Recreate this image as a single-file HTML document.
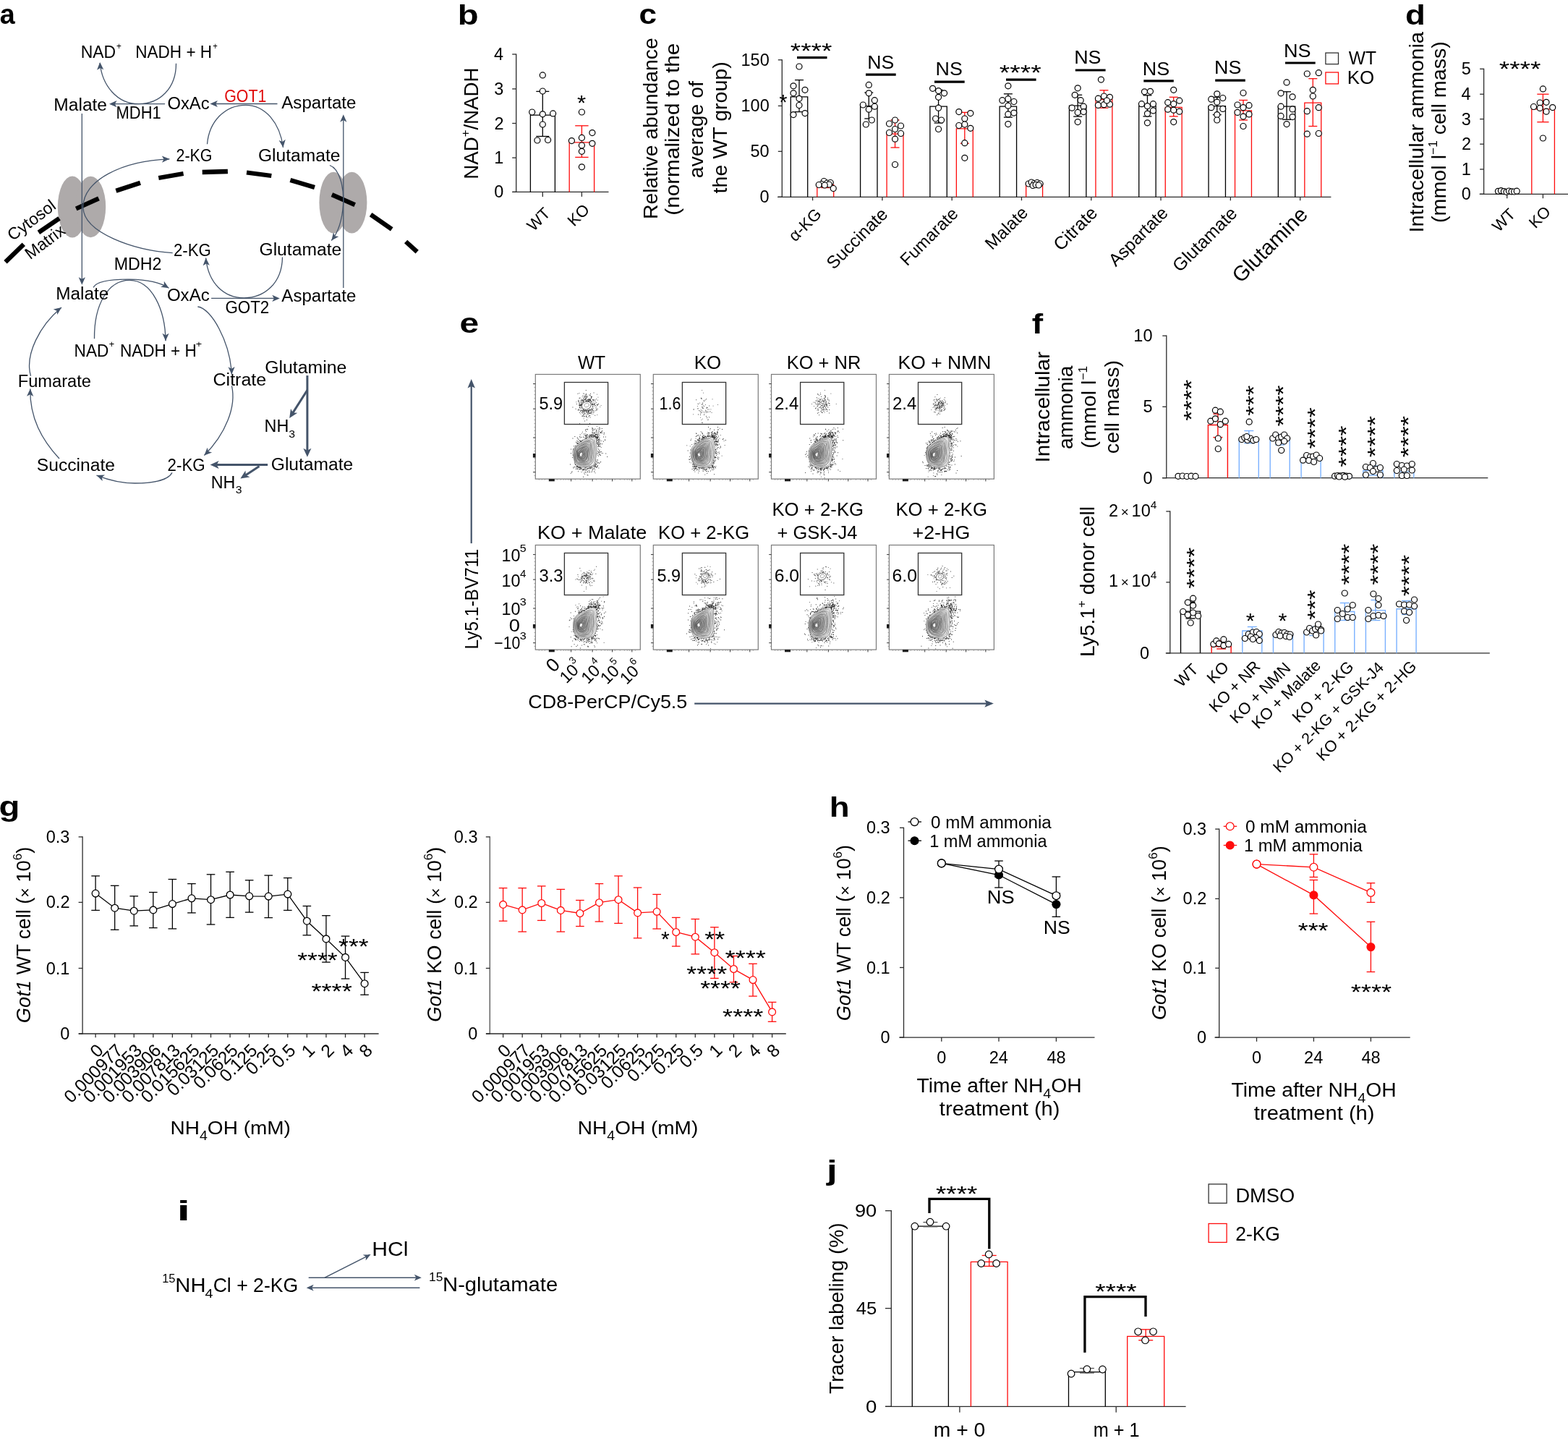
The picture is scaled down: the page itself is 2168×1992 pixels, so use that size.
<!DOCTYPE html>
<html><head><meta charset="utf-8"><title>Figure</title><style>html,body{margin:0;padding:0;background:#fff;}svg{display:block;}</style></head><body>
<svg width="2168" height="1992" viewBox="0 0 2168 1992" font-family='"Liberation Sans", Arial, Helvetica, sans-serif'>
<rect width="2168" height="1992" fill="#fff"/>
<ellipse cx="100.0" cy="286" rx="20.2" ry="42.6" fill="#AEAAAA"/>
<ellipse cx="125.3" cy="286" rx="20.9" ry="42.3" fill="#AEAAAA"/>
<ellipse cx="461.1" cy="280.1" rx="19.7" ry="42.4" fill="#AEAAAA"/>
<ellipse cx="486.5" cy="280.1" rx="20.9" ry="42.4" fill="#AEAAAA"/>
<line x1="7.5" y1="362.3" x2="32.8" y2="337.7" stroke="#000" stroke-width="6.3" stroke-linecap="butt"/>
<line x1="53.4" y1="321.3" x2="82" y2="301.9" stroke="#000" stroke-width="6.3" stroke-linecap="butt"/>
<line x1="105.2" y1="288.5" x2="136.5" y2="274.3" stroke="#000" stroke-width="6.3" stroke-linecap="butt"/>
<line x1="160.4" y1="263.8" x2="194" y2="252.7" stroke="#000" stroke-width="6.3" stroke-linecap="butt"/>
<line x1="219.3" y1="246" x2="253.6" y2="240" stroke="#000" stroke-width="6.3" stroke-linecap="butt"/>
<line x1="279.7" y1="238" x2="314.9" y2="237" stroke="#000" stroke-width="6.3" stroke-linecap="butt"/>
<line x1="341" y1="238.5" x2="375.3" y2="243" stroke="#000" stroke-width="6.3" stroke-linecap="butt"/>
<line x1="401.4" y1="248.9" x2="435" y2="258.9" stroke="#000" stroke-width="6.3" stroke-linecap="butt"/>
<line x1="458.9" y1="269.1" x2="490.7" y2="283.2" stroke="#000" stroke-width="6.3" stroke-linecap="butt"/>
<line x1="512.6" y1="296.7" x2="541.7" y2="316.8" stroke="#000" stroke-width="6.3" stroke-linecap="butt"/>
<line x1="561.1" y1="334" x2="576.7" y2="348.1" stroke="#000" stroke-width="6.3" stroke-linecap="butt"/>
<path d="M243.5,87.7 C243.5,122 221,143.7 191.6,143.7 C162,143.7 141,118 138.2,87" fill="none" stroke="#44546A" stroke-width="1.3"/><polygon points="138.2,86 143.25,96.29 138.54,93.89 134.05,96.69" fill="#44546A"/>
<line x1="228.1" y1="143.7" x2="158.4" y2="143.7" stroke="#44546A" stroke-width="1.3" stroke-linecap="butt"/><polygon points="151,143.7 161.5,139.1 158.9,143.7 161.5,148.3" fill="#44546A"/>
<line x1="383.5" y1="143.5" x2="297.8" y2="143.5" stroke="#44546A" stroke-width="1.3" stroke-linecap="butt"/><polygon points="290.4,143.5 300.9,138.9 298.3,143.5 300.9,148.1" fill="#44546A"/>
<path d="M286.5,199.3 C289,168 311,145.3 339.6,145.3 C367,145.3 387,170 391.5,203.8" fill="none" stroke="#44546A" stroke-width="1.3"/><polygon points="391.5,203.8 385.62,193.96 390.51,195.96 394.74,192.81" fill="#44546A"/>
<line x1="113.3" y1="157.1" x2="113.3" y2="386.3" stroke="#44546A" stroke-width="1.3" stroke-linecap="butt"/><polygon points="113.3,393.7 108.7,383.2 113.3,385.8 117.9,383.2" fill="#44546A"/>
<line x1="474.8" y1="397.9" x2="474.8" y2="165.6" stroke="#44546A" stroke-width="1.3" stroke-linecap="butt"/><polygon points="474.8,158.2 479.4,168.7 474.8,166.1 470.2,168.7" fill="#44546A"/>
<path d="M238.7,349.6 C185,346 116,322 114.9,287 C114,250 168,222 234.4,219.8" fill="none" stroke="#44546A" stroke-width="1.3"/><polygon points="234.4,219.8 224.01,224.65 226.5,219.99 223.79,215.45" fill="#44546A"/>
<path d="M455.9,228.5 C469,233 476,258 474.5,283 C473,305 467,322 458.3,332.5" fill="none" stroke="#44546A" stroke-width="1.3"/><polygon points="458.3,332.5 460.99,321.36 463.08,326.21 468.32,326.92" fill="#44546A"/>
<path d="M129,397.4 C134,388 158,386 179,386.2 C201,386.5 221,390 233.5,398.2" fill="none" stroke="#44546A" stroke-width="1.3"/><polygon points="233.5,398.2 222.13,396.74 226.73,394.14 226.86,388.85" fill="#44546A"/>
<path d="M130.5,468.3 C130,420 150,387.4 179,387.4 C210,387.4 228.5,428 229,471.3" fill="none" stroke="#44546A" stroke-width="1.3"/><polygon points="229,471.3 224.4,460.8 229,463.4 233.6,460.8" fill="#44546A"/>
<path d="M390.5,355.4 C390,392 365,411.8 337.6,411.8 C310,411.8 288,392 284.6,356.5" fill="none" stroke="#44546A" stroke-width="1.3"/><polygon points="284.6,356.5 289.8,366.72 285.06,364.39 280.62,367.25" fill="#44546A"/>
<line x1="292.1" y1="412.4" x2="379.4" y2="412.4" stroke="#44546A" stroke-width="1.3" stroke-linecap="butt"/><polygon points="386.8,412.4 376.3,417 378.9,412.4 376.3,407.8" fill="#44546A"/>
<path d="M273.4,424 C292,426 318,472 320.4,517.6" fill="none" stroke="#44546A" stroke-width="1.3"/><polygon points="320.4,517.6 315.47,507.25 320.15,509.7 324.66,506.96" fill="#44546A"/>
<path d="M320.4,533.3 C327,562 312,600 282.4,629.5" fill="none" stroke="#44546A" stroke-width="1.3"/><polygon points="282.4,629.5 286.62,618.84 288.01,623.94 293.1,625.38" fill="#44546A"/>
<path d="M238,653.4 C232,665 207,668 186.5,668 C166,668 146,662 133.5,657.1" fill="none" stroke="#44546A" stroke-width="1.3"/><polygon points="133.5,657.1 144.94,656.44 140.91,659.85 141.74,665.07" fill="#44546A"/>
<path d="M82,634 C58,608 41,578 41.8,537.4" fill="none" stroke="#44546A" stroke-width="1.3"/><polygon points="41.8,537.4 46.26,547.96 41.69,545.3 37.06,547.84" fill="#44546A"/>
<path d="M42.5,519.8 C34,490 55,450 85,425" fill="none" stroke="#44546A" stroke-width="1.3"/><polygon points="85,425 79.21,434.9 78.61,429.65 73.8,427.46" fill="#44546A"/>
<line x1="424.9" y1="519.1" x2="424.9" y2="623.2" stroke="#44546A" stroke-width="3" stroke-linecap="butt"/><polygon points="424.9,631.7 419.4,619.7 424.9,622.7 430.4,619.7" fill="#44546A"/>
<line x1="424.9" y1="539.2" x2="404.76" y2="570.83" stroke="#44546A" stroke-width="3" stroke-linecap="butt"/><polygon points="400.2,578 402,564.92 405.03,570.41 411.28,570.83" fill="#44546A"/>
<line x1="370.1" y1="642.5" x2="299.1" y2="642.5" stroke="#44546A" stroke-width="3" stroke-linecap="butt"/><polygon points="290.6,642.5 302.6,637 299.6,642.5 302.6,648" fill="#44546A"/>
<line x1="358.5" y1="644.4" x2="339.5" y2="656.92" stroke="#44546A" stroke-width="3" stroke-linecap="butt"/><polygon points="332.4,661.6 339.39,650.4 339.91,656.65 345.45,659.59" fill="#44546A"/>
<text x="111.77" y="80.4" font-size="23" fill="#000" textLength="48.4" lengthAdjust="spacingAndGlyphs">NAD</text>
<text x="160.91" y="67.8" font-size="13.5" fill="#000" textLength="6.86" lengthAdjust="spacingAndGlyphs">+</text>
<text x="187.3" y="80.3" font-size="23" fill="#000" textLength="105.81" lengthAdjust="spacingAndGlyphs">NADH + H</text>
<text x="294.34" y="67.6" font-size="13.5" fill="#000" textLength="6.5" lengthAdjust="spacingAndGlyphs">+</text>
<text x="74.34" y="152.6" font-size="23" fill="#000" textLength="73.71" lengthAdjust="spacingAndGlyphs">Malate</text>
<text x="160.55" y="164" font-size="23" fill="#000" textLength="62.12" lengthAdjust="spacingAndGlyphs">MDH1</text>
<text x="231.43" y="150.6" font-size="23" fill="#000" textLength="58.16" lengthAdjust="spacingAndGlyphs">OxAc</text>
<text x="310.23" y="141.1" font-size="23" fill="#E00A0A" textLength="58.19" lengthAdjust="spacingAndGlyphs">GOT1</text>
<text x="389.28" y="150.3" font-size="23" fill="#000" textLength="103.21" lengthAdjust="spacingAndGlyphs">Aspartate</text>
<text x="243.53" y="223.3" font-size="23" fill="#000" textLength="49.95" lengthAdjust="spacingAndGlyphs">2-KG</text>
<text x="356.97" y="222.8" font-size="23" fill="#000" textLength="113.52" lengthAdjust="spacingAndGlyphs">Glutamate</text>
<text x="239.89" y="354.1" font-size="23" fill="#000" textLength="51.96" lengthAdjust="spacingAndGlyphs">2-KG</text>
<text x="358.47" y="353" font-size="23" fill="#000" textLength="113.72" lengthAdjust="spacingAndGlyphs">Glutamate</text>
<text x="157.74" y="372.8" font-size="23" fill="#000" textLength="65.8" lengthAdjust="spacingAndGlyphs">MDH2</text>
<text x="77.15" y="413.8" font-size="23" fill="#000" textLength="73.18" lengthAdjust="spacingAndGlyphs">Malate</text>
<text x="230.92" y="416" font-size="23" fill="#000" textLength="58.78" lengthAdjust="spacingAndGlyphs">OxAc</text>
<text x="389.38" y="416.5" font-size="23" fill="#000" textLength="102.91" lengthAdjust="spacingAndGlyphs">Aspartate</text>
<text x="311.38" y="433" font-size="23" fill="#000" textLength="60.9" lengthAdjust="spacingAndGlyphs">GOT2</text>
<text x="102.59" y="492.9" font-size="23" fill="#000" textLength="47.65" lengthAdjust="spacingAndGlyphs">NAD</text>
<text x="150.76" y="480" font-size="13.5" fill="#000" textLength="7.47" lengthAdjust="spacingAndGlyphs">+</text>
<text x="166" y="492.9" font-size="23" fill="#000" textLength="105.81" lengthAdjust="spacingAndGlyphs">NADH + H</text>
<text x="270.78" y="480" font-size="13.5" fill="#000" textLength="8.43" lengthAdjust="spacingAndGlyphs">+</text>
<text x="366.16" y="515.7" font-size="23" fill="#000" textLength="113.12" lengthAdjust="spacingAndGlyphs">Glutamine</text>
<text x="24.71" y="534.8" font-size="23" fill="#000" textLength="101.34" lengthAdjust="spacingAndGlyphs">Fumarate</text>
<text x="294.55" y="533.3" font-size="23" fill="#000" textLength="73.68" lengthAdjust="spacingAndGlyphs">Citrate</text>
<text x="365.53" y="596.7" font-size="23" fill="#000" textLength="33.74" lengthAdjust="spacingAndGlyphs">NH</text>
<text x="399.37" y="604.9" font-size="15" fill="#000" textLength="8.76" lengthAdjust="spacingAndGlyphs">3</text>
<text x="50.79" y="650.8" font-size="23" fill="#000" textLength="108.16" lengthAdjust="spacingAndGlyphs">Succinate</text>
<text x="231.58" y="650.8" font-size="23" fill="#000" textLength="52.07" lengthAdjust="spacingAndGlyphs">2-KG</text>
<text x="374.77" y="650.4" font-size="23" fill="#000" textLength="113.42" lengthAdjust="spacingAndGlyphs">Glutamate</text>
<text x="291.74" y="675" font-size="23" fill="#000" textLength="33.63" lengthAdjust="spacingAndGlyphs">NH</text>
<text x="325.77" y="682.4" font-size="15" fill="#000" textLength="8.76" lengthAdjust="spacingAndGlyphs">3</text>
<text transform="translate(17.62 333.67) rotate(-37)" x="0" y="0" font-size="23" fill="#000" textLength="76.69" lengthAdjust="spacingAndGlyphs">Cytosol</text>
<text transform="translate(41.82 359.38) rotate(-37)" x="0" y="0" font-size="23" fill="#000" textLength="62.61" lengthAdjust="spacingAndGlyphs">Matrix</text>
<line x1="713.7" y1="74.4" x2="713.7" y2="266" stroke="#2b2b2b" stroke-width="1.3" stroke-linecap="butt"/>
<line x1="708.2" y1="75" x2="713.7" y2="75" stroke="#2b2b2b" stroke-width="1.3" stroke-linecap="butt"/>
<text x="682.96" y="83.08" font-size="23.5" fill="#000" textLength="13.07" lengthAdjust="spacingAndGlyphs">4</text>
<line x1="708.2" y1="122.9" x2="713.7" y2="122.9" stroke="#2b2b2b" stroke-width="1.3" stroke-linecap="butt"/>
<text x="683.31" y="130.98" font-size="23.5" fill="#000" textLength="13.07" lengthAdjust="spacingAndGlyphs">3</text>
<line x1="708.2" y1="170.5" x2="713.7" y2="170.5" stroke="#2b2b2b" stroke-width="1.3" stroke-linecap="butt"/>
<text x="683.43" y="178.58" font-size="23.5" fill="#000" textLength="13.07" lengthAdjust="spacingAndGlyphs">2</text>
<line x1="708.2" y1="218.1" x2="713.7" y2="218.1" stroke="#2b2b2b" stroke-width="1.3" stroke-linecap="butt"/>
<text x="683.31" y="226.18" font-size="23.5" fill="#000" textLength="13.07" lengthAdjust="spacingAndGlyphs">1</text>
<line x1="708.2" y1="265.4" x2="713.7" y2="265.4" stroke="#2b2b2b" stroke-width="1.3" stroke-linecap="butt"/>
<text x="683.2" y="273.48" font-size="23.5" fill="#000" textLength="13.07" lengthAdjust="spacingAndGlyphs">0</text>
<line x1="708.5" y1="265.4" x2="841.5" y2="265.4" stroke="#2b2b2b" stroke-width="1.3" stroke-linecap="butt"/>
<line x1="750.3" y1="265.4" x2="750.3" y2="271.9" stroke="#2b2b2b" stroke-width="1.3" stroke-linecap="butt"/>
<line x1="804.4" y1="265.4" x2="804.4" y2="271.9" stroke="#2b2b2b" stroke-width="1.3" stroke-linecap="butt"/>
<path d="M733.4 265.4V159.1H767.4V265.4" fill="none" stroke="#000" stroke-width="1.3"/>
<path d="M787.2 265.4V196.8H821.6V265.4" fill="none" stroke="#FF0C0C" stroke-width="1.3"/>
<line x1="750.3" y1="126.4" x2="750.3" y2="188.5" stroke="#000" stroke-width="1.3" stroke-linecap="butt"/><line x1="741.3" y1="126.4" x2="759.3" y2="126.4" stroke="#000" stroke-width="1.3" stroke-linecap="butt"/><line x1="741.3" y1="188.5" x2="759.3" y2="188.5" stroke="#000" stroke-width="1.3" stroke-linecap="butt"/>
<line x1="804.4" y1="173.8" x2="804.4" y2="217.4" stroke="#FF0C0C" stroke-width="1.3" stroke-linecap="butt"/><line x1="795.2" y1="173.8" x2="813.6" y2="173.8" stroke="#FF0C0C" stroke-width="1.3" stroke-linecap="butt"/><line x1="795.2" y1="217.4" x2="813.6" y2="217.4" stroke="#FF0C0C" stroke-width="1.3" stroke-linecap="butt"/>
<circle cx="750.3" cy="103.9" r="4" fill="#fff" stroke="#000" stroke-width="1.2"/>
<circle cx="750.3" cy="126" r="4" fill="#fff" stroke="#000" stroke-width="1.2"/>
<circle cx="735.7" cy="155" r="4" fill="#fff" stroke="#000" stroke-width="1.2"/>
<circle cx="750.3" cy="157.8" r="4" fill="#fff" stroke="#000" stroke-width="1.2"/>
<circle cx="764.6" cy="156.9" r="4" fill="#fff" stroke="#000" stroke-width="1.2"/>
<circle cx="750.3" cy="172" r="4" fill="#fff" stroke="#000" stroke-width="1.2"/>
<circle cx="742.9" cy="194" r="4" fill="#fff" stroke="#000" stroke-width="1.2"/>
<circle cx="757.6" cy="193.5" r="4" fill="#fff" stroke="#000" stroke-width="1.2"/>
<circle cx="804.4" cy="155" r="4" fill="#fff" stroke="#000" stroke-width="1.2"/>
<circle cx="818.9" cy="183.6" r="4" fill="#fff" stroke="#000" stroke-width="1.2"/>
<circle cx="804.4" cy="190.4" r="4" fill="#fff" stroke="#000" stroke-width="1.2"/>
<circle cx="790.4" cy="194.6" r="4" fill="#fff" stroke="#000" stroke-width="1.2"/>
<circle cx="818.9" cy="198.3" r="4" fill="#fff" stroke="#000" stroke-width="1.2"/>
<circle cx="804.4" cy="201" r="4" fill="#fff" stroke="#000" stroke-width="1.2"/>
<circle cx="804.4" cy="209.3" r="4" fill="#fff" stroke="#000" stroke-width="1.2"/>
<circle cx="804.4" cy="230.8" r="4" fill="#fff" stroke="#000" stroke-width="1.2"/>
<text x="798.13" y="152.2" font-size="30" fill="#000" textLength="12.17" lengthAdjust="spacingAndGlyphs">*</text>
<text transform="translate(660.7 247.82) rotate(-90)" x="0" y="0" font-size="27" fill="#000" textLength="58.52" lengthAdjust="spacingAndGlyphs">NAD</text>
<text transform="translate(660.7 247.82) rotate(-90)" x="58.52" y="-11.34" font-size="16.2" fill="#000" textLength="9.71" lengthAdjust="spacingAndGlyphs">+</text>
<text transform="translate(660.7 247.82) rotate(-90)" x="68.23" y="0" font-size="27" fill="#000" textLength="86.24" lengthAdjust="spacingAndGlyphs">/NADH</text>
<text transform="translate(737.67 320.7) rotate(-45)" x="0" y="0" font-size="22.25" fill="#000" textLength="34.59" lengthAdjust="spacingAndGlyphs">WT</text>
<text transform="translate(793.83 314.07) rotate(-45)" x="0" y="0" font-size="22.25" fill="#000" textLength="32.15" lengthAdjust="spacingAndGlyphs">KO</text>
<line x1="1081.3" y1="82.2" x2="1081.3" y2="272.9" stroke="#2b2b2b" stroke-width="1.3" stroke-linecap="butt"/>
<line x1="1075.8" y1="82.8" x2="1081.3" y2="82.8" stroke="#2b2b2b" stroke-width="1.3" stroke-linecap="butt"/>
<text x="1024.51" y="90.88" font-size="23.5" fill="#000" textLength="39.21" lengthAdjust="spacingAndGlyphs">150</text>
<line x1="1075.8" y1="146.4" x2="1081.3" y2="146.4" stroke="#2b2b2b" stroke-width="1.3" stroke-linecap="butt"/>
<text x="1024.51" y="154.48" font-size="23.5" fill="#000" textLength="39.21" lengthAdjust="spacingAndGlyphs">100</text>
<line x1="1075.8" y1="209.3" x2="1081.3" y2="209.3" stroke="#2b2b2b" stroke-width="1.3" stroke-linecap="butt"/>
<text x="1037.56" y="217.38" font-size="23.5" fill="#000" textLength="26.14" lengthAdjust="spacingAndGlyphs">50</text>
<line x1="1075.8" y1="272.3" x2="1081.3" y2="272.3" stroke="#2b2b2b" stroke-width="1.3" stroke-linecap="butt"/>
<text x="1050.6" y="280.38" font-size="23.5" fill="#000" textLength="13.07" lengthAdjust="spacingAndGlyphs">0</text>
<line x1="1075.1" y1="272.3" x2="1840.4" y2="272.3" stroke="#2b2b2b" stroke-width="1.3" stroke-linecap="butt"/>
<line x1="1123.6" y1="272.3" x2="1123.6" y2="277.2" stroke="#2b2b2b" stroke-width="1.3" stroke-linecap="butt"/>
<path d="M1093.3 272.3V133.8H1116.7V272.3" fill="none" stroke="#000" stroke-width="1.3"/>
<path d="M1129.8 272.3V255.3H1152.7V272.3" fill="none" stroke="#FF0C0C" stroke-width="1.3"/>
<line x1="1105" y1="110.6" x2="1105" y2="154.6" stroke="#000" stroke-width="1.3" stroke-linecap="butt"/><line x1="1099" y1="110.6" x2="1111" y2="110.6" stroke="#000" stroke-width="1.3" stroke-linecap="butt"/><line x1="1099" y1="154.6" x2="1111" y2="154.6" stroke="#000" stroke-width="1.3" stroke-linecap="butt"/>
<line x1="1141.25" y1="251" x2="1141.25" y2="259.5" stroke="#FF0C0C" stroke-width="1.3" stroke-linecap="butt"/><line x1="1135.25" y1="251" x2="1147.25" y2="251" stroke="#FF0C0C" stroke-width="1.3" stroke-linecap="butt"/><line x1="1135.25" y1="259.5" x2="1147.25" y2="259.5" stroke="#FF0C0C" stroke-width="1.3" stroke-linecap="butt"/>
<circle cx="1105" cy="92" r="4" fill="#fff" stroke="#000" stroke-width="1.2"/>
<circle cx="1097" cy="118.8" r="4" fill="#fff" stroke="#000" stroke-width="1.2"/>
<circle cx="1113" cy="124.3" r="4" fill="#fff" stroke="#000" stroke-width="1.2"/>
<circle cx="1097" cy="128.8" r="4" fill="#fff" stroke="#000" stroke-width="1.2"/>
<circle cx="1105" cy="136.3" r="4" fill="#fff" stroke="#000" stroke-width="1.2"/>
<circle cx="1105" cy="145.5" r="4" fill="#fff" stroke="#000" stroke-width="1.2"/>
<circle cx="1097" cy="158.6" r="4" fill="#fff" stroke="#000" stroke-width="1.2"/>
<circle cx="1113" cy="156.6" r="4" fill="#fff" stroke="#000" stroke-width="1.2"/>
<circle cx="1139.25" cy="250.5" r="4" fill="#fff" stroke="#000" stroke-width="1.2"/>
<circle cx="1136.25" cy="254.5" r="4" fill="#fff" stroke="#000" stroke-width="1.2"/>
<circle cx="1143.75" cy="253" r="4" fill="#fff" stroke="#000" stroke-width="1.2"/>
<circle cx="1148.25" cy="252.5" r="4" fill="#fff" stroke="#000" stroke-width="1.2"/>
<circle cx="1132.25" cy="255.5" r="4" fill="#fff" stroke="#000" stroke-width="1.2"/>
<circle cx="1152.25" cy="260.5" r="4" fill="#fff" stroke="#000" stroke-width="1.2"/>
<circle cx="1146.25" cy="255" r="4" fill="#fff" stroke="#000" stroke-width="1.2"/>
<circle cx="1140.25" cy="256" r="4" fill="#fff" stroke="#000" stroke-width="1.2"/>
<line x1="1219.89" y1="272.3" x2="1219.89" y2="277.2" stroke="#2b2b2b" stroke-width="1.3" stroke-linecap="butt"/>
<path d="M1189.59 272.3V146.7H1212.99V272.3" fill="none" stroke="#000" stroke-width="1.3"/>
<path d="M1226.09 272.3V185.2H1248.99V272.3" fill="none" stroke="#FF0C0C" stroke-width="1.3"/>
<line x1="1201.29" y1="128" x2="1201.29" y2="164" stroke="#000" stroke-width="1.3" stroke-linecap="butt"/><line x1="1195.29" y1="128" x2="1207.29" y2="128" stroke="#000" stroke-width="1.3" stroke-linecap="butt"/><line x1="1195.29" y1="164" x2="1207.29" y2="164" stroke="#000" stroke-width="1.3" stroke-linecap="butt"/>
<line x1="1237.54" y1="166" x2="1237.54" y2="204" stroke="#FF0C0C" stroke-width="1.3" stroke-linecap="butt"/><line x1="1231.54" y1="166" x2="1243.54" y2="166" stroke="#FF0C0C" stroke-width="1.3" stroke-linecap="butt"/><line x1="1231.54" y1="204" x2="1243.54" y2="204" stroke="#FF0C0C" stroke-width="1.3" stroke-linecap="butt"/>
<circle cx="1201.29" cy="117.4" r="4" fill="#fff" stroke="#000" stroke-width="1.2"/>
<circle cx="1201.29" cy="128.8" r="4" fill="#fff" stroke="#000" stroke-width="1.2"/>
<circle cx="1209.29" cy="138.7" r="4" fill="#fff" stroke="#000" stroke-width="1.2"/>
<circle cx="1193.29" cy="145" r="4" fill="#fff" stroke="#000" stroke-width="1.2"/>
<circle cx="1209.29" cy="147.2" r="4" fill="#fff" stroke="#000" stroke-width="1.2"/>
<circle cx="1201.29" cy="151.2" r="4" fill="#fff" stroke="#000" stroke-width="1.2"/>
<circle cx="1205.29" cy="166" r="4" fill="#fff" stroke="#000" stroke-width="1.2"/>
<circle cx="1197.29" cy="172" r="4" fill="#fff" stroke="#000" stroke-width="1.2"/>
<circle cx="1237.54" cy="166" r="4" fill="#fff" stroke="#000" stroke-width="1.2"/>
<circle cx="1229.54" cy="171" r="4" fill="#fff" stroke="#000" stroke-width="1.2"/>
<circle cx="1245.54" cy="174" r="4" fill="#fff" stroke="#000" stroke-width="1.2"/>
<circle cx="1237.54" cy="178.5" r="4" fill="#fff" stroke="#000" stroke-width="1.2"/>
<circle cx="1229.54" cy="183.5" r="4" fill="#fff" stroke="#000" stroke-width="1.2"/>
<circle cx="1245.54" cy="184.5" r="4" fill="#fff" stroke="#000" stroke-width="1.2"/>
<circle cx="1237.54" cy="192.2" r="4" fill="#fff" stroke="#000" stroke-width="1.2"/>
<circle cx="1237.54" cy="227.5" r="4" fill="#fff" stroke="#000" stroke-width="1.2"/>
<line x1="1316.18" y1="272.3" x2="1316.18" y2="277.2" stroke="#2b2b2b" stroke-width="1.3" stroke-linecap="butt"/>
<path d="M1285.88 272.3V147.2H1309.28V272.3" fill="none" stroke="#000" stroke-width="1.3"/>
<path d="M1322.38 272.3V177.8H1345.28V272.3" fill="none" stroke="#FF0C0C" stroke-width="1.3"/>
<line x1="1297.58" y1="124.3" x2="1297.58" y2="170" stroke="#000" stroke-width="1.3" stroke-linecap="butt"/><line x1="1291.58" y1="124.3" x2="1303.58" y2="124.3" stroke="#000" stroke-width="1.3" stroke-linecap="butt"/><line x1="1291.58" y1="170" x2="1303.58" y2="170" stroke="#000" stroke-width="1.3" stroke-linecap="butt"/>
<line x1="1333.83" y1="155.4" x2="1333.83" y2="198.2" stroke="#FF0C0C" stroke-width="1.3" stroke-linecap="butt"/><line x1="1327.83" y1="155.4" x2="1339.83" y2="155.4" stroke="#FF0C0C" stroke-width="1.3" stroke-linecap="butt"/><line x1="1327.83" y1="198.2" x2="1339.83" y2="198.2" stroke="#FF0C0C" stroke-width="1.3" stroke-linecap="butt"/>
<circle cx="1289.58" cy="122.3" r="4" fill="#fff" stroke="#000" stroke-width="1.2"/>
<circle cx="1297.58" cy="125.6" r="4" fill="#fff" stroke="#000" stroke-width="1.2"/>
<circle cx="1305.58" cy="128.8" r="4" fill="#fff" stroke="#000" stroke-width="1.2"/>
<circle cx="1297.58" cy="134.3" r="4" fill="#fff" stroke="#000" stroke-width="1.2"/>
<circle cx="1297.58" cy="149.2" r="4" fill="#fff" stroke="#000" stroke-width="1.2"/>
<circle cx="1293.58" cy="164" r="4" fill="#fff" stroke="#000" stroke-width="1.2"/>
<circle cx="1301.58" cy="166" r="4" fill="#fff" stroke="#000" stroke-width="1.2"/>
<circle cx="1297.58" cy="178.5" r="4" fill="#fff" stroke="#000" stroke-width="1.2"/>
<circle cx="1325.83" cy="154.6" r="4" fill="#fff" stroke="#000" stroke-width="1.2"/>
<circle cx="1341.83" cy="156.6" r="4" fill="#fff" stroke="#000" stroke-width="1.2"/>
<circle cx="1333.83" cy="164" r="4" fill="#fff" stroke="#000" stroke-width="1.2"/>
<circle cx="1325.83" cy="173.5" r="4" fill="#fff" stroke="#000" stroke-width="1.2"/>
<circle cx="1333.83" cy="172" r="4" fill="#fff" stroke="#000" stroke-width="1.2"/>
<circle cx="1341.83" cy="177.3" r="4" fill="#fff" stroke="#000" stroke-width="1.2"/>
<circle cx="1333.83" cy="197.7" r="4" fill="#fff" stroke="#000" stroke-width="1.2"/>
<circle cx="1333.83" cy="218.3" r="4" fill="#fff" stroke="#000" stroke-width="1.2"/>
<line x1="1412.47" y1="272.3" x2="1412.47" y2="277.2" stroke="#2b2b2b" stroke-width="1.3" stroke-linecap="butt"/>
<path d="M1382.17 272.3V147.2H1405.57V272.3" fill="none" stroke="#000" stroke-width="1.3"/>
<path d="M1418.67 272.3V254.1H1441.57V272.3" fill="none" stroke="#FF0C0C" stroke-width="1.3"/>
<line x1="1393.87" y1="129.8" x2="1393.87" y2="162.1" stroke="#000" stroke-width="1.3" stroke-linecap="butt"/><line x1="1387.87" y1="129.8" x2="1399.87" y2="129.8" stroke="#000" stroke-width="1.3" stroke-linecap="butt"/><line x1="1387.87" y1="162.1" x2="1399.87" y2="162.1" stroke="#000" stroke-width="1.3" stroke-linecap="butt"/>
<line x1="1430.12" y1="251.5" x2="1430.12" y2="256.5" stroke="#FF0C0C" stroke-width="1.3" stroke-linecap="butt"/><line x1="1424.12" y1="251.5" x2="1436.12" y2="251.5" stroke="#FF0C0C" stroke-width="1.3" stroke-linecap="butt"/><line x1="1424.12" y1="256.5" x2="1436.12" y2="256.5" stroke="#FF0C0C" stroke-width="1.3" stroke-linecap="butt"/>
<circle cx="1393.87" cy="118.8" r="4" fill="#fff" stroke="#000" stroke-width="1.2"/>
<circle cx="1385.87" cy="138.7" r="4" fill="#fff" stroke="#000" stroke-width="1.2"/>
<circle cx="1393.87" cy="136.7" r="4" fill="#fff" stroke="#000" stroke-width="1.2"/>
<circle cx="1401.87" cy="140.5" r="4" fill="#fff" stroke="#000" stroke-width="1.2"/>
<circle cx="1393.87" cy="146.2" r="4" fill="#fff" stroke="#000" stroke-width="1.2"/>
<circle cx="1393.87" cy="157.9" r="4" fill="#fff" stroke="#000" stroke-width="1.2"/>
<circle cx="1401.87" cy="156.1" r="4" fill="#fff" stroke="#000" stroke-width="1.2"/>
<circle cx="1393.87" cy="171.6" r="4" fill="#fff" stroke="#000" stroke-width="1.2"/>
<circle cx="1422.12" cy="254" r="4" fill="#fff" stroke="#000" stroke-width="1.2"/>
<circle cx="1426.12" cy="252" r="4" fill="#fff" stroke="#000" stroke-width="1.2"/>
<circle cx="1430.12" cy="253.5" r="4" fill="#fff" stroke="#000" stroke-width="1.2"/>
<circle cx="1434.12" cy="252.5" r="4" fill="#fff" stroke="#000" stroke-width="1.2"/>
<circle cx="1438.12" cy="254" r="4" fill="#fff" stroke="#000" stroke-width="1.2"/>
<circle cx="1428.12" cy="256.5" r="4" fill="#fff" stroke="#000" stroke-width="1.2"/>
<circle cx="1432.12" cy="255.5" r="4" fill="#fff" stroke="#000" stroke-width="1.2"/>
<circle cx="1436.12" cy="256" r="4" fill="#fff" stroke="#000" stroke-width="1.2"/>
<line x1="1508.76" y1="272.3" x2="1508.76" y2="277.2" stroke="#2b2b2b" stroke-width="1.3" stroke-linecap="butt"/>
<path d="M1478.46 272.3V146.2H1501.86V272.3" fill="none" stroke="#000" stroke-width="1.3"/>
<path d="M1514.96 272.3V137.5H1537.86V272.3" fill="none" stroke="#FF0C0C" stroke-width="1.3"/>
<line x1="1490.16" y1="131.3" x2="1490.16" y2="161.1" stroke="#000" stroke-width="1.3" stroke-linecap="butt"/><line x1="1484.16" y1="131.3" x2="1496.16" y2="131.3" stroke="#000" stroke-width="1.3" stroke-linecap="butt"/><line x1="1484.16" y1="161.1" x2="1496.16" y2="161.1" stroke="#000" stroke-width="1.3" stroke-linecap="butt"/>
<line x1="1526.41" y1="124.8" x2="1526.41" y2="149.2" stroke="#FF0C0C" stroke-width="1.3" stroke-linecap="butt"/><line x1="1520.41" y1="124.8" x2="1532.41" y2="124.8" stroke="#FF0C0C" stroke-width="1.3" stroke-linecap="butt"/><line x1="1520.41" y1="149.2" x2="1532.41" y2="149.2" stroke="#FF0C0C" stroke-width="1.3" stroke-linecap="butt"/>
<circle cx="1490.16" cy="121.8" r="4" fill="#fff" stroke="#000" stroke-width="1.2"/>
<circle cx="1486.16" cy="131.3" r="4" fill="#fff" stroke="#000" stroke-width="1.2"/>
<circle cx="1494.16" cy="138.7" r="4" fill="#fff" stroke="#000" stroke-width="1.2"/>
<circle cx="1482.16" cy="149.2" r="4" fill="#fff" stroke="#000" stroke-width="1.2"/>
<circle cx="1498.16" cy="147.2" r="4" fill="#fff" stroke="#000" stroke-width="1.2"/>
<circle cx="1490.16" cy="155.4" r="4" fill="#fff" stroke="#000" stroke-width="1.2"/>
<circle cx="1498.16" cy="154.6" r="4" fill="#fff" stroke="#000" stroke-width="1.2"/>
<circle cx="1490.16" cy="168.6" r="4" fill="#fff" stroke="#000" stroke-width="1.2"/>
<circle cx="1522.41" cy="110.1" r="4" fill="#fff" stroke="#000" stroke-width="1.2"/>
<circle cx="1518.41" cy="136.2" r="4" fill="#fff" stroke="#000" stroke-width="1.2"/>
<circle cx="1526.41" cy="133" r="4" fill="#fff" stroke="#000" stroke-width="1.2"/>
<circle cx="1534.41" cy="134.3" r="4" fill="#fff" stroke="#000" stroke-width="1.2"/>
<circle cx="1518.41" cy="145.4" r="4" fill="#fff" stroke="#000" stroke-width="1.2"/>
<circle cx="1526.41" cy="144.7" r="4" fill="#fff" stroke="#000" stroke-width="1.2"/>
<circle cx="1534.41" cy="144.2" r="4" fill="#fff" stroke="#000" stroke-width="1.2"/>
<circle cx="1530.41" cy="139" r="4" fill="#fff" stroke="#000" stroke-width="1.2"/>
<line x1="1605.05" y1="272.3" x2="1605.05" y2="277.2" stroke="#2b2b2b" stroke-width="1.3" stroke-linecap="butt"/>
<path d="M1574.75 272.3V146.7H1598.15V272.3" fill="none" stroke="#000" stroke-width="1.3"/>
<path d="M1611.25 272.3V148.4H1634.15V272.3" fill="none" stroke="#FF0C0C" stroke-width="1.3"/>
<line x1="1586.45" y1="131.8" x2="1586.45" y2="160.9" stroke="#000" stroke-width="1.3" stroke-linecap="butt"/><line x1="1580.45" y1="131.8" x2="1592.45" y2="131.8" stroke="#000" stroke-width="1.3" stroke-linecap="butt"/><line x1="1580.45" y1="160.9" x2="1592.45" y2="160.9" stroke="#000" stroke-width="1.3" stroke-linecap="butt"/>
<line x1="1622.7" y1="134.3" x2="1622.7" y2="160.9" stroke="#FF0C0C" stroke-width="1.3" stroke-linecap="butt"/><line x1="1616.7" y1="134.3" x2="1628.7" y2="134.3" stroke="#FF0C0C" stroke-width="1.3" stroke-linecap="butt"/><line x1="1616.7" y1="160.9" x2="1628.7" y2="160.9" stroke="#FF0C0C" stroke-width="1.3" stroke-linecap="butt"/>
<circle cx="1582.45" cy="126.8" r="4" fill="#fff" stroke="#000" stroke-width="1.2"/>
<circle cx="1590.45" cy="126.3" r="4" fill="#fff" stroke="#000" stroke-width="1.2"/>
<circle cx="1578.45" cy="143.7" r="4" fill="#fff" stroke="#000" stroke-width="1.2"/>
<circle cx="1594.45" cy="143.7" r="4" fill="#fff" stroke="#000" stroke-width="1.2"/>
<circle cx="1586.45" cy="146.7" r="4" fill="#fff" stroke="#000" stroke-width="1.2"/>
<circle cx="1594.45" cy="152.9" r="4" fill="#fff" stroke="#000" stroke-width="1.2"/>
<circle cx="1586.45" cy="157.1" r="4" fill="#fff" stroke="#000" stroke-width="1.2"/>
<circle cx="1586.45" cy="169.8" r="4" fill="#fff" stroke="#000" stroke-width="1.2"/>
<circle cx="1622.7" cy="124.3" r="4" fill="#fff" stroke="#000" stroke-width="1.2"/>
<circle cx="1614.7" cy="141.7" r="4" fill="#fff" stroke="#000" stroke-width="1.2"/>
<circle cx="1630.7" cy="139.2" r="4" fill="#fff" stroke="#000" stroke-width="1.2"/>
<circle cx="1622.7" cy="143.7" r="4" fill="#fff" stroke="#000" stroke-width="1.2"/>
<circle cx="1614.7" cy="151.2" r="4" fill="#fff" stroke="#000" stroke-width="1.2"/>
<circle cx="1622.7" cy="152.2" r="4" fill="#fff" stroke="#000" stroke-width="1.2"/>
<circle cx="1630.7" cy="154.2" r="4" fill="#fff" stroke="#000" stroke-width="1.2"/>
<circle cx="1622.7" cy="168.6" r="4" fill="#fff" stroke="#000" stroke-width="1.2"/>
<line x1="1701.34" y1="272.3" x2="1701.34" y2="277.2" stroke="#2b2b2b" stroke-width="1.3" stroke-linecap="butt"/>
<path d="M1671.04 272.3V146.7H1694.44V272.3" fill="none" stroke="#000" stroke-width="1.3"/>
<path d="M1707.54 272.3V152.9H1730.44V272.3" fill="none" stroke="#FF0C0C" stroke-width="1.3"/>
<line x1="1682.74" y1="134.3" x2="1682.74" y2="158.6" stroke="#000" stroke-width="1.3" stroke-linecap="butt"/><line x1="1676.74" y1="134.3" x2="1688.74" y2="134.3" stroke="#000" stroke-width="1.3" stroke-linecap="butt"/><line x1="1676.74" y1="158.6" x2="1688.74" y2="158.6" stroke="#000" stroke-width="1.3" stroke-linecap="butt"/>
<line x1="1718.99" y1="138.5" x2="1718.99" y2="166" stroke="#FF0C0C" stroke-width="1.3" stroke-linecap="butt"/><line x1="1712.99" y1="138.5" x2="1724.99" y2="138.5" stroke="#FF0C0C" stroke-width="1.3" stroke-linecap="butt"/><line x1="1712.99" y1="166" x2="1724.99" y2="166" stroke="#FF0C0C" stroke-width="1.3" stroke-linecap="butt"/>
<circle cx="1682.74" cy="129.8" r="4" fill="#fff" stroke="#000" stroke-width="1.2"/>
<circle cx="1674.74" cy="137.2" r="4" fill="#fff" stroke="#000" stroke-width="1.2"/>
<circle cx="1690.74" cy="135.5" r="4" fill="#fff" stroke="#000" stroke-width="1.2"/>
<circle cx="1682.74" cy="141.2" r="4" fill="#fff" stroke="#000" stroke-width="1.2"/>
<circle cx="1674.74" cy="148.7" r="4" fill="#fff" stroke="#000" stroke-width="1.2"/>
<circle cx="1690.74" cy="150.4" r="4" fill="#fff" stroke="#000" stroke-width="1.2"/>
<circle cx="1682.74" cy="158.6" r="4" fill="#fff" stroke="#000" stroke-width="1.2"/>
<circle cx="1682.74" cy="166" r="4" fill="#fff" stroke="#000" stroke-width="1.2"/>
<circle cx="1718.99" cy="128.5" r="4" fill="#fff" stroke="#000" stroke-width="1.2"/>
<circle cx="1710.99" cy="145" r="4" fill="#fff" stroke="#000" stroke-width="1.2"/>
<circle cx="1726.99" cy="145.7" r="4" fill="#fff" stroke="#000" stroke-width="1.2"/>
<circle cx="1718.99" cy="148.7" r="4" fill="#fff" stroke="#000" stroke-width="1.2"/>
<circle cx="1710.99" cy="155.4" r="4" fill="#fff" stroke="#000" stroke-width="1.2"/>
<circle cx="1726.99" cy="157.9" r="4" fill="#fff" stroke="#000" stroke-width="1.2"/>
<circle cx="1718.99" cy="161.1" r="4" fill="#fff" stroke="#000" stroke-width="1.2"/>
<circle cx="1718.99" cy="174.5" r="4" fill="#fff" stroke="#000" stroke-width="1.2"/>
<line x1="1797.63" y1="272.3" x2="1797.63" y2="277.2" stroke="#2b2b2b" stroke-width="1.3" stroke-linecap="butt"/>
<path d="M1767.33 272.3V147.2H1790.73V272.3" fill="none" stroke="#000" stroke-width="1.3"/>
<path d="M1803.83 272.3V142.2H1826.73V272.3" fill="none" stroke="#FF0C0C" stroke-width="1.3"/>
<line x1="1779.03" y1="126.8" x2="1779.03" y2="165.3" stroke="#000" stroke-width="1.3" stroke-linecap="butt"/><line x1="1773.03" y1="126.8" x2="1785.03" y2="126.8" stroke="#000" stroke-width="1.3" stroke-linecap="butt"/><line x1="1773.03" y1="165.3" x2="1785.03" y2="165.3" stroke="#000" stroke-width="1.3" stroke-linecap="butt"/>
<line x1="1815.28" y1="108.7" x2="1815.28" y2="174.5" stroke="#FF0C0C" stroke-width="1.3" stroke-linecap="butt"/><line x1="1809.28" y1="108.7" x2="1821.28" y2="108.7" stroke="#FF0C0C" stroke-width="1.3" stroke-linecap="butt"/><line x1="1809.28" y1="174.5" x2="1821.28" y2="174.5" stroke="#FF0C0C" stroke-width="1.3" stroke-linecap="butt"/>
<circle cx="1779.03" cy="113.9" r="4" fill="#fff" stroke="#000" stroke-width="1.2"/>
<circle cx="1771.03" cy="128.8" r="4" fill="#fff" stroke="#000" stroke-width="1.2"/>
<circle cx="1787.03" cy="133.8" r="4" fill="#fff" stroke="#000" stroke-width="1.2"/>
<circle cx="1771.03" cy="147.2" r="4" fill="#fff" stroke="#000" stroke-width="1.2"/>
<circle cx="1787.03" cy="150.9" r="4" fill="#fff" stroke="#000" stroke-width="1.2"/>
<circle cx="1771.03" cy="160.4" r="4" fill="#fff" stroke="#000" stroke-width="1.2"/>
<circle cx="1787.03" cy="161.6" r="4" fill="#fff" stroke="#000" stroke-width="1.2"/>
<circle cx="1779.03" cy="171.6" r="4" fill="#fff" stroke="#000" stroke-width="1.2"/>
<circle cx="1807.28" cy="102" r="4" fill="#fff" stroke="#000" stroke-width="1.2"/>
<circle cx="1823.28" cy="100.7" r="4" fill="#fff" stroke="#000" stroke-width="1.2"/>
<circle cx="1815.28" cy="124.3" r="4" fill="#fff" stroke="#000" stroke-width="1.2"/>
<circle cx="1815.28" cy="133" r="4" fill="#fff" stroke="#000" stroke-width="1.2"/>
<circle cx="1823.28" cy="148.7" r="4" fill="#fff" stroke="#000" stroke-width="1.2"/>
<circle cx="1807.28" cy="153.7" r="4" fill="#fff" stroke="#000" stroke-width="1.2"/>
<circle cx="1807.28" cy="185.2" r="4" fill="#fff" stroke="#000" stroke-width="1.2"/>
<circle cx="1823.28" cy="184.5" r="4" fill="#fff" stroke="#000" stroke-width="1.2"/>
<text x="1092.74" y="80.4" font-size="30" fill="#000" textLength="57.76" lengthAdjust="spacingAndGlyphs">****</text>
<line x1="1102" y1="79.6" x2="1143.5" y2="79.6" stroke="#000" stroke-width="3.2" stroke-linecap="butt"/>
<text x="1199.27" y="94.5" font-size="26.5" fill="#000" textLength="37.04" lengthAdjust="spacingAndGlyphs">NS</text>
<line x1="1197" y1="103.2" x2="1238.7" y2="103.2" stroke="#000" stroke-width="3.2" stroke-linecap="butt"/>
<text x="1293.55" y="104" font-size="26.5" fill="#000" textLength="37.27" lengthAdjust="spacingAndGlyphs">NS</text>
<line x1="1292" y1="113.1" x2="1333.7" y2="113.1" stroke="#000" stroke-width="3.2" stroke-linecap="butt"/>
<text x="1381.84" y="110.2" font-size="30" fill="#000" textLength="57.96" lengthAdjust="spacingAndGlyphs">****</text>
<line x1="1391" y1="110.1" x2="1432.6" y2="110.1" stroke="#000" stroke-width="3.2" stroke-linecap="butt"/>
<text x="1485.15" y="88.3" font-size="26.5" fill="#000" textLength="37.27" lengthAdjust="spacingAndGlyphs">NS</text>
<line x1="1486.8" y1="97" x2="1528.6" y2="97" stroke="#000" stroke-width="3.2" stroke-linecap="butt"/>
<text x="1579.84" y="104.4" font-size="26.5" fill="#000" textLength="37.49" lengthAdjust="spacingAndGlyphs">NS</text>
<line x1="1581.3" y1="111.9" x2="1622.8" y2="111.9" stroke="#000" stroke-width="3.2" stroke-linecap="butt"/>
<text x="1679.05" y="102.4" font-size="26.5" fill="#000" textLength="37.27" lengthAdjust="spacingAndGlyphs">NS</text>
<line x1="1680.2" y1="111.1" x2="1721.8" y2="111.1" stroke="#000" stroke-width="3.2" stroke-linecap="butt"/>
<text x="1775.03" y="79" font-size="26.5" fill="#000" textLength="37.6" lengthAdjust="spacingAndGlyphs">NS</text>
<line x1="1777" y1="87" x2="1818.7" y2="87" stroke="#000" stroke-width="3.2" stroke-linecap="butt"/>
<text x="1077.58" y="151.2" font-size="30" fill="#000" textLength="10.96" lengthAdjust="spacingAndGlyphs">*</text>
<rect x="1832.9" y="73.1" width="17.6" height="15.5" fill="none" stroke="#333" stroke-width="1.3"/>
<rect x="1832.9" y="100" width="17.6" height="15.9" fill="none" stroke="#FF0C0C" stroke-width="1.3"/>
<text x="1864.68" y="88.7" font-size="25.5" fill="#000" textLength="38.31" lengthAdjust="spacingAndGlyphs">WT</text>
<text x="1862.73" y="116" font-size="25.5" fill="#000" textLength="37.47" lengthAdjust="spacingAndGlyphs">KO</text>
<text transform="translate(908.5 303.07) rotate(-90)" x="0" y="0" font-size="27" fill="#000" textLength="250.84" lengthAdjust="spacingAndGlyphs">Relative abundance</text>
<text transform="translate(939 297.78) rotate(-90)" x="0" y="0" font-size="27" fill="#000" textLength="238.09" lengthAdjust="spacingAndGlyphs">(normalized to the</text>
<text transform="translate(972 246.13) rotate(-90)" x="0" y="0" font-size="27" fill="#000" textLength="134.01" lengthAdjust="spacingAndGlyphs">average of</text>
<text transform="translate(1004.5 267.43) rotate(-90)" x="0" y="0" font-size="27" fill="#000" textLength="182.23" lengthAdjust="spacingAndGlyphs">the WT group)</text>
<text transform="translate(1099.6 334.9) rotate(-45)" x="0" y="0" font-size="22.5" fill="#000" textLength="53.01" lengthAdjust="spacingAndGlyphs">α-KG</text>
<text transform="translate(1152.7 373.6) rotate(-45)" x="0" y="0" font-size="24.5" fill="#000" textLength="107.59" lengthAdjust="spacingAndGlyphs">Succinate</text>
<text transform="translate(1254.13 368.73) rotate(-45)" x="0" y="0" font-size="23.75" fill="#000" textLength="101.63" lengthAdjust="spacingAndGlyphs">Fumarate</text>
<text transform="translate(1371.87 346.57) rotate(-45)" x="0" y="0" font-size="24" fill="#000" textLength="72.04" lengthAdjust="spacingAndGlyphs">Malate</text>
<text transform="translate(1466.77 347.9) rotate(-45)" x="0" y="0" font-size="25" fill="#000" textLength="73.63" lengthAdjust="spacingAndGlyphs">Citrate</text>
<text transform="translate(1542.83 369.4) rotate(-45)" x="0" y="0" font-size="24.25" fill="#000" textLength="103.8" lengthAdjust="spacingAndGlyphs">Aspartate</text>
<text transform="translate(1631.37 377.23) rotate(-45)" x="0" y="0" font-size="24.75" fill="#000" textLength="114.18" lengthAdjust="spacingAndGlyphs">Glutamate</text>
<text transform="translate(1715.4 392.57) rotate(-45)" x="0" y="0" font-size="29.25" fill="#000" textLength="133.31" lengthAdjust="spacingAndGlyphs">Glutamine</text>
<line x1="2051.6" y1="94.7" x2="2051.6" y2="268.9" stroke="#2b2b2b" stroke-width="1.3" stroke-linecap="butt"/>
<line x1="2046.1" y1="95.3" x2="2051.6" y2="95.3" stroke="#2b2b2b" stroke-width="1.3" stroke-linecap="butt"/>
<text x="2020.7" y="103.38" font-size="23.5" fill="#000" textLength="13.07" lengthAdjust="spacingAndGlyphs">5</text>
<line x1="2046.1" y1="130.2" x2="2051.6" y2="130.2" stroke="#2b2b2b" stroke-width="1.3" stroke-linecap="butt"/>
<text x="2020.46" y="138.28" font-size="23.5" fill="#000" textLength="13.07" lengthAdjust="spacingAndGlyphs">4</text>
<line x1="2046.1" y1="164.6" x2="2051.6" y2="164.6" stroke="#2b2b2b" stroke-width="1.3" stroke-linecap="butt"/>
<text x="2020.82" y="172.68" font-size="23.5" fill="#000" textLength="13.07" lengthAdjust="spacingAndGlyphs">3</text>
<line x1="2046.1" y1="199.2" x2="2051.6" y2="199.2" stroke="#2b2b2b" stroke-width="1.3" stroke-linecap="butt"/>
<text x="2020.93" y="207.28" font-size="23.5" fill="#000" textLength="13.07" lengthAdjust="spacingAndGlyphs">2</text>
<line x1="2046.1" y1="234" x2="2051.6" y2="234" stroke="#2b2b2b" stroke-width="1.3" stroke-linecap="butt"/>
<text x="2020.82" y="242.08" font-size="23.5" fill="#000" textLength="13.07" lengthAdjust="spacingAndGlyphs">1</text>
<line x1="2046.1" y1="268.3" x2="2051.6" y2="268.3" stroke="#2b2b2b" stroke-width="1.3" stroke-linecap="butt"/>
<text x="2020.7" y="276.38" font-size="23.5" fill="#000" textLength="13.07" lengthAdjust="spacingAndGlyphs">0</text>
<line x1="2045.7" y1="268.3" x2="2168" y2="268.3" stroke="#2b2b2b" stroke-width="1.3" stroke-linecap="butt"/>
<line x1="2083.7" y1="268.3" x2="2083.7" y2="274.2" stroke="#2b2b2b" stroke-width="1.3" stroke-linecap="butt"/>
<line x1="2133.4" y1="268.3" x2="2133.4" y2="274.2" stroke="#2b2b2b" stroke-width="1.3" stroke-linecap="butt"/>
<path d="M2068.5 268.3V265.8H2099V268.3" fill="none" stroke="#000" stroke-width="1.3"/>
<path d="M2117.8 268.3V150.8H2149.4V268.3" fill="none" stroke="#FF0C0C" stroke-width="1.3"/>
<line x1="2133.4" y1="130.2" x2="2133.4" y2="168.7" stroke="#FF0C0C" stroke-width="1.3" stroke-linecap="butt"/><line x1="2125.3" y1="130.2" x2="2141.5" y2="130.2" stroke="#FF0C0C" stroke-width="1.3" stroke-linecap="butt"/><line x1="2125.3" y1="168.7" x2="2141.5" y2="168.7" stroke="#FF0C0C" stroke-width="1.3" stroke-linecap="butt"/>
<circle cx="2071.4" cy="264.3" r="4" fill="#fff" stroke="#000" stroke-width="1.2"/>
<circle cx="2075.4" cy="263.6" r="4" fill="#fff" stroke="#000" stroke-width="1.2"/>
<circle cx="2079.4" cy="264.6" r="4" fill="#fff" stroke="#000" stroke-width="1.2"/>
<circle cx="2083" cy="265.3" r="4" fill="#fff" stroke="#000" stroke-width="1.2"/>
<circle cx="2086.4" cy="264" r="4" fill="#fff" stroke="#000" stroke-width="1.2"/>
<circle cx="2090" cy="264.8" r="4" fill="#fff" stroke="#000" stroke-width="1.2"/>
<circle cx="2093.6" cy="265" r="4" fill="#fff" stroke="#000" stroke-width="1.2"/>
<circle cx="2097.2" cy="264.2" r="4" fill="#fff" stroke="#000" stroke-width="1.2"/>
<circle cx="2133.4" cy="122.9" r="4" fill="#fff" stroke="#000" stroke-width="1.2"/>
<circle cx="2129.2" cy="142" r="4" fill="#fff" stroke="#000" stroke-width="1.2"/>
<circle cx="2138" cy="141.3" r="4" fill="#fff" stroke="#000" stroke-width="1.2"/>
<circle cx="2120.5" cy="147.5" r="4" fill="#fff" stroke="#000" stroke-width="1.2"/>
<circle cx="2129.2" cy="149.4" r="4" fill="#fff" stroke="#000" stroke-width="1.2"/>
<circle cx="2146.7" cy="148.6" r="4" fill="#fff" stroke="#000" stroke-width="1.2"/>
<circle cx="2138" cy="154.2" r="4" fill="#fff" stroke="#000" stroke-width="1.2"/>
<circle cx="2133.4" cy="191" r="4" fill="#fff" stroke="#000" stroke-width="1.2"/>
<text x="2072.74" y="105.3" font-size="30" fill="#000" textLength="57.76" lengthAdjust="spacingAndGlyphs">****</text>
<text transform="translate(1967.9 321.61) rotate(-90)" x="0" y="0" font-size="27" fill="#000" textLength="277.6" lengthAdjust="spacingAndGlyphs">Intracellular ammonia</text>
<text transform="translate(1998.5 308.02) rotate(-90)" x="0" y="0" font-size="27" fill="#000" textLength="94.1" lengthAdjust="spacingAndGlyphs">(mmol l</text>
<text transform="translate(1998.5 308.02) rotate(-90)" x="94.1" y="-11.34" font-size="16.2" fill="#000" textLength="19.64" lengthAdjust="spacingAndGlyphs">−1</text>
<text transform="translate(1998.5 308.02) rotate(-90)" x="121.72" y="0" font-size="27" fill="#000" textLength="129.22" lengthAdjust="spacingAndGlyphs">cell mass)</text>
<text transform="translate(2072.27 321.8) rotate(-45)" x="0" y="0" font-size="22.25" fill="#000" textLength="34.59" lengthAdjust="spacingAndGlyphs">WT</text>
<text transform="translate(2122.9 316.67) rotate(-45)" x="0" y="0" font-size="22" fill="#000" textLength="31.79" lengthAdjust="spacingAndGlyphs">KO</text>
<path d="M821.73,604.85C822.81,605.32 823.65,605.02 824.16,606.76C824.67,608.49 824.7,612.33 824.8,615.25C824.89,618.17 824.9,621.48 824.75,624.29C824.6,627.1 824.43,629.09 823.89,632.13C823.36,635.17 823.24,640.27 821.54,642.53C819.83,644.8 816.46,645.12 813.66,645.7C810.86,646.28 807.57,646.4 804.75,646.02C801.92,645.65 798.6,645.39 796.73,643.45C794.85,641.5 794.25,637.56 793.5,634.33C792.75,631.1 791.85,626.95 792.23,624.04C792.6,621.13 794.06,619.07 795.74,616.88C797.42,614.69 799.8,612.82 802.32,610.92C804.83,609.03 808.26,606.69 810.83,605.52C813.4,604.35 815.92,604.01 817.74,603.9C819.56,603.78 820.66,604.37 821.73,604.85Z" fill="none" stroke="#7a7a7a" stroke-width="0.8"/>
<path d="M820.65,605.54C821.51,606.04 821.9,606.47 822.33,608.14C822.76,609.8 823.03,612.85 823.25,615.54C823.46,618.24 823.63,621.55 823.61,624.3C823.59,627.06 823.64,629.08 823.13,632.06C822.62,635.04 822.36,640.02 820.57,642.19C818.78,644.36 814.99,644.59 812.38,645.06C809.77,645.54 807.33,645.55 804.91,645.06C802.48,644.58 799.61,643.87 797.8,642.13C795.99,640.39 794.81,637.59 794.03,634.63C793.25,631.66 792.78,627.11 793.13,624.33C793.48,621.56 794.57,620.02 796.15,617.98C797.73,615.93 800.26,613.91 802.62,612.05C804.99,610.18 807.89,607.93 810.32,606.78C812.75,605.64 815.46,605.37 817.18,605.16C818.91,604.95 819.8,605.05 820.65,605.54Z" fill="none" stroke="#7a7a7a" stroke-width="0.55"/>
<path d="M819.43,607.17C820.39,607.66 821.11,607.94 821.54,609.53C821.97,611.11 821.93,614.14 822,616.68C822.07,619.22 822.01,622.21 821.96,624.77C821.91,627.33 822.21,629.41 821.71,632.04C821.21,634.68 820.63,638.52 818.96,640.59C817.28,642.66 813.98,643.9 811.66,644.47C809.34,645.04 807.39,644.56 805.05,644C802.71,643.44 799.4,642.65 797.61,641.08C795.82,639.52 794.86,637.35 794.3,634.59C793.73,631.83 793.83,627.3 794.21,624.53C794.6,621.76 795.18,619.85 796.59,617.99C797.99,616.13 800.35,614.99 802.65,613.37C804.94,611.74 808.17,609.36 810.35,608.24C812.54,607.12 814.24,606.82 815.75,606.64C817.26,606.46 818.46,606.69 819.43,607.17Z" fill="#000" fill-opacity="0.032" stroke="#5a5a5a" stroke-width="0.55"/>
<path d="M819.06,607.94C819.89,608.38 820,609.22 820.36,610.85C820.72,612.48 821.1,615.39 821.2,617.71C821.3,620.02 821.08,622.4 820.96,624.76C820.84,627.11 821.05,629.2 820.47,631.85C819.88,634.5 818.91,638.8 817.42,640.66C815.94,642.51 813.72,642.61 811.56,642.99C809.39,643.38 806.73,643.37 804.45,642.95C802.18,642.52 799.51,641.98 797.92,640.47C796.33,638.96 795.46,636.52 794.92,633.89C794.37,631.26 794.45,627.24 794.66,624.7C794.88,622.15 794.93,620.41 796.2,618.62C797.48,616.83 800.01,615.42 802.33,613.96C804.65,612.49 807.95,610.77 810.13,609.82C812.3,608.87 813.89,608.57 815.38,608.25C816.87,607.94 818.23,607.51 819.06,607.94Z" fill="#000" fill-opacity="0.032" stroke="#5a5a5a" stroke-width="0.55"/>
<path d="M817.22,610.09C818,610.37 818.7,610.02 819,611.29C819.31,612.56 818.93,615.46 819.03,617.7C819.13,619.94 819.67,622.38 819.62,624.73C819.57,627.09 819.24,629.44 818.74,631.83C818.25,634.22 818,637.33 816.63,639.08C815.26,640.84 812.62,641.9 810.52,642.35C808.42,642.8 805.98,642.22 804,641.79C802.02,641.36 800.08,641.18 798.62,639.78C797.17,638.38 795.93,635.88 795.27,633.4C794.61,630.91 794.38,627.24 794.67,624.87C794.97,622.51 795.77,620.81 797.04,619.2C798.31,617.6 800.23,616.68 802.27,615.23C804.31,613.77 807.27,611.41 809.28,610.48C811.28,609.54 812.98,609.66 814.31,609.6C815.63,609.54 816.44,609.81 817.22,610.09Z" fill="#000" fill-opacity="0.032" stroke="#5a5a5a" stroke-width="0.55"/>
<path d="M815.86,610.58C816.55,611.08 816.91,611.68 817.25,613.1C817.59,614.52 817.72,617.09 817.89,619.12C818.06,621.14 818.32,623.14 818.27,625.28C818.22,627.42 817.98,629.71 817.6,631.95C817.22,634.2 817.28,637.17 816.01,638.76C814.73,640.35 811.95,641.11 809.96,641.51C807.98,641.9 806.01,641.53 804.11,641.14C802.21,640.75 799.99,640.54 798.57,639.16C797.15,637.79 795.97,635.14 795.57,632.88C795.18,630.62 795.9,627.67 796.2,625.61C796.5,623.54 796.32,622.07 797.36,620.5C798.41,618.94 800.54,617.66 802.48,616.23C804.42,614.8 807.25,612.94 809.01,611.93C810.78,610.91 811.94,610.36 813.08,610.14C814.22,609.91 815.16,610.09 815.86,610.58Z" fill="#000" fill-opacity="0.032" stroke="#5a5a5a" stroke-width="0.55"/>
<path d="M815.6,611.92C816.34,612.39 816.46,613.29 816.7,614.52C816.94,615.75 816.95,617.4 817.03,619.3C817.12,621.21 817.23,623.96 817.2,625.95C817.17,627.94 817.29,629.29 816.84,631.26C816.4,633.24 815.78,636.27 814.52,637.82C813.27,639.37 811.08,640.23 809.33,640.56C807.59,640.9 805.8,640.18 804.03,639.82C802.25,639.46 799.96,639.59 798.68,638.41C797.41,637.23 796.79,634.82 796.37,632.73C795.94,630.64 795.8,627.92 796.14,625.85C796.47,623.78 797.34,621.84 798.38,620.29C799.42,618.75 800.65,617.7 802.38,616.57C804.11,615.45 807.11,614.35 808.76,613.53C810.42,612.72 811.16,611.96 812.3,611.69C813.44,611.42 814.87,611.44 815.6,611.92Z" fill="#000" fill-opacity="0.032" stroke="#5a5a5a" stroke-width="0.55"/>
<path d="M814.3,614.03C815.04,614.26 815.31,613.99 815.61,615.08C815.91,616.16 816.1,618.69 816.09,620.54C816.08,622.4 815.73,624.42 815.58,626.21C815.42,627.99 815.55,629.48 815.15,631.26C814.75,633.03 814.13,635.56 813.18,636.87C812.23,638.18 810.92,638.73 809.43,639.13C807.94,639.54 805.85,639.58 804.24,639.28C802.62,638.97 800.96,638.5 799.74,637.32C798.53,636.13 797.37,634.09 796.95,632.18C796.54,630.26 796.93,627.56 797.25,625.83C797.56,624.1 798.01,623.14 798.86,621.79C799.71,620.45 800.9,619.05 802.32,617.75C803.74,616.46 805.92,614.71 807.39,614.03C808.87,613.35 810.03,613.69 811.18,613.69C812.33,613.69 813.56,613.8 814.3,614.03Z" fill="#000" fill-opacity="0.032" stroke="#5a5a5a" stroke-width="0.55"/>
<path d="M813.33,615.33C813.88,615.6 813.6,615.59 813.83,616.52C814.07,617.46 814.65,619.43 814.75,620.95C814.85,622.48 814.6,624.09 814.43,625.69C814.27,627.3 814.03,628.77 813.79,630.57C813.54,632.37 813.77,635.19 812.95,636.49C812.13,637.8 810.4,638.07 808.85,638.41C807.29,638.75 805.1,638.89 803.64,638.52C802.17,638.14 801.02,637.31 800.05,636.17C799.08,635.02 798.32,633.27 797.82,631.63C797.32,630 796.96,628 797.05,626.35C797.14,624.71 797.34,623.07 798.36,621.77C799.38,620.48 801.75,619.64 803.18,618.58C804.61,617.52 805.7,616.01 806.92,615.4C808.14,614.79 809.43,614.92 810.5,614.91C811.56,614.9 812.77,615.06 813.33,615.33Z" fill="#000" fill-opacity="0.032" stroke="#5a5a5a" stroke-width="0.55"/>
<path d="M811.57,616.73C812.07,617.06 812.35,617.24 812.7,618.06C813.05,618.87 813.62,620.24 813.66,621.59C813.69,622.95 813.08,624.67 812.91,626.19C812.73,627.72 812.91,629.24 812.61,630.73C812.3,632.23 811.79,634.08 811.07,635.17C810.36,636.26 809.52,636.94 808.31,637.28C807.1,637.62 805.25,637.54 803.84,637.23C802.42,636.92 800.72,636.27 799.84,635.42C798.97,634.58 798.82,633.77 798.59,632.17C798.36,630.57 798.4,627.39 798.46,625.83C798.51,624.26 798.15,623.81 798.94,622.78C799.72,621.75 801.83,620.6 803.17,619.66C804.52,618.72 805.93,617.74 807.02,617.14C808.1,616.54 808.92,616.12 809.68,616.05C810.44,615.98 811.06,616.39 811.57,616.73Z" fill="#000" fill-opacity="0.032" stroke="#444" stroke-width="0.55"/>
<path d="M810.71,617.38C811.1,617.52 810.94,617.69 811.24,618.54C811.54,619.39 812.38,621.13 812.52,622.47C812.67,623.81 812.15,625.31 812.11,626.61C812.06,627.9 812.56,628.9 812.27,630.25C811.97,631.6 811.2,633.61 810.33,634.71C809.46,635.82 808.11,636.63 807.06,636.86C806,637.1 805.16,636.43 804.01,636.14C802.86,635.85 801.04,635.89 800.17,635.11C799.3,634.33 799.09,632.97 798.77,631.45C798.46,629.93 798.17,627.41 798.27,625.98C798.37,624.55 798.62,623.84 799.36,622.86C800.11,621.89 801.65,620.9 802.74,620.14C803.84,619.39 804.91,618.77 805.93,618.35C806.95,617.94 808.09,617.81 808.88,617.65C809.68,617.49 810.32,617.23 810.71,617.38Z" fill="#000" fill-opacity="0.032" stroke="#444" stroke-width="0.55"/>
<path d="M809.85,619.31C810.17,619.57 809.95,619.35 810.17,619.94C810.38,620.53 810.96,621.75 811.14,622.82C811.32,623.89 811.25,625.08 811.22,626.38C811.19,627.68 811.17,629.36 810.94,630.62C810.71,631.88 810.62,633.11 809.84,633.93C809.07,634.76 807.25,635.36 806.26,635.56C805.28,635.77 804.79,635.46 803.92,635.18C803.05,634.91 801.75,634.69 801.03,633.92C800.31,633.14 799.97,631.67 799.61,630.54C799.25,629.41 798.75,628.15 798.87,627.11C798.99,626.08 799.62,625.22 800.31,624.33C801.01,623.44 802.07,622.64 803.03,621.78C803.99,620.91 805.21,619.71 806.08,619.14C806.94,618.57 807.58,618.33 808.21,618.36C808.83,618.39 809.52,619.04 809.85,619.31Z" fill="#000" fill-opacity="0.032" stroke="#444" stroke-width="0.55"/>
<path d="M809.03,620.42C809.31,620.53 808.95,620.04 809.14,620.68C809.32,621.32 810.04,623.22 810.13,624.27C810.22,625.33 809.7,626.06 809.65,627C809.61,627.93 810.06,628.83 809.86,629.86C809.66,630.89 809.1,632.48 808.43,633.18C807.76,633.89 806.66,633.91 805.84,634.1C805.02,634.3 804.33,634.54 803.52,634.36C802.72,634.18 801.66,633.72 801,633.04C800.33,632.37 799.85,631.36 799.55,630.3C799.25,629.25 799,627.69 799.2,626.71C799.39,625.74 800.16,625.13 800.72,624.45C801.28,623.76 801.85,623.31 802.59,622.6C803.33,621.89 804.34,620.63 805.16,620.21C805.97,619.78 806.85,620.01 807.49,620.05C808.14,620.09 808.76,620.32 809.03,620.42Z" fill="#000" fill-opacity="0.032" stroke="#444" stroke-width="0.55"/>
<path d="M807.94,621.51C808.18,621.63 808.4,621.99 808.45,622.52C808.5,623.05 808.25,623.95 808.24,624.68C808.24,625.42 808.42,626.08 808.43,626.93C808.44,627.77 808.36,628.73 808.28,629.74C808.21,630.76 808.47,632.32 807.97,632.99C807.47,633.66 806.15,633.75 805.29,633.76C804.43,633.77 803.48,633.18 802.81,633.07C802.13,632.95 801.72,633.48 801.22,633.07C800.73,632.65 799.97,631.59 799.85,630.59C799.72,629.58 800.28,627.86 800.47,627.01C800.65,626.17 800.61,626.09 800.96,625.53C801.31,624.97 801.84,624.23 802.55,623.65C803.26,623.07 804.45,622.35 805.2,622.04C805.94,621.73 806.57,621.88 807.02,621.79C807.48,621.7 807.71,621.38 807.94,621.51Z" fill="#000" fill-opacity="0.032" stroke="#444" stroke-width="0.55"/>
<path d="M807.25,622.95C807.33,623.05 806.87,622.8 806.84,623.22C806.81,623.64 806.95,624.85 807.07,625.48C807.19,626.11 807.51,626.3 807.57,627C807.63,627.7 807.62,628.87 807.43,629.68C807.24,630.48 806.91,631.28 806.44,631.82C805.97,632.35 805.24,632.67 804.61,632.87C803.99,633.08 803.15,633.17 802.68,633.03C802.21,632.89 802.17,632.46 801.8,632.02C801.42,631.58 800.56,631.21 800.43,630.39C800.31,629.56 800.88,627.79 801.04,627.09C801.2,626.38 801.11,626.56 801.41,626.15C801.71,625.74 802.32,625.03 802.83,624.6C803.34,624.18 803.87,623.94 804.45,623.61C805.04,623.28 805.88,622.73 806.35,622.62C806.82,622.51 807.16,622.85 807.25,622.95Z" fill="#000" fill-opacity="0.032" stroke="#444" stroke-width="0.55"/>
<path d="M806.09,624.13C806.15,624.14 805.78,624.07 805.74,624.47C805.7,624.87 805.7,626.07 805.85,626.54C806,627.01 806.58,626.88 806.65,627.31C806.72,627.75 806.47,628.56 806.24,629.14C806.01,629.73 805.61,630.36 805.26,630.83C804.91,631.29 804.6,631.85 804.14,631.93C803.68,632 802.92,631.51 802.52,631.29C802.11,631.08 801.91,630.88 801.7,630.62C801.49,630.36 801.31,630.27 801.26,629.74C801.22,629.2 801.41,627.94 801.41,627.4C801.41,626.86 801.1,626.8 801.27,626.48C801.45,626.15 802.01,625.76 802.43,625.45C802.86,625.13 803.31,624.79 803.81,624.61C804.3,624.44 805.01,624.48 805.39,624.4C805.77,624.31 806.03,624.11 806.09,624.13Z" fill="#000" fill-opacity="0.032" stroke="#444" stroke-width="0.55"/>
<path d="M805.28,625.55C805.34,625.65 804.98,625.95 805,626.17C805.01,626.4 805.38,626.67 805.37,626.92C805.37,627.18 805.08,627.32 804.97,627.72C804.85,628.12 804.76,628.86 804.66,629.32C804.55,629.78 804.45,630.2 804.32,630.51C804.2,630.81 804.08,631.07 803.89,631.17C803.69,631.28 803.52,631.27 803.15,631.13C802.78,630.99 801.91,630.65 801.67,630.31C801.42,629.97 801.69,629.52 801.67,629.1C801.65,628.68 801.52,628.22 801.56,627.8C801.59,627.37 801.7,626.82 801.87,626.57C802.04,626.31 802.33,626.43 802.59,626.27C802.85,626.1 803.08,625.68 803.42,625.57C803.75,625.46 804.3,625.62 804.61,625.62C804.92,625.61 805.22,625.46 805.28,625.55Z" fill="#fff" stroke="#444" stroke-width="0.55"/>
<path fill="#222" d="M812.6 647.3h.9v.9h-.9zM822.8 600.2h.9v.9h-.9zM827.9 627.0h.9v.9h-.9zM797.8 604.6h.9v.9h-.9zM828.3 590.6h.9v.9h-.9zM806.0 648.8h.9v.9h-.9zM789.7 652.5h.9v.9h-.9zM826.6 620.2h.9v.9h-.9zM829.3 625.4h.9v.9h-.9zM792.5 646.5h.9v.9h-.9zM815.9 646.5h.9v.9h-.9zM817.4 602.7h.9v.9h-.9zM828.0 614.3h.9v.9h-.9zM831.8 598.0h.9v.9h-.9zM822.9 600.1h.9v.9h-.9zM824.0 595.1h.9v.9h-.9zM809.9 595.8h.9v.9h-.9zM834.6 600.3h.9v.9h-.9zM827.2 607.3h.9v.9h-.9zM822.2 649.2h.9v.9h-.9zM820.8 601.5h.9v.9h-.9zM824.4 606.5h.9v.9h-.9zM819.7 593.7h.9v.9h-.9zM803.6 652.2h.9v.9h-.9zM822.9 641.4h.9v.9h-.9zM828.6 628.3h.9v.9h-.9zM827.0 620.7h.9v.9h-.9zM794.4 603.0h.9v.9h-.9zM811.7 651.1h.9v.9h-.9zM819.6 644.4h.9v.9h-.9zM814.5 647.5h.9v.9h-.9zM822.1 601.5h.9v.9h-.9zM818.0 603.7h.9v.9h-.9zM829.3 613.2h.9v.9h-.9zM803.4 609.1h.9v.9h-.9zM826.0 612.6h.9v.9h-.9zM823.1 602.8h.9v.9h-.9zM822.5 592.6h.9v.9h-.9zM799.3 607.3h.9v.9h-.9zM827.8 640.3h.9v.9h-.9zM832.2 613.3h.9v.9h-.9zM809.7 601.9h.9v.9h-.9zM800.8 608.3h.9v.9h-.9zM836.2 608.0h.9v.9h-.9zM794.8 641.9h.9v.9h-.9zM807.4 653.5h.9v.9h-.9zM797.9 643.8h.9v.9h-.9zM793.9 645.1h.9v.9h-.9zM821.1 593.6h.9v.9h-.9zM824.8 612.3h.9v.9h-.9zM825.5 607.5h.9v.9h-.9zM815.4 601.7h.9v.9h-.9zM825.7 606.1h.9v.9h-.9zM824.1 603.6h.9v.9h-.9zM818.7 647.6h.9v.9h-.9zM829.6 613.6h.9v.9h-.9zM818.7 649.1h.9v.9h-.9zM819.3 597.9h.9v.9h-.9zM826.4 603.7h.9v.9h-.9zM825.6 599.3h.9v.9h-.9zM824.6 609.1h.9v.9h-.9zM814.3 646.4h.9v.9h-.9zM827.8 607.1h.9v.9h-.9zM813.7 646.9h.9v.9h-.9zM830.2 598.0h.9v.9h-.9zM825.4 638.6h.9v.9h-.9zM817.4 601.6h.9v.9h-.9zM826.1 614.0h.9v.9h-.9zM827.2 615.1h.9v.9h-.9zM826.3 604.5h.9v.9h-.9zM811.9 648.4h.9v.9h-.9zM801.6 604.6h.9v.9h-.9zM823.1 604.1h.9v.9h-.9zM834.0 603.5h.9v.9h-.9zM819.4 602.1h.9v.9h-.9zM790.6 651.6h.9v.9h-.9zM809.3 601.4h.9v.9h-.9zM828.5 604.5h.9v.9h-.9zM800.3 648.7h.9v.9h-.9zM824.3 604.2h.9v.9h-.9zM822.9 643.5h.9v.9h-.9zM799.7 612.3h.9v.9h-.9zM806.3 648.3h.9v.9h-.9zM826.5 617.4h.9v.9h-.9zM788.7 654.2h.9v.9h-.9zM803.2 646.5h.9v.9h-.9zM818.4 650.6h.9v.9h-.9zM804.2 598.7h.9v.9h-.9zM826.1 635.6h.9v.9h-.9zM828.5 623.0h.9v.9h-.9zM807.0 648.3h.9v.9h-.9zM829.5 597.7h.9v.9h-.9zM812.1 646.9h.9v.9h-.9zM829.4 616.2h.9v.9h-.9zM802.2 647.9h.9v.9h-.9zM828.6 592.8h.9v.9h-.9zM817.9 603.8h.9v.9h-.9zM795.3 615.8h.9v.9h-.9zM809.4 603.8h.9v.9h-.9zM824.6 603.6h.9v.9h-.9zM818.3 592.6h.9v.9h-.9zM821.8 602.7h.9v.9h-.9zM807.2 599.3h.9v.9h-.9zM818.9 594.2h.9v.9h-.9zM816.7 600.5h.9v.9h-.9zM827.2 597.6h.9v.9h-.9zM831.4 608.9h.9v.9h-.9zM825.7 608.4h.9v.9h-.9zM824.7 645.6h.9v.9h-.9zM789.1 626.3h.9v.9h-.9zM814.8 652.0h.9v.9h-.9zM811.2 603.1h.9v.9h-.9zM815.7 646.4h.9v.9h-.9zM795.8 645.2h.9v.9h-.9zM828.5 608.7h.9v.9h-.9zM817.6 652.0h.9v.9h-.9zM803.8 647.2h.9v.9h-.9zM828.4 601.6h.9v.9h-.9zM821.6 642.6h.9v.9h-.9zM819.9 599.6h.9v.9h-.9zM814.5 652.4h.9v.9h-.9zM798.1 648.1h.9v.9h-.9zM815.5 601.4h.9v.9h-.9zM796.1 647.7h.9v.9h-.9zM806.1 658.8h.9v.9h-.9zM826.2 601.8h.9v.9h-.9zM839.3 631.1h.9v.9h-.9zM809.8 653.2h.9v.9h-.9zM811.6 655.9h.9v.9h-.9zM825.9 626.6h.9v.9h-.9zM831.8 595.6h.9v.9h-.9zM807.4 600.9h.9v.9h-.9zM803.5 604.0h.9v.9h-.9zM815.4 645.4h.9v.9h-.9zM834.9 598.1h.9v.9h-.9zM795.6 641.8h.9v.9h-.9zM831.2 624.2h.9v.9h-.9zM825.6 604.1h.9v.9h-.9zM827.9 594.2h.9v.9h-.9zM824.4 646.2h.9v.9h-.9zM809.7 606.2h.9v.9h-.9zM821.3 647.0h.9v.9h-.9zM819.2 595.5h.9v.9h-.9zM820.3 601.1h.9v.9h-.9zM800.2 644.8h.9v.9h-.9zM788.1 641.6h.9v.9h-.9zM832.9 626.2h.9v.9h-.9zM802.7 610.4h.9v.9h-.9zM809.4 602.9h.9v.9h-.9zM824.7 635.5h.9v.9h-.9zM827.0 613.7h.9v.9h-.9zM821.5 603.0h.9v.9h-.9zM837.3 626.6h.9v.9h-.9zM821.0 644.9h.9v.9h-.9zM801.5 608.8h.9v.9h-.9zM820.4 647.8h.9v.9h-.9zM811.2 604.3h.9v.9h-.9zM821.3 644.8h.9v.9h-.9zM830.7 618.2h.9v.9h-.9zM816.1 647.3h.9v.9h-.9zM824.6 609.7h.9v.9h-.9zM819.3 592.0h.9v.9h-.9zM802.0 645.6h.9v.9h-.9zM791.8 628.7h.9v.9h-.9zM825.7 644.0h.9v.9h-.9zM828.9 591.5h.9v.9h-.9zM821.0 602.3h.9v.9h-.9zM826.4 617.2h.9v.9h-.9zM809.5 648.4h.9v.9h-.9zM831.5 625.9h.9v.9h-.9zM797.4 644.6h.9v.9h-.9zM826.9 610.1h.9v.9h-.9zM820.4 601.3h.9v.9h-.9zM821.2 602.8h.9v.9h-.9zM812.4 656.6h.9v.9h-.9zM799.9 645.2h.9v.9h-.9zM812.1 593.3h.9v.9h-.9zM823.8 637.4h.9v.9h-.9zM805.0 596.7h.9v.9h-.9zM825.2 596.8h.9v.9h-.9zM827.2 616.0h.9v.9h-.9zM823.6 604.4h.9v.9h-.9zM818.9 600.4h.9v.9h-.9zM821.2 651.6h.9v.9h-.9zM814.4 602.3h.9v.9h-.9zM828.6 621.4h.9v.9h-.9zM827.2 624.8h.9v.9h-.9zM799.9 646.0h.9v.9h-.9zM836.1 607.5h.9v.9h-.9zM799.7 645.0h.9v.9h-.9zM804.9 648.5h.9v.9h-.9zM829.9 624.2h.9v.9h-.9zM823.5 645.2h.9v.9h-.9zM809.6 646.0h.9v.9h-.9zM828.3 625.0h.9v.9h-.9zM818.0 601.5h.9v.9h-.9zM799.6 610.3h.9v.9h-.9zM817.3 646.5h.9v.9h-.9zM805.4 650.4h.9v.9h-.9zM810.8 601.0h.9v.9h-.9zM808.7 652.1h.9v.9h-.9zM803.9 648.7h.9v.9h-.9zM827.4 609.7h.9v.9h-.9zM809.6 650.0h.9v.9h-.9zM812.4 600.4h.9v.9h-.9zM829.0 616.8h.9v.9h-.9zM789.2 620.5h.9v.9h-.9zM824.9 589.2h.9v.9h-.9zM799.2 651.3h.9v.9h-.9zM824.5 604.3h.9v.9h-.9zM827.3 610.6h.9v.9h-.9zM810.9 601.1h.9v.9h-.9zM823.0 639.7h.9v.9h-.9zM825.8 604.5h.9v.9h-.9zM809.5 605.3h.9v.9h-.9zM817.4 644.9h.9v.9h-.9zM802.2 648.0h.9v.9h-.9zM802.0 609.3h.9v.9h-.9zM803.5 609.7h.9v.9h-.9zM824.8 600.8h.9v.9h-.9zM830.0 628.9h.9v.9h-.9zM824.4 604.4h.9v.9h-.9zM824.8 637.9h.9v.9h-.9zM826.3 600.4h.9v.9h-.9zM802.1 609.9h.9v.9h-.9zM829.3 628.3h.9v.9h-.9zM825.3 640.3h.9v.9h-.9zM815.6 646.1h.9v.9h-.9zM808.9 601.0h.9v.9h-.9zM818.3 597.3h.9v.9h-.9zM824.3 599.4h.9v.9h-.9zM825.5 611.3h.9v.9h-.9zM828.2 611.3h.9v.9h-.9zM828.1 623.1h.9v.9h-.9zM821.9 603.2h.9v.9h-.9zM798.4 647.3h.9v.9h-.9zM829.9 597.0h.9v.9h-.9zM825.0 604.6h.9v.9h-.9zM823.2 645.1h.9v.9h-.9zM814.6 602.9h.9v.9h-.9zM814.9 604.2h.9v.9h-.9zM822.0 642.6h.9v.9h-.9zM831.0 596.6h.9v.9h-.9zM816.6 602.3h.9v.9h-.9zM822.7 642.8h.9v.9h-.9zM817.9 599.7h.9v.9h-.9zM823.6 596.5h.9v.9h-.9zM798.3 645.3h.9v.9h-.9zM808.5 646.5h.9v.9h-.9zM793.2 616.3h.9v.9h-.9zM827.0 603.3h.9v.9h-.9zM797.1 612.0h.9v.9h-.9zM797.4 645.4h.9v.9h-.9zM807.6 649.6h.9v.9h-.9zM798.3 613.1h.9v.9h-.9zM791.0 631.9h.9v.9h-.9zM814.1 650.4h.9v.9h-.9zM825.7 626.8h.9v.9h-.9zM792.0 620.6h.9v.9h-.9zM798.6 605.8h.9v.9h-.9zM811.6 600.8h.9v.9h-.9zM826.4 594.4h.9v.9h-.9zM801.7 600.6h.9v.9h-.9zM813.5 602.5h.9v.9h-.9zM816.0 601.9h.9v.9h-.9zM820.7 597.5h.9v.9h-.9zM808.8 648.4h.9v.9h-.9zM798.3 610.2h.9v.9h-.9zM796.6 647.4h.9v.9h-.9zM824.4 605.6h.9v.9h-.9zM823.7 603.5h.9v.9h-.9zM826.1 642.9h.9v.9h-.9zM822.0 597.8h.9v.9h-.9zM829.1 639.4h.9v.9h-.9zM823.7 600.1h.9v.9h-.9zM836.8 603.5h.9v.9h-.9zM826.7 616.8h.9v.9h-.9zM810.5 601.4h.9v.9h-.9zM813.3 589.2h.9v.9h-.9zM821.9 601.5h.9v.9h-.9zM823.7 641.4h.9v.9h-.9zM801.0 646.1h.9v.9h-.9zM824.3 641.9h.9v.9h-.9zM798.1 643.8h.9v.9h-.9zM810.4 648.5h.9v.9h-.9zM826.5 624.5h.9v.9h-.9zM809.1 594.3h.9v.9h-.9zM826.5 608.2h.9v.9h-.9zM826.0 605.3h.9v.9h-.9zM809.3 602.8h.9v.9h-.9zM822.9 641.2h.9v.9h-.9zM797.2 643.6h.9v.9h-.9zM805.8 649.4h.9v.9h-.9zM801.3 603.1h.9v.9h-.9zM821.9 644.8h.9v.9h-.9zM830.2 638.1h.9v.9h-.9zM826.0 622.9h.9v.9h-.9zM823.3 603.4h.9v.9h-.9zM791.5 605.6h.9v.9h-.9zM807.2 604.4h.9v.9h-.9zM799.4 645.8h.9v.9h-.9zM815.3 603.7h.9v.9h-.9zM831.8 592.0h.9v.9h-.9zM827.6 599.6h.9v.9h-.9zM796.2 610.8h.9v.9h-.9zM793.9 639.7h.9v.9h-.9zM810.5 600.7h.9v.9h-.9zM815.1 600.6h.9v.9h-.9zM826.9 639.0h.9v.9h-.9zM826.3 629.2h.9v.9h-.9zM818.5 590.8h.9v.9h-.9zM809.9 593.1h.9v.9h-.9zM827.4 646.6h.9v.9h-.9zM818.4 601.0h.9v.9h-.9zM818.8 645.9h.9v.9h-.9zM792.5 645.4h.9v.9h-.9zM819.2 598.0h.9v.9h-.9zM834.1 609.8h.9v.9h-.9zM826.6 611.9h.9v.9h-.9zM810.0 605.5h.9v.9h-.9zM800.6 647.7h.9v.9h-.9zM811.0 603.1h.9v.9h-.9zM827.2 630.2h.9v.9h-.9zM823.2 603.3h.9v.9h-.9zM795.7 645.3h.9v.9h-.9zM816.6 600.2h.9v.9h-.9zM832.6 595.4h.9v.9h-.9zM797.7 645.2h.9v.9h-.9zM829.5 608.2h.9v.9h-.9zM817.3 646.2h.9v.9h-.9zM827.7 596.0h.9v.9h-.9zM828.3 606.3h.9v.9h-.9zM823.9 600.6h.9v.9h-.9zM823.1 644.2h.9v.9h-.9zM827.6 608.2h.9v.9h-.9zM823.7 596.9h.9v.9h-.9zM809.4 598.7h.9v.9h-.9zM806.2 603.5h.9v.9h-.9zM808.2 654.9h.9v.9h-.9zM821.7 598.3h.9v.9h-.9zM821.1 643.5h.9v.9h-.9zM832.6 595.4h.9v.9h-.9zM807.5 648.1h.9v.9h-.9zM803.3 647.3h.9v.9h-.9zM824.4 606.3h.9v.9h-.9zM797.5 609.1h.9v.9h-.9zM826.5 592.2h.9v.9h-.9zM811.7 592.8h.9v.9h-.9zM818.5 600.6h.9v.9h-.9zM822.6 653.4h.9v.9h-.9zM802.1 646.6h.9v.9h-.9zM826.2 601.0h.9v.9h-.9zM821.1 602.5h.9v.9h-.9zM824.0 593.8h.9v.9h-.9zM817.3 645.4h.9v.9h-.9zM804.8 608.0h.9v.9h-.9zM829.4 610.4h.9v.9h-.9zM821.6 651.4h.9v.9h-.9zM811.3 647.4h.9v.9h-.9zM814.1 650.1h.9v.9h-.9zM819.8 602.9h.9v.9h-.9zM801.2 647.8h.9v.9h-.9zM817.8 603.1h.9v.9h-.9zM798.0 612.0h.9v.9h-.9zM834.7 598.3h.9v.9h-.9zM812.2 652.5h.9v.9h-.9zM829.3 613.3h.9v.9h-.9zM819.9 603.4h.9v.9h-.9zM827.8 613.1h.9v.9h-.9zM821.7 599.4h.9v.9h-.9zM831.7 598.1h.9v.9h-.9zM830.1 612.7h.9v.9h-.9zM823.1 601.6h.9v.9h-.9zM823.4 640.9h.9v.9h-.9zM825.2 644.6h.9v.9h-.9zM828.6 616.5h.9v.9h-.9zM795.9 647.9h.9v.9h-.9zM825.5 603.0h.9v.9h-.9zM815.6 601.2h.9v.9h-.9zM795.3 641.8h.9v.9h-.9z"/>
<path d="M985.56,604.95C986.54,605.47 986.03,604.82 986.46,606.58C986.89,608.35 987.92,612.67 988.14,615.54C988.35,618.41 987.89,620.95 987.77,623.81C987.65,626.67 987.99,629.63 987.41,632.71C986.82,635.78 986.13,640.03 984.28,642.26C982.44,644.49 979.04,645.42 976.33,646.09C973.62,646.77 970.67,646.8 968.02,646.29C965.38,645.79 962.45,645 960.45,643.04C958.45,641.09 956.91,637.82 956.04,634.57C955.18,631.32 954.87,626.49 955.24,623.53C955.61,620.57 956.56,618.84 958.26,616.82C959.97,614.8 962.8,613.22 965.48,611.39C968.16,609.57 971.82,607.19 974.33,605.86C976.84,604.53 978.66,603.58 980.54,603.42C982.41,603.27 984.57,604.42 985.56,604.95Z" fill="none" stroke="#7a7a7a" stroke-width="0.8"/>
<path d="M983.75,605.45C984.69,605.95 985.14,606.97 985.62,608.67C986.1,610.38 986.46,613.06 986.63,615.7C986.8,618.35 986.73,621.7 986.66,624.54C986.59,627.39 986.77,629.85 986.22,632.78C985.67,635.71 985.11,639.96 983.34,642.12C981.57,644.27 978.14,645.31 975.61,645.71C973.08,646.11 970.64,645.06 968.15,644.51C965.65,643.97 962.53,644.09 960.62,642.42C958.7,640.75 957.38,637.44 956.66,634.49C955.95,631.53 955.97,627.43 956.32,624.67C956.67,621.92 957.24,620.02 958.77,617.96C960.29,615.91 962.9,614.17 965.47,612.34C968.04,610.51 971.77,608.12 974.18,607C976.6,605.89 978.36,605.92 979.95,605.67C981.55,605.41 982.8,604.95 983.75,605.45Z" fill="none" stroke="#7a7a7a" stroke-width="0.55"/>
<path d="M982.98,607.11C983.8,607.58 983.67,607.63 984.06,609.18C984.45,610.73 985.11,613.9 985.33,616.41C985.54,618.92 985.4,621.67 985.36,624.26C985.32,626.85 985.59,629.13 985.1,631.96C984.61,634.79 984.09,639.21 982.42,641.26C980.76,643.32 977.57,643.83 975.12,644.28C972.67,644.74 970.15,644.52 967.72,644C965.29,643.47 962.27,642.7 960.53,641.12C958.79,639.55 957.88,637.39 957.31,634.54C956.73,631.7 956.69,626.74 957.07,624.07C957.44,621.39 958.05,620.39 959.55,618.48C961.04,616.57 963.71,614.38 966.04,612.61C968.37,610.83 971.34,608.88 973.52,607.84C975.7,606.8 977.56,606.49 979.13,606.36C980.71,606.24 982.16,606.64 982.98,607.11Z" fill="#000" fill-opacity="0.032" stroke="#5a5a5a" stroke-width="0.55"/>
<path d="M981.33,608.81C982.17,609.28 982.21,609.15 982.68,610.55C983.16,611.95 984.05,614.78 984.17,617.21C984.28,619.64 983.5,622.63 983.36,625.12C983.22,627.61 983.82,629.64 983.33,632.14C982.83,634.65 981.93,638.26 980.4,640.15C978.87,642.04 976.39,642.92 974.16,643.47C971.93,644.01 969.29,643.85 967.03,643.42C964.77,642.98 962.2,642.5 960.59,640.85C958.99,639.2 957.85,636.26 957.4,633.52C956.94,630.78 957.54,626.8 957.86,624.4C958.19,621.99 958.08,620.91 959.36,619.08C960.64,617.25 963.22,615.07 965.54,613.42C967.85,611.76 971.24,610.12 973.26,609.18C975.27,608.24 976.28,607.84 977.62,607.78C978.97,607.72 980.49,608.35 981.33,608.81Z" fill="#000" fill-opacity="0.032" stroke="#5a5a5a" stroke-width="0.55"/>
<path d="M980.58,609.99C981.37,610.36 981.2,610.18 981.44,611.54C981.69,612.9 981.85,615.86 982.05,618.14C982.24,620.42 982.55,622.92 982.63,625.22C982.71,627.53 982.95,629.54 982.54,631.96C982.12,634.37 981.59,638.04 980.14,639.72C978.69,641.4 975.94,641.7 973.83,642.05C971.72,642.4 969.63,642.21 967.49,641.83C965.36,641.45 962.46,641.24 961.01,639.77C959.57,638.31 959.29,635.53 958.83,633.05C958.36,630.57 958.01,627.19 958.23,624.88C958.45,622.56 958.82,620.88 960.14,619.16C961.45,617.45 964.08,616 966.12,614.59C968.16,613.18 970.61,611.56 972.37,610.69C974.14,609.81 975.35,609.46 976.72,609.34C978.09,609.23 979.79,609.63 980.58,609.99Z" fill="#000" fill-opacity="0.032" stroke="#5a5a5a" stroke-width="0.55"/>
<path d="M978.98,610.62C979.66,610.99 979.83,611.14 980.13,612.54C980.44,613.95 980.67,616.85 980.83,619.05C980.99,621.24 981.02,623.56 981.1,625.71C981.18,627.87 981.76,629.81 981.31,631.97C980.87,634.14 979.83,637.11 978.44,638.69C977.05,640.27 974.84,641 972.99,641.45C971.14,641.9 969.18,641.81 967.34,641.37C965.5,640.92 963.36,640.17 961.96,638.79C960.56,637.41 959.56,635.44 958.94,633.1C958.32,630.77 957.98,626.99 958.24,624.77C958.49,622.54 959.19,621.3 960.47,619.76C961.74,618.22 964.08,616.87 965.9,615.53C967.71,614.18 969.68,612.55 971.37,611.69C973.06,610.83 974.79,610.52 976.06,610.35C977.32,610.17 978.3,610.26 978.98,610.62Z" fill="#000" fill-opacity="0.032" stroke="#5a5a5a" stroke-width="0.55"/>
<path d="M978.25,612.34C978.81,612.68 978.95,612.92 979.19,614.2C979.43,615.48 979.49,618.12 979.67,620.04C979.86,621.96 980.31,623.83 980.3,625.71C980.28,627.58 980,629.3 979.57,631.27C979.15,633.24 978.9,636 977.73,637.52C976.56,639.05 974.37,640.05 972.55,640.42C970.72,640.78 968.47,640.1 966.78,639.72C965.08,639.33 963.58,639.2 962.38,638.11C961.18,637.01 960.08,635.29 959.59,633.15C959.1,631.01 959.11,627.35 959.42,625.27C959.74,623.18 960.51,622.04 961.47,620.65C962.43,619.26 963.63,618.19 965.2,616.93C966.77,615.66 969.11,613.85 970.88,613.06C972.65,612.26 974.57,612.27 975.8,612.15C977.03,612.03 977.68,612 978.25,612.34Z" fill="#000" fill-opacity="0.032" stroke="#5a5a5a" stroke-width="0.55"/>
<path d="M976.64,613.64C977.18,613.96 977.8,614.09 978.09,615.22C978.39,616.35 978.4,618.73 978.42,620.44C978.43,622.16 978.19,623.67 978.17,625.51C978.14,627.34 978.62,629.47 978.29,631.47C977.96,633.46 977.27,636.12 976.17,637.46C975.08,638.79 973.26,639.21 971.71,639.49C970.16,639.77 968.38,639.5 966.87,639.14C965.36,638.78 963.84,638.53 962.66,637.34C961.47,636.15 960.27,633.89 959.74,632.01C959.2,630.13 959.16,627.76 959.46,626.07C959.76,624.38 960.48,623.34 961.55,621.86C962.62,620.39 964.31,618.41 965.88,617.23C967.45,616.04 969.46,615.42 970.95,614.77C972.44,614.12 973.88,613.51 974.83,613.32C975.77,613.13 976.1,613.33 976.64,613.64Z" fill="#000" fill-opacity="0.032" stroke="#5a5a5a" stroke-width="0.55"/>
<path d="M975.9,614.96C976.46,615.27 977.02,615.16 977.29,616.18C977.56,617.19 977.41,619.37 977.5,621.05C977.58,622.74 977.8,624.59 977.82,626.27C977.84,627.95 978.05,629.49 977.64,631.14C977.23,632.79 976.39,634.98 975.36,636.16C974.32,637.34 972.84,637.84 971.41,638.21C969.98,638.59 968.16,638.65 966.79,638.41C965.41,638.16 964.11,637.87 963.14,636.74C962.17,635.61 961.44,633.35 960.97,631.64C960.49,629.93 960.21,628.08 960.29,626.47C960.38,624.85 960.64,623.32 961.46,621.95C962.29,620.58 963.72,619.2 965.26,618.24C966.8,617.29 969.26,616.88 970.7,616.22C972.14,615.56 973.04,614.51 973.9,614.29C974.77,614.08 975.33,614.65 975.9,614.96Z" fill="#000" fill-opacity="0.032" stroke="#5a5a5a" stroke-width="0.55"/>
<path d="M974.76,616.05C975.27,616.36 975.75,616.8 975.99,617.77C976.23,618.73 976.22,620.41 976.19,621.82C976.15,623.24 975.72,624.75 975.76,626.26C975.81,627.76 976.73,629.27 976.46,630.84C976.19,632.41 975.03,634.61 974.13,635.67C973.23,636.74 972.21,636.98 971.04,637.24C969.88,637.5 968.44,637.49 967.13,637.24C965.83,637 964.14,636.64 963.23,635.77C962.32,634.89 962.03,633.63 961.67,631.98C961.31,630.33 960.98,627.49 961.06,625.86C961.14,624.23 961.38,623.17 962.16,622.19C962.95,621.21 964.56,620.87 965.79,620C967.01,619.13 968.32,617.67 969.51,616.99C970.69,616.31 972.03,616.07 972.9,615.92C973.78,615.76 974.24,615.74 974.76,616.05Z" fill="#000" fill-opacity="0.032" stroke="#444" stroke-width="0.55"/>
<path d="M974.11,618.07C974.64,618.24 974.63,618.02 974.86,618.73C975.1,619.45 975.44,621.04 975.5,622.35C975.56,623.67 975.27,625.23 975.2,626.62C975.13,628.01 975.41,629.31 975.09,630.71C974.76,632.11 974.07,634.01 973.25,635.01C972.42,636 971.17,636.44 970.14,636.68C969.12,636.93 968.31,636.75 967.1,636.47C965.88,636.2 963.71,635.82 962.85,635.03C961.98,634.24 962.1,633.11 961.91,631.74C961.71,630.36 961.64,628.11 961.68,626.78C961.71,625.44 961.43,624.75 962.14,623.73C962.84,622.72 964.65,621.54 965.92,620.68C967.19,619.82 968.8,619.1 969.76,618.6C970.72,618.1 970.97,617.76 971.69,617.67C972.42,617.58 973.58,617.89 974.11,618.07Z" fill="#000" fill-opacity="0.032" stroke="#444" stroke-width="0.55"/>
<path d="M973.12,618.64C973.59,618.82 973.69,619.21 973.76,620.02C973.83,620.84 973.59,622.41 973.54,623.55C973.48,624.68 973.4,625.76 973.41,626.82C973.42,627.88 973.73,628.68 973.6,629.89C973.46,631.1 973.29,633.06 972.59,634.08C971.88,635.1 970.45,635.88 969.36,636.02C968.28,636.15 967.03,635.13 966.07,634.89C965.11,634.66 964.24,635.22 963.62,634.61C963,634.01 962.62,632.55 962.36,631.26C962.1,629.98 961.96,628.15 962.04,626.88C962.12,625.62 962.24,624.66 962.84,623.69C963.45,622.72 964.76,621.72 965.69,621.06C966.63,620.4 967.59,620.06 968.47,619.71C969.34,619.36 970.17,619.13 970.95,618.95C971.72,618.77 972.65,618.46 973.12,618.64Z" fill="#000" fill-opacity="0.032" stroke="#444" stroke-width="0.55"/>
<path d="M972.1,620.16C972.43,620.4 972.4,620.83 972.56,621.4C972.71,621.97 973.08,622.69 973.03,623.6C972.98,624.51 972.36,625.82 972.27,626.84C972.17,627.85 972.68,628.61 972.47,629.7C972.27,630.8 971.53,632.61 971.05,633.4C970.56,634.19 970.32,634.29 969.55,634.45C968.78,634.6 967.36,634.42 966.42,634.33C965.47,634.23 964.52,634.44 963.87,633.85C963.22,633.27 962.73,631.96 962.51,630.81C962.29,629.67 962.34,628.11 962.56,626.99C962.77,625.88 963.23,624.91 963.81,624.13C964.38,623.34 965.22,622.81 966.01,622.29C966.8,621.77 967.8,621.39 968.57,621C969.34,620.61 970.03,620.08 970.62,619.94C971.21,619.8 971.78,619.92 972.1,620.16Z" fill="#000" fill-opacity="0.032" stroke="#444" stroke-width="0.55"/>
<path d="M971.14,621.16C971.35,621.32 971.33,621.54 971.4,622.18C971.47,622.83 971.48,624.18 971.53,625.04C971.59,625.9 971.81,626.6 971.75,627.33C971.69,628.06 971.39,628.59 971.18,629.42C970.98,630.25 971,631.53 970.52,632.3C970.04,633.08 969.07,633.82 968.29,634.07C967.52,634.32 966.57,634.07 965.87,633.82C965.17,633.56 964.57,633.21 964.09,632.55C963.61,631.9 963.18,630.84 963.01,629.9C962.83,628.95 962.92,627.69 963.04,626.87C963.16,626.05 963.2,625.47 963.71,624.97C964.21,624.47 965.38,624.35 966.07,623.87C966.77,623.39 967.23,622.52 967.9,622.08C968.57,621.64 969.56,621.37 970.1,621.22C970.64,621.07 970.92,621 971.14,621.16Z" fill="#000" fill-opacity="0.032" stroke="#444" stroke-width="0.55"/>
<path d="M969.39,622.62C969.57,622.82 969.71,623.2 969.85,623.64C970,624.09 970.1,624.68 970.23,625.27C970.35,625.85 970.55,626.46 970.61,627.18C970.66,627.9 970.74,628.77 970.56,629.59C970.37,630.42 969.96,631.55 969.5,632.12C969.04,632.7 968.28,632.95 967.79,633.02C967.3,633.09 967.08,632.67 966.56,632.55C966.04,632.44 965.12,632.73 964.68,632.34C964.24,631.96 964.03,630.97 963.91,630.23C963.79,629.48 963.87,628.54 963.95,627.88C964.03,627.23 964.13,626.85 964.38,626.29C964.64,625.73 964.91,625.06 965.46,624.53C966.01,623.99 967.13,623.4 967.68,623.05C968.23,622.7 968.49,622.49 968.77,622.42C969.06,622.34 969.2,622.41 969.39,622.62Z" fill="#000" fill-opacity="0.032" stroke="#444" stroke-width="0.55"/>
<path d="M969.25,624.05C969.45,624.23 969.11,624.61 969.05,625.04C969,625.46 968.95,626.23 968.91,626.59C968.87,626.96 968.8,626.8 968.82,627.22C968.83,627.64 968.95,628.4 968.99,629.09C969.03,629.79 969.29,630.99 969.06,631.41C968.84,631.83 968.16,631.62 967.66,631.61C967.15,631.6 966.48,631.44 966.06,631.34C965.63,631.24 965.45,631.25 965.1,630.99C964.74,630.73 964.15,630.35 963.92,629.77C963.69,629.19 963.56,628.13 963.72,627.51C963.89,626.89 964.65,626.44 964.92,626.03C965.18,625.62 964.99,625.35 965.3,625.06C965.62,624.78 966.38,624.54 966.81,624.35C967.23,624.16 967.44,623.98 967.85,623.93C968.26,623.88 969.05,623.86 969.25,624.05Z" fill="#000" fill-opacity="0.032" stroke="#444" stroke-width="0.55"/>
<path d="M967.55,625.25C967.6,625.23 968.04,625.34 968.12,625.66C968.19,625.97 968.06,626.8 967.98,627.12C967.9,627.44 967.57,627.28 967.64,627.58C967.71,627.89 968.34,628.56 968.4,628.94C968.46,629.33 968.24,629.54 967.98,629.89C967.73,630.24 967.24,630.88 966.87,631.05C966.49,631.23 966.02,631.07 965.73,630.93C965.44,630.78 965.25,630.49 965.14,630.2C965.03,629.91 965.2,629.54 965.09,629.18C964.99,628.82 964.6,628.35 964.53,628.06C964.45,627.76 964.45,627.68 964.66,627.4C964.86,627.13 965.41,626.61 965.75,626.41C966.08,626.2 966.3,626.26 966.65,626.15C966.99,626.05 967.67,625.92 967.82,625.77C967.97,625.62 967.5,625.27 967.55,625.25Z" fill="#fff" stroke="#444" stroke-width="0.55"/>
<path fill="#222" d="M966.0 650.8h.9v.9h-.9zM992.1 590.0h.9v.9h-.9zM991.0 613.7h.9v.9h-.9zM990.5 609.2h.9v.9h-.9zM992.5 618.0h.9v.9h-.9zM969.3 646.9h.9v.9h-.9zM991.6 610.4h.9v.9h-.9zM989.5 610.1h.9v.9h-.9zM987.9 606.8h.9v.9h-.9zM962.5 609.8h.9v.9h-.9zM986.1 646.0h.9v.9h-.9zM987.2 644.8h.9v.9h-.9zM971.3 648.9h.9v.9h-.9zM989.0 600.9h.9v.9h-.9zM991.5 627.4h.9v.9h-.9zM962.7 649.3h.9v.9h-.9zM984.8 642.8h.9v.9h-.9zM990.7 598.5h.9v.9h-.9zM1001.7 614.9h.9v.9h-.9zM973.8 602.7h.9v.9h-.9zM977.3 653.8h.9v.9h-.9zM977.3 651.2h.9v.9h-.9zM953.0 638.4h.9v.9h-.9zM961.0 612.8h.9v.9h-.9zM958.9 649.8h.9v.9h-.9zM959.8 643.5h.9v.9h-.9zM958.8 644.0h.9v.9h-.9zM983.3 599.4h.9v.9h-.9zM992.7 593.2h.9v.9h-.9zM973.6 648.4h.9v.9h-.9zM978.7 645.4h.9v.9h-.9zM974.0 603.3h.9v.9h-.9zM988.7 605.0h.9v.9h-.9zM974.3 655.7h.9v.9h-.9zM991.8 618.4h.9v.9h-.9zM977.1 602.5h.9v.9h-.9zM965.2 653.4h.9v.9h-.9zM988.5 604.4h.9v.9h-.9zM959.7 643.8h.9v.9h-.9zM988.4 598.2h.9v.9h-.9zM988.9 614.9h.9v.9h-.9zM977.3 647.3h.9v.9h-.9zM965.3 608.6h.9v.9h-.9zM971.2 646.6h.9v.9h-.9zM978.7 645.7h.9v.9h-.9zM983.3 599.4h.9v.9h-.9zM987.6 596.9h.9v.9h-.9zM973.2 605.2h.9v.9h-.9zM978.2 601.8h.9v.9h-.9zM989.9 629.0h.9v.9h-.9zM961.1 647.1h.9v.9h-.9zM972.6 605.0h.9v.9h-.9zM991.5 597.2h.9v.9h-.9zM985.1 603.1h.9v.9h-.9zM984.7 596.0h.9v.9h-.9zM991.1 600.4h.9v.9h-.9zM992.7 610.6h.9v.9h-.9zM988.1 599.3h.9v.9h-.9zM966.0 608.6h.9v.9h-.9zM971.4 646.2h.9v.9h-.9zM976.0 604.6h.9v.9h-.9zM989.5 614.8h.9v.9h-.9zM983.6 599.4h.9v.9h-.9zM988.3 611.0h.9v.9h-.9zM954.9 639.4h.9v.9h-.9zM995.7 616.5h.9v.9h-.9zM988.2 636.7h.9v.9h-.9zM987.1 603.6h.9v.9h-.9zM977.6 599.3h.9v.9h-.9zM989.3 620.5h.9v.9h-.9zM985.3 601.2h.9v.9h-.9zM989.0 635.6h.9v.9h-.9zM983.6 599.7h.9v.9h-.9zM970.6 603.7h.9v.9h-.9zM986.1 601.7h.9v.9h-.9zM985.0 604.0h.9v.9h-.9zM984.0 603.8h.9v.9h-.9zM983.8 600.5h.9v.9h-.9zM973.0 604.1h.9v.9h-.9zM985.4 646.5h.9v.9h-.9zM961.2 609.3h.9v.9h-.9zM989.0 599.3h.9v.9h-.9zM985.3 602.4h.9v.9h-.9zM988.8 603.4h.9v.9h-.9zM974.6 603.7h.9v.9h-.9zM987.6 597.9h.9v.9h-.9zM975.2 649.8h.9v.9h-.9zM985.2 643.5h.9v.9h-.9zM967.1 647.6h.9v.9h-.9zM952.8 635.0h.9v.9h-.9zM995.8 601.2h.9v.9h-.9zM988.0 599.2h.9v.9h-.9zM988.1 601.9h.9v.9h-.9zM1002.8 608.1h.9v.9h-.9zM992.6 609.0h.9v.9h-.9zM991.1 599.8h.9v.9h-.9zM993.6 632.4h.9v.9h-.9zM990.3 622.9h.9v.9h-.9zM992.4 604.4h.9v.9h-.9zM963.7 608.1h.9v.9h-.9zM972.6 649.0h.9v.9h-.9zM974.6 649.1h.9v.9h-.9zM983.1 597.5h.9v.9h-.9zM989.2 621.1h.9v.9h-.9zM978.4 597.3h.9v.9h-.9zM967.7 601.0h.9v.9h-.9zM985.8 604.3h.9v.9h-.9zM989.5 609.6h.9v.9h-.9zM957.4 644.6h.9v.9h-.9zM990.1 610.5h.9v.9h-.9zM986.7 603.8h.9v.9h-.9zM959.4 649.3h.9v.9h-.9zM988.1 609.7h.9v.9h-.9zM991.6 596.7h.9v.9h-.9zM994.7 591.7h.9v.9h-.9zM971.0 604.8h.9v.9h-.9zM998.9 607.1h.9v.9h-.9zM992.2 593.9h.9v.9h-.9zM987.3 604.2h.9v.9h-.9zM988.6 632.5h.9v.9h-.9zM978.6 645.4h.9v.9h-.9zM991.1 604.8h.9v.9h-.9zM981.7 592.1h.9v.9h-.9zM979.5 603.3h.9v.9h-.9zM979.2 598.3h.9v.9h-.9zM989.4 613.1h.9v.9h-.9zM989.9 609.0h.9v.9h-.9zM960.7 647.8h.9v.9h-.9zM981.9 650.5h.9v.9h-.9zM961.9 603.1h.9v.9h-.9zM953.8 616.4h.9v.9h-.9zM992.5 593.7h.9v.9h-.9zM970.1 597.8h.9v.9h-.9zM987.9 600.7h.9v.9h-.9zM960.4 651.7h.9v.9h-.9zM982.9 601.9h.9v.9h-.9zM959.3 642.1h.9v.9h-.9zM954.5 621.4h.9v.9h-.9zM989.8 614.5h.9v.9h-.9zM974.2 603.1h.9v.9h-.9zM974.4 647.6h.9v.9h-.9zM997.7 629.7h.9v.9h-.9zM989.2 621.7h.9v.9h-.9zM989.4 644.2h.9v.9h-.9zM983.7 643.6h.9v.9h-.9zM992.1 625.2h.9v.9h-.9zM991.6 598.0h.9v.9h-.9zM961.0 645.2h.9v.9h-.9zM986.7 604.3h.9v.9h-.9zM984.4 602.7h.9v.9h-.9zM965.0 601.1h.9v.9h-.9zM952.4 634.5h.9v.9h-.9zM988.4 599.1h.9v.9h-.9zM973.9 605.2h.9v.9h-.9zM953.0 630.8h.9v.9h-.9zM988.5 624.1h.9v.9h-.9zM962.5 646.7h.9v.9h-.9zM981.3 593.7h.9v.9h-.9zM986.6 636.7h.9v.9h-.9zM985.0 601.9h.9v.9h-.9zM987.2 604.1h.9v.9h-.9zM979.6 603.2h.9v.9h-.9zM986.2 599.7h.9v.9h-.9zM988.6 631.1h.9v.9h-.9zM987.3 606.4h.9v.9h-.9zM957.2 641.5h.9v.9h-.9zM986.7 640.2h.9v.9h-.9zM970.5 606.5h.9v.9h-.9zM978.0 601.7h.9v.9h-.9zM963.6 601.5h.9v.9h-.9zM978.2 602.8h.9v.9h-.9zM961.0 647.0h.9v.9h-.9zM989.7 624.3h.9v.9h-.9zM985.3 599.2h.9v.9h-.9zM966.1 609.5h.9v.9h-.9zM964.3 607.2h.9v.9h-.9zM972.0 606.7h.9v.9h-.9zM981.4 601.4h.9v.9h-.9zM966.6 606.5h.9v.9h-.9zM954.6 608.0h.9v.9h-.9zM988.7 621.8h.9v.9h-.9zM963.4 647.7h.9v.9h-.9zM987.2 655.3h.9v.9h-.9zM950.7 622.6h.9v.9h-.9zM969.8 605.5h.9v.9h-.9zM983.2 645.8h.9v.9h-.9zM976.6 649.0h.9v.9h-.9zM986.9 598.6h.9v.9h-.9zM988.2 605.1h.9v.9h-.9zM963.2 602.2h.9v.9h-.9zM966.7 606.0h.9v.9h-.9zM986.1 603.9h.9v.9h-.9zM984.0 597.3h.9v.9h-.9zM969.8 646.5h.9v.9h-.9zM974.6 602.4h.9v.9h-.9zM982.8 597.4h.9v.9h-.9zM993.8 613.5h.9v.9h-.9zM971.9 647.3h.9v.9h-.9zM962.2 647.0h.9v.9h-.9zM967.8 646.2h.9v.9h-.9zM989.7 607.1h.9v.9h-.9zM975.5 603.1h.9v.9h-.9zM976.0 651.2h.9v.9h-.9zM972.1 605.1h.9v.9h-.9zM987.2 605.5h.9v.9h-.9zM988.8 608.0h.9v.9h-.9zM986.6 601.5h.9v.9h-.9zM970.6 606.0h.9v.9h-.9zM980.5 646.3h.9v.9h-.9zM962.5 599.1h.9v.9h-.9zM971.1 598.7h.9v.9h-.9zM971.6 603.6h.9v.9h-.9zM983.2 599.5h.9v.9h-.9zM956.6 648.0h.9v.9h-.9zM968.7 596.3h.9v.9h-.9zM963.1 644.4h.9v.9h-.9zM985.7 649.1h.9v.9h-.9zM961.8 643.8h.9v.9h-.9zM989.9 605.9h.9v.9h-.9zM959.7 645.1h.9v.9h-.9zM966.2 602.7h.9v.9h-.9zM987.1 593.8h.9v.9h-.9zM994.8 619.2h.9v.9h-.9zM971.3 602.7h.9v.9h-.9zM966.4 609.1h.9v.9h-.9zM980.2 647.6h.9v.9h-.9zM984.6 645.6h.9v.9h-.9zM989.8 617.4h.9v.9h-.9zM960.0 647.8h.9v.9h-.9zM954.1 634.1h.9v.9h-.9zM992.4 607.5h.9v.9h-.9zM985.8 641.3h.9v.9h-.9zM986.8 638.5h.9v.9h-.9zM979.1 590.1h.9v.9h-.9zM982.9 646.7h.9v.9h-.9zM992.4 610.7h.9v.9h-.9zM980.7 646.3h.9v.9h-.9zM971.7 651.0h.9v.9h-.9zM990.9 620.1h.9v.9h-.9zM984.0 644.0h.9v.9h-.9zM966.5 604.7h.9v.9h-.9zM972.1 647.4h.9v.9h-.9zM980.2 602.9h.9v.9h-.9zM988.8 608.0h.9v.9h-.9zM994.5 605.7h.9v.9h-.9zM957.6 643.7h.9v.9h-.9zM988.8 625.6h.9v.9h-.9zM987.7 602.3h.9v.9h-.9zM988.8 632.3h.9v.9h-.9zM980.2 601.3h.9v.9h-.9zM981.5 645.3h.9v.9h-.9zM987.7 609.9h.9v.9h-.9zM991.8 596.5h.9v.9h-.9zM984.0 602.9h.9v.9h-.9zM988.0 613.3h.9v.9h-.9zM978.9 600.3h.9v.9h-.9zM965.6 648.8h.9v.9h-.9zM965.4 606.5h.9v.9h-.9zM958.8 641.5h.9v.9h-.9zM987.2 603.3h.9v.9h-.9zM963.9 607.9h.9v.9h-.9zM985.1 601.5h.9v.9h-.9zM983.9 643.5h.9v.9h-.9zM988.2 632.4h.9v.9h-.9zM989.8 603.1h.9v.9h-.9zM960.5 611.5h.9v.9h-.9zM960.5 644.9h.9v.9h-.9zM963.8 648.7h.9v.9h-.9zM987.5 606.2h.9v.9h-.9zM986.5 606.3h.9v.9h-.9zM988.7 626.2h.9v.9h-.9zM990.2 603.4h.9v.9h-.9zM949.3 615.4h.9v.9h-.9zM990.6 610.6h.9v.9h-.9zM979.4 646.1h.9v.9h-.9zM991.9 596.7h.9v.9h-.9zM966.9 605.0h.9v.9h-.9zM980.3 597.7h.9v.9h-.9zM970.5 646.9h.9v.9h-.9zM985.8 639.0h.9v.9h-.9zM965.1 608.0h.9v.9h-.9zM984.8 602.6h.9v.9h-.9zM986.5 640.1h.9v.9h-.9zM988.9 610.0h.9v.9h-.9zM962.2 612.2h.9v.9h-.9zM979.1 651.3h.9v.9h-.9zM993.0 607.5h.9v.9h-.9zM993.7 624.5h.9v.9h-.9zM984.9 644.6h.9v.9h-.9zM956.2 613.9h.9v.9h-.9zM984.1 648.8h.9v.9h-.9zM1000.6 609.2h.9v.9h-.9zM958.7 646.8h.9v.9h-.9zM991.7 610.0h.9v.9h-.9zM983.5 601.6h.9v.9h-.9zM986.2 602.9h.9v.9h-.9zM989.0 646.3h.9v.9h-.9zM961.3 646.8h.9v.9h-.9zM999.6 606.1h.9v.9h-.9zM979.2 602.2h.9v.9h-.9zM959.2 613.4h.9v.9h-.9zM983.9 601.6h.9v.9h-.9zM972.3 601.8h.9v.9h-.9zM989.7 600.6h.9v.9h-.9zM998.2 593.0h.9v.9h-.9zM968.9 607.2h.9v.9h-.9zM961.9 645.1h.9v.9h-.9zM990.0 625.8h.9v.9h-.9zM960.5 608.9h.9v.9h-.9zM991.2 610.4h.9v.9h-.9zM990.2 603.3h.9v.9h-.9zM985.2 645.5h.9v.9h-.9zM991.0 610.1h.9v.9h-.9zM967.5 606.3h.9v.9h-.9zM990.5 612.5h.9v.9h-.9zM989.7 627.0h.9v.9h-.9zM987.9 631.6h.9v.9h-.9zM988.5 603.8h.9v.9h-.9zM966.5 646.3h.9v.9h-.9zM970.6 602.6h.9v.9h-.9zM986.6 601.5h.9v.9h-.9zM972.7 600.9h.9v.9h-.9zM992.8 602.5h.9v.9h-.9zM981.4 646.0h.9v.9h-.9zM995.9 617.8h.9v.9h-.9zM969.9 605.7h.9v.9h-.9zM962.2 598.6h.9v.9h-.9zM989.7 632.2h.9v.9h-.9zM991.6 615.3h.9v.9h-.9zM960.2 643.7h.9v.9h-.9zM957.7 641.1h.9v.9h-.9zM984.6 597.9h.9v.9h-.9zM962.3 644.9h.9v.9h-.9zM971.8 604.2h.9v.9h-.9zM966.9 607.9h.9v.9h-.9zM963.3 610.6h.9v.9h-.9zM986.3 644.2h.9v.9h-.9zM969.0 646.7h.9v.9h-.9zM986.0 601.3h.9v.9h-.9zM960.4 646.7h.9v.9h-.9zM987.8 637.7h.9v.9h-.9zM981.5 602.7h.9v.9h-.9zM953.7 625.7h.9v.9h-.9zM990.3 606.7h.9v.9h-.9zM988.0 604.8h.9v.9h-.9zM970.8 599.6h.9v.9h-.9zM984.2 600.7h.9v.9h-.9zM965.0 610.9h.9v.9h-.9zM991.3 596.3h.9v.9h-.9zM992.7 634.6h.9v.9h-.9zM958.0 646.4h.9v.9h-.9zM991.8 633.3h.9v.9h-.9zM973.0 646.6h.9v.9h-.9zM988.3 645.3h.9v.9h-.9zM983.4 603.2h.9v.9h-.9zM990.8 614.3h.9v.9h-.9zM970.3 607.0h.9v.9h-.9zM984.2 643.2h.9v.9h-.9zM987.9 605.0h.9v.9h-.9zM994.1 626.5h.9v.9h-.9zM986.7 647.5h.9v.9h-.9zM967.2 603.7h.9v.9h-.9zM972.2 604.2h.9v.9h-.9zM960.5 612.8h.9v.9h-.9zM986.8 601.4h.9v.9h-.9zM982.4 603.9h.9v.9h-.9zM965.9 646.1h.9v.9h-.9zM980.2 598.5h.9v.9h-.9zM976.4 648.3h.9v.9h-.9zM955.4 606.4h.9v.9h-.9zM990.3 609.1h.9v.9h-.9zM992.1 610.7h.9v.9h-.9zM965.4 646.5h.9v.9h-.9zM992.2 631.6h.9v.9h-.9zM986.8 635.7h.9v.9h-.9zM988.8 614.7h.9v.9h-.9zM988.4 604.7h.9v.9h-.9zM961.7 605.7h.9v.9h-.9zM992.2 614.5h.9v.9h-.9zM975.9 647.9h.9v.9h-.9z"/>
<path d="M1147.54,604.54C1148.5,605.02 1148.96,605.38 1149.47,607.1C1149.98,608.82 1150.57,611.99 1150.63,614.87C1150.68,617.74 1149.96,621.43 1149.81,624.34C1149.67,627.25 1150.16,629.3 1149.76,632.33C1149.36,635.37 1149.12,640.26 1147.4,642.57C1145.68,644.88 1142.23,645.7 1139.44,646.18C1136.64,646.66 1133.41,645.92 1130.64,645.45C1127.87,644.98 1124.8,645.1 1122.83,643.37C1120.87,641.63 1119.53,638.34 1118.82,635.04C1118.11,631.74 1118.17,626.56 1118.57,623.56C1118.98,620.57 1119.67,619.26 1121.26,617.09C1122.85,614.92 1125.42,612.42 1128.1,610.53C1130.79,608.64 1134.76,606.81 1137.37,605.77C1139.97,604.73 1142.02,604.48 1143.72,604.28C1145.41,604.07 1146.58,604.07 1147.54,604.54Z" fill="none" stroke="#7a7a7a" stroke-width="0.8"/>
<path d="M1146.84,606.23C1147.71,606.76 1147.83,606.77 1148.21,608.48C1148.58,610.18 1148.91,613.9 1149.1,616.46C1149.29,619.02 1149.48,621.24 1149.35,623.84C1149.22,626.45 1148.84,629.11 1148.32,632.09C1147.81,635.08 1147.87,639.61 1146.24,641.76C1144.62,643.92 1141.22,644.54 1138.58,645.03C1135.94,645.53 1133,645.2 1130.39,644.74C1127.78,644.28 1124.73,643.94 1122.91,642.29C1121.1,640.65 1120.1,637.8 1119.49,634.86C1118.87,631.92 1118.82,627.47 1119.21,624.68C1119.6,621.89 1120.28,620.3 1121.82,618.12C1123.37,615.94 1125.99,613.39 1128.49,611.62C1130.99,609.85 1134.43,608.56 1136.85,607.51C1139.26,606.46 1141.33,605.53 1142.99,605.31C1144.66,605.1 1145.97,605.71 1146.84,606.23Z" fill="none" stroke="#7a7a7a" stroke-width="0.55"/>
<path d="M1145.67,606.84C1146.67,607.32 1147.04,607.85 1147.37,609.43C1147.69,611 1147.51,613.71 1147.61,616.31C1147.72,618.9 1148.11,622.29 1148.01,624.98C1147.9,627.67 1147.55,629.83 1146.98,632.45C1146.41,635.07 1146.14,638.69 1144.58,640.71C1143.02,642.72 1139.93,644.07 1137.61,644.53C1135.29,644.99 1132.99,644.05 1130.64,643.45C1128.29,642.86 1125.27,642.54 1123.53,640.96C1121.8,639.37 1120.8,636.61 1120.21,633.94C1119.63,631.28 1119.74,627.5 1120.02,624.97C1120.31,622.44 1120.58,620.84 1121.93,618.76C1123.28,616.68 1125.79,614.32 1128.14,612.49C1130.5,610.67 1133.87,608.81 1136.07,607.82C1138.28,606.82 1139.78,606.66 1141.38,606.5C1142.98,606.34 1144.67,606.35 1145.67,606.84Z" fill="#000" fill-opacity="0.032" stroke="#5a5a5a" stroke-width="0.55"/>
<path d="M1144.41,608.1C1145.15,608.66 1145,609.26 1145.32,610.9C1145.64,612.53 1146.09,615.64 1146.33,617.93C1146.57,620.21 1146.79,622.28 1146.75,624.62C1146.7,626.95 1146.57,629.32 1146.06,631.95C1145.56,634.57 1145.18,638.47 1143.71,640.38C1142.24,642.29 1139.43,642.98 1137.25,643.42C1135.06,643.85 1132.85,643.4 1130.59,642.97C1128.33,642.54 1125.41,642.41 1123.7,640.84C1121.99,639.27 1120.81,636.25 1120.31,633.57C1119.82,630.89 1120.38,627.29 1120.73,624.76C1121.08,622.23 1121.17,620.2 1122.43,618.4C1123.68,616.6 1126.17,615.41 1128.26,613.95C1130.36,612.49 1132.88,610.72 1134.99,609.64C1137.1,608.57 1139.35,607.76 1140.92,607.5C1142.49,607.24 1143.68,607.53 1144.41,608.1Z" fill="#000" fill-opacity="0.032" stroke="#5a5a5a" stroke-width="0.55"/>
<path d="M1143.29,609.72C1144.15,610.11 1144.36,610.11 1144.71,611.56C1145.07,613.01 1145.44,616.26 1145.42,618.43C1145.4,620.59 1144.65,622.26 1144.58,624.55C1144.52,626.84 1145.4,629.68 1145.01,632.17C1144.62,634.65 1143.63,637.81 1142.23,639.47C1140.84,641.13 1138.71,641.75 1136.65,642.15C1134.6,642.54 1132.01,642.2 1129.9,641.83C1127.78,641.46 1125.47,641.34 1123.98,639.92C1122.49,638.5 1121.43,635.87 1120.95,633.3C1120.47,630.73 1120.8,626.77 1121.12,624.51C1121.44,622.25 1121.71,621.41 1122.89,619.75C1124.07,618.09 1126.11,616.09 1128.17,614.55C1130.24,613.01 1133.37,611.39 1135.27,610.51C1137.17,609.62 1138.25,609.35 1139.59,609.22C1140.93,609.09 1142.44,609.33 1143.29,609.72Z" fill="#000" fill-opacity="0.032" stroke="#5a5a5a" stroke-width="0.55"/>
<path d="M1142.24,610.67C1142.95,611.03 1142.78,611.35 1143.12,612.71C1143.46,614.08 1144.09,616.82 1144.26,618.85C1144.44,620.88 1144.29,622.77 1144.15,624.9C1144.01,627.03 1143.81,629.33 1143.42,631.63C1143.02,633.93 1143.08,637.14 1141.79,638.69C1140.5,640.25 1137.64,640.64 1135.67,640.98C1133.69,641.32 1131.76,641.03 1129.94,640.76C1128.13,640.49 1126.18,640.69 1124.75,639.37C1123.33,638.06 1121.9,635.19 1121.4,632.86C1120.9,630.52 1121.38,627.52 1121.74,625.37C1122.1,623.23 1122.52,621.62 1123.56,619.99C1124.61,618.36 1126.14,616.95 1128,615.58C1129.87,614.21 1132.95,612.62 1134.76,611.78C1136.58,610.94 1137.63,610.73 1138.87,610.55C1140.12,610.36 1141.53,610.31 1142.24,610.67Z" fill="#000" fill-opacity="0.032" stroke="#5a5a5a" stroke-width="0.55"/>
<path d="M1140.85,612.29C1141.5,612.56 1142.28,612.41 1142.5,613.71C1142.72,615.01 1142.1,618.03 1142.17,620.08C1142.24,622.12 1142.9,624.03 1142.91,625.96C1142.93,627.9 1142.63,629.75 1142.27,631.7C1141.92,633.66 1141.89,636.19 1140.77,637.69C1139.66,639.2 1137.38,640.32 1135.57,640.73C1133.77,641.13 1131.79,640.58 1129.96,640.14C1128.12,639.7 1125.89,639.39 1124.57,638.08C1123.24,636.77 1122.41,634.44 1122,632.3C1121.59,630.16 1121.77,627.26 1122.1,625.26C1122.43,623.27 1122.88,621.71 1123.99,620.32C1125.11,618.93 1127.05,618.05 1128.78,616.94C1130.52,615.83 1132.77,614.46 1134.4,613.65C1136.03,612.83 1137.48,612.28 1138.56,612.05C1139.63,611.82 1140.19,612.01 1140.85,612.29Z" fill="#000" fill-opacity="0.032" stroke="#5a5a5a" stroke-width="0.55"/>
<path d="M1139.34,613.94C1139.92,614.22 1140.18,613.96 1140.55,615.03C1140.92,616.11 1141.46,618.52 1141.57,620.38C1141.68,622.23 1141.26,624.41 1141.21,626.16C1141.15,627.91 1141.59,628.97 1141.23,630.87C1140.87,632.77 1140.14,636.09 1139.05,637.56C1137.96,639.03 1136.29,639.49 1134.7,639.7C1133.11,639.92 1131.12,639.2 1129.53,638.87C1127.94,638.55 1126.31,638.8 1125.14,637.76C1123.96,636.73 1122.84,634.63 1122.49,632.68C1122.13,630.72 1122.68,627.99 1123,626.03C1123.33,624.07 1123.51,622.24 1124.43,620.91C1125.35,619.58 1127.08,619.17 1128.52,618.06C1129.95,616.96 1131.61,615.05 1133.04,614.26C1134.47,613.48 1136.02,613.4 1137.07,613.35C1138.12,613.29 1138.76,613.65 1139.34,613.94Z" fill="#000" fill-opacity="0.032" stroke="#5a5a5a" stroke-width="0.55"/>
<path d="M1138.66,614.98C1139.2,615.2 1139.79,614.96 1139.97,615.91C1140.15,616.87 1139.77,619.1 1139.72,620.7C1139.68,622.31 1139.58,623.8 1139.69,625.54C1139.8,627.28 1140.69,629.34 1140.38,631.16C1140.07,632.98 1138.92,635.25 1137.85,636.43C1136.77,637.62 1135.34,637.94 1133.94,638.27C1132.53,638.59 1130.81,638.67 1129.41,638.38C1128,638.08 1126.57,637.6 1125.51,636.51C1124.44,635.43 1123.5,633.62 1123.04,631.87C1122.58,630.12 1122.48,627.68 1122.76,626.02C1123.04,624.37 1123.87,623.19 1124.73,621.91C1125.6,620.63 1126.61,619.35 1127.97,618.34C1129.33,617.33 1131.42,616.47 1132.88,615.84C1134.34,615.21 1135.78,614.69 1136.74,614.55C1137.7,614.4 1138.12,614.75 1138.66,614.98Z" fill="#000" fill-opacity="0.032" stroke="#5a5a5a" stroke-width="0.55"/>
<path d="M1137.96,616.44C1138.4,616.67 1138.29,616.53 1138.45,617.46C1138.61,618.39 1138.89,620.51 1138.94,622C1139,623.49 1138.82,625.02 1138.77,626.41C1138.73,627.8 1138.92,628.75 1138.67,630.33C1138.42,631.9 1138.2,634.67 1137.27,635.85C1136.34,637.03 1134.42,637.11 1133.1,637.41C1131.78,637.71 1130.52,637.94 1129.36,637.66C1128.21,637.38 1127.02,636.68 1126.17,635.74C1125.32,634.79 1124.73,633.58 1124.27,631.99C1123.82,630.4 1123.4,627.68 1123.45,626.18C1123.49,624.68 1123.69,624 1124.55,622.98C1125.4,621.95 1127.18,620.98 1128.56,620C1129.93,619.03 1131.61,617.8 1132.82,617.14C1134.04,616.49 1135,616.19 1135.85,616.08C1136.71,615.96 1137.53,616.21 1137.96,616.44Z" fill="#000" fill-opacity="0.032" stroke="#444" stroke-width="0.55"/>
<path d="M1136.2,617.72C1136.54,617.84 1136.56,617.68 1136.86,618.41C1137.17,619.13 1137.95,620.79 1138.01,622.07C1138.08,623.34 1137.26,624.73 1137.25,626.06C1137.23,627.39 1138.16,628.51 1137.91,630.04C1137.66,631.56 1136.64,634.09 1135.75,635.23C1134.86,636.37 1133.6,636.62 1132.56,636.86C1131.52,637.1 1130.5,636.96 1129.49,636.67C1128.48,636.39 1127.29,636.11 1126.49,635.15C1125.69,634.18 1125.02,632.34 1124.69,630.89C1124.36,629.44 1124.35,627.81 1124.49,626.47C1124.63,625.14 1124.84,623.81 1125.53,622.9C1126.23,621.99 1127.63,621.82 1128.64,621.01C1129.66,620.2 1130.58,618.6 1131.62,618.04C1132.65,617.49 1134.09,617.74 1134.86,617.69C1135.62,617.63 1135.87,617.6 1136.2,617.72Z" fill="#000" fill-opacity="0.032" stroke="#444" stroke-width="0.55"/>
<path d="M1135.3,618.62C1135.64,618.81 1135.71,619.3 1135.96,620.05C1136.21,620.81 1136.74,622.05 1136.8,623.14C1136.86,624.23 1136.44,625.45 1136.34,626.6C1136.24,627.76 1136.47,628.8 1136.21,630.05C1135.96,631.3 1135.37,633.21 1134.81,634.12C1134.24,635.02 1133.72,635.31 1132.83,635.46C1131.94,635.62 1130.5,635.21 1129.45,635.05C1128.4,634.89 1127.25,635.2 1126.52,634.53C1125.8,633.86 1125.37,632.31 1125.07,631.03C1124.78,629.75 1124.57,628.09 1124.74,626.85C1124.91,625.61 1125.57,624.41 1126.11,623.57C1126.65,622.72 1127,622.46 1127.99,621.78C1128.97,621.1 1131.01,619.95 1132,619.48C1132.99,619 1133.37,619.06 1133.92,618.92C1134.47,618.78 1134.95,618.43 1135.3,618.62Z" fill="#000" fill-opacity="0.032" stroke="#444" stroke-width="0.55"/>
<path d="M1134.2,620.02C1134.42,620.2 1134.62,620.59 1134.78,621.2C1134.95,621.81 1135.06,622.66 1135.18,623.7C1135.3,624.73 1135.52,626.34 1135.49,627.41C1135.47,628.48 1135.23,629.07 1135.01,630.11C1134.78,631.16 1134.67,632.99 1134.15,633.7C1133.62,634.4 1132.76,634.3 1131.87,634.35C1130.97,634.39 1129.67,634.13 1128.8,633.97C1127.92,633.8 1127.23,633.94 1126.61,633.36C1125.98,632.79 1125.32,631.55 1125.07,630.52C1124.82,629.5 1124.98,628.14 1125.1,627.23C1125.21,626.31 1125.19,625.81 1125.73,625.04C1126.28,624.27 1127.47,623.25 1128.37,622.59C1129.26,621.92 1130.24,621.45 1131.09,621.04C1131.94,620.62 1132.97,620.28 1133.49,620.11C1134.01,619.94 1133.99,619.84 1134.2,620.02Z" fill="#000" fill-opacity="0.032" stroke="#444" stroke-width="0.55"/>
<path d="M1133.48,621.79C1133.84,621.95 1134.16,621.63 1134.32,622.19C1134.48,622.75 1134.47,624.36 1134.44,625.15C1134.4,625.94 1134.22,626.14 1134.12,626.93C1134.01,627.72 1133.92,628.88 1133.81,629.9C1133.69,630.92 1133.81,632.46 1133.43,633.03C1133.06,633.61 1132.36,633.32 1131.57,633.35C1130.77,633.39 1129.47,633.33 1128.65,633.26C1127.82,633.18 1127,633.32 1126.6,632.89C1126.2,632.47 1126.42,631.61 1126.25,630.72C1126.07,629.83 1125.53,628.5 1125.54,627.57C1125.54,626.63 1125.77,625.86 1126.28,625.1C1126.79,624.35 1127.95,623.5 1128.61,623.03C1129.27,622.56 1129.66,622.57 1130.25,622.28C1130.85,621.98 1131.62,621.33 1132.16,621.25C1132.7,621.17 1133.12,621.63 1133.48,621.79Z" fill="#000" fill-opacity="0.032" stroke="#444" stroke-width="0.55"/>
<path d="M1132.57,623.06C1132.62,623.12 1132.3,622.91 1132.37,623.3C1132.44,623.69 1132.93,624.69 1132.99,625.4C1133.05,626.1 1132.65,626.87 1132.72,627.53C1132.79,628.19 1133.47,628.7 1133.41,629.35C1133.34,630 1132.84,630.84 1132.34,631.42C1131.84,632 1131.07,632.56 1130.42,632.81C1129.78,633.06 1128.92,633.16 1128.45,632.94C1127.98,632.72 1127.87,632.01 1127.6,631.49C1127.33,630.98 1126.98,630.48 1126.81,629.85C1126.63,629.22 1126.59,628.35 1126.56,627.7C1126.52,627.06 1126.3,626.48 1126.63,625.98C1126.96,625.48 1127.97,625.13 1128.53,624.71C1129.08,624.29 1129.39,623.74 1129.97,623.44C1130.56,623.14 1131.61,622.98 1132.04,622.91C1132.47,622.85 1132.51,622.99 1132.57,623.06Z" fill="#000" fill-opacity="0.032" stroke="#444" stroke-width="0.55"/>
<path d="M1131.53,623.81C1131.65,623.9 1131.67,624.08 1131.77,624.49C1131.87,624.91 1132.11,625.83 1132.14,626.31C1132.17,626.79 1131.98,626.87 1131.96,627.37C1131.93,627.88 1132.14,628.69 1131.99,629.37C1131.83,630.04 1131.31,631.1 1131.02,631.42C1130.73,631.74 1130.56,631.33 1130.25,631.3C1129.94,631.27 1129.64,631.24 1129.15,631.25C1128.65,631.25 1127.66,631.58 1127.29,631.32C1126.93,631.06 1127,630.3 1126.93,629.69C1126.87,629.07 1126.91,628.25 1126.92,627.65C1126.93,627.06 1126.83,626.46 1127,626.11C1127.17,625.77 1127.43,625.85 1127.93,625.58C1128.43,625.3 1129.49,624.74 1130.01,624.47C1130.53,624.2 1130.79,624.06 1131.04,623.95C1131.29,623.84 1131.4,623.72 1131.53,623.81Z" fill="#000" fill-opacity="0.032" stroke="#444" stroke-width="0.55"/>
<path d="M1130.27,625.39C1130.46,625.43 1130.99,625.16 1131.08,625.36C1131.17,625.56 1130.81,626.2 1130.81,626.6C1130.8,627.01 1131.09,627.41 1131.05,627.79C1131.01,628.18 1130.68,628.46 1130.58,628.91C1130.48,629.37 1130.65,630.17 1130.45,630.53C1130.25,630.89 1129.77,631.07 1129.4,631.05C1129.02,631.04 1128.55,630.62 1128.2,630.43C1127.86,630.24 1127.43,630.07 1127.33,629.92C1127.22,629.77 1127.64,629.9 1127.58,629.51C1127.51,629.13 1126.96,628 1126.94,627.63C1126.92,627.26 1127.17,627.49 1127.46,627.31C1127.75,627.13 1128.34,626.9 1128.66,626.57C1128.99,626.23 1129.19,625.56 1129.4,625.32C1129.61,625.08 1129.78,625.11 1129.93,625.13C1130.07,625.14 1130.08,625.35 1130.27,625.39Z" fill="#fff" stroke="#444" stroke-width="0.55"/>
<path fill="#222" d="M1121.2 643.5h.9v.9h-.9zM1131.1 648.6h.9v.9h-.9zM1145.4 593.6h.9v.9h-.9zM1113.2 653.1h.9v.9h-.9zM1152.0 615.2h.9v.9h-.9zM1151.3 593.0h.9v.9h-.9zM1152.9 611.3h.9v.9h-.9zM1155.4 609.4h.9v.9h-.9zM1151.4 609.6h.9v.9h-.9zM1144.6 601.5h.9v.9h-.9zM1156.8 596.7h.9v.9h-.9zM1120.3 642.4h.9v.9h-.9zM1127.3 645.8h.9v.9h-.9zM1158.2 625.3h.9v.9h-.9zM1135.6 599.1h.9v.9h-.9zM1140.3 601.8h.9v.9h-.9zM1150.3 603.2h.9v.9h-.9zM1140.1 647.4h.9v.9h-.9zM1153.7 612.7h.9v.9h-.9zM1143.4 602.0h.9v.9h-.9zM1135.7 647.7h.9v.9h-.9zM1148.3 601.9h.9v.9h-.9zM1147.0 604.1h.9v.9h-.9zM1148.8 602.8h.9v.9h-.9zM1147.9 601.7h.9v.9h-.9zM1136.4 602.7h.9v.9h-.9zM1164.5 634.2h.9v.9h-.9zM1145.8 647.6h.9v.9h-.9zM1122.0 646.6h.9v.9h-.9zM1145.7 644.8h.9v.9h-.9zM1148.7 642.9h.9v.9h-.9zM1130.5 647.2h.9v.9h-.9zM1152.9 634.6h.9v.9h-.9zM1121.1 650.8h.9v.9h-.9zM1148.0 643.9h.9v.9h-.9zM1152.5 591.0h.9v.9h-.9zM1149.7 604.1h.9v.9h-.9zM1152.4 601.8h.9v.9h-.9zM1127.2 599.0h.9v.9h-.9zM1136.6 603.2h.9v.9h-.9zM1153.3 634.2h.9v.9h-.9zM1125.4 649.6h.9v.9h-.9zM1154.2 615.4h.9v.9h-.9zM1156.8 617.3h.9v.9h-.9zM1142.5 645.6h.9v.9h-.9zM1145.8 602.9h.9v.9h-.9zM1148.4 642.1h.9v.9h-.9zM1150.6 635.3h.9v.9h-.9zM1130.6 651.2h.9v.9h-.9zM1139.0 604.3h.9v.9h-.9zM1139.4 656.1h.9v.9h-.9zM1157.1 611.9h.9v.9h-.9zM1138.5 602.4h.9v.9h-.9zM1148.5 603.5h.9v.9h-.9zM1149.8 598.0h.9v.9h-.9zM1123.6 654.6h.9v.9h-.9zM1126.4 610.2h.9v.9h-.9zM1149.9 605.1h.9v.9h-.9zM1124.6 649.7h.9v.9h-.9zM1143.8 646.2h.9v.9h-.9zM1126.6 608.2h.9v.9h-.9zM1150.1 601.9h.9v.9h-.9zM1126.7 610.0h.9v.9h-.9zM1145.7 601.3h.9v.9h-.9zM1137.5 646.7h.9v.9h-.9zM1136.5 605.7h.9v.9h-.9zM1155.2 641.5h.9v.9h-.9zM1122.7 645.8h.9v.9h-.9zM1154.2 640.1h.9v.9h-.9zM1149.5 645.0h.9v.9h-.9zM1131.8 647.5h.9v.9h-.9zM1152.7 600.9h.9v.9h-.9zM1146.5 596.8h.9v.9h-.9zM1145.0 598.7h.9v.9h-.9zM1144.4 601.1h.9v.9h-.9zM1128.8 607.6h.9v.9h-.9zM1138.7 653.6h.9v.9h-.9zM1152.3 625.8h.9v.9h-.9zM1147.5 643.9h.9v.9h-.9zM1151.3 639.2h.9v.9h-.9zM1151.0 620.2h.9v.9h-.9zM1144.7 602.0h.9v.9h-.9zM1145.6 603.6h.9v.9h-.9zM1133.2 648.7h.9v.9h-.9zM1143.9 647.0h.9v.9h-.9zM1147.3 644.1h.9v.9h-.9zM1121.5 642.4h.9v.9h-.9zM1128.0 646.8h.9v.9h-.9zM1151.0 629.6h.9v.9h-.9zM1149.8 607.8h.9v.9h-.9zM1156.9 611.5h.9v.9h-.9zM1150.7 635.7h.9v.9h-.9zM1134.3 647.1h.9v.9h-.9zM1148.3 646.2h.9v.9h-.9zM1155.1 602.9h.9v.9h-.9zM1151.1 611.2h.9v.9h-.9zM1124.5 601.5h.9v.9h-.9zM1120.4 647.9h.9v.9h-.9zM1149.5 604.2h.9v.9h-.9zM1150.4 633.8h.9v.9h-.9zM1119.3 643.8h.9v.9h-.9zM1150.0 642.1h.9v.9h-.9zM1115.1 623.8h.9v.9h-.9zM1123.1 643.6h.9v.9h-.9zM1141.3 603.6h.9v.9h-.9zM1149.5 640.9h.9v.9h-.9zM1153.8 625.0h.9v.9h-.9zM1121.6 645.9h.9v.9h-.9zM1135.4 648.8h.9v.9h-.9zM1150.3 634.9h.9v.9h-.9zM1129.5 606.9h.9v.9h-.9zM1151.1 611.7h.9v.9h-.9zM1136.0 646.7h.9v.9h-.9zM1134.1 602.0h.9v.9h-.9zM1134.3 653.6h.9v.9h-.9zM1141.4 593.4h.9v.9h-.9zM1149.6 597.3h.9v.9h-.9zM1157.8 591.1h.9v.9h-.9zM1148.2 599.5h.9v.9h-.9zM1140.9 603.6h.9v.9h-.9zM1148.7 594.5h.9v.9h-.9zM1152.5 608.4h.9v.9h-.9zM1151.3 609.3h.9v.9h-.9zM1151.3 600.1h.9v.9h-.9zM1147.6 598.8h.9v.9h-.9zM1141.1 603.7h.9v.9h-.9zM1129.3 646.9h.9v.9h-.9zM1153.0 637.8h.9v.9h-.9zM1138.5 649.0h.9v.9h-.9zM1155.0 599.3h.9v.9h-.9zM1141.0 592.8h.9v.9h-.9zM1127.8 606.8h.9v.9h-.9zM1134.2 601.4h.9v.9h-.9zM1147.8 641.5h.9v.9h-.9zM1130.1 603.4h.9v.9h-.9zM1138.8 604.1h.9v.9h-.9zM1142.0 601.4h.9v.9h-.9zM1140.6 604.1h.9v.9h-.9zM1151.6 603.9h.9v.9h-.9zM1118.6 637.9h.9v.9h-.9zM1135.7 599.8h.9v.9h-.9zM1140.4 646.5h.9v.9h-.9zM1143.8 645.8h.9v.9h-.9zM1134.4 598.8h.9v.9h-.9zM1138.7 647.7h.9v.9h-.9zM1126.0 610.1h.9v.9h-.9zM1136.0 599.7h.9v.9h-.9zM1148.4 643.4h.9v.9h-.9zM1127.4 605.9h.9v.9h-.9zM1153.7 618.9h.9v.9h-.9zM1146.1 599.9h.9v.9h-.9zM1145.0 652.9h.9v.9h-.9zM1135.4 652.9h.9v.9h-.9zM1133.8 647.1h.9v.9h-.9zM1118.8 614.1h.9v.9h-.9zM1148.6 599.8h.9v.9h-.9zM1151.3 622.0h.9v.9h-.9zM1135.7 604.2h.9v.9h-.9zM1139.7 604.2h.9v.9h-.9zM1150.7 611.9h.9v.9h-.9zM1155.7 607.8h.9v.9h-.9zM1151.1 604.1h.9v.9h-.9zM1128.1 604.5h.9v.9h-.9zM1129.8 608.3h.9v.9h-.9zM1151.5 624.8h.9v.9h-.9zM1151.0 630.2h.9v.9h-.9zM1145.4 602.6h.9v.9h-.9zM1137.9 604.1h.9v.9h-.9zM1119.4 641.3h.9v.9h-.9zM1149.0 596.8h.9v.9h-.9zM1139.3 647.6h.9v.9h-.9zM1151.1 600.4h.9v.9h-.9zM1150.0 602.1h.9v.9h-.9zM1143.2 595.5h.9v.9h-.9zM1133.5 602.8h.9v.9h-.9zM1153.5 607.3h.9v.9h-.9zM1124.0 603.4h.9v.9h-.9zM1142.0 647.0h.9v.9h-.9zM1132.8 651.2h.9v.9h-.9zM1148.0 597.7h.9v.9h-.9zM1150.9 641.6h.9v.9h-.9zM1135.1 650.4h.9v.9h-.9zM1150.3 602.8h.9v.9h-.9zM1150.8 598.7h.9v.9h-.9zM1128.4 608.0h.9v.9h-.9zM1150.0 602.2h.9v.9h-.9zM1147.9 603.7h.9v.9h-.9zM1152.4 631.8h.9v.9h-.9zM1138.2 650.2h.9v.9h-.9zM1139.8 601.5h.9v.9h-.9zM1140.3 598.0h.9v.9h-.9zM1126.5 646.4h.9v.9h-.9zM1151.3 616.7h.9v.9h-.9zM1165.3 608.3h.9v.9h-.9zM1150.4 603.7h.9v.9h-.9zM1155.8 609.8h.9v.9h-.9zM1128.6 605.9h.9v.9h-.9zM1148.0 644.8h.9v.9h-.9zM1117.9 622.9h.9v.9h-.9zM1131.1 652.0h.9v.9h-.9zM1154.3 611.3h.9v.9h-.9zM1147.0 598.3h.9v.9h-.9zM1149.6 635.4h.9v.9h-.9zM1140.5 602.5h.9v.9h-.9zM1152.1 608.4h.9v.9h-.9zM1141.6 646.9h.9v.9h-.9zM1127.4 611.1h.9v.9h-.9zM1154.0 597.2h.9v.9h-.9zM1151.5 608.3h.9v.9h-.9zM1128.7 646.5h.9v.9h-.9zM1142.4 603.6h.9v.9h-.9zM1141.9 599.3h.9v.9h-.9zM1143.6 648.8h.9v.9h-.9zM1130.8 646.2h.9v.9h-.9zM1145.9 602.9h.9v.9h-.9zM1155.0 615.6h.9v.9h-.9zM1152.9 612.4h.9v.9h-.9zM1153.3 601.7h.9v.9h-.9zM1142.7 647.0h.9v.9h-.9zM1151.2 598.1h.9v.9h-.9zM1134.1 648.1h.9v.9h-.9zM1144.3 603.4h.9v.9h-.9zM1158.2 594.7h.9v.9h-.9zM1152.5 641.5h.9v.9h-.9zM1147.8 595.6h.9v.9h-.9zM1151.1 601.5h.9v.9h-.9zM1144.7 598.5h.9v.9h-.9zM1125.3 600.3h.9v.9h-.9zM1125.9 610.2h.9v.9h-.9zM1139.0 651.6h.9v.9h-.9zM1128.7 608.6h.9v.9h-.9zM1145.1 601.6h.9v.9h-.9zM1149.7 603.8h.9v.9h-.9zM1158.5 649.3h.9v.9h-.9zM1141.3 602.9h.9v.9h-.9zM1146.7 598.6h.9v.9h-.9zM1119.3 605.5h.9v.9h-.9zM1133.4 647.0h.9v.9h-.9zM1153.9 597.2h.9v.9h-.9zM1145.6 601.9h.9v.9h-.9zM1127.4 646.2h.9v.9h-.9zM1116.4 629.1h.9v.9h-.9zM1144.9 645.3h.9v.9h-.9zM1133.7 652.5h.9v.9h-.9zM1161.1 651.2h.9v.9h-.9zM1156.0 606.2h.9v.9h-.9zM1151.0 596.9h.9v.9h-.9zM1150.8 631.0h.9v.9h-.9zM1114.4 631.1h.9v.9h-.9zM1149.3 603.0h.9v.9h-.9zM1141.8 602.9h.9v.9h-.9zM1148.7 605.5h.9v.9h-.9zM1152.1 617.9h.9v.9h-.9zM1153.9 598.0h.9v.9h-.9zM1122.3 648.3h.9v.9h-.9zM1128.7 646.3h.9v.9h-.9zM1152.0 626.9h.9v.9h-.9zM1124.9 613.4h.9v.9h-.9zM1144.9 650.7h.9v.9h-.9zM1137.3 602.6h.9v.9h-.9zM1139.7 603.3h.9v.9h-.9zM1145.1 598.9h.9v.9h-.9zM1152.1 600.8h.9v.9h-.9zM1134.4 605.1h.9v.9h-.9zM1130.0 609.4h.9v.9h-.9zM1138.1 602.5h.9v.9h-.9zM1152.1 601.1h.9v.9h-.9zM1139.5 599.0h.9v.9h-.9zM1134.9 658.7h.9v.9h-.9zM1147.8 600.3h.9v.9h-.9zM1135.3 647.6h.9v.9h-.9zM1151.5 634.7h.9v.9h-.9zM1146.1 603.5h.9v.9h-.9zM1127.9 604.6h.9v.9h-.9zM1152.9 602.8h.9v.9h-.9zM1151.6 620.1h.9v.9h-.9zM1158.2 604.0h.9v.9h-.9zM1154.5 599.7h.9v.9h-.9zM1151.5 613.9h.9v.9h-.9zM1129.7 606.8h.9v.9h-.9zM1152.5 598.9h.9v.9h-.9zM1123.7 649.4h.9v.9h-.9zM1124.8 607.4h.9v.9h-.9zM1117.5 631.6h.9v.9h-.9zM1141.1 601.9h.9v.9h-.9zM1147.1 602.4h.9v.9h-.9zM1114.4 626.6h.9v.9h-.9zM1130.2 651.0h.9v.9h-.9zM1154.9 607.5h.9v.9h-.9zM1139.3 648.6h.9v.9h-.9zM1153.9 605.9h.9v.9h-.9zM1149.2 602.4h.9v.9h-.9zM1151.4 609.6h.9v.9h-.9zM1138.6 655.4h.9v.9h-.9zM1130.7 598.5h.9v.9h-.9zM1144.2 602.4h.9v.9h-.9zM1152.4 615.1h.9v.9h-.9zM1113.3 628.0h.9v.9h-.9zM1139.7 602.7h.9v.9h-.9zM1135.7 646.6h.9v.9h-.9zM1121.8 647.2h.9v.9h-.9zM1147.7 599.5h.9v.9h-.9zM1150.0 602.5h.9v.9h-.9zM1136.4 648.4h.9v.9h-.9zM1148.6 642.7h.9v.9h-.9zM1134.2 648.8h.9v.9h-.9zM1125.4 649.3h.9v.9h-.9zM1151.1 634.9h.9v.9h-.9zM1126.1 601.5h.9v.9h-.9zM1117.5 644.6h.9v.9h-.9zM1156.4 611.1h.9v.9h-.9zM1128.8 648.5h.9v.9h-.9zM1154.9 614.1h.9v.9h-.9zM1150.8 632.6h.9v.9h-.9zM1158.0 595.9h.9v.9h-.9zM1157.5 601.8h.9v.9h-.9zM1134.3 606.2h.9v.9h-.9zM1146.3 602.7h.9v.9h-.9zM1138.6 603.4h.9v.9h-.9zM1153.5 611.4h.9v.9h-.9zM1143.2 646.8h.9v.9h-.9zM1151.9 615.8h.9v.9h-.9zM1151.9 610.4h.9v.9h-.9zM1145.7 603.0h.9v.9h-.9zM1150.9 601.4h.9v.9h-.9zM1139.6 660.3h.9v.9h-.9zM1165.1 592.7h.9v.9h-.9zM1141.5 600.1h.9v.9h-.9zM1121.1 607.9h.9v.9h-.9zM1131.2 648.8h.9v.9h-.9zM1150.1 604.7h.9v.9h-.9zM1133.4 607.2h.9v.9h-.9zM1120.4 608.7h.9v.9h-.9zM1154.3 624.1h.9v.9h-.9zM1120.5 643.7h.9v.9h-.9zM1147.6 600.0h.9v.9h-.9zM1150.5 643.2h.9v.9h-.9zM1152.9 613.2h.9v.9h-.9zM1156.7 629.5h.9v.9h-.9zM1158.9 595.7h.9v.9h-.9zM1145.8 597.9h.9v.9h-.9zM1150.9 602.8h.9v.9h-.9zM1140.2 604.3h.9v.9h-.9zM1159.8 597.4h.9v.9h-.9zM1148.9 643.5h.9v.9h-.9zM1132.7 607.9h.9v.9h-.9zM1154.9 618.5h.9v.9h-.9zM1127.4 609.4h.9v.9h-.9zM1149.8 635.8h.9v.9h-.9zM1142.3 645.8h.9v.9h-.9zM1155.0 598.0h.9v.9h-.9zM1153.0 623.2h.9v.9h-.9zM1134.3 649.4h.9v.9h-.9zM1151.3 606.2h.9v.9h-.9zM1151.4 615.9h.9v.9h-.9zM1141.0 601.0h.9v.9h-.9zM1151.2 628.0h.9v.9h-.9zM1154.4 592.8h.9v.9h-.9zM1126.7 645.6h.9v.9h-.9zM1153.6 621.6h.9v.9h-.9zM1138.7 599.7h.9v.9h-.9zM1147.9 648.6h.9v.9h-.9zM1132.9 606.4h.9v.9h-.9zM1153.0 617.7h.9v.9h-.9zM1149.0 601.6h.9v.9h-.9zM1129.7 653.0h.9v.9h-.9zM1152.9 614.8h.9v.9h-.9zM1151.4 621.7h.9v.9h-.9zM1133.5 655.7h.9v.9h-.9zM1150.0 636.9h.9v.9h-.9zM1121.0 611.0h.9v.9h-.9zM1129.5 603.6h.9v.9h-.9zM1147.0 597.2h.9v.9h-.9zM1152.8 608.3h.9v.9h-.9zM1119.1 646.2h.9v.9h-.9zM1122.7 643.6h.9v.9h-.9zM1138.2 649.1h.9v.9h-.9zM1140.4 602.8h.9v.9h-.9zM1147.0 601.2h.9v.9h-.9zM1146.3 600.6h.9v.9h-.9z"/>
<path d="M1309.94,604.1C1310.93,604.62 1311.47,604.81 1311.9,606.65C1312.32,608.5 1312.26,612.26 1312.47,615.2C1312.67,618.14 1313.08,621.45 1313.12,624.3C1313.15,627.15 1313.3,629.31 1312.67,632.32C1312.03,635.33 1311.25,640.13 1309.34,642.38C1307.42,644.62 1303.96,645.16 1301.17,645.81C1298.39,646.45 1295.24,646.64 1292.61,646.23C1289.99,645.81 1287.28,645.26 1285.43,643.31C1283.58,641.35 1282.3,637.69 1281.5,634.49C1280.7,631.3 1280.25,626.98 1280.61,624.13C1280.97,621.27 1281.89,619.61 1283.63,617.35C1285.38,615.1 1288.43,612.48 1291.08,610.59C1293.73,608.69 1297.03,607.14 1299.51,605.97C1301.98,604.8 1304.17,603.89 1305.91,603.58C1307.64,603.27 1308.94,603.59 1309.94,604.1Z" fill="none" stroke="#7a7a7a" stroke-width="0.8"/>
<path d="M1309,605.4C1310,605.99 1310.71,606.8 1311.15,608.54C1311.58,610.28 1311.5,613.19 1311.6,615.82C1311.71,618.45 1311.8,621.5 1311.78,624.32C1311.75,627.14 1312.07,629.82 1311.47,632.72C1310.87,635.63 1309.94,639.67 1308.19,641.74C1306.43,643.82 1303.58,644.68 1300.95,645.16C1298.33,645.65 1294.97,645.23 1292.44,644.66C1289.91,644.09 1287.62,643.43 1285.77,641.75C1283.93,640.07 1282.11,637.49 1281.35,634.58C1280.59,631.67 1280.79,627.13 1281.21,624.28C1281.62,621.43 1282.17,619.58 1283.84,617.47C1285.51,615.37 1288.72,613.44 1291.22,611.65C1293.71,609.87 1296.48,607.85 1298.8,606.74C1301.11,605.64 1303.42,605.25 1305.12,605.02C1306.82,604.8 1307.99,604.82 1309,605.4Z" fill="none" stroke="#7a7a7a" stroke-width="0.55"/>
<path d="M1307.71,607.37C1308.61,607.89 1308.77,607.92 1309.26,609.41C1309.74,610.91 1310.57,613.88 1310.63,616.35C1310.69,618.81 1309.71,621.57 1309.61,624.22C1309.52,626.87 1310.52,629.49 1310.05,632.27C1309.59,635.04 1308.5,638.9 1306.8,640.89C1305.11,642.88 1302.33,643.69 1299.9,644.22C1297.46,644.76 1294.49,644.5 1292.21,644.1C1289.93,643.71 1287.81,643.46 1286.21,641.87C1284.62,640.28 1283.4,637.5 1282.63,634.57C1281.85,631.64 1281.2,626.95 1281.56,624.28C1281.92,621.61 1283.28,620.35 1284.79,618.53C1286.31,616.71 1288.36,615.01 1290.65,613.36C1292.93,611.7 1296.29,609.78 1298.49,608.6C1300.7,607.42 1302.34,606.49 1303.87,606.28C1305.41,606.08 1306.82,606.85 1307.71,607.37Z" fill="#000" fill-opacity="0.032" stroke="#5a5a5a" stroke-width="0.55"/>
<path d="M1306.65,608.08C1307.38,608.59 1307.71,609.51 1308.06,610.99C1308.41,612.47 1308.71,614.74 1308.74,616.98C1308.78,619.21 1308.29,621.94 1308.29,624.41C1308.3,626.88 1309.21,629.21 1308.79,631.79C1308.37,634.37 1307.21,637.98 1305.76,639.88C1304.3,641.79 1302.32,642.78 1300.07,643.22C1297.82,643.66 1294.65,643.01 1292.26,642.52C1289.87,642.03 1287.24,641.81 1285.72,640.29C1284.21,638.77 1283.74,636.01 1283.15,633.42C1282.57,630.82 1281.96,627.07 1282.19,624.73C1282.42,622.39 1283.16,621.19 1284.53,619.38C1285.89,617.58 1288.1,615.56 1290.37,613.9C1292.64,612.24 1295.92,610.43 1298.14,609.43C1300.36,608.44 1302.26,608.14 1303.67,607.92C1305.09,607.69 1305.92,607.56 1306.65,608.08Z" fill="#000" fill-opacity="0.032" stroke="#5a5a5a" stroke-width="0.55"/>
<path d="M1305.31,609.66C1305.93,609.98 1306.13,610.14 1306.47,611.63C1306.81,613.11 1307.14,616.35 1307.36,618.58C1307.58,620.8 1307.89,622.84 1307.79,624.98C1307.69,627.13 1307.29,629.08 1306.77,631.46C1306.24,633.83 1305.97,637.35 1304.62,639.22C1303.28,641.1 1300.78,642.31 1298.69,642.7C1296.6,643.09 1294.03,642.03 1292.07,641.57C1290.12,641.1 1288.28,641.27 1286.94,639.89C1285.6,638.52 1284.59,635.78 1284.04,633.32C1283.49,630.87 1283.4,627.4 1283.65,625.14C1283.89,622.88 1284.33,621.55 1285.51,619.76C1286.7,617.98 1288.83,615.86 1290.76,614.42C1292.68,612.99 1295.09,611.93 1297.08,611.14C1299.07,610.36 1301.33,609.95 1302.7,609.71C1304.07,609.46 1304.68,609.34 1305.31,609.66Z" fill="#000" fill-opacity="0.032" stroke="#5a5a5a" stroke-width="0.55"/>
<path d="M1304.28,611.22C1304.97,611.7 1305.6,611.74 1306,613.02C1306.39,614.31 1306.59,616.87 1306.65,618.94C1306.7,621 1306.49,623.26 1306.35,625.42C1306.2,627.58 1306.1,629.75 1305.75,631.9C1305.4,634.05 1305.42,636.66 1304.26,638.32C1303.11,639.97 1300.78,641.44 1298.81,641.82C1296.85,642.2 1294.41,641.14 1292.48,640.61C1290.56,640.09 1288.56,639.89 1287.25,638.66C1285.93,637.43 1285.23,635.54 1284.58,633.24C1283.94,630.95 1283.19,627.07 1283.39,624.9C1283.6,622.73 1284.52,621.66 1285.79,620.21C1287.06,618.77 1289.22,617.66 1291.02,616.21C1292.82,614.76 1294.78,612.52 1296.59,611.51C1298.39,610.5 1300.57,610.19 1301.85,610.14C1303.13,610.09 1303.58,610.74 1304.28,611.22Z" fill="#000" fill-opacity="0.032" stroke="#5a5a5a" stroke-width="0.55"/>
<path d="M1303.7,611.99C1304.4,612.41 1304.5,613.06 1304.79,614.34C1305.08,615.62 1305.35,617.88 1305.44,619.68C1305.53,621.49 1305.4,623.28 1305.31,625.18C1305.22,627.08 1305.27,628.91 1304.91,631.08C1304.55,633.26 1304.34,636.69 1303.14,638.25C1301.94,639.8 1299.6,640.18 1297.7,640.42C1295.8,640.65 1293.46,640.02 1291.72,639.66C1289.98,639.29 1288.39,639.37 1287.27,638.23C1286.16,637.09 1285.57,634.99 1285.03,632.84C1284.5,630.69 1283.83,627.35 1284.05,625.34C1284.27,623.33 1285.31,622.17 1286.35,620.8C1287.39,619.42 1288.57,618.41 1290.29,617.08C1292.02,615.75 1294.99,613.71 1296.71,612.84C1298.42,611.97 1299.44,612 1300.6,611.86C1301.77,611.72 1303,611.58 1303.7,611.99Z" fill="#000" fill-opacity="0.032" stroke="#5a5a5a" stroke-width="0.55"/>
<path d="M1302.51,613.5C1303.03,613.9 1302.72,614.15 1303.01,615.22C1303.31,616.29 1304.23,618.18 1304.27,619.95C1304.32,621.72 1303.37,624 1303.31,625.84C1303.24,627.69 1304.18,629.09 1303.9,631.04C1303.62,632.99 1302.71,636.23 1301.63,637.56C1300.55,638.88 1298.93,638.77 1297.4,638.99C1295.87,639.21 1294.14,639.07 1292.46,638.87C1290.78,638.67 1288.52,638.81 1287.3,637.78C1286.08,636.75 1285.58,634.63 1285.14,632.69C1284.69,630.74 1284.47,628.04 1284.65,626.1C1284.82,624.16 1285.16,622.48 1286.18,621.05C1287.2,619.63 1289.16,618.57 1290.78,617.54C1292.41,616.51 1294.41,615.68 1295.93,614.9C1297.45,614.11 1298.82,613.06 1299.91,612.83C1301.01,612.59 1302,613.1 1302.51,613.5Z" fill="#000" fill-opacity="0.032" stroke="#5a5a5a" stroke-width="0.55"/>
<path d="M1300.95,615.05C1301.56,615.43 1301.81,615.69 1302.08,616.62C1302.35,617.56 1302.53,619.04 1302.55,620.65C1302.58,622.27 1302.27,624.58 1302.21,626.32C1302.14,628.05 1302.34,629.37 1302.16,631.07C1301.98,632.78 1302.06,635.31 1301.15,636.56C1300.24,637.8 1298.26,638.22 1296.7,638.56C1295.14,638.91 1293.26,638.89 1291.77,638.64C1290.29,638.39 1288.82,638.1 1287.79,637.07C1286.75,636.03 1285.88,634.24 1285.56,632.41C1285.23,630.58 1285.61,627.87 1285.82,626.08C1286.04,624.29 1285.99,622.93 1286.86,621.67C1287.73,620.41 1289.61,619.57 1291.06,618.52C1292.51,617.47 1294.34,616.07 1295.57,615.37C1296.8,614.67 1297.54,614.36 1298.44,614.31C1299.34,614.26 1300.34,614.66 1300.95,615.05Z" fill="#000" fill-opacity="0.032" stroke="#5a5a5a" stroke-width="0.55"/>
<path d="M1300.37,615.99C1300.99,616.21 1301.15,616.52 1301.32,617.46C1301.5,618.4 1301.41,620.26 1301.42,621.65C1301.43,623.04 1301.44,624.25 1301.37,625.81C1301.3,627.37 1301.35,629.35 1301.01,631.02C1300.67,632.68 1300.19,634.77 1299.31,635.81C1298.44,636.86 1297.08,637.12 1295.75,637.29C1294.43,637.45 1292.56,636.98 1291.36,636.8C1290.17,636.62 1289.38,636.99 1288.58,636.19C1287.78,635.39 1286.92,633.72 1286.58,632.01C1286.24,630.29 1286.4,627.43 1286.54,625.87C1286.68,624.32 1286.69,623.63 1287.41,622.66C1288.13,621.69 1289.57,620.92 1290.87,620.05C1292.16,619.19 1294.06,618.09 1295.19,617.44C1296.32,616.8 1296.77,616.41 1297.64,616.16C1298.5,615.92 1299.76,615.78 1300.37,615.99Z" fill="#000" fill-opacity="0.032" stroke="#444" stroke-width="0.55"/>
<path d="M1299.18,617.87C1299.6,618.22 1299.75,618.25 1299.88,619.09C1300,619.94 1299.93,621.7 1299.94,622.95C1299.95,624.19 1299.9,625.29 1299.96,626.56C1300.02,627.83 1300.58,629.22 1300.32,630.56C1300.07,631.9 1299.29,633.6 1298.43,634.62C1297.57,635.63 1296.2,636.29 1295.17,636.64C1294.13,637 1293.35,637.01 1292.22,636.73C1291.08,636.46 1289.19,635.9 1288.34,634.97C1287.48,634.04 1287.41,632.64 1287.11,631.14C1286.81,629.64 1286.49,627.28 1286.54,625.97C1286.59,624.67 1286.66,624.21 1287.4,623.33C1288.15,622.45 1289.83,621.47 1290.99,620.69C1292.14,619.91 1293.26,619.28 1294.32,618.67C1295.37,618.06 1296.51,617.15 1297.31,617.01C1298.12,616.88 1298.75,617.53 1299.18,617.87Z" fill="#000" fill-opacity="0.032" stroke="#444" stroke-width="0.55"/>
<path d="M1297.52,619.42C1298.05,619.61 1298.85,619.75 1299.1,620.36C1299.36,620.96 1299.16,622.04 1299.05,623.06C1298.94,624.07 1298.56,625.21 1298.46,626.47C1298.37,627.72 1298.56,629.24 1298.48,630.56C1298.41,631.88 1298.69,633.61 1298.02,634.39C1297.34,635.18 1295.51,635.05 1294.41,635.29C1293.3,635.53 1292.4,635.96 1291.4,635.84C1290.4,635.72 1289.05,635.36 1288.4,634.56C1287.74,633.77 1287.61,632.41 1287.48,631.06C1287.35,629.71 1287.5,627.72 1287.61,626.47C1287.72,625.22 1287.67,624.48 1288.13,623.58C1288.6,622.68 1289.44,621.81 1290.39,621.06C1291.33,620.31 1292.88,619.39 1293.8,619.08C1294.73,618.77 1295.32,619.14 1295.94,619.2C1296.55,619.25 1296.99,619.22 1297.52,619.42Z" fill="#000" fill-opacity="0.032" stroke="#444" stroke-width="0.55"/>
<path d="M1296.71,620.65C1297.14,620.78 1297.48,620.72 1297.69,621.35C1297.89,621.97 1297.86,623.45 1297.92,624.42C1297.99,625.39 1298.12,626.23 1298.08,627.17C1298.04,628.12 1297.87,629.07 1297.67,630.1C1297.47,631.14 1297.44,632.71 1296.86,633.4C1296.28,634.08 1295.02,634.06 1294.18,634.23C1293.35,634.41 1292.75,634.61 1291.82,634.43C1290.89,634.25 1289.2,633.82 1288.59,633.15C1287.99,632.48 1288.35,631.42 1288.17,630.42C1288,629.42 1287.45,628.14 1287.56,627.14C1287.68,626.13 1288.33,625.17 1288.85,624.38C1289.37,623.59 1289.97,622.96 1290.67,622.41C1291.37,621.86 1292.31,621.4 1293.05,621.08C1293.79,620.76 1294.48,620.58 1295.08,620.51C1295.69,620.44 1296.27,620.51 1296.71,620.65Z" fill="#000" fill-opacity="0.032" stroke="#444" stroke-width="0.55"/>
<path d="M1295.55,621.22C1295.81,621.4 1296.58,622.03 1296.72,622.61C1296.85,623.2 1296.37,623.94 1296.34,624.74C1296.3,625.54 1296.56,626.54 1296.53,627.42C1296.5,628.3 1296.22,629.12 1296.16,630.01C1296.1,630.9 1296.51,632.11 1296.16,632.78C1295.8,633.45 1294.85,633.87 1294.03,634.05C1293.21,634.23 1291.97,634.06 1291.24,633.84C1290.5,633.63 1290.2,633.34 1289.64,632.78C1289.09,632.21 1288.07,631.4 1287.9,630.44C1287.72,629.48 1288.41,627.82 1288.59,627.01C1288.78,626.19 1288.63,626.25 1289.01,625.58C1289.39,624.91 1290.18,623.63 1290.88,622.98C1291.58,622.34 1292.49,621.94 1293.19,621.7C1293.9,621.46 1294.73,621.64 1295.13,621.56C1295.52,621.48 1295.28,621.05 1295.55,621.22Z" fill="#000" fill-opacity="0.032" stroke="#444" stroke-width="0.55"/>
<path d="M1294.69,623.28C1294.93,623.45 1295.21,622.88 1295.39,623.31C1295.57,623.73 1295.72,625.05 1295.79,625.8C1295.86,626.56 1295.85,627.19 1295.81,627.83C1295.76,628.47 1295.68,628.99 1295.51,629.66C1295.34,630.33 1295.13,631.36 1294.8,631.83C1294.47,632.3 1294.2,632.34 1293.54,632.5C1292.87,632.65 1291.48,632.86 1290.82,632.76C1290.16,632.67 1289.91,632.45 1289.59,631.94C1289.26,631.43 1289.07,630.55 1288.87,629.72C1288.66,628.9 1288.28,627.6 1288.38,627.02C1288.49,626.43 1289.08,626.72 1289.51,626.22C1289.94,625.72 1290.37,624.47 1290.97,624.02C1291.56,623.57 1292.58,623.81 1293.09,623.51C1293.59,623.22 1293.72,622.28 1293.99,622.24C1294.26,622.2 1294.46,623.1 1294.69,623.28Z" fill="#000" fill-opacity="0.032" stroke="#444" stroke-width="0.55"/>
<path d="M1294.23,624.32C1294.34,624.37 1294.25,623.94 1294.3,624.16C1294.35,624.39 1294.56,625.14 1294.56,625.67C1294.55,626.2 1294.34,626.68 1294.27,627.34C1294.19,628 1294.15,628.96 1294.1,629.63C1294.06,630.29 1294.29,631.02 1293.99,631.35C1293.69,631.67 1292.75,631.6 1292.29,631.56C1291.83,631.53 1291.64,631.14 1291.22,631.14C1290.8,631.14 1290.06,631.77 1289.77,631.58C1289.49,631.39 1289.62,630.61 1289.49,629.99C1289.36,629.38 1288.91,628.44 1288.97,627.88C1289.04,627.32 1289.59,627.12 1289.88,626.64C1290.17,626.17 1290.4,625.34 1290.7,625.04C1291,624.73 1291.19,625.01 1291.67,624.81C1292.16,624.62 1293.2,623.95 1293.63,623.86C1294.06,623.78 1294.12,624.27 1294.23,624.32Z" fill="#000" fill-opacity="0.032" stroke="#444" stroke-width="0.55"/>
<path d="M1293.16,625.41C1293.34,625.48 1293.25,625.9 1293.23,626.16C1293.21,626.42 1293.07,626.68 1293.03,626.97C1292.98,627.27 1293,627.65 1292.94,627.95C1292.88,628.25 1292.74,628.32 1292.68,628.77C1292.62,629.23 1292.78,630.31 1292.59,630.67C1292.41,631.04 1291.91,630.89 1291.58,630.97C1291.24,631.04 1290.88,631.32 1290.58,631.14C1290.28,630.97 1289.99,630.14 1289.79,629.9C1289.6,629.66 1289.4,629.98 1289.41,629.72C1289.41,629.46 1289.73,628.84 1289.82,628.33C1289.91,627.82 1289.81,627.02 1289.94,626.68C1290.07,626.34 1290.21,626.5 1290.59,626.27C1290.97,626.05 1291.94,625.42 1292.2,625.34C1292.47,625.25 1292.01,625.76 1292.17,625.78C1292.33,625.79 1292.98,625.35 1293.16,625.41Z" fill="#fff" stroke="#444" stroke-width="0.55"/>
<path fill="#222" d="M1320.8 608.4h.9v.9h-.9zM1313.9 598.1h.9v.9h-.9zM1302.1 648.0h.9v.9h-.9zM1314.6 602.7h.9v.9h-.9zM1309.7 648.9h.9v.9h-.9zM1305.4 645.6h.9v.9h-.9zM1282.1 614.0h.9v.9h-.9zM1288.2 610.7h.9v.9h-.9zM1297.1 649.7h.9v.9h-.9zM1285.5 611.3h.9v.9h-.9zM1319.0 596.6h.9v.9h-.9zM1309.9 601.8h.9v.9h-.9zM1282.7 646.8h.9v.9h-.9zM1315.3 619.6h.9v.9h-.9zM1288.8 604.1h.9v.9h-.9zM1307.7 600.8h.9v.9h-.9zM1309.1 598.1h.9v.9h-.9zM1314.8 603.0h.9v.9h-.9zM1279.9 611.9h.9v.9h-.9zM1318.1 618.4h.9v.9h-.9zM1294.4 646.7h.9v.9h-.9zM1290.7 647.4h.9v.9h-.9zM1284.1 609.7h.9v.9h-.9zM1316.4 616.6h.9v.9h-.9zM1312.7 603.6h.9v.9h-.9zM1307.7 601.4h.9v.9h-.9zM1290.3 609.2h.9v.9h-.9zM1315.1 601.1h.9v.9h-.9zM1302.0 652.1h.9v.9h-.9zM1286.8 645.8h.9v.9h-.9zM1310.3 601.8h.9v.9h-.9zM1289.4 647.4h.9v.9h-.9zM1307.5 647.3h.9v.9h-.9zM1310.8 601.5h.9v.9h-.9zM1294.7 647.2h.9v.9h-.9zM1312.7 647.9h.9v.9h-.9zM1305.6 601.6h.9v.9h-.9zM1280.3 647.0h.9v.9h-.9zM1293.3 607.5h.9v.9h-.9zM1286.8 608.1h.9v.9h-.9zM1316.7 599.7h.9v.9h-.9zM1281.8 611.9h.9v.9h-.9zM1316.0 631.1h.9v.9h-.9zM1296.6 605.1h.9v.9h-.9zM1314.4 595.6h.9v.9h-.9zM1314.6 637.0h.9v.9h-.9zM1317.1 603.3h.9v.9h-.9zM1317.0 607.1h.9v.9h-.9zM1300.7 603.7h.9v.9h-.9zM1307.2 647.3h.9v.9h-.9zM1288.4 610.4h.9v.9h-.9zM1302.7 603.7h.9v.9h-.9zM1295.8 604.1h.9v.9h-.9zM1315.0 607.4h.9v.9h-.9zM1291.2 645.7h.9v.9h-.9zM1285.1 650.3h.9v.9h-.9zM1299.8 602.2h.9v.9h-.9zM1311.6 602.2h.9v.9h-.9zM1292.1 608.2h.9v.9h-.9zM1290.8 606.2h.9v.9h-.9zM1306.3 600.0h.9v.9h-.9zM1289.0 608.2h.9v.9h-.9zM1312.6 645.6h.9v.9h-.9zM1304.1 603.3h.9v.9h-.9zM1319.8 613.9h.9v.9h-.9zM1311.2 645.1h.9v.9h-.9zM1308.6 602.8h.9v.9h-.9zM1301.9 603.9h.9v.9h-.9zM1280.6 618.8h.9v.9h-.9zM1301.4 656.2h.9v.9h-.9zM1284.4 611.3h.9v.9h-.9zM1315.0 621.7h.9v.9h-.9zM1307.4 602.8h.9v.9h-.9zM1293.2 601.0h.9v.9h-.9zM1303.3 596.4h.9v.9h-.9zM1302.6 602.9h.9v.9h-.9zM1310.9 641.8h.9v.9h-.9zM1309.1 598.9h.9v.9h-.9zM1286.6 646.7h.9v.9h-.9zM1299.1 605.9h.9v.9h-.9zM1289.8 649.5h.9v.9h-.9zM1314.5 634.0h.9v.9h-.9zM1312.8 629.8h.9v.9h-.9zM1287.7 607.6h.9v.9h-.9zM1314.3 606.8h.9v.9h-.9zM1315.8 636.5h.9v.9h-.9zM1299.7 649.6h.9v.9h-.9zM1308.9 600.0h.9v.9h-.9zM1314.3 631.2h.9v.9h-.9zM1290.9 648.4h.9v.9h-.9zM1284.5 643.9h.9v.9h-.9zM1319.0 596.3h.9v.9h-.9zM1315.4 615.1h.9v.9h-.9zM1304.9 646.9h.9v.9h-.9zM1300.3 651.9h.9v.9h-.9zM1323.3 598.1h.9v.9h-.9zM1301.3 604.6h.9v.9h-.9zM1289.2 602.6h.9v.9h-.9zM1299.8 602.5h.9v.9h-.9zM1287.3 650.1h.9v.9h-.9zM1313.8 633.4h.9v.9h-.9zM1287.5 609.6h.9v.9h-.9zM1288.1 645.9h.9v.9h-.9zM1288.4 646.6h.9v.9h-.9zM1298.7 601.0h.9v.9h-.9zM1304.4 601.1h.9v.9h-.9zM1301.3 649.9h.9v.9h-.9zM1312.4 604.3h.9v.9h-.9zM1299.8 646.7h.9v.9h-.9zM1310.5 601.5h.9v.9h-.9zM1287.3 647.6h.9v.9h-.9zM1316.8 627.5h.9v.9h-.9zM1280.8 642.9h.9v.9h-.9zM1297.5 603.5h.9v.9h-.9zM1289.9 606.3h.9v.9h-.9zM1286.0 649.1h.9v.9h-.9zM1308.4 651.3h.9v.9h-.9zM1313.8 604.1h.9v.9h-.9zM1290.5 648.2h.9v.9h-.9zM1310.9 644.8h.9v.9h-.9zM1314.5 621.5h.9v.9h-.9zM1292.3 658.1h.9v.9h-.9zM1302.7 603.0h.9v.9h-.9zM1300.9 603.9h.9v.9h-.9zM1297.4 647.5h.9v.9h-.9zM1320.0 631.5h.9v.9h-.9zM1284.3 609.8h.9v.9h-.9zM1304.2 602.2h.9v.9h-.9zM1311.9 638.6h.9v.9h-.9zM1284.5 615.2h.9v.9h-.9zM1304.1 602.0h.9v.9h-.9zM1312.8 642.0h.9v.9h-.9zM1306.8 596.5h.9v.9h-.9zM1315.9 614.9h.9v.9h-.9zM1316.8 595.6h.9v.9h-.9zM1311.4 641.8h.9v.9h-.9zM1315.4 619.0h.9v.9h-.9zM1307.0 597.6h.9v.9h-.9zM1314.3 610.8h.9v.9h-.9zM1310.1 594.6h.9v.9h-.9zM1303.1 600.0h.9v.9h-.9zM1300.8 648.7h.9v.9h-.9zM1302.7 591.1h.9v.9h-.9zM1311.7 603.2h.9v.9h-.9zM1297.3 606.3h.9v.9h-.9zM1314.6 603.0h.9v.9h-.9zM1311.8 649.5h.9v.9h-.9zM1305.1 601.7h.9v.9h-.9zM1291.7 648.5h.9v.9h-.9zM1293.9 598.6h.9v.9h-.9zM1303.1 596.3h.9v.9h-.9zM1286.7 601.7h.9v.9h-.9zM1291.1 647.9h.9v.9h-.9zM1313.9 616.0h.9v.9h-.9zM1291.7 647.7h.9v.9h-.9zM1312.8 601.1h.9v.9h-.9zM1295.9 606.5h.9v.9h-.9zM1310.1 600.5h.9v.9h-.9zM1315.2 602.1h.9v.9h-.9zM1279.7 626.9h.9v.9h-.9zM1289.8 607.6h.9v.9h-.9zM1312.7 603.6h.9v.9h-.9zM1313.0 599.5h.9v.9h-.9zM1298.3 647.5h.9v.9h-.9zM1314.0 634.6h.9v.9h-.9zM1314.0 606.7h.9v.9h-.9zM1287.6 608.2h.9v.9h-.9zM1296.4 650.1h.9v.9h-.9zM1313.1 609.5h.9v.9h-.9zM1308.1 600.1h.9v.9h-.9zM1282.6 615.4h.9v.9h-.9zM1306.3 650.7h.9v.9h-.9zM1302.3 648.9h.9v.9h-.9zM1309.1 600.6h.9v.9h-.9zM1314.8 605.0h.9v.9h-.9zM1305.7 602.0h.9v.9h-.9zM1288.3 596.5h.9v.9h-.9zM1314.1 609.1h.9v.9h-.9zM1314.6 596.2h.9v.9h-.9zM1304.4 602.3h.9v.9h-.9zM1314.1 606.4h.9v.9h-.9zM1312.2 599.1h.9v.9h-.9zM1321.6 653.6h.9v.9h-.9zM1312.6 597.3h.9v.9h-.9zM1321.5 614.5h.9v.9h-.9zM1282.5 643.3h.9v.9h-.9zM1312.6 607.6h.9v.9h-.9zM1314.2 597.4h.9v.9h-.9zM1305.7 590.0h.9v.9h-.9zM1295.2 654.7h.9v.9h-.9zM1323.4 616.7h.9v.9h-.9zM1315.2 633.3h.9v.9h-.9zM1308.8 643.9h.9v.9h-.9zM1280.7 613.7h.9v.9h-.9zM1314.7 605.3h.9v.9h-.9zM1319.2 635.4h.9v.9h-.9zM1307.2 600.3h.9v.9h-.9zM1314.6 601.2h.9v.9h-.9zM1311.2 602.7h.9v.9h-.9zM1304.3 599.4h.9v.9h-.9zM1311.0 602.9h.9v.9h-.9zM1304.1 599.6h.9v.9h-.9zM1289.0 611.0h.9v.9h-.9zM1309.1 593.7h.9v.9h-.9zM1323.2 650.0h.9v.9h-.9zM1295.2 606.6h.9v.9h-.9zM1285.7 613.0h.9v.9h-.9zM1312.7 638.6h.9v.9h-.9zM1312.1 601.0h.9v.9h-.9zM1315.6 625.2h.9v.9h-.9zM1281.4 619.4h.9v.9h-.9zM1313.2 619.3h.9v.9h-.9zM1306.2 646.5h.9v.9h-.9zM1287.1 644.5h.9v.9h-.9zM1295.0 654.3h.9v.9h-.9zM1299.0 652.4h.9v.9h-.9zM1307.5 603.4h.9v.9h-.9zM1301.5 602.2h.9v.9h-.9zM1312.9 603.8h.9v.9h-.9zM1318.0 615.3h.9v.9h-.9zM1313.3 601.0h.9v.9h-.9zM1316.2 598.8h.9v.9h-.9zM1292.8 647.2h.9v.9h-.9zM1283.8 649.3h.9v.9h-.9zM1316.2 617.4h.9v.9h-.9zM1315.8 629.9h.9v.9h-.9zM1296.0 651.5h.9v.9h-.9zM1275.3 637.8h.9v.9h-.9zM1277.7 629.2h.9v.9h-.9zM1308.1 602.4h.9v.9h-.9zM1312.8 599.4h.9v.9h-.9zM1316.3 613.6h.9v.9h-.9zM1278.6 643.1h.9v.9h-.9zM1313.8 613.3h.9v.9h-.9zM1288.3 647.1h.9v.9h-.9zM1313.0 625.4h.9v.9h-.9zM1320.8 594.0h.9v.9h-.9zM1291.9 599.0h.9v.9h-.9zM1282.7 644.0h.9v.9h-.9zM1309.2 595.3h.9v.9h-.9zM1306.0 651.6h.9v.9h-.9zM1311.5 595.6h.9v.9h-.9zM1315.2 613.1h.9v.9h-.9zM1285.8 643.5h.9v.9h-.9zM1299.3 648.5h.9v.9h-.9zM1300.0 598.6h.9v.9h-.9zM1281.4 642.3h.9v.9h-.9zM1312.3 603.4h.9v.9h-.9zM1310.5 647.4h.9v.9h-.9zM1312.1 603.8h.9v.9h-.9zM1293.3 658.1h.9v.9h-.9zM1312.5 600.9h.9v.9h-.9zM1311.7 598.1h.9v.9h-.9zM1283.3 641.9h.9v.9h-.9zM1306.4 602.5h.9v.9h-.9zM1315.9 612.0h.9v.9h-.9zM1296.9 602.8h.9v.9h-.9zM1295.0 605.0h.9v.9h-.9zM1284.5 642.8h.9v.9h-.9zM1319.1 608.0h.9v.9h-.9zM1285.5 610.4h.9v.9h-.9zM1308.1 599.6h.9v.9h-.9zM1308.5 602.0h.9v.9h-.9zM1315.7 629.0h.9v.9h-.9zM1296.9 647.4h.9v.9h-.9zM1300.8 603.1h.9v.9h-.9zM1289.0 646.2h.9v.9h-.9zM1322.5 592.1h.9v.9h-.9zM1281.4 644.2h.9v.9h-.9zM1314.7 611.8h.9v.9h-.9zM1306.9 602.0h.9v.9h-.9zM1314.7 603.5h.9v.9h-.9zM1310.7 604.6h.9v.9h-.9zM1315.6 605.1h.9v.9h-.9zM1307.3 651.0h.9v.9h-.9zM1300.0 602.7h.9v.9h-.9zM1282.8 642.4h.9v.9h-.9zM1285.8 610.8h.9v.9h-.9zM1321.5 606.0h.9v.9h-.9zM1285.9 598.8h.9v.9h-.9zM1317.5 611.4h.9v.9h-.9zM1284.2 645.1h.9v.9h-.9zM1314.1 597.8h.9v.9h-.9zM1317.3 608.2h.9v.9h-.9zM1292.7 648.1h.9v.9h-.9zM1313.5 644.7h.9v.9h-.9zM1291.5 646.5h.9v.9h-.9zM1318.3 610.6h.9v.9h-.9zM1311.7 646.9h.9v.9h-.9zM1297.3 606.4h.9v.9h-.9zM1323.6 591.2h.9v.9h-.9zM1317.9 622.8h.9v.9h-.9zM1290.8 646.8h.9v.9h-.9zM1313.0 648.6h.9v.9h-.9zM1311.3 596.3h.9v.9h-.9zM1327.5 609.3h.9v.9h-.9zM1305.8 650.8h.9v.9h-.9zM1319.4 602.7h.9v.9h-.9zM1315.9 632.0h.9v.9h-.9zM1288.2 647.3h.9v.9h-.9zM1322.5 608.0h.9v.9h-.9zM1315.9 599.7h.9v.9h-.9zM1304.6 599.2h.9v.9h-.9zM1299.0 604.8h.9v.9h-.9zM1290.2 656.9h.9v.9h-.9zM1313.3 605.0h.9v.9h-.9zM1318.4 637.3h.9v.9h-.9zM1303.6 603.0h.9v.9h-.9zM1281.7 617.5h.9v.9h-.9zM1315.2 604.2h.9v.9h-.9zM1313.7 603.5h.9v.9h-.9zM1284.0 609.2h.9v.9h-.9zM1305.7 596.1h.9v.9h-.9zM1295.5 656.2h.9v.9h-.9zM1317.3 605.7h.9v.9h-.9zM1301.2 649.4h.9v.9h-.9zM1313.1 609.7h.9v.9h-.9zM1297.6 651.9h.9v.9h-.9zM1315.3 595.6h.9v.9h-.9zM1283.4 651.7h.9v.9h-.9zM1302.3 648.2h.9v.9h-.9zM1323.8 610.1h.9v.9h-.9zM1314.7 613.6h.9v.9h-.9zM1282.3 617.3h.9v.9h-.9zM1314.6 616.5h.9v.9h-.9zM1298.7 647.8h.9v.9h-.9zM1318.4 603.0h.9v.9h-.9zM1311.0 639.7h.9v.9h-.9zM1315.8 621.6h.9v.9h-.9zM1282.8 646.7h.9v.9h-.9zM1294.6 599.9h.9v.9h-.9zM1316.0 635.2h.9v.9h-.9zM1321.2 596.4h.9v.9h-.9zM1310.9 642.1h.9v.9h-.9zM1315.5 635.8h.9v.9h-.9zM1284.6 645.6h.9v.9h-.9zM1291.1 609.1h.9v.9h-.9zM1310.8 604.4h.9v.9h-.9zM1283.3 647.0h.9v.9h-.9zM1315.1 606.6h.9v.9h-.9zM1305.0 603.0h.9v.9h-.9zM1313.3 603.0h.9v.9h-.9zM1300.6 650.0h.9v.9h-.9zM1311.2 601.3h.9v.9h-.9zM1307.8 643.4h.9v.9h-.9zM1306.1 598.6h.9v.9h-.9zM1282.7 658.7h.9v.9h-.9zM1284.0 644.9h.9v.9h-.9zM1313.9 621.5h.9v.9h-.9zM1312.8 601.6h.9v.9h-.9zM1275.8 639.3h.9v.9h-.9zM1316.3 635.0h.9v.9h-.9zM1313.4 645.8h.9v.9h-.9zM1304.8 647.8h.9v.9h-.9zM1303.3 647.3h.9v.9h-.9zM1284.6 615.3h.9v.9h-.9zM1298.0 646.3h.9v.9h-.9zM1321.2 614.9h.9v.9h-.9zM1314.0 600.0h.9v.9h-.9zM1297.9 603.9h.9v.9h-.9zM1282.9 647.0h.9v.9h-.9zM1300.8 601.5h.9v.9h-.9zM1306.8 646.4h.9v.9h-.9zM1285.6 614.0h.9v.9h-.9zM1312.7 602.3h.9v.9h-.9zM1290.4 653.4h.9v.9h-.9zM1314.2 636.6h.9v.9h-.9zM1305.2 651.4h.9v.9h-.9zM1315.5 642.5h.9v.9h-.9zM1283.6 642.1h.9v.9h-.9zM1312.6 605.5h.9v.9h-.9zM1290.7 610.3h.9v.9h-.9zM1291.9 645.5h.9v.9h-.9zM1300.1 603.9h.9v.9h-.9zM1311.3 600.7h.9v.9h-.9zM1307.8 650.8h.9v.9h-.9zM1319.9 641.5h.9v.9h-.9zM1279.2 625.1h.9v.9h-.9zM1328.7 630.1h.9v.9h-.9zM1298.2 604.3h.9v.9h-.9z"/>
<path d="M822.22,840.74C823.34,841.38 823.73,841.61 824.2,843.44C824.66,845.27 825.05,848.97 825.04,851.72C825.03,854.48 824.18,857.13 824.13,859.97C824.08,862.8 825.16,865.71 824.74,868.75C824.32,871.79 823.5,876.01 821.6,878.21C819.71,880.41 816.16,881.34 813.37,881.95C810.58,882.56 807.65,882.41 804.84,881.87C802.03,881.34 798.51,880.49 796.51,878.72C794.52,876.94 793.47,874.39 792.88,871.22C792.29,868.04 792.51,862.76 792.97,859.66C793.42,856.56 793.97,854.81 795.6,852.64C797.22,850.47 800.18,848.37 802.72,846.63C805.25,844.88 808.34,843.34 810.8,842.17C813.27,841 815.61,839.85 817.51,839.62C819.41,839.38 821.11,840.1 822.22,840.74Z" fill="none" stroke="#7a7a7a" stroke-width="0.8"/>
<path d="M821.4,842.19C822.24,842.83 822.05,842.97 822.4,844.64C822.75,846.31 823.4,849.53 823.5,852.2C823.59,854.87 823.03,857.91 822.97,860.69C822.92,863.46 823.59,866.02 823.18,868.84C822.76,871.67 822.23,875.62 820.47,877.63C818.71,879.64 815.31,880.43 812.62,880.9C809.93,881.36 806.9,880.85 804.33,880.42C801.75,879.99 799.02,879.94 797.16,878.31C795.31,876.68 793.87,873.68 793.21,870.63C792.54,867.59 792.68,862.89 793.16,860.06C793.64,857.22 794.54,855.63 796.09,853.61C797.63,851.59 799.95,849.77 802.43,847.94C804.92,846.1 808.5,843.79 810.99,842.6C813.48,841.4 815.62,840.84 817.36,840.77C819.1,840.7 820.56,841.54 821.4,842.19Z" fill="none" stroke="#7a7a7a" stroke-width="0.55"/>
<path d="M820.01,843.47C820.85,843.91 820.52,844.08 820.86,845.64C821.19,847.2 821.89,850.42 821.99,852.82C822.09,855.22 821.56,857.41 821.46,860.04C821.36,862.67 821.84,865.73 821.37,868.61C820.9,871.49 820.13,875.3 818.66,877.31C817.19,879.33 814.92,880.3 812.55,880.71C810.17,881.11 806.88,880.26 804.41,879.76C801.94,879.26 799.49,879.26 797.74,877.69C795.99,876.12 794.49,873.17 793.9,870.36C793.32,867.55 793.93,863.46 794.24,860.85C794.55,858.24 794.43,856.72 795.76,854.7C797.09,852.69 799.79,850.42 802.23,848.76C804.66,847.09 808.12,845.66 810.38,844.7C812.65,843.75 814.22,843.22 815.82,843.02C817.42,842.81 819.17,843.03 820.01,843.47Z" fill="#000" fill-opacity="0.032" stroke="#5a5a5a" stroke-width="0.55"/>
<path d="M818.65,844.25C819.52,844.64 819.6,844.73 819.89,846.21C820.18,847.68 820.23,850.61 820.39,853.12C820.55,855.62 820.89,858.84 820.84,861.24C820.78,863.63 820.48,864.96 820.07,867.48C819.65,869.99 819.8,874.39 818.35,876.32C816.91,878.25 813.69,878.54 811.39,879.03C809.09,879.53 806.77,879.7 804.54,879.29C802.32,878.87 799.71,878.06 798.02,876.54C796.34,875.02 795.09,872.82 794.43,870.18C793.78,867.55 793.65,863.34 794.08,860.73C794.51,858.12 795.55,856.25 797.02,854.52C798.48,852.78 800.73,851.77 802.88,850.32C805.03,848.87 807.93,846.89 809.9,845.81C811.87,844.74 813.23,844.13 814.69,843.87C816.15,843.61 817.78,843.86 818.65,844.25Z" fill="#000" fill-opacity="0.032" stroke="#5a5a5a" stroke-width="0.55"/>
<path d="M817.11,846.1C817.82,846.45 818.14,846.25 818.63,847.66C819.11,849.07 819.81,852.33 820.01,854.54C820.22,856.75 819.99,858.71 819.84,860.94C819.69,863.17 819.64,865.54 819.12,867.93C818.61,870.33 818.15,873.63 816.76,875.31C815.37,876.98 812.86,877.44 810.76,877.97C808.67,878.51 806.19,878.84 804.21,878.5C802.23,878.17 800.33,877.49 798.87,875.95C797.41,874.41 796.14,871.79 795.45,869.26C794.76,866.73 794.41,862.99 794.74,860.76C795.06,858.53 796.1,857.49 797.4,855.88C798.7,854.28 800.5,852.6 802.52,851.12C804.55,849.63 807.57,847.89 809.54,846.96C811.51,846.03 813.1,845.69 814.36,845.54C815.63,845.4 816.4,845.74 817.11,846.1Z" fill="#000" fill-opacity="0.032" stroke="#5a5a5a" stroke-width="0.55"/>
<path d="M816.2,847.27C816.88,847.64 817,847.56 817.38,848.87C817.76,850.17 818.42,852.97 818.5,855.1C818.58,857.24 817.96,859.6 817.88,861.68C817.81,863.75 818.47,865.37 818.03,867.56C817.59,869.74 816.56,873.13 815.22,874.79C813.88,876.45 811.83,877.1 809.99,877.53C808.15,877.96 806.03,877.75 804.18,877.38C802.33,877.02 800.28,876.69 798.9,875.33C797.51,873.97 796.35,871.52 795.86,869.22C795.38,866.93 795.71,863.68 795.97,861.56C796.23,859.44 796.23,858.09 797.41,856.49C798.58,854.89 801.07,853.31 803.04,851.98C805.02,850.64 807.53,849.35 809.25,848.47C810.96,847.58 812.18,846.86 813.34,846.66C814.5,846.46 815.53,846.9 816.2,847.27Z" fill="#000" fill-opacity="0.032" stroke="#5a5a5a" stroke-width="0.55"/>
<path d="M814.89,848.71C815.65,849.11 816.44,848.84 816.82,850.03C817.2,851.22 817.11,854 817.15,855.85C817.19,857.7 817.1,859.24 817.06,861.15C817.03,863.06 817.3,865.21 816.92,867.34C816.55,869.46 816.01,872.34 814.81,873.89C813.62,875.45 811.52,876.26 809.75,876.66C807.99,877.07 806.09,876.8 804.23,876.34C802.38,875.88 799.89,875.14 798.61,873.9C797.32,872.66 796.94,870.92 796.51,868.88C796.08,866.84 795.76,863.76 796.03,861.66C796.3,859.57 797.01,857.85 798.12,856.32C799.22,854.78 801.03,853.71 802.65,852.47C804.27,851.23 806.23,849.69 807.83,848.88C809.44,848.08 811.1,847.68 812.28,847.66C813.45,847.63 814.13,848.32 814.89,848.71Z" fill="#000" fill-opacity="0.032" stroke="#5a5a5a" stroke-width="0.55"/>
<path d="M813.82,849.23C814.39,849.51 814.81,849.91 815.15,851.11C815.48,852.32 815.79,854.61 815.82,856.44C815.85,858.28 815.48,860.38 815.33,862.13C815.18,863.87 815.24,865.1 814.92,866.94C814.59,868.77 814.42,871.64 813.38,873.11C812.33,874.58 810.22,875.49 808.64,875.75C807.05,876.02 805.37,875.16 803.85,874.71C802.33,874.26 800.63,874.12 799.52,873.04C798.4,871.96 797.59,870.04 797.16,868.23C796.73,866.42 796.7,864 796.96,862.18C797.22,860.36 797.72,858.71 798.72,857.32C799.73,855.93 801.51,855.04 803,853.84C804.49,852.65 806.21,850.88 807.66,850.13C809.11,849.39 810.67,849.54 811.7,849.38C812.73,849.23 813.24,848.94 813.82,849.23Z" fill="#000" fill-opacity="0.032" stroke="#5a5a5a" stroke-width="0.55"/>
<path d="M813.49,851.47C814.09,851.74 813.87,851.41 814.1,852.26C814.33,853.11 814.89,854.95 814.86,856.58C814.84,858.21 814.06,860.39 813.97,862.04C813.88,863.68 814.53,864.65 814.32,866.45C814.11,868.24 813.69,871.5 812.69,872.82C811.69,874.14 809.81,874.19 808.3,874.39C806.78,874.59 804.94,874.33 803.58,874.02C802.23,873.71 801.1,873.46 800.19,872.53C799.28,871.61 798.55,870.26 798.11,868.46C797.67,866.66 797.34,863.47 797.53,861.73C797.73,859.99 798.45,859.24 799.3,858.03C800.14,856.82 801.19,855.53 802.61,854.48C804.02,853.43 806.47,852.37 807.79,851.73C809.11,851.09 809.59,850.69 810.54,850.64C811.49,850.6 812.9,851.2 813.49,851.47Z" fill="#000" fill-opacity="0.032" stroke="#5a5a5a" stroke-width="0.55"/>
<path d="M811.59,852.44C812.06,852.69 812.44,852.43 812.76,853.38C813.09,854.33 813.54,856.65 813.53,858.13C813.51,859.6 812.79,860.77 812.66,862.25C812.54,863.73 812.92,865.49 812.78,867.02C812.64,868.54 812.68,870.38 811.82,871.4C810.95,872.42 808.86,872.86 807.59,873.14C806.33,873.42 805.47,873.29 804.23,873.08C802.98,872.86 801.12,872.71 800.14,871.84C799.15,870.96 798.64,869.47 798.32,867.8C798,866.14 798.04,863.39 798.23,861.83C798.42,860.28 798.73,859.53 799.48,858.46C800.23,857.4 801.54,856.36 802.73,855.45C803.92,854.54 805.43,853.6 806.63,853.01C807.82,852.41 809.06,851.97 809.88,851.87C810.71,851.78 811.11,852.19 811.59,852.44Z" fill="#000" fill-opacity="0.032" stroke="#444" stroke-width="0.55"/>
<path d="M811.15,853.72C811.43,853.97 811.05,853.64 811.2,854.51C811.34,855.38 811.8,857.61 811.99,858.94C812.18,860.27 812.45,861.22 812.34,862.51C812.23,863.79 811.66,865.23 811.34,866.64C811.03,868.04 811.1,869.96 810.45,870.96C809.8,871.96 808.59,872.35 807.45,872.65C806.31,872.95 804.81,873.03 803.6,872.75C802.4,872.47 800.98,871.91 800.22,870.96C799.46,870.01 799.36,868.41 799.05,867.05C798.73,865.69 798.3,864.03 798.32,862.79C798.35,861.55 798.42,860.68 799.19,859.63C799.95,858.58 801.73,857.36 802.89,856.51C804.05,855.65 805.04,855.08 806.14,854.5C807.24,853.91 808.67,853.13 809.5,853C810.34,852.87 810.86,853.47 811.15,853.72Z" fill="#000" fill-opacity="0.032" stroke="#444" stroke-width="0.55"/>
<path d="M809.83,854.99C810.22,855.23 810.4,855.05 810.51,855.77C810.62,856.49 810.4,858.24 810.5,859.33C810.59,860.41 811.1,861.09 811.08,862.28C811.07,863.46 810.6,865.12 810.39,866.45C810.18,867.79 810.52,869.39 809.81,870.28C809.11,871.17 807.16,871.5 806.18,871.77C805.21,872.04 804.87,872.21 803.98,871.89C803.09,871.56 801.57,870.68 800.83,869.82C800.1,868.96 799.82,867.84 799.54,866.73C799.27,865.62 799.09,864.36 799.2,863.16C799.31,861.96 799.67,860.42 800.22,859.55C800.77,858.69 801.6,858.61 802.48,857.95C803.37,857.28 804.59,856.17 805.54,855.57C806.49,854.97 807.47,854.46 808.19,854.36C808.9,854.27 809.44,854.76 809.83,854.99Z" fill="#000" fill-opacity="0.032" stroke="#444" stroke-width="0.55"/>
<path d="M808.94,855.8C809.19,856.02 808.94,856.37 808.99,856.99C809.04,857.61 809.12,858.49 809.24,859.52C809.35,860.56 809.57,862.19 809.68,863.2C809.79,864.2 810.09,864.55 809.89,865.54C809.69,866.54 809.08,868.32 808.47,869.16C807.85,870 806.96,870.38 806.18,870.57C805.41,870.76 804.77,870.47 803.82,870.32C802.87,870.17 801.23,870.27 800.48,869.68C799.74,869.09 799.5,867.85 799.35,866.8C799.2,865.74 799.4,864.39 799.58,863.36C799.76,862.34 799.97,861.47 800.45,860.67C800.92,859.87 801.66,859.16 802.45,858.54C803.24,857.92 804.34,857.43 805.18,856.95C806.01,856.48 806.86,855.88 807.48,855.68C808.11,855.49 808.69,855.58 808.94,855.8Z" fill="#000" fill-opacity="0.032" stroke="#444" stroke-width="0.55"/>
<path d="M807.53,857.44C807.81,857.56 808.31,857.4 808.5,857.97C808.7,858.54 808.79,859.94 808.72,860.84C808.64,861.74 808.16,862.62 808.04,863.37C807.91,864.11 808.03,864.49 807.96,865.31C807.9,866.13 808,867.6 807.65,868.31C807.31,869.02 806.65,869.35 805.89,869.59C805.13,869.84 803.94,869.91 803.08,869.79C802.22,869.68 801.3,869.55 800.74,868.91C800.18,868.28 799.78,866.89 799.74,865.97C799.71,865.05 800.41,864.24 800.54,863.38C800.66,862.52 800.05,861.42 800.49,860.79C800.92,860.17 802.35,860.15 803.15,859.61C803.95,859.08 804.68,857.98 805.28,857.58C805.89,857.19 806.42,857.27 806.79,857.25C807.17,857.23 807.24,857.32 807.53,857.44Z" fill="#000" fill-opacity="0.032" stroke="#444" stroke-width="0.55"/>
<path d="M806.52,858.71C806.76,858.88 807.16,858.93 807.28,859.32C807.4,859.7 807.18,860.33 807.24,861.05C807.3,861.76 807.59,862.87 807.64,863.59C807.7,864.32 807.67,864.69 807.55,865.39C807.44,866.1 807.37,867.26 806.95,867.82C806.53,868.37 805.64,868.61 805.04,868.72C804.45,868.82 804.04,868.66 803.38,868.45C802.72,868.23 801.59,867.92 801.09,867.43C800.59,866.94 800.39,866.18 800.37,865.51C800.35,864.85 800.8,864.13 800.97,863.43C801.14,862.73 801.11,861.75 801.39,861.31C801.67,860.87 802.1,861.16 802.64,860.79C803.18,860.43 804.09,859.52 804.63,859.11C805.16,858.71 805.53,858.41 805.84,858.34C806.16,858.27 806.28,858.55 806.52,858.71Z" fill="#000" fill-opacity="0.032" stroke="#444" stroke-width="0.55"/>
<path d="M805.44,859.85C805.63,860 805.76,860.21 805.95,860.53C806.15,860.85 806.6,861.29 806.6,861.78C806.6,862.27 806.08,862.93 805.94,863.47C805.81,864.01 805.9,864.43 805.8,865.02C805.71,865.61 805.69,866.5 805.38,867.01C805.07,867.52 804.34,867.93 803.93,868.1C803.51,868.27 803.21,868.18 802.88,868.04C802.55,867.9 802.25,867.6 801.95,867.28C801.65,866.95 801.32,866.64 801.11,866.08C800.9,865.51 800.66,864.44 800.69,863.86C800.72,863.28 800.91,863.08 801.28,862.61C801.65,862.14 802.48,861.47 802.89,861.02C803.3,860.58 803.43,860.18 803.76,859.95C804.08,859.73 804.55,859.68 804.83,859.66C805.11,859.65 805.26,859.71 805.44,859.85Z" fill="#000" fill-opacity="0.032" stroke="#444" stroke-width="0.55"/>
<path d="M804.71,861.98C804.72,862.09 804.81,861.52 804.87,861.63C804.93,861.74 805,862.22 805.07,862.64C805.15,863.06 805.37,863.8 805.31,864.16C805.25,864.51 804.78,864.33 804.71,864.75C804.64,865.18 805,866.38 804.88,866.7C804.76,867.01 804.24,866.73 803.99,866.64C803.74,866.55 803.77,866.17 803.37,866.16C802.97,866.16 801.9,866.81 801.59,866.59C801.28,866.37 801.51,865.19 801.51,864.83C801.51,864.47 801.54,864.75 801.6,864.43C801.66,864.11 801.75,863.34 801.86,862.92C801.97,862.49 801.88,862.1 802.24,861.89C802.6,861.68 803.59,861.81 804.01,861.66C804.43,861.51 804.65,860.93 804.77,860.99C804.88,861.04 804.69,861.87 804.71,861.98Z" fill="#fff" stroke="#444" stroke-width="0.55"/>
<path fill="#222" d="M802.0 837.0h.9v.9h-.9zM804.0 845.1h.9v.9h-.9zM828.0 834.4h.9v.9h-.9zM829.7 864.3h.9v.9h-.9zM791.3 885.6h.9v.9h-.9zM805.1 838.6h.9v.9h-.9zM788.7 846.5h.9v.9h-.9zM811.7 885.1h.9v.9h-.9zM824.8 851.4h.9v.9h-.9zM826.6 857.3h.9v.9h-.9zM819.2 881.4h.9v.9h-.9zM807.4 883.6h.9v.9h-.9zM812.4 882.7h.9v.9h-.9zM828.4 857.2h.9v.9h-.9zM821.4 837.7h.9v.9h-.9zM820.8 882.5h.9v.9h-.9zM823.1 840.2h.9v.9h-.9zM796.6 881.2h.9v.9h-.9zM815.2 838.1h.9v.9h-.9zM810.0 842.2h.9v.9h-.9zM813.3 883.2h.9v.9h-.9zM824.8 839.3h.9v.9h-.9zM818.8 835.1h.9v.9h-.9zM813.4 883.0h.9v.9h-.9zM822.7 834.1h.9v.9h-.9zM829.4 868.7h.9v.9h-.9zM823.3 838.9h.9v.9h-.9zM810.8 885.7h.9v.9h-.9zM813.8 882.8h.9v.9h-.9zM832.5 861.6h.9v.9h-.9zM816.8 835.0h.9v.9h-.9zM787.6 856.6h.9v.9h-.9zM817.0 839.6h.9v.9h-.9zM812.9 839.7h.9v.9h-.9zM835.1 832.3h.9v.9h-.9zM831.9 840.1h.9v.9h-.9zM825.2 888.4h.9v.9h-.9zM811.7 840.4h.9v.9h-.9zM832.3 859.6h.9v.9h-.9zM817.7 888.4h.9v.9h-.9zM826.9 868.7h.9v.9h-.9zM817.2 838.2h.9v.9h-.9zM806.0 884.0h.9v.9h-.9zM825.3 852.8h.9v.9h-.9zM821.9 883.4h.9v.9h-.9zM821.2 837.0h.9v.9h-.9zM801.9 895.6h.9v.9h-.9zM818.6 887.8h.9v.9h-.9zM822.9 835.6h.9v.9h-.9zM830.9 849.6h.9v.9h-.9zM828.3 836.1h.9v.9h-.9zM823.0 835.7h.9v.9h-.9zM828.5 864.6h.9v.9h-.9zM813.5 840.6h.9v.9h-.9zM826.3 843.8h.9v.9h-.9zM814.2 834.6h.9v.9h-.9zM815.6 829.5h.9v.9h-.9zM798.4 883.0h.9v.9h-.9zM826.2 847.6h.9v.9h-.9zM812.3 837.9h.9v.9h-.9zM805.7 843.3h.9v.9h-.9zM816.4 887.8h.9v.9h-.9zM822.9 834.5h.9v.9h-.9zM825.5 865.4h.9v.9h-.9zM817.7 886.1h.9v.9h-.9zM812.5 839.6h.9v.9h-.9zM800.1 846.4h.9v.9h-.9zM825.0 842.1h.9v.9h-.9zM829.3 840.9h.9v.9h-.9zM801.0 885.9h.9v.9h-.9zM810.7 883.3h.9v.9h-.9zM819.3 839.0h.9v.9h-.9zM794.9 878.1h.9v.9h-.9zM796.8 838.7h.9v.9h-.9zM822.9 875.4h.9v.9h-.9zM818.1 881.8h.9v.9h-.9zM821.9 834.8h.9v.9h-.9zM824.2 838.6h.9v.9h-.9zM816.9 887.4h.9v.9h-.9zM824.9 836.5h.9v.9h-.9zM795.3 883.0h.9v.9h-.9zM827.0 844.0h.9v.9h-.9zM825.8 866.3h.9v.9h-.9zM792.2 872.6h.9v.9h-.9zM796.8 880.4h.9v.9h-.9zM800.4 845.2h.9v.9h-.9zM821.2 836.8h.9v.9h-.9zM819.7 836.3h.9v.9h-.9zM829.6 846.3h.9v.9h-.9zM803.9 840.4h.9v.9h-.9zM816.2 838.5h.9v.9h-.9zM818.1 881.1h.9v.9h-.9zM821.3 892.2h.9v.9h-.9zM817.7 839.3h.9v.9h-.9zM802.2 883.3h.9v.9h-.9zM827.1 864.1h.9v.9h-.9zM832.6 842.7h.9v.9h-.9zM827.8 827.4h.9v.9h-.9zM801.9 884.8h.9v.9h-.9zM814.7 833.7h.9v.9h-.9zM818.2 888.1h.9v.9h-.9zM816.6 833.5h.9v.9h-.9zM817.8 888.2h.9v.9h-.9zM825.6 851.0h.9v.9h-.9zM825.0 876.9h.9v.9h-.9zM828.4 852.7h.9v.9h-.9zM815.0 838.3h.9v.9h-.9zM826.6 839.5h.9v.9h-.9zM804.1 883.3h.9v.9h-.9zM807.2 840.5h.9v.9h-.9zM796.5 893.0h.9v.9h-.9zM824.9 841.0h.9v.9h-.9zM821.6 838.2h.9v.9h-.9zM824.7 872.0h.9v.9h-.9zM798.6 838.6h.9v.9h-.9zM836.8 845.6h.9v.9h-.9zM823.0 883.7h.9v.9h-.9zM830.8 861.3h.9v.9h-.9zM822.4 878.0h.9v.9h-.9zM789.7 872.7h.9v.9h-.9zM817.2 831.6h.9v.9h-.9zM824.5 835.7h.9v.9h-.9zM825.4 868.9h.9v.9h-.9zM811.0 887.0h.9v.9h-.9zM795.4 882.6h.9v.9h-.9zM817.8 880.6h.9v.9h-.9zM820.1 831.5h.9v.9h-.9zM801.3 882.9h.9v.9h-.9zM806.9 843.8h.9v.9h-.9zM817.5 838.5h.9v.9h-.9zM821.2 838.6h.9v.9h-.9zM821.7 878.0h.9v.9h-.9zM796.3 880.1h.9v.9h-.9zM835.2 847.1h.9v.9h-.9zM813.4 838.4h.9v.9h-.9zM825.8 851.6h.9v.9h-.9zM803.0 845.0h.9v.9h-.9zM814.7 836.7h.9v.9h-.9zM793.5 877.8h.9v.9h-.9zM819.7 838.8h.9v.9h-.9zM823.3 837.0h.9v.9h-.9zM825.6 853.4h.9v.9h-.9zM803.4 885.0h.9v.9h-.9zM823.8 886.3h.9v.9h-.9zM823.7 838.2h.9v.9h-.9zM830.9 862.4h.9v.9h-.9zM825.4 863.5h.9v.9h-.9zM817.7 881.7h.9v.9h-.9zM789.7 893.3h.9v.9h-.9zM827.9 841.5h.9v.9h-.9zM804.4 843.4h.9v.9h-.9zM815.7 838.3h.9v.9h-.9zM826.8 838.1h.9v.9h-.9zM827.1 855.0h.9v.9h-.9zM826.1 844.4h.9v.9h-.9zM835.3 831.1h.9v.9h-.9zM804.3 842.8h.9v.9h-.9zM826.8 828.7h.9v.9h-.9zM802.5 842.0h.9v.9h-.9zM816.0 833.2h.9v.9h-.9zM800.8 845.8h.9v.9h-.9zM788.6 853.6h.9v.9h-.9zM825.5 842.1h.9v.9h-.9zM825.8 865.5h.9v.9h-.9zM789.8 855.1h.9v.9h-.9zM830.1 853.7h.9v.9h-.9zM798.2 891.5h.9v.9h-.9zM829.0 825.5h.9v.9h-.9zM786.6 865.9h.9v.9h-.9zM819.9 880.0h.9v.9h-.9zM826.3 869.1h.9v.9h-.9zM834.7 887.9h.9v.9h-.9zM804.9 882.7h.9v.9h-.9zM808.0 882.9h.9v.9h-.9zM821.3 839.0h.9v.9h-.9zM823.2 837.7h.9v.9h-.9zM827.9 851.0h.9v.9h-.9zM813.4 887.1h.9v.9h-.9zM793.1 850.9h.9v.9h-.9zM796.0 884.3h.9v.9h-.9zM821.9 831.3h.9v.9h-.9zM831.3 858.4h.9v.9h-.9zM800.4 846.6h.9v.9h-.9zM818.7 837.6h.9v.9h-.9zM815.1 888.9h.9v.9h-.9zM823.7 882.4h.9v.9h-.9zM799.5 882.2h.9v.9h-.9zM827.4 852.6h.9v.9h-.9zM814.5 883.2h.9v.9h-.9zM826.0 858.5h.9v.9h-.9zM813.3 836.7h.9v.9h-.9zM833.1 854.1h.9v.9h-.9zM795.9 883.6h.9v.9h-.9zM803.0 883.7h.9v.9h-.9zM801.5 843.7h.9v.9h-.9zM809.9 841.0h.9v.9h-.9zM817.6 838.4h.9v.9h-.9zM817.4 881.9h.9v.9h-.9zM817.2 882.5h.9v.9h-.9zM786.8 857.3h.9v.9h-.9zM824.1 842.0h.9v.9h-.9zM813.4 838.1h.9v.9h-.9zM832.7 853.0h.9v.9h-.9zM810.9 883.6h.9v.9h-.9zM822.0 893.8h.9v.9h-.9zM819.3 828.3h.9v.9h-.9zM807.6 843.2h.9v.9h-.9zM811.0 840.7h.9v.9h-.9zM810.1 888.0h.9v.9h-.9zM800.2 834.4h.9v.9h-.9zM812.3 892.7h.9v.9h-.9zM808.4 886.0h.9v.9h-.9zM831.3 830.7h.9v.9h-.9zM822.7 838.4h.9v.9h-.9zM792.5 854.5h.9v.9h-.9zM826.8 839.7h.9v.9h-.9zM828.6 858.9h.9v.9h-.9zM811.4 885.0h.9v.9h-.9zM800.7 845.7h.9v.9h-.9zM813.7 839.4h.9v.9h-.9zM818.8 881.8h.9v.9h-.9zM826.3 881.7h.9v.9h-.9zM801.4 883.0h.9v.9h-.9zM833.6 824.4h.9v.9h-.9zM828.0 840.2h.9v.9h-.9zM813.2 838.4h.9v.9h-.9zM814.7 883.5h.9v.9h-.9zM825.6 848.1h.9v.9h-.9zM816.9 836.5h.9v.9h-.9zM829.0 836.3h.9v.9h-.9zM823.0 839.1h.9v.9h-.9zM825.9 851.8h.9v.9h-.9zM807.9 890.6h.9v.9h-.9zM813.5 885.2h.9v.9h-.9zM793.6 890.3h.9v.9h-.9zM825.0 841.8h.9v.9h-.9zM803.4 884.6h.9v.9h-.9zM820.1 838.0h.9v.9h-.9zM813.1 885.3h.9v.9h-.9zM825.4 834.1h.9v.9h-.9zM788.8 880.3h.9v.9h-.9zM811.7 882.6h.9v.9h-.9zM820.2 879.4h.9v.9h-.9zM825.5 867.2h.9v.9h-.9zM812.5 838.6h.9v.9h-.9zM826.6 832.5h.9v.9h-.9zM828.5 860.1h.9v.9h-.9zM834.9 852.0h.9v.9h-.9zM819.2 883.4h.9v.9h-.9zM828.2 837.0h.9v.9h-.9zM799.0 881.5h.9v.9h-.9zM826.9 864.5h.9v.9h-.9zM817.7 834.9h.9v.9h-.9zM802.3 842.8h.9v.9h-.9zM826.6 835.3h.9v.9h-.9zM803.9 841.0h.9v.9h-.9zM815.5 835.5h.9v.9h-.9zM832.8 855.2h.9v.9h-.9zM820.1 880.6h.9v.9h-.9zM822.1 838.8h.9v.9h-.9zM817.3 884.3h.9v.9h-.9zM818.0 832.7h.9v.9h-.9zM809.5 839.7h.9v.9h-.9zM821.5 839.1h.9v.9h-.9zM822.3 838.3h.9v.9h-.9zM793.7 882.6h.9v.9h-.9zM820.3 833.6h.9v.9h-.9zM826.0 832.8h.9v.9h-.9zM824.2 839.7h.9v.9h-.9zM832.9 841.2h.9v.9h-.9zM806.6 887.1h.9v.9h-.9zM828.0 847.0h.9v.9h-.9zM834.2 839.8h.9v.9h-.9zM826.8 840.6h.9v.9h-.9zM800.1 847.6h.9v.9h-.9zM804.1 885.7h.9v.9h-.9zM824.6 831.9h.9v.9h-.9zM825.1 830.1h.9v.9h-.9zM806.7 843.6h.9v.9h-.9zM825.6 840.0h.9v.9h-.9zM821.8 838.1h.9v.9h-.9zM832.5 870.3h.9v.9h-.9zM798.0 880.8h.9v.9h-.9zM822.3 879.4h.9v.9h-.9zM814.1 834.6h.9v.9h-.9zM793.6 881.9h.9v.9h-.9zM814.8 885.9h.9v.9h-.9zM813.0 837.4h.9v.9h-.9zM815.0 886.1h.9v.9h-.9zM833.8 837.3h.9v.9h-.9zM817.8 827.9h.9v.9h-.9zM827.2 839.3h.9v.9h-.9zM799.0 840.6h.9v.9h-.9zM828.0 882.5h.9v.9h-.9zM813.4 884.2h.9v.9h-.9zM825.5 848.8h.9v.9h-.9zM813.2 886.7h.9v.9h-.9zM801.9 845.8h.9v.9h-.9zM813.1 893.5h.9v.9h-.9zM822.1 884.4h.9v.9h-.9zM822.5 838.4h.9v.9h-.9zM805.9 884.6h.9v.9h-.9zM824.7 869.2h.9v.9h-.9zM818.5 883.2h.9v.9h-.9zM808.4 840.7h.9v.9h-.9zM821.7 884.9h.9v.9h-.9zM827.4 881.9h.9v.9h-.9zM831.2 848.3h.9v.9h-.9zM799.0 846.4h.9v.9h-.9zM826.0 843.7h.9v.9h-.9zM824.2 837.6h.9v.9h-.9zM791.9 870.2h.9v.9h-.9zM824.2 842.1h.9v.9h-.9zM805.9 883.4h.9v.9h-.9zM828.4 865.0h.9v.9h-.9zM826.2 830.6h.9v.9h-.9zM825.2 846.0h.9v.9h-.9zM824.6 832.2h.9v.9h-.9zM814.1 830.9h.9v.9h-.9zM796.0 879.1h.9v.9h-.9zM812.4 840.6h.9v.9h-.9zM825.9 835.5h.9v.9h-.9zM827.6 838.8h.9v.9h-.9zM816.6 837.9h.9v.9h-.9zM799.4 843.5h.9v.9h-.9zM798.7 884.5h.9v.9h-.9zM827.3 837.1h.9v.9h-.9zM827.7 857.1h.9v.9h-.9zM795.0 879.2h.9v.9h-.9zM803.9 843.6h.9v.9h-.9zM830.0 836.4h.9v.9h-.9zM825.9 868.9h.9v.9h-.9zM829.0 859.8h.9v.9h-.9zM806.7 890.2h.9v.9h-.9zM822.1 881.8h.9v.9h-.9zM807.5 838.4h.9v.9h-.9zM807.8 882.5h.9v.9h-.9zM821.2 834.8h.9v.9h-.9zM814.0 883.6h.9v.9h-.9zM822.4 840.2h.9v.9h-.9zM826.1 851.5h.9v.9h-.9zM807.9 843.6h.9v.9h-.9zM797.1 879.2h.9v.9h-.9zM826.2 862.9h.9v.9h-.9zM824.8 836.2h.9v.9h-.9zM812.4 893.5h.9v.9h-.9zM798.0 840.9h.9v.9h-.9zM823.2 878.8h.9v.9h-.9zM824.7 832.7h.9v.9h-.9zM834.9 851.8h.9v.9h-.9zM820.6 833.1h.9v.9h-.9zM825.0 831.6h.9v.9h-.9zM820.0 837.7h.9v.9h-.9zM823.4 878.2h.9v.9h-.9zM799.6 881.2h.9v.9h-.9zM826.1 837.6h.9v.9h-.9zM804.1 891.7h.9v.9h-.9zM802.5 882.7h.9v.9h-.9zM829.2 852.4h.9v.9h-.9zM827.7 857.4h.9v.9h-.9zM814.2 838.8h.9v.9h-.9zM808.4 886.3h.9v.9h-.9zM823.6 884.6h.9v.9h-.9zM817.6 834.3h.9v.9h-.9zM800.2 845.2h.9v.9h-.9zM824.5 881.8h.9v.9h-.9zM828.6 836.5h.9v.9h-.9zM795.1 844.8h.9v.9h-.9zM824.1 842.8h.9v.9h-.9zM826.9 848.7h.9v.9h-.9zM795.5 836.2h.9v.9h-.9zM820.1 881.9h.9v.9h-.9zM795.2 883.8h.9v.9h-.9zM827.1 848.2h.9v.9h-.9zM798.0 880.5h.9v.9h-.9zM802.3 883.4h.9v.9h-.9zM827.6 835.7h.9v.9h-.9zM825.4 861.3h.9v.9h-.9zM802.5 846.0h.9v.9h-.9zM816.5 837.7h.9v.9h-.9z"/>
<path d="M984.89,840.82C985.98,841.35 986.07,840.99 986.39,842.76C986.7,844.54 986.69,848.55 986.8,851.46C986.91,854.38 987.09,857.36 987.07,860.26C987.05,863.16 987.27,865.76 986.67,868.87C986.07,871.98 985.23,876.69 983.47,878.9C981.72,881.11 978.82,881.6 976.13,882.11C973.44,882.63 970.16,882.49 967.34,881.98C964.52,881.47 961.1,880.96 959.19,879.05C957.29,877.15 956.52,873.71 955.91,870.57C955.29,867.42 955.13,863.14 955.5,860.19C955.88,857.23 956.61,854.98 958.14,852.84C959.68,850.69 962.03,849.15 964.69,847.3C967.35,845.45 971.57,843.03 974.1,841.75C976.64,840.46 978.1,839.75 979.89,839.6C981.69,839.44 983.81,840.29 984.89,840.82Z" fill="none" stroke="#7a7a7a" stroke-width="0.8"/>
<path d="M983.56,841.6C984.63,842.05 985.21,842.5 985.56,844.26C985.91,846.03 985.65,849.44 985.66,852.18C985.67,854.91 985.59,857.98 985.63,860.68C985.67,863.38 986.38,865.5 985.9,868.39C985.41,871.28 984.44,875.81 982.72,878.03C981,880.25 978.23,881.26 975.56,881.71C972.89,882.16 969.31,881.33 966.71,880.71C964.11,880.1 961.7,879.79 959.96,878.01C958.23,876.23 956.92,873 956.29,870.05C955.66,867.09 955.94,862.98 956.21,860.27C956.47,857.56 956.43,855.89 957.88,853.79C959.34,851.69 962.37,849.51 964.93,847.65C967.5,845.8 970.91,843.69 973.27,842.68C975.63,841.67 977.38,841.79 979.1,841.61C980.81,841.43 982.48,841.16 983.56,841.6Z" fill="none" stroke="#7a7a7a" stroke-width="0.55"/>
<path d="M982.45,842.64C983.41,843.09 983.78,843.12 984.12,844.87C984.45,846.62 984.38,850.58 984.46,853.15C984.54,855.72 984.64,857.82 984.57,860.3C984.51,862.78 984.65,865.16 984.07,868.04C983.49,870.92 982.74,875.53 981.09,877.56C979.44,879.58 976.47,879.81 974.17,880.19C971.87,880.56 969.56,880.31 967.31,879.8C965.07,879.3 962.37,878.71 960.7,877.16C959.03,875.61 957.95,873.22 957.27,870.5C956.59,867.79 956.38,863.53 956.61,860.88C956.85,858.23 957.2,856.58 958.67,854.59C960.14,852.6 963.09,850.61 965.43,848.93C967.78,847.25 970.59,845.61 972.74,844.49C974.9,843.36 976.77,842.49 978.39,842.18C980.01,841.87 981.5,842.19 982.45,842.64Z" fill="#000" fill-opacity="0.032" stroke="#5a5a5a" stroke-width="0.55"/>
<path d="M981.35,844.2C982.16,844.71 982.29,845.35 982.56,846.81C982.84,848.28 982.95,850.65 982.99,852.99C983.02,855.32 982.81,858.38 982.77,860.83C982.74,863.28 983.17,865.04 982.77,867.68C982.36,870.33 981.82,874.79 980.32,876.71C978.82,878.63 975.91,878.81 973.74,879.21C971.58,879.6 969.56,879.51 967.33,879.07C965.09,878.64 962,878.21 960.34,876.6C958.67,874.98 957.92,872.08 957.36,869.41C956.79,866.73 956.57,862.99 956.93,860.54C957.28,858.09 958.08,856.41 959.48,854.71C960.88,853.01 963.11,851.89 965.31,850.34C967.51,848.79 970.63,846.5 972.69,845.4C974.75,844.3 976.25,843.96 977.69,843.76C979.13,843.56 980.54,843.7 981.35,844.2Z" fill="#000" fill-opacity="0.032" stroke="#5a5a5a" stroke-width="0.55"/>
<path d="M979.86,845.74C980.67,846.28 981.3,846.82 981.62,848.14C981.95,849.47 981.77,851.63 981.81,853.69C981.84,855.76 981.92,858.16 981.81,860.54C981.71,862.92 981.65,865.44 981.17,867.98C980.68,870.51 980.22,873.93 978.89,875.73C977.57,877.53 975.17,878.46 973.22,878.77C971.27,879.07 969.29,877.99 967.19,877.58C965.08,877.16 962.12,877.65 960.6,876.27C959.08,874.9 958.51,871.84 958.06,869.34C957.62,866.85 957.67,863.61 957.93,861.3C958.19,858.99 958.47,857.25 959.61,855.49C960.75,853.72 962.8,852.12 964.76,850.69C966.73,849.26 969.4,847.85 971.41,846.89C973.42,845.93 975.4,845.12 976.81,844.93C978.22,844.74 979.06,845.2 979.86,845.74Z" fill="#000" fill-opacity="0.032" stroke="#5a5a5a" stroke-width="0.55"/>
<path d="M978.97,846.66C979.53,847.1 979.42,847.59 979.71,849.03C979.99,850.47 980.52,853.24 980.69,855.31C980.86,857.38 980.83,859.35 980.72,861.43C980.61,863.52 980.5,865.57 980.01,867.81C979.52,870.05 978.93,873.2 977.79,874.86C976.65,876.52 974.93,877.41 973.15,877.77C971.37,878.13 969.06,877.43 967.11,877.02C965.16,876.61 962.93,876.58 961.44,875.33C959.95,874.08 958.62,871.88 958.15,869.52C957.69,867.16 958.28,863.41 958.64,861.17C959.01,858.93 959.28,857.62 960.33,856.09C961.39,854.56 963.2,853.3 964.95,852C966.7,850.7 968.94,849.24 970.83,848.31C972.73,847.38 974.95,846.69 976.3,846.41C977.66,846.14 978.4,846.23 978.97,846.66Z" fill="#000" fill-opacity="0.032" stroke="#5a5a5a" stroke-width="0.55"/>
<path d="M978.16,847.96C978.95,848.27 978.95,848.57 979.24,849.84C979.54,851.1 979.84,853.7 979.93,855.56C980.01,857.43 979.96,859.01 979.76,861.01C979.56,863.01 979.14,865.4 978.73,867.57C978.31,869.74 978.46,872.59 977.28,874.01C976.11,875.42 973.46,875.79 971.66,876.06C969.86,876.34 968.06,875.93 966.47,875.67C964.87,875.41 963.23,875.63 962.07,874.51C960.91,873.38 960.09,871.17 959.52,868.93C958.95,866.69 958.46,863.15 958.66,861.05C958.85,858.96 959.62,857.78 960.72,856.39C961.81,855 963.55,853.97 965.23,852.71C966.9,851.45 969.22,849.61 970.77,848.83C972.32,848.04 973.3,848.14 974.53,847.99C975.77,847.85 977.38,847.65 978.16,847.96Z" fill="#000" fill-opacity="0.032" stroke="#5a5a5a" stroke-width="0.55"/>
<path d="M976.16,849.72C976.64,850.02 977.05,849.9 977.33,851.01C977.62,852.13 977.75,854.68 977.86,856.42C977.97,858.16 978.02,859.67 977.98,861.45C977.94,863.22 977.88,865.15 977.64,867.09C977.39,869.04 977.58,871.76 976.51,873.12C975.43,874.48 972.9,874.88 971.18,875.24C969.47,875.59 967.72,875.53 966.22,875.25C964.72,874.96 963.34,874.69 962.19,873.52C961.04,872.34 959.79,870.19 959.3,868.21C958.81,866.24 959.01,863.38 959.26,861.66C959.51,859.95 959.81,859.2 960.8,857.9C961.8,856.6 963.62,855.07 965.24,853.86C966.86,852.65 968.98,851.42 970.51,850.64C972.03,849.86 973.47,849.35 974.41,849.19C975.35,849.04 975.67,849.41 976.16,849.72Z" fill="#000" fill-opacity="0.032" stroke="#5a5a5a" stroke-width="0.55"/>
<path d="M975.7,851.48C976.12,851.75 975.96,851.67 976.16,852.53C976.35,853.4 976.81,855.02 976.85,856.64C976.9,858.25 976.49,860.5 976.4,862.23C976.31,863.96 976.61,865.34 976.32,867.02C976.03,868.69 975.64,871.05 974.66,872.3C973.68,873.54 971.79,874.22 970.45,874.5C969.12,874.77 968.01,874.19 966.64,873.95C965.28,873.72 963.4,874.07 962.28,873.08C961.17,872.09 960.3,869.8 959.94,868.01C959.59,866.22 959.99,863.97 960.16,862.33C960.34,860.7 960.21,859.54 960.99,858.19C961.76,856.85 963.26,855.42 964.81,854.27C966.36,853.12 968.81,851.84 970.29,851.28C971.77,850.73 972.77,850.88 973.68,850.92C974.58,850.95 975.29,851.21 975.7,851.48Z" fill="#000" fill-opacity="0.032" stroke="#5a5a5a" stroke-width="0.55"/>
<path d="M974.64,852.55C975.09,852.85 975.29,852.55 975.47,853.37C975.64,854.2 975.6,855.98 975.69,857.5C975.78,859.02 975.99,861.03 976.01,862.49C976.03,863.96 976.11,864.81 975.8,866.3C975.48,867.78 974.99,870.17 974.13,871.41C973.26,872.65 971.85,873.38 970.62,873.73C969.39,874.08 968.05,873.76 966.73,873.49C965.42,873.23 963.79,873.09 962.71,872.14C961.64,871.19 960.72,869.47 960.27,867.79C959.82,866.12 959.84,863.53 960.02,862.08C960.2,860.64 960.56,860.12 961.34,859.11C962.12,858.1 963.31,857.07 964.72,856.04C966.13,855 968.44,853.66 969.78,852.91C971.12,852.17 971.94,851.62 972.75,851.56C973.56,851.5 974.19,852.24 974.64,852.55Z" fill="#000" fill-opacity="0.032" stroke="#444" stroke-width="0.55"/>
<path d="M973.04,853.14C973.38,853.29 973.42,853.44 973.73,854.26C974.03,855.09 974.73,856.78 974.87,858.11C975,859.44 974.7,860.87 974.54,862.23C974.39,863.6 974.27,864.75 973.96,866.28C973.65,867.8 973.43,870.31 972.7,871.36C971.98,872.42 970.71,872.43 969.62,872.61C968.54,872.79 967.32,872.76 966.18,872.46C965.05,872.17 963.71,871.62 962.82,870.84C961.92,870.05 961.18,869.15 960.83,867.74C960.48,866.34 960.45,863.81 960.72,862.41C960.98,861.01 961.61,860.29 962.43,859.37C963.25,858.45 964.57,857.8 965.64,856.88C966.71,855.96 967.86,854.43 968.87,853.84C969.88,853.25 970.99,853.45 971.68,853.33C972.38,853.21 972.7,852.98 973.04,853.14Z" fill="#000" fill-opacity="0.032" stroke="#444" stroke-width="0.55"/>
<path d="M972.71,854.97C973.12,855.16 973.11,855.48 973.21,856.25C973.31,857.02 973.24,858.57 973.32,859.59C973.39,860.6 973.63,861.21 973.67,862.36C973.72,863.52 973.8,865.24 973.58,866.5C973.36,867.77 973.16,869.17 972.38,869.95C971.6,870.73 969.99,870.88 968.91,871.18C967.82,871.48 966.86,871.98 965.87,871.74C964.88,871.51 963.72,870.64 963,869.78C962.27,868.92 961.73,867.73 961.51,866.59C961.29,865.46 961.44,864.16 961.68,862.98C961.92,861.8 962.37,860.48 962.94,859.51C963.5,858.54 964.09,857.78 965.07,857.16C966.05,856.54 967.84,856.13 968.8,855.8C969.75,855.46 970.14,855.29 970.79,855.16C971.45,855.02 972.31,854.79 972.71,854.97Z" fill="#000" fill-opacity="0.032" stroke="#444" stroke-width="0.55"/>
<path d="M971.34,856.53C971.71,856.74 971.65,856.35 971.87,856.98C972.09,857.61 972.61,859.25 972.66,860.31C972.72,861.36 972.28,862.34 972.2,863.32C972.11,864.3 972.42,865.26 972.16,866.21C971.89,867.15 971.26,868.23 970.6,868.98C969.94,869.72 968.94,870.5 968.19,870.68C967.44,870.87 966.89,870.36 966.1,870.1C965.3,869.83 964.05,869.62 963.43,869.09C962.81,868.57 962.68,867.89 962.39,866.94C962.09,866 961.55,864.56 961.66,863.43C961.77,862.31 962.49,861.06 963.06,860.17C963.62,859.29 964.19,858.66 965.04,858.15C965.89,857.64 967.38,857.52 968.15,857.12C968.92,856.72 969.11,855.83 969.64,855.73C970.17,855.64 970.97,856.32 971.34,856.53Z" fill="#000" fill-opacity="0.032" stroke="#444" stroke-width="0.55"/>
<path d="M970.42,857.93C970.79,858.04 970.97,857.77 971.01,858.25C971.04,858.73 970.63,859.93 970.61,860.8C970.6,861.68 970.85,862.65 970.91,863.5C970.96,864.36 971.01,865.05 970.94,865.92C970.88,866.78 970.95,868.12 970.53,868.7C970.11,869.28 969.3,869.19 968.42,869.39C967.55,869.58 966.12,869.91 965.26,869.88C964.39,869.84 963.68,869.85 963.24,869.18C962.81,868.52 962.79,866.84 962.64,865.88C962.5,864.92 962.27,864.18 962.36,863.42C962.44,862.66 962.75,861.91 963.15,861.3C963.55,860.7 964.08,860.29 964.78,859.78C965.48,859.28 966.66,858.65 967.34,858.28C968.01,857.91 968.3,857.62 968.81,857.56C969.33,857.5 970.06,857.81 970.42,857.93Z" fill="#000" fill-opacity="0.032" stroke="#444" stroke-width="0.55"/>
<path d="M969.25,858.79C969.35,858.88 969.03,859.13 969.18,859.5C969.34,859.87 970.1,860.44 970.19,861.01C970.29,861.59 969.75,862.14 969.76,862.96C969.77,863.78 970.32,865.13 970.24,865.93C970.16,866.73 969.81,867.39 969.27,867.78C968.74,868.17 967.59,868.09 967.02,868.26C966.45,868.44 966.26,868.85 965.84,868.84C965.42,868.84 964.94,868.78 964.48,868.26C964.02,867.74 963.33,866.56 963.11,865.73C962.88,864.9 963.03,863.88 963.12,863.29C963.22,862.7 963.34,862.59 963.68,862.19C964.01,861.79 964.53,861.46 965.12,860.88C965.72,860.31 966.64,859.06 967.23,858.73C967.81,858.4 968.29,858.89 968.63,858.9C968.96,858.91 969.16,858.69 969.25,858.79Z" fill="#000" fill-opacity="0.032" stroke="#444" stroke-width="0.55"/>
<path d="M968.41,859.7C968.61,859.86 968.9,860.29 968.96,860.64C969.01,860.99 968.88,861.37 968.76,861.8C968.64,862.23 968.29,862.67 968.23,863.21C968.16,863.75 968.42,864.48 968.35,865.04C968.28,865.6 968,866.11 967.8,866.59C967.59,867.06 967.44,867.76 967.12,867.88C966.8,868 966.33,867.44 965.9,867.32C965.46,867.21 964.94,867.42 964.49,867.2C964.05,866.98 963.4,866.64 963.23,866.01C963.05,865.37 963.36,863.9 963.43,863.38C963.5,862.85 963.43,863.22 963.67,862.86C963.92,862.51 964.39,861.67 964.88,861.24C965.37,860.82 966.12,860.55 966.6,860.29C967.08,860.02 967.45,859.77 967.76,859.67C968.06,859.58 968.21,859.54 968.41,859.7Z" fill="#000" fill-opacity="0.032" stroke="#444" stroke-width="0.55"/>
<path d="M967.24,861.59C967.36,861.73 967.6,861.69 967.62,861.93C967.65,862.16 967.3,862.66 967.37,862.99C967.45,863.32 968,863.53 968.05,863.92C968.11,864.31 967.88,865 967.69,865.35C967.51,865.7 967.1,865.83 966.96,866.02C966.81,866.22 967.09,866.42 966.81,866.51C966.54,866.59 965.62,866.55 965.32,866.53C965.02,866.5 965.16,866.62 965.02,866.35C964.88,866.09 964.69,865.33 964.49,864.95C964.3,864.57 963.89,864.38 963.83,864.09C963.78,863.8 963.94,863.59 964.16,863.23C964.38,862.86 964.9,862.17 965.16,861.9C965.42,861.63 965.44,861.74 965.72,861.61C966.01,861.48 966.61,861.11 966.86,861.11C967.12,861.11 967.11,861.46 967.24,861.59Z" fill="#fff" stroke="#444" stroke-width="0.55"/>
<path fill="#222" d="M987.1 873.1h.9v.9h-.9zM990.1 846.8h.9v.9h-.9zM992.5 834.2h.9v.9h-.9zM993.1 853.3h.9v.9h-.9zM975.7 836.8h.9v.9h-.9zM964.1 891.5h.9v.9h-.9zM979.5 835.9h.9v.9h-.9zM969.5 841.8h.9v.9h-.9zM980.4 881.7h.9v.9h-.9zM959.8 881.0h.9v.9h-.9zM987.8 883.8h.9v.9h-.9zM988.9 839.0h.9v.9h-.9zM988.7 844.9h.9v.9h-.9zM985.4 878.2h.9v.9h-.9zM984.8 879.4h.9v.9h-.9zM965.2 889.9h.9v.9h-.9zM994.3 862.8h.9v.9h-.9zM986.2 879.3h.9v.9h-.9zM984.1 839.0h.9v.9h-.9zM954.7 871.1h.9v.9h-.9zM979.0 837.7h.9v.9h-.9zM990.2 844.3h.9v.9h-.9zM974.4 886.8h.9v.9h-.9zM965.8 844.9h.9v.9h-.9zM995.9 852.5h.9v.9h-.9zM958.1 879.4h.9v.9h-.9zM989.1 839.9h.9v.9h-.9zM995.7 839.6h.9v.9h-.9zM972.1 882.9h.9v.9h-.9zM981.3 837.5h.9v.9h-.9zM988.3 860.6h.9v.9h-.9zM978.6 838.1h.9v.9h-.9zM983.4 839.7h.9v.9h-.9zM989.0 849.6h.9v.9h-.9zM993.8 847.5h.9v.9h-.9zM951.1 856.6h.9v.9h-.9zM973.6 833.2h.9v.9h-.9zM992.6 853.5h.9v.9h-.9zM986.8 839.2h.9v.9h-.9zM990.0 865.8h.9v.9h-.9zM986.9 889.4h.9v.9h-.9zM980.0 838.0h.9v.9h-.9zM986.7 881.6h.9v.9h-.9zM983.4 887.8h.9v.9h-.9zM981.0 839.4h.9v.9h-.9zM971.0 841.2h.9v.9h-.9zM990.2 870.9h.9v.9h-.9zM961.9 846.1h.9v.9h-.9zM989.1 861.2h.9v.9h-.9zM989.4 826.0h.9v.9h-.9zM986.3 840.7h.9v.9h-.9zM976.6 833.2h.9v.9h-.9zM989.9 854.1h.9v.9h-.9zM979.5 884.1h.9v.9h-.9zM990.2 856.2h.9v.9h-.9zM960.3 880.6h.9v.9h-.9zM971.2 840.8h.9v.9h-.9zM968.8 884.7h.9v.9h-.9zM993.9 826.8h.9v.9h-.9zM972.4 841.8h.9v.9h-.9zM962.1 835.9h.9v.9h-.9zM978.5 826.2h.9v.9h-.9zM971.4 885.4h.9v.9h-.9zM989.0 836.5h.9v.9h-.9zM992.6 846.7h.9v.9h-.9zM983.0 838.2h.9v.9h-.9zM973.2 839.9h.9v.9h-.9zM979.6 837.6h.9v.9h-.9zM965.2 883.0h.9v.9h-.9zM988.3 867.4h.9v.9h-.9zM965.2 843.4h.9v.9h-.9zM989.9 835.9h.9v.9h-.9zM960.1 847.2h.9v.9h-.9zM983.0 883.7h.9v.9h-.9zM989.1 848.4h.9v.9h-.9zM988.1 858.1h.9v.9h-.9zM977.9 840.2h.9v.9h-.9zM967.5 828.5h.9v.9h-.9zM989.2 834.2h.9v.9h-.9zM986.0 839.7h.9v.9h-.9zM976.4 835.0h.9v.9h-.9zM954.6 842.1h.9v.9h-.9zM971.6 841.7h.9v.9h-.9zM992.4 832.5h.9v.9h-.9zM962.6 837.0h.9v.9h-.9zM974.5 884.2h.9v.9h-.9zM972.2 839.9h.9v.9h-.9zM959.9 884.8h.9v.9h-.9zM989.8 836.3h.9v.9h-.9zM957.4 882.6h.9v.9h-.9zM953.8 851.9h.9v.9h-.9zM953.6 880.0h.9v.9h-.9zM989.2 850.2h.9v.9h-.9zM977.8 888.4h.9v.9h-.9zM981.8 835.0h.9v.9h-.9zM988.7 889.9h.9v.9h-.9zM991.2 844.8h.9v.9h-.9zM992.3 834.7h.9v.9h-.9zM986.3 832.8h.9v.9h-.9zM962.3 846.0h.9v.9h-.9zM989.9 864.6h.9v.9h-.9zM983.4 880.1h.9v.9h-.9zM964.4 843.9h.9v.9h-.9zM957.4 850.1h.9v.9h-.9zM961.9 836.9h.9v.9h-.9zM980.0 884.1h.9v.9h-.9zM988.5 840.0h.9v.9h-.9zM974.5 839.8h.9v.9h-.9zM985.2 838.6h.9v.9h-.9zM988.0 842.4h.9v.9h-.9zM984.5 838.4h.9v.9h-.9zM997.0 841.4h.9v.9h-.9zM959.9 848.6h.9v.9h-.9zM955.3 883.0h.9v.9h-.9zM971.3 841.9h.9v.9h-.9zM993.6 838.4h.9v.9h-.9zM989.3 837.1h.9v.9h-.9zM990.2 847.9h.9v.9h-.9zM981.4 880.7h.9v.9h-.9zM992.8 864.4h.9v.9h-.9zM998.5 827.3h.9v.9h-.9zM977.3 835.7h.9v.9h-.9zM959.6 884.4h.9v.9h-.9zM987.5 837.6h.9v.9h-.9zM983.7 832.7h.9v.9h-.9zM988.7 854.5h.9v.9h-.9zM987.8 860.7h.9v.9h-.9zM960.0 881.0h.9v.9h-.9zM970.6 840.0h.9v.9h-.9zM983.3 886.6h.9v.9h-.9zM979.9 836.6h.9v.9h-.9zM986.5 884.7h.9v.9h-.9zM979.3 836.8h.9v.9h-.9zM987.4 840.9h.9v.9h-.9zM992.1 834.7h.9v.9h-.9zM986.4 831.0h.9v.9h-.9zM986.9 882.8h.9v.9h-.9zM989.1 834.6h.9v.9h-.9zM955.5 854.7h.9v.9h-.9zM993.7 835.4h.9v.9h-.9zM982.4 837.0h.9v.9h-.9zM986.8 825.9h.9v.9h-.9zM985.3 839.7h.9v.9h-.9zM984.4 884.4h.9v.9h-.9zM987.3 881.9h.9v.9h-.9zM980.1 835.3h.9v.9h-.9zM983.3 837.3h.9v.9h-.9zM956.2 879.3h.9v.9h-.9zM974.5 829.8h.9v.9h-.9zM971.0 842.9h.9v.9h-.9zM979.8 882.2h.9v.9h-.9zM979.2 891.6h.9v.9h-.9zM964.5 887.5h.9v.9h-.9zM992.9 831.9h.9v.9h-.9zM984.0 835.9h.9v.9h-.9zM976.2 883.1h.9v.9h-.9zM990.8 844.6h.9v.9h-.9zM991.3 887.4h.9v.9h-.9zM952.5 873.5h.9v.9h-.9zM986.3 876.7h.9v.9h-.9zM973.6 886.1h.9v.9h-.9zM960.5 880.4h.9v.9h-.9zM974.8 833.3h.9v.9h-.9zM993.7 860.5h.9v.9h-.9zM963.5 843.1h.9v.9h-.9zM990.9 859.8h.9v.9h-.9zM965.9 888.2h.9v.9h-.9zM953.7 874.1h.9v.9h-.9zM952.4 870.4h.9v.9h-.9zM990.7 856.2h.9v.9h-.9zM962.4 844.7h.9v.9h-.9zM953.3 870.5h.9v.9h-.9zM978.0 836.7h.9v.9h-.9zM984.3 837.0h.9v.9h-.9zM977.8 833.3h.9v.9h-.9zM958.8 833.7h.9v.9h-.9zM992.2 883.1h.9v.9h-.9zM981.2 836.2h.9v.9h-.9zM978.3 887.4h.9v.9h-.9zM996.7 842.0h.9v.9h-.9zM989.6 847.4h.9v.9h-.9zM982.5 839.2h.9v.9h-.9zM971.8 885.5h.9v.9h-.9zM989.0 853.8h.9v.9h-.9zM983.5 836.4h.9v.9h-.9zM964.7 884.4h.9v.9h-.9zM969.9 885.9h.9v.9h-.9zM953.8 872.5h.9v.9h-.9zM993.3 859.2h.9v.9h-.9zM956.1 845.1h.9v.9h-.9zM969.9 843.8h.9v.9h-.9zM959.7 846.0h.9v.9h-.9zM986.2 875.7h.9v.9h-.9zM991.7 834.9h.9v.9h-.9zM962.4 883.7h.9v.9h-.9zM974.7 841.5h.9v.9h-.9zM964.5 845.2h.9v.9h-.9zM959.1 847.7h.9v.9h-.9zM990.7 869.3h.9v.9h-.9zM983.3 838.7h.9v.9h-.9zM973.7 887.2h.9v.9h-.9zM965.0 841.6h.9v.9h-.9zM983.6 839.4h.9v.9h-.9zM976.2 835.2h.9v.9h-.9zM962.9 881.2h.9v.9h-.9zM994.6 855.2h.9v.9h-.9zM970.8 842.3h.9v.9h-.9zM985.5 837.6h.9v.9h-.9zM992.6 880.6h.9v.9h-.9zM990.8 849.1h.9v.9h-.9zM982.8 838.4h.9v.9h-.9zM977.3 884.4h.9v.9h-.9zM989.8 841.3h.9v.9h-.9zM987.6 848.3h.9v.9h-.9zM960.3 848.3h.9v.9h-.9zM991.9 836.0h.9v.9h-.9zM989.4 859.3h.9v.9h-.9zM958.9 885.1h.9v.9h-.9zM979.2 837.2h.9v.9h-.9zM982.7 838.4h.9v.9h-.9zM1001.0 870.3h.9v.9h-.9zM986.6 877.7h.9v.9h-.9zM978.8 839.9h.9v.9h-.9zM955.0 866.9h.9v.9h-.9zM977.3 885.6h.9v.9h-.9zM970.5 885.1h.9v.9h-.9zM970.2 889.9h.9v.9h-.9zM976.0 890.2h.9v.9h-.9zM986.8 872.8h.9v.9h-.9zM987.7 868.4h.9v.9h-.9zM959.1 881.8h.9v.9h-.9zM964.5 841.9h.9v.9h-.9zM957.3 885.0h.9v.9h-.9zM969.2 882.6h.9v.9h-.9zM996.2 831.8h.9v.9h-.9zM956.4 839.2h.9v.9h-.9zM976.1 839.1h.9v.9h-.9zM967.7 844.5h.9v.9h-.9zM988.7 840.2h.9v.9h-.9zM997.6 844.2h.9v.9h-.9zM986.7 841.6h.9v.9h-.9zM996.1 847.2h.9v.9h-.9zM964.0 845.9h.9v.9h-.9zM981.7 837.7h.9v.9h-.9zM967.8 844.3h.9v.9h-.9zM963.1 837.6h.9v.9h-.9zM978.1 836.2h.9v.9h-.9zM987.8 839.9h.9v.9h-.9zM986.4 841.6h.9v.9h-.9zM981.4 826.8h.9v.9h-.9zM954.7 851.9h.9v.9h-.9zM978.0 831.7h.9v.9h-.9zM960.8 881.9h.9v.9h-.9zM980.7 838.9h.9v.9h-.9zM969.3 828.4h.9v.9h-.9zM971.4 828.9h.9v.9h-.9zM954.4 857.7h.9v.9h-.9zM981.5 840.0h.9v.9h-.9zM987.7 839.9h.9v.9h-.9zM974.2 825.9h.9v.9h-.9zM963.3 880.9h.9v.9h-.9zM989.0 841.8h.9v.9h-.9zM991.7 865.3h.9v.9h-.9zM985.9 839.3h.9v.9h-.9zM991.3 828.0h.9v.9h-.9zM977.7 885.8h.9v.9h-.9zM988.3 874.9h.9v.9h-.9zM993.8 832.8h.9v.9h-.9zM990.9 832.8h.9v.9h-.9zM948.9 875.5h.9v.9h-.9zM992.0 840.2h.9v.9h-.9zM971.3 831.1h.9v.9h-.9zM980.0 826.9h.9v.9h-.9zM956.1 873.0h.9v.9h-.9zM989.7 839.3h.9v.9h-.9zM978.6 839.9h.9v.9h-.9zM991.6 837.4h.9v.9h-.9zM986.6 829.2h.9v.9h-.9zM983.3 838.6h.9v.9h-.9zM995.4 832.4h.9v.9h-.9zM988.9 827.8h.9v.9h-.9zM990.8 867.7h.9v.9h-.9zM997.5 836.2h.9v.9h-.9zM992.4 868.2h.9v.9h-.9zM966.0 886.7h.9v.9h-.9zM978.0 885.4h.9v.9h-.9zM989.2 841.0h.9v.9h-.9zM984.0 831.1h.9v.9h-.9zM962.1 885.5h.9v.9h-.9zM960.5 836.9h.9v.9h-.9zM989.2 848.0h.9v.9h-.9zM977.1 836.8h.9v.9h-.9zM951.6 872.7h.9v.9h-.9zM988.0 879.8h.9v.9h-.9zM980.9 838.5h.9v.9h-.9zM980.8 883.8h.9v.9h-.9zM986.1 841.2h.9v.9h-.9zM953.4 869.7h.9v.9h-.9zM990.1 870.7h.9v.9h-.9zM953.0 863.9h.9v.9h-.9zM987.2 848.1h.9v.9h-.9zM982.6 834.9h.9v.9h-.9zM987.4 871.6h.9v.9h-.9zM990.7 870.3h.9v.9h-.9zM962.3 835.5h.9v.9h-.9zM988.2 861.8h.9v.9h-.9zM988.6 839.8h.9v.9h-.9zM981.8 836.5h.9v.9h-.9zM966.5 843.0h.9v.9h-.9zM986.2 833.1h.9v.9h-.9zM985.3 879.0h.9v.9h-.9zM985.7 837.4h.9v.9h-.9zM951.2 847.3h.9v.9h-.9zM975.1 838.4h.9v.9h-.9zM986.4 837.5h.9v.9h-.9zM966.3 883.2h.9v.9h-.9zM985.4 833.4h.9v.9h-.9zM953.1 837.5h.9v.9h-.9zM991.5 863.4h.9v.9h-.9zM980.0 839.1h.9v.9h-.9zM985.1 832.9h.9v.9h-.9zM987.4 874.9h.9v.9h-.9zM975.8 884.3h.9v.9h-.9zM987.7 848.3h.9v.9h-.9zM975.3 834.4h.9v.9h-.9zM958.9 831.5h.9v.9h-.9zM964.7 883.4h.9v.9h-.9zM984.4 880.2h.9v.9h-.9zM981.3 883.6h.9v.9h-.9zM951.8 842.0h.9v.9h-.9zM978.6 884.2h.9v.9h-.9zM960.9 882.9h.9v.9h-.9zM995.9 840.7h.9v.9h-.9zM992.5 867.9h.9v.9h-.9zM964.4 843.6h.9v.9h-.9zM964.1 880.8h.9v.9h-.9zM969.4 890.1h.9v.9h-.9zM990.7 825.6h.9v.9h-.9zM966.7 883.2h.9v.9h-.9zM996.8 852.9h.9v.9h-.9zM985.2 835.8h.9v.9h-.9zM989.3 835.4h.9v.9h-.9zM994.5 880.4h.9v.9h-.9zM992.4 858.0h.9v.9h-.9zM971.2 884.9h.9v.9h-.9zM965.7 842.7h.9v.9h-.9zM985.2 833.8h.9v.9h-.9zM982.8 836.5h.9v.9h-.9zM991.0 862.2h.9v.9h-.9zM965.3 845.4h.9v.9h-.9zM962.2 843.0h.9v.9h-.9zM988.6 837.4h.9v.9h-.9zM990.4 879.8h.9v.9h-.9zM974.9 884.7h.9v.9h-.9zM963.5 881.9h.9v.9h-.9zM985.6 833.7h.9v.9h-.9zM998.9 837.2h.9v.9h-.9zM967.3 842.1h.9v.9h-.9zM982.1 895.9h.9v.9h-.9zM990.7 869.1h.9v.9h-.9zM973.5 841.8h.9v.9h-.9zM963.9 882.0h.9v.9h-.9zM980.0 881.6h.9v.9h-.9zM995.2 842.0h.9v.9h-.9zM965.0 884.2h.9v.9h-.9zM967.2 845.2h.9v.9h-.9zM986.5 838.1h.9v.9h-.9zM990.2 875.3h.9v.9h-.9zM981.9 837.5h.9v.9h-.9zM973.6 841.2h.9v.9h-.9zM964.1 881.7h.9v.9h-.9zM984.1 834.5h.9v.9h-.9zM988.6 847.1h.9v.9h-.9zM996.2 856.5h.9v.9h-.9zM966.0 883.0h.9v.9h-.9zM984.3 835.4h.9v.9h-.9zM986.7 841.0h.9v.9h-.9zM976.5 885.0h.9v.9h-.9zM975.8 839.5h.9v.9h-.9zM957.1 851.4h.9v.9h-.9z"/>
<path d="M1147.32,840.15C1148.42,840.58 1148.97,840.74 1149.45,842.57C1149.94,844.41 1150.22,848.26 1150.24,851.17C1150.25,854.07 1149.72,857.11 1149.56,860.01C1149.39,862.9 1149.8,865.5 1149.24,868.53C1148.67,871.56 1147.92,875.86 1146.17,878.19C1144.42,880.52 1141.45,881.97 1138.72,882.53C1136,883.08 1132.52,882.04 1129.82,881.52C1127.12,881.01 1124.4,881.25 1122.53,879.45C1120.65,877.64 1119.24,874.01 1118.58,870.7C1117.92,867.38 1118.16,862.53 1118.58,859.55C1118.99,856.56 1119.55,854.94 1121.06,852.79C1122.57,850.63 1125.07,848.4 1127.64,846.62C1130.22,844.84 1133.97,843.22 1136.51,842.12C1139.05,841.01 1141.08,840.31 1142.88,839.98C1144.68,839.65 1146.23,839.72 1147.32,840.15Z" fill="none" stroke="#7a7a7a" stroke-width="0.8"/>
<path d="M1146.46,841.69C1147.38,842.09 1147.73,842.07 1148.06,843.74C1148.38,845.41 1148.28,848.99 1148.42,851.73C1148.55,854.47 1148.88,857.38 1148.85,860.17C1148.81,862.96 1148.77,865.55 1148.2,868.46C1147.63,871.37 1147.06,875.47 1145.43,877.63C1143.81,879.79 1141.05,880.88 1138.45,881.43C1135.85,881.98 1132.44,881.4 1129.83,880.93C1127.22,880.45 1124.54,880.36 1122.79,878.58C1121.04,876.8 1119.93,873.36 1119.33,870.24C1118.73,867.12 1118.91,862.59 1119.21,859.86C1119.5,857.14 1119.67,855.87 1121.08,853.89C1122.5,851.9 1125.23,849.73 1127.67,847.95C1130.11,846.17 1133.24,844.31 1135.72,843.21C1138.2,842.11 1140.76,841.57 1142.55,841.32C1144.34,841.06 1145.54,841.28 1146.46,841.69Z" fill="none" stroke="#7a7a7a" stroke-width="0.55"/>
<path d="M1145.53,842.94C1146.53,843.42 1146.59,843.82 1146.93,845.45C1147.28,847.07 1147.48,850.12 1147.61,852.7C1147.73,855.28 1147.78,858.33 1147.69,860.94C1147.6,863.54 1147.69,865.6 1147.06,868.32C1146.43,871.04 1145.49,875.19 1143.93,877.26C1142.36,879.33 1139.94,880.35 1137.66,880.76C1135.39,881.16 1132.73,880.22 1130.29,879.69C1127.85,879.16 1124.85,879.19 1123,877.58C1121.16,875.98 1119.88,872.98 1119.22,870.07C1118.55,867.16 1118.68,862.7 1119.01,860.11C1119.34,857.52 1119.74,856.43 1121.18,854.53C1122.63,852.62 1125.27,850.31 1127.66,848.66C1130.06,847.02 1133.35,845.68 1135.56,844.66C1137.78,843.63 1139.3,842.83 1140.96,842.54C1142.62,842.25 1144.54,842.46 1145.53,842.94Z" fill="#000" fill-opacity="0.032" stroke="#5a5a5a" stroke-width="0.55"/>
<path d="M1144.05,844.82C1144.88,845.27 1145.47,845.47 1145.8,846.89C1146.12,848.32 1145.97,851.01 1145.99,853.38C1146.01,855.75 1145.86,858.76 1145.91,861.12C1145.95,863.49 1146.76,865.1 1146.26,867.58C1145.77,870.06 1144.55,874.07 1142.94,876.02C1141.34,877.97 1138.79,878.83 1136.62,879.28C1134.45,879.73 1132.21,879.18 1129.94,878.72C1127.66,878.27 1124.6,878.02 1122.97,876.54C1121.34,875.06 1120.57,872.43 1120.15,869.83C1119.72,867.23 1120.08,863.4 1120.4,860.93C1120.73,858.46 1120.79,856.92 1122.09,855C1123.4,853.09 1125.98,850.96 1128.23,849.43C1130.47,847.89 1133.46,846.67 1135.57,845.81C1137.67,844.94 1139.45,844.4 1140.86,844.24C1142.27,844.07 1143.23,844.38 1144.05,844.82Z" fill="#000" fill-opacity="0.032" stroke="#5a5a5a" stroke-width="0.55"/>
<path d="M1142.76,845.65C1143.49,846.12 1143.55,846.49 1143.83,847.84C1144.12,849.19 1144.37,851.62 1144.48,853.76C1144.58,855.89 1144.49,858.4 1144.47,860.65C1144.45,862.9 1144.84,864.84 1144.38,867.26C1143.91,869.68 1143.1,873.34 1141.68,875.17C1140.26,876.99 1137.93,877.65 1135.86,878.19C1133.79,878.73 1131.25,878.84 1129.26,878.39C1127.27,877.94 1125.37,877 1123.93,875.48C1122.48,873.96 1121.19,871.75 1120.6,869.27C1120.02,866.79 1120.03,862.82 1120.41,860.61C1120.79,858.4 1121.6,857.64 1122.87,856.01C1124.14,854.38 1126.13,852.42 1128.03,850.81C1129.93,849.21 1132.35,847.33 1134.25,846.37C1136.15,845.41 1138.03,845.17 1139.44,845.05C1140.86,844.93 1142.03,845.19 1142.76,845.65Z" fill="#000" fill-opacity="0.032" stroke="#5a5a5a" stroke-width="0.55"/>
<path d="M1142.07,846.73C1142.72,847.26 1142.26,848.03 1142.52,849.33C1142.79,850.64 1143.49,852.65 1143.66,854.56C1143.83,856.46 1143.59,858.52 1143.53,860.76C1143.48,862.99 1143.65,865.59 1143.31,867.96C1142.96,870.32 1142.79,873.39 1141.47,874.94C1140.15,876.48 1137.43,876.83 1135.4,877.23C1133.37,877.63 1131.15,877.66 1129.28,877.34C1127.41,877.02 1125.52,876.74 1124.18,875.31C1122.84,873.89 1121.7,871.07 1121.24,868.8C1120.79,866.53 1121.1,863.77 1121.45,861.72C1121.79,859.66 1122.15,858.07 1123.31,856.45C1124.47,854.84 1126.63,853.43 1128.39,852.03C1130.16,850.62 1132.2,849 1133.9,848.03C1135.59,847.05 1137.22,846.37 1138.58,846.16C1139.94,845.94 1141.41,846.2 1142.07,846.73Z" fill="#000" fill-opacity="0.032" stroke="#5a5a5a" stroke-width="0.55"/>
<path d="M1140.15,848.16C1140.8,848.49 1141.1,849.01 1141.54,850.25C1141.99,851.49 1142.63,853.63 1142.82,855.58C1143.01,857.53 1142.72,860.04 1142.67,861.97C1142.62,863.89 1142.98,865.16 1142.5,867.12C1142.01,869.07 1141.06,872.2 1139.77,873.7C1138.47,875.19 1136.42,875.62 1134.73,876.09C1133.03,876.57 1131.27,876.83 1129.62,876.52C1127.97,876.21 1126.07,875.47 1124.82,874.22C1123.57,872.97 1122.71,871.13 1122.12,869.03C1121.54,866.93 1121.02,863.63 1121.3,861.64C1121.58,859.64 1122.62,858.54 1123.79,857.06C1124.97,855.57 1126.74,853.97 1128.33,852.72C1129.92,851.47 1131.8,850.28 1133.36,849.54C1134.92,848.8 1136.56,848.51 1137.69,848.28C1138.82,848.04 1139.51,847.83 1140.15,848.16Z" fill="#000" fill-opacity="0.032" stroke="#5a5a5a" stroke-width="0.55"/>
<path d="M1140,849.59C1140.62,849.97 1140.26,850.61 1140.48,851.68C1140.7,852.75 1141.31,854.41 1141.33,856.02C1141.36,857.64 1140.64,859.49 1140.62,861.37C1140.6,863.26 1141.55,865.31 1141.22,867.34C1140.89,869.36 1139.7,872.15 1138.64,873.53C1137.59,874.9 1136.47,875.3 1134.9,875.58C1133.33,875.86 1130.97,875.66 1129.23,875.22C1127.48,874.79 1125.47,874.08 1124.43,872.96C1123.39,871.85 1123.34,870.34 1122.99,868.54C1122.63,866.74 1122.18,863.95 1122.31,862.16C1122.43,860.36 1122.72,859.23 1123.74,857.78C1124.76,856.32 1126.88,854.66 1128.41,853.41C1129.95,852.16 1131.55,850.95 1132.94,850.29C1134.33,849.62 1135.57,849.52 1136.74,849.41C1137.92,849.29 1139.37,849.21 1140,849.59Z" fill="#000" fill-opacity="0.032" stroke="#5a5a5a" stroke-width="0.55"/>
<path d="M1138.2,850.92C1138.72,851.32 1138.77,851.8 1139.02,852.82C1139.28,853.84 1139.59,855.44 1139.72,857.04C1139.86,858.63 1139.88,860.68 1139.85,862.37C1139.81,864.07 1139.84,865.54 1139.53,867.22C1139.21,868.9 1138.91,871.34 1137.96,872.46C1137.01,873.59 1135.31,873.73 1133.84,873.97C1132.38,874.21 1130.74,874.08 1129.2,873.91C1127.66,873.74 1125.7,873.94 1124.62,872.95C1123.54,871.97 1122.98,869.84 1122.72,868.02C1122.46,866.2 1122.84,863.69 1123.06,862.03C1123.28,860.37 1123.2,859.23 1124.04,858.05C1124.89,856.87 1126.77,855.99 1128.15,854.94C1129.52,853.9 1131.02,852.54 1132.31,851.79C1133.61,851.04 1134.92,850.59 1135.9,850.44C1136.89,850.3 1137.68,850.53 1138.2,850.92Z" fill="#000" fill-opacity="0.032" stroke="#5a5a5a" stroke-width="0.55"/>
<path d="M1137.64,852.32C1138.08,852.56 1138.04,852.94 1138.28,853.85C1138.52,854.75 1139,856.35 1139.06,857.74C1139.12,859.14 1138.77,860.72 1138.66,862.22C1138.56,863.73 1138.72,865.2 1138.42,866.77C1138.13,868.35 1137.76,870.5 1136.89,871.69C1136.02,872.88 1134.46,873.6 1133.21,873.93C1131.95,874.25 1130.56,874.04 1129.34,873.66C1128.12,873.27 1126.82,872.54 1125.87,871.62C1124.92,870.7 1123.99,869.77 1123.64,868.14C1123.28,866.51 1123.63,863.44 1123.73,861.85C1123.83,860.26 1123.59,859.69 1124.24,858.6C1124.9,857.52 1126.41,856.27 1127.67,855.36C1128.93,854.45 1130.48,853.64 1131.8,853.15C1133.12,852.65 1134.63,852.55 1135.6,852.41C1136.58,852.27 1137.19,852.08 1137.64,852.32Z" fill="#000" fill-opacity="0.032" stroke="#444" stroke-width="0.55"/>
<path d="M1135.96,853.85C1136.36,853.94 1136.91,853.55 1137.22,854.4C1137.53,855.26 1137.85,857.57 1137.82,858.99C1137.8,860.41 1137.19,861.69 1137.07,862.91C1136.96,864.14 1137.24,864.96 1137.13,866.34C1137.02,867.73 1137.22,870.2 1136.41,871.22C1135.61,872.24 1133.53,872.29 1132.3,872.45C1131.07,872.61 1130.18,872.44 1129.03,872.17C1127.89,871.91 1126.22,871.77 1125.43,870.89C1124.64,870 1124.56,868.29 1124.32,866.87C1124.07,865.46 1123.94,863.69 1123.98,862.4C1124.02,861.11 1123.83,860.09 1124.54,859.12C1125.24,858.15 1127.09,857.32 1128.22,856.59C1129.35,855.85 1130.23,855.16 1131.32,854.7C1132.41,854.24 1134.01,853.97 1134.78,853.83C1135.55,853.69 1135.55,853.75 1135.96,853.85Z" fill="#000" fill-opacity="0.032" stroke="#444" stroke-width="0.55"/>
<path d="M1134.86,854.71C1135.15,854.89 1135.26,855.52 1135.45,856.22C1135.65,856.91 1135.91,857.72 1136.02,858.87C1136.12,860.02 1136.03,861.95 1136.09,863.12C1136.15,864.29 1136.63,864.66 1136.38,865.89C1136.13,867.13 1135.28,869.56 1134.57,870.53C1133.86,871.51 1133.14,871.68 1132.13,871.75C1131.11,871.82 1129.47,871.21 1128.49,870.95C1127.5,870.69 1126.94,870.78 1126.22,870.2C1125.5,869.62 1124.45,868.65 1124.17,867.45C1123.9,866.25 1124.45,864.2 1124.59,863.01C1124.73,861.81 1124.48,861.13 1124.99,860.28C1125.5,859.42 1126.62,858.72 1127.66,857.89C1128.7,857.06 1130.23,855.76 1131.24,855.3C1132.25,854.84 1133.12,855.23 1133.73,855.13C1134.33,855.03 1134.57,854.53 1134.86,854.71Z" fill="#000" fill-opacity="0.032" stroke="#444" stroke-width="0.55"/>
<path d="M1133.99,855.88C1134.33,856.02 1134.7,856.23 1134.81,856.85C1134.93,857.48 1134.72,858.66 1134.68,859.63C1134.63,860.59 1134.55,861.64 1134.55,862.66C1134.56,863.67 1134.78,864.63 1134.72,865.71C1134.66,866.79 1134.73,868.38 1134.19,869.13C1133.65,869.89 1132.41,870.12 1131.48,870.26C1130.55,870.4 1129.53,870.17 1128.63,869.96C1127.72,869.75 1126.62,869.54 1126.08,869C1125.53,868.46 1125.57,867.73 1125.33,866.72C1125.1,865.7 1124.51,864.02 1124.66,862.93C1124.81,861.84 1125.6,860.91 1126.23,860.16C1126.85,859.4 1127.64,858.94 1128.41,858.42C1129.17,857.9 1130.09,857.43 1130.82,857.04C1131.54,856.64 1132.23,856.25 1132.76,856.06C1133.29,855.86 1133.64,855.75 1133.99,855.88Z" fill="#000" fill-opacity="0.032" stroke="#444" stroke-width="0.55"/>
<path d="M1133.38,858.05C1133.67,858.18 1133.39,858.16 1133.51,858.62C1133.63,859.08 1134.07,860.09 1134.11,860.82C1134.15,861.56 1133.89,862.3 1133.76,863.05C1133.63,863.8 1133.53,864.35 1133.33,865.31C1133.12,866.27 1132.97,868.15 1132.53,868.81C1132.09,869.47 1131.38,869.1 1130.67,869.28C1129.95,869.45 1128.86,869.91 1128.24,869.84C1127.63,869.77 1127.46,869.49 1126.98,868.86C1126.5,868.23 1125.65,867.01 1125.37,866.06C1125.09,865.11 1125.2,863.98 1125.28,863.16C1125.35,862.34 1125.39,861.67 1125.82,861.12C1126.25,860.58 1127.01,860.43 1127.84,859.91C1128.68,859.39 1130.17,858.33 1130.83,857.99C1131.5,857.65 1131.39,857.85 1131.81,857.86C1132.24,857.87 1133.1,857.92 1133.38,858.05Z" fill="#000" fill-opacity="0.032" stroke="#444" stroke-width="0.55"/>
<path d="M1132,858.74C1132.2,858.78 1131.94,858.9 1132.07,859.35C1132.19,859.79 1132.67,860.73 1132.73,861.41C1132.79,862.1 1132.51,862.82 1132.41,863.45C1132.32,864.09 1132.29,864.52 1132.15,865.22C1132.02,865.93 1131.96,867.21 1131.59,867.7C1131.21,868.19 1130.43,868.07 1129.89,868.17C1129.35,868.26 1128.83,868.32 1128.34,868.28C1127.85,868.24 1127.31,868.28 1126.98,867.92C1126.64,867.57 1126.45,866.82 1126.32,866.13C1126.19,865.45 1126.18,864.58 1126.2,863.83C1126.22,863.08 1126.03,862.26 1126.42,861.63C1126.81,861 1127.94,860.44 1128.56,860.05C1129.17,859.67 1129.75,859.49 1130.13,859.33C1130.51,859.17 1130.51,859.17 1130.82,859.08C1131.13,858.98 1131.79,858.69 1132,858.74Z" fill="#000" fill-opacity="0.032" stroke="#444" stroke-width="0.55"/>
<path d="M1131.58,860.32C1131.78,860.46 1131.76,860.65 1131.71,860.95C1131.66,861.26 1131.28,861.64 1131.26,862.16C1131.24,862.67 1131.5,863.46 1131.59,864.03C1131.69,864.6 1131.92,865 1131.85,865.56C1131.77,866.13 1131.44,867.04 1131.13,867.42C1130.82,867.81 1130.47,867.92 1129.98,867.87C1129.48,867.82 1128.67,867.29 1128.14,867.13C1127.61,866.98 1127.13,867.16 1126.8,866.96C1126.46,866.77 1126.19,866.49 1126.14,865.97C1126.1,865.44 1126.39,864.38 1126.53,863.82C1126.68,863.26 1126.76,863.11 1127.02,862.62C1127.27,862.12 1127.59,861.19 1128.05,860.86C1128.51,860.54 1129.35,860.8 1129.75,860.68C1130.16,860.55 1130.2,860.18 1130.5,860.12C1130.81,860.06 1131.38,860.18 1131.58,860.32Z" fill="#000" fill-opacity="0.032" stroke="#444" stroke-width="0.55"/>
<path d="M1130.36,861.07C1130.49,861.13 1130.69,861.31 1130.64,861.57C1130.59,861.83 1130.07,862.27 1130.08,862.62C1130.09,862.96 1130.61,863.17 1130.71,863.64C1130.81,864.12 1130.79,865.07 1130.69,865.49C1130.59,865.9 1130.34,865.91 1130.1,866.14C1129.86,866.37 1129.48,866.79 1129.22,866.89C1128.97,867 1128.83,866.94 1128.56,866.77C1128.28,866.61 1127.89,866.17 1127.57,865.89C1127.25,865.6 1126.71,865.4 1126.64,865.04C1126.58,864.68 1127.09,864.15 1127.2,863.74C1127.31,863.33 1127.24,862.85 1127.31,862.58C1127.38,862.3 1127.3,862.21 1127.61,862.09C1127.92,861.97 1128.8,862.01 1129.18,861.86C1129.57,861.72 1129.71,861.35 1129.91,861.22C1130.1,861.09 1130.24,861.02 1130.36,861.07Z" fill="#fff" stroke="#444" stroke-width="0.55"/>
<path fill="#222" d="M1120.0 877.2h.9v.9h-.9zM1130.5 891.1h.9v.9h-.9zM1148.7 832.6h.9v.9h-.9zM1147.4 834.5h.9v.9h-.9zM1136.0 884.3h.9v.9h-.9zM1143.7 827.0h.9v.9h-.9zM1144.1 833.3h.9v.9h-.9zM1151.1 874.0h.9v.9h-.9zM1152.3 838.1h.9v.9h-.9zM1124.1 884.6h.9v.9h-.9zM1121.6 879.2h.9v.9h-.9zM1152.3 850.3h.9v.9h-.9zM1131.7 840.8h.9v.9h-.9zM1115.6 869.0h.9v.9h-.9zM1127.8 835.3h.9v.9h-.9zM1147.3 877.7h.9v.9h-.9zM1144.6 834.9h.9v.9h-.9zM1155.0 867.6h.9v.9h-.9zM1143.1 839.0h.9v.9h-.9zM1148.6 880.3h.9v.9h-.9zM1152.9 838.4h.9v.9h-.9zM1127.8 882.0h.9v.9h-.9zM1134.1 894.3h.9v.9h-.9zM1130.2 881.9h.9v.9h-.9zM1130.0 838.5h.9v.9h-.9zM1151.9 879.6h.9v.9h-.9zM1152.0 829.4h.9v.9h-.9zM1165.8 839.6h.9v.9h-.9zM1140.2 885.7h.9v.9h-.9zM1140.6 882.3h.9v.9h-.9zM1127.7 882.8h.9v.9h-.9zM1133.9 835.6h.9v.9h-.9zM1121.1 845.7h.9v.9h-.9zM1122.3 879.7h.9v.9h-.9zM1147.4 836.6h.9v.9h-.9zM1126.5 882.3h.9v.9h-.9zM1152.1 836.7h.9v.9h-.9zM1135.2 884.8h.9v.9h-.9zM1128.7 845.5h.9v.9h-.9zM1150.2 863.1h.9v.9h-.9zM1152.3 882.2h.9v.9h-.9zM1121.1 883.9h.9v.9h-.9zM1153.9 860.9h.9v.9h-.9zM1124.3 881.5h.9v.9h-.9zM1120.8 837.6h.9v.9h-.9zM1144.6 881.6h.9v.9h-.9zM1125.3 882.3h.9v.9h-.9zM1152.0 853.0h.9v.9h-.9zM1122.4 844.9h.9v.9h-.9zM1155.5 868.9h.9v.9h-.9zM1130.0 844.1h.9v.9h-.9zM1158.4 848.6h.9v.9h-.9zM1153.8 838.4h.9v.9h-.9zM1141.5 835.6h.9v.9h-.9zM1142.3 839.5h.9v.9h-.9zM1157.8 837.8h.9v.9h-.9zM1145.4 884.1h.9v.9h-.9zM1134.7 841.4h.9v.9h-.9zM1146.2 880.3h.9v.9h-.9zM1158.0 832.7h.9v.9h-.9zM1146.7 839.3h.9v.9h-.9zM1152.6 851.8h.9v.9h-.9zM1150.0 881.0h.9v.9h-.9zM1130.0 828.3h.9v.9h-.9zM1147.0 834.0h.9v.9h-.9zM1147.3 886.8h.9v.9h-.9zM1142.7 835.5h.9v.9h-.9zM1137.3 892.4h.9v.9h-.9zM1117.1 867.3h.9v.9h-.9zM1144.7 829.2h.9v.9h-.9zM1151.1 881.6h.9v.9h-.9zM1120.1 842.2h.9v.9h-.9zM1112.8 843.8h.9v.9h-.9zM1147.7 838.7h.9v.9h-.9zM1157.5 844.0h.9v.9h-.9zM1150.5 837.2h.9v.9h-.9zM1126.7 845.5h.9v.9h-.9zM1148.8 837.1h.9v.9h-.9zM1128.9 840.5h.9v.9h-.9zM1139.1 883.3h.9v.9h-.9zM1148.6 840.6h.9v.9h-.9zM1157.8 843.3h.9v.9h-.9zM1136.9 885.7h.9v.9h-.9zM1147.6 834.5h.9v.9h-.9zM1128.6 842.1h.9v.9h-.9zM1140.3 882.9h.9v.9h-.9zM1129.9 885.5h.9v.9h-.9zM1149.7 837.4h.9v.9h-.9zM1129.7 884.7h.9v.9h-.9zM1124.5 842.0h.9v.9h-.9zM1155.8 878.9h.9v.9h-.9zM1126.1 845.8h.9v.9h-.9zM1158.1 834.4h.9v.9h-.9zM1156.5 843.4h.9v.9h-.9zM1150.4 837.7h.9v.9h-.9zM1132.3 885.3h.9v.9h-.9zM1152.1 877.0h.9v.9h-.9zM1135.3 885.2h.9v.9h-.9zM1137.5 840.5h.9v.9h-.9zM1153.2 864.8h.9v.9h-.9zM1121.1 881.7h.9v.9h-.9zM1152.4 847.2h.9v.9h-.9zM1151.3 870.8h.9v.9h-.9zM1140.2 825.0h.9v.9h-.9zM1136.9 833.5h.9v.9h-.9zM1133.5 883.9h.9v.9h-.9zM1125.4 886.5h.9v.9h-.9zM1139.9 838.5h.9v.9h-.9zM1132.8 836.8h.9v.9h-.9zM1151.4 847.2h.9v.9h-.9zM1125.8 882.5h.9v.9h-.9zM1141.8 839.2h.9v.9h-.9zM1127.1 881.6h.9v.9h-.9zM1141.1 881.7h.9v.9h-.9zM1148.9 880.8h.9v.9h-.9zM1145.9 884.3h.9v.9h-.9zM1144.1 829.6h.9v.9h-.9zM1152.6 840.2h.9v.9h-.9zM1137.6 839.2h.9v.9h-.9zM1149.0 840.3h.9v.9h-.9zM1153.2 837.9h.9v.9h-.9zM1113.6 859.2h.9v.9h-.9zM1151.8 843.5h.9v.9h-.9zM1141.4 881.6h.9v.9h-.9zM1151.9 838.4h.9v.9h-.9zM1152.7 851.3h.9v.9h-.9zM1145.3 892.5h.9v.9h-.9zM1127.1 886.0h.9v.9h-.9zM1141.5 840.2h.9v.9h-.9zM1137.2 833.8h.9v.9h-.9zM1136.6 833.6h.9v.9h-.9zM1160.0 829.9h.9v.9h-.9zM1149.3 836.5h.9v.9h-.9zM1133.6 835.2h.9v.9h-.9zM1164.4 846.0h.9v.9h-.9zM1148.8 838.4h.9v.9h-.9zM1149.2 879.0h.9v.9h-.9zM1155.2 827.5h.9v.9h-.9zM1157.3 846.1h.9v.9h-.9zM1153.4 837.4h.9v.9h-.9zM1149.0 839.0h.9v.9h-.9zM1126.4 885.1h.9v.9h-.9zM1150.3 829.1h.9v.9h-.9zM1131.4 885.2h.9v.9h-.9zM1128.2 894.9h.9v.9h-.9zM1123.1 880.9h.9v.9h-.9zM1150.9 852.9h.9v.9h-.9zM1153.2 840.3h.9v.9h-.9zM1149.2 830.1h.9v.9h-.9zM1116.1 883.3h.9v.9h-.9zM1151.1 832.8h.9v.9h-.9zM1151.3 838.4h.9v.9h-.9zM1131.6 887.7h.9v.9h-.9zM1138.9 836.0h.9v.9h-.9zM1112.8 862.0h.9v.9h-.9zM1116.8 885.2h.9v.9h-.9zM1151.0 835.1h.9v.9h-.9zM1120.1 848.0h.9v.9h-.9zM1159.3 837.0h.9v.9h-.9zM1140.0 831.9h.9v.9h-.9zM1145.8 882.1h.9v.9h-.9zM1141.8 836.1h.9v.9h-.9zM1155.7 831.4h.9v.9h-.9zM1140.6 829.5h.9v.9h-.9zM1151.7 831.5h.9v.9h-.9zM1148.9 839.7h.9v.9h-.9zM1128.9 882.8h.9v.9h-.9zM1154.3 882.1h.9v.9h-.9zM1120.2 877.3h.9v.9h-.9zM1151.2 858.1h.9v.9h-.9zM1144.3 882.0h.9v.9h-.9zM1118.4 853.3h.9v.9h-.9zM1139.8 836.6h.9v.9h-.9zM1117.4 851.1h.9v.9h-.9zM1150.3 879.9h.9v.9h-.9zM1121.0 846.7h.9v.9h-.9zM1135.4 882.5h.9v.9h-.9zM1149.9 832.6h.9v.9h-.9zM1152.2 834.8h.9v.9h-.9zM1134.8 883.4h.9v.9h-.9zM1154.0 836.5h.9v.9h-.9zM1136.0 884.3h.9v.9h-.9zM1113.2 876.8h.9v.9h-.9zM1144.3 836.6h.9v.9h-.9zM1137.5 884.1h.9v.9h-.9zM1149.5 842.2h.9v.9h-.9zM1117.6 877.6h.9v.9h-.9zM1148.8 840.0h.9v.9h-.9zM1156.8 833.4h.9v.9h-.9zM1155.7 840.5h.9v.9h-.9zM1127.3 884.6h.9v.9h-.9zM1147.4 837.9h.9v.9h-.9zM1133.9 884.6h.9v.9h-.9zM1142.9 838.9h.9v.9h-.9zM1157.5 882.3h.9v.9h-.9zM1135.2 840.3h.9v.9h-.9zM1151.5 876.5h.9v.9h-.9zM1158.9 840.9h.9v.9h-.9zM1149.4 839.2h.9v.9h-.9zM1143.0 887.3h.9v.9h-.9zM1137.4 884.4h.9v.9h-.9zM1143.7 837.8h.9v.9h-.9zM1125.1 845.4h.9v.9h-.9zM1150.4 844.7h.9v.9h-.9zM1153.8 853.0h.9v.9h-.9zM1145.1 838.9h.9v.9h-.9zM1140.0 839.8h.9v.9h-.9zM1137.5 837.7h.9v.9h-.9zM1158.7 837.7h.9v.9h-.9zM1121.9 879.8h.9v.9h-.9zM1157.7 852.3h.9v.9h-.9zM1152.4 864.4h.9v.9h-.9zM1128.0 883.4h.9v.9h-.9zM1147.0 889.4h.9v.9h-.9zM1132.9 884.9h.9v.9h-.9zM1155.4 843.4h.9v.9h-.9zM1152.0 842.3h.9v.9h-.9zM1129.6 881.8h.9v.9h-.9zM1121.5 879.8h.9v.9h-.9zM1149.5 876.6h.9v.9h-.9zM1162.0 848.2h.9v.9h-.9zM1118.9 832.2h.9v.9h-.9zM1152.8 846.3h.9v.9h-.9zM1125.3 884.5h.9v.9h-.9zM1151.8 850.7h.9v.9h-.9zM1145.9 838.6h.9v.9h-.9zM1154.8 843.1h.9v.9h-.9zM1152.6 848.3h.9v.9h-.9zM1112.0 875.8h.9v.9h-.9zM1143.8 882.7h.9v.9h-.9zM1150.5 829.1h.9v.9h-.9zM1151.8 864.1h.9v.9h-.9zM1134.7 892.1h.9v.9h-.9zM1149.7 846.3h.9v.9h-.9zM1152.3 840.7h.9v.9h-.9zM1150.4 869.6h.9v.9h-.9zM1127.1 845.2h.9v.9h-.9zM1145.5 884.8h.9v.9h-.9zM1146.9 879.3h.9v.9h-.9zM1151.6 866.6h.9v.9h-.9zM1129.5 883.3h.9v.9h-.9zM1153.3 854.8h.9v.9h-.9zM1151.5 836.7h.9v.9h-.9zM1151.3 856.8h.9v.9h-.9zM1155.3 884.4h.9v.9h-.9zM1130.7 884.3h.9v.9h-.9zM1153.2 836.2h.9v.9h-.9zM1149.9 841.6h.9v.9h-.9zM1134.9 841.7h.9v.9h-.9zM1136.9 885.9h.9v.9h-.9zM1129.3 826.0h.9v.9h-.9zM1148.4 879.3h.9v.9h-.9zM1148.1 880.4h.9v.9h-.9zM1138.6 883.1h.9v.9h-.9zM1145.8 836.5h.9v.9h-.9zM1148.5 840.0h.9v.9h-.9zM1154.6 854.7h.9v.9h-.9zM1151.3 851.0h.9v.9h-.9zM1152.6 836.5h.9v.9h-.9zM1139.6 888.0h.9v.9h-.9zM1151.3 851.4h.9v.9h-.9zM1116.5 860.6h.9v.9h-.9zM1127.7 844.3h.9v.9h-.9zM1152.9 871.3h.9v.9h-.9zM1150.5 883.4h.9v.9h-.9zM1155.2 851.6h.9v.9h-.9zM1129.6 844.9h.9v.9h-.9zM1132.0 842.4h.9v.9h-.9zM1120.3 853.9h.9v.9h-.9zM1115.6 849.3h.9v.9h-.9zM1150.3 880.2h.9v.9h-.9zM1143.0 885.1h.9v.9h-.9zM1147.4 879.3h.9v.9h-.9zM1153.1 824.2h.9v.9h-.9zM1152.1 847.2h.9v.9h-.9zM1143.7 837.8h.9v.9h-.9zM1151.0 883.7h.9v.9h-.9zM1119.8 879.7h.9v.9h-.9zM1119.4 883.7h.9v.9h-.9zM1116.6 843.8h.9v.9h-.9zM1151.6 838.1h.9v.9h-.9zM1152.1 873.7h.9v.9h-.9zM1131.5 892.3h.9v.9h-.9zM1123.8 845.0h.9v.9h-.9zM1149.4 840.0h.9v.9h-.9zM1141.9 837.5h.9v.9h-.9zM1150.8 847.8h.9v.9h-.9zM1156.5 847.4h.9v.9h-.9zM1146.7 830.4h.9v.9h-.9zM1120.0 847.3h.9v.9h-.9zM1150.3 844.0h.9v.9h-.9zM1151.6 837.7h.9v.9h-.9zM1152.1 859.5h.9v.9h-.9zM1144.7 838.9h.9v.9h-.9zM1130.3 843.1h.9v.9h-.9zM1130.7 842.5h.9v.9h-.9zM1141.9 885.7h.9v.9h-.9zM1150.0 836.7h.9v.9h-.9zM1128.1 882.9h.9v.9h-.9zM1149.9 841.6h.9v.9h-.9zM1157.4 834.2h.9v.9h-.9zM1142.4 838.6h.9v.9h-.9zM1139.0 834.9h.9v.9h-.9zM1150.2 844.9h.9v.9h-.9zM1151.8 835.0h.9v.9h-.9zM1123.9 882.8h.9v.9h-.9zM1149.5 840.0h.9v.9h-.9zM1126.4 885.6h.9v.9h-.9zM1152.1 858.7h.9v.9h-.9zM1128.7 882.8h.9v.9h-.9zM1154.4 850.3h.9v.9h-.9zM1122.4 887.4h.9v.9h-.9zM1123.2 845.3h.9v.9h-.9zM1130.7 883.2h.9v.9h-.9zM1151.8 857.3h.9v.9h-.9zM1156.5 842.8h.9v.9h-.9zM1150.0 834.8h.9v.9h-.9zM1150.5 838.4h.9v.9h-.9zM1122.1 844.8h.9v.9h-.9zM1150.6 845.3h.9v.9h-.9zM1120.2 849.0h.9v.9h-.9zM1155.7 836.5h.9v.9h-.9zM1154.0 835.3h.9v.9h-.9zM1150.9 836.1h.9v.9h-.9zM1150.2 849.4h.9v.9h-.9zM1152.4 846.2h.9v.9h-.9zM1140.9 886.2h.9v.9h-.9zM1148.2 880.8h.9v.9h-.9zM1148.0 839.2h.9v.9h-.9zM1162.0 845.9h.9v.9h-.9zM1157.7 842.9h.9v.9h-.9zM1145.0 884.3h.9v.9h-.9zM1149.1 830.1h.9v.9h-.9zM1165.2 841.3h.9v.9h-.9zM1119.8 853.4h.9v.9h-.9zM1141.9 885.3h.9v.9h-.9zM1141.1 839.0h.9v.9h-.9zM1125.6 885.8h.9v.9h-.9zM1135.1 892.3h.9v.9h-.9zM1151.0 873.4h.9v.9h-.9zM1146.0 832.2h.9v.9h-.9zM1147.4 834.2h.9v.9h-.9zM1153.2 837.3h.9v.9h-.9zM1149.0 876.2h.9v.9h-.9zM1133.8 884.0h.9v.9h-.9zM1121.9 882.3h.9v.9h-.9zM1146.4 836.1h.9v.9h-.9zM1140.3 882.6h.9v.9h-.9zM1140.6 883.4h.9v.9h-.9zM1151.8 843.0h.9v.9h-.9zM1149.5 881.2h.9v.9h-.9zM1154.2 840.7h.9v.9h-.9zM1152.3 846.6h.9v.9h-.9zM1121.2 835.4h.9v.9h-.9zM1142.1 884.4h.9v.9h-.9zM1154.1 863.1h.9v.9h-.9zM1152.6 865.3h.9v.9h-.9zM1129.3 827.1h.9v.9h-.9zM1133.8 842.4h.9v.9h-.9zM1128.0 841.2h.9v.9h-.9zM1128.0 882.7h.9v.9h-.9zM1150.3 839.1h.9v.9h-.9zM1145.3 834.5h.9v.9h-.9zM1151.6 833.9h.9v.9h-.9zM1150.0 861.5h.9v.9h-.9zM1149.3 841.5h.9v.9h-.9zM1125.1 845.8h.9v.9h-.9zM1123.9 840.9h.9v.9h-.9zM1115.0 842.3h.9v.9h-.9zM1137.1 840.2h.9v.9h-.9zM1145.4 838.7h.9v.9h-.9zM1159.1 846.8h.9v.9h-.9zM1128.8 845.1h.9v.9h-.9zM1125.1 884.2h.9v.9h-.9zM1152.4 840.0h.9v.9h-.9zM1122.5 883.6h.9v.9h-.9zM1147.0 835.7h.9v.9h-.9zM1149.0 841.3h.9v.9h-.9zM1133.6 842.2h.9v.9h-.9zM1151.4 829.2h.9v.9h-.9z"/>
<path d="M1310.13,840.96C1311.11,841.48 1311.4,841.52 1311.83,843.2C1312.25,844.89 1312.42,848.3 1312.69,851.05C1312.95,853.8 1313.39,856.79 1313.4,859.71C1313.41,862.63 1313.4,865.41 1312.74,868.56C1312.08,871.71 1311.34,876.27 1309.45,878.59C1307.56,880.92 1304.19,882.04 1301.39,882.53C1298.6,883.02 1295.45,882.16 1292.69,881.53C1289.93,880.91 1286.72,880.49 1284.82,878.77C1282.92,877.04 1281.96,874.39 1281.31,871.2C1280.65,868.01 1280.54,862.57 1280.88,859.61C1281.22,856.66 1281.76,855.57 1283.36,853.49C1284.96,851.41 1287.78,849.04 1290.46,847.12C1293.15,845.2 1296.9,843.13 1299.48,841.96C1302.06,840.79 1304.16,840.26 1305.94,840.09C1307.71,839.92 1309.15,840.44 1310.13,840.96Z" fill="none" stroke="#7a7a7a" stroke-width="0.8"/>
<path d="M1309.22,841.96C1310.31,842.4 1310.95,842.65 1311.31,844.26C1311.68,845.86 1311.28,848.92 1311.4,851.59C1311.52,854.25 1312.08,857.36 1312.01,860.23C1311.94,863.11 1311.57,865.85 1310.98,868.82C1310.39,871.79 1310.05,876.02 1308.46,878.06C1306.87,880.09 1304.04,880.49 1301.44,881.02C1298.83,881.55 1295.53,881.66 1292.84,881.23C1290.15,880.81 1287.17,880.24 1285.3,878.47C1283.42,876.71 1282.18,873.61 1281.6,870.65C1281.02,867.68 1281.36,863.53 1281.83,860.7C1282.3,857.86 1282.95,855.81 1284.41,853.63C1285.87,851.45 1288.17,849.37 1290.62,847.61C1293.07,845.84 1296.76,844.04 1299.11,843.05C1301.47,842.06 1303.07,841.83 1304.76,841.65C1306.44,841.47 1308.13,841.53 1309.22,841.96Z" fill="none" stroke="#7a7a7a" stroke-width="0.55"/>
<path d="M1308.06,843.33C1308.9,843.78 1309.04,843.55 1309.36,845.1C1309.67,846.64 1309.83,850.03 1309.94,852.59C1310.05,855.14 1310.03,857.77 1310.02,860.42C1310.01,863.07 1310.26,865.77 1309.87,868.49C1309.47,871.21 1309.25,874.83 1307.66,876.73C1306.07,878.64 1302.75,879.32 1300.31,879.93C1297.88,880.54 1295.46,880.76 1293.03,880.38C1290.6,880.01 1287.49,879.47 1285.72,877.68C1283.95,875.89 1282.93,872.51 1282.39,869.62C1281.86,866.73 1282.21,862.91 1282.51,860.33C1282.81,857.76 1282.84,856.11 1284.2,854.19C1285.56,852.28 1288.28,850.49 1290.67,848.82C1293.05,847.16 1296.24,845.28 1298.52,844.2C1300.8,843.13 1302.78,842.53 1304.37,842.38C1305.96,842.23 1307.23,842.87 1308.06,843.33Z" fill="#000" fill-opacity="0.032" stroke="#5a5a5a" stroke-width="0.55"/>
<path d="M1306.5,844.02C1307.28,844.53 1307.57,844.92 1307.98,846.55C1308.4,848.17 1308.81,851.37 1308.97,853.77C1309.14,856.17 1308.92,858.66 1308.95,860.95C1308.99,863.23 1309.73,864.99 1309.18,867.49C1308.64,869.99 1307.27,873.95 1305.68,875.93C1304.1,877.91 1301.79,878.89 1299.67,879.37C1297.56,879.85 1295.13,879.35 1292.99,878.81C1290.85,878.27 1288.41,877.68 1286.83,876.12C1285.25,874.57 1284.11,872.12 1283.51,869.48C1282.91,866.83 1282.9,862.66 1283.22,860.27C1283.55,857.88 1284.07,856.87 1285.44,855.15C1286.81,853.43 1289.39,851.48 1291.44,849.95C1293.49,848.43 1295.76,847.07 1297.75,846C1299.73,844.92 1301.87,843.85 1303.33,843.52C1304.79,843.19 1305.72,843.52 1306.5,844.02Z" fill="#000" fill-opacity="0.032" stroke="#5a5a5a" stroke-width="0.55"/>
<path d="M1305.87,845.75C1306.6,846.14 1306.84,845.94 1307.1,847.36C1307.37,848.78 1307.35,852.06 1307.44,854.27C1307.52,856.48 1307.63,858.33 1307.62,860.61C1307.61,862.89 1307.76,865.45 1307.37,867.93C1306.99,870.41 1306.68,873.78 1305.3,875.49C1303.91,877.2 1301.21,877.82 1299.05,878.19C1296.9,878.56 1294.42,878.17 1292.36,877.71C1290.29,877.25 1288.05,876.78 1286.66,875.44C1285.26,874.09 1284.49,872.12 1283.98,869.63C1283.46,867.14 1283.34,862.87 1283.56,860.51C1283.78,858.14 1284.12,856.98 1285.28,855.45C1286.45,853.91 1288.47,852.74 1290.56,851.3C1292.65,849.85 1295.8,847.82 1297.82,846.77C1299.85,845.72 1301.36,845.15 1302.71,844.98C1304.05,844.81 1305.14,845.35 1305.87,845.75Z" fill="#000" fill-opacity="0.032" stroke="#5a5a5a" stroke-width="0.55"/>
<path d="M1304.37,847.09C1305.16,847.47 1305.87,847.71 1306.14,849.03C1306.42,850.35 1305.93,852.95 1306.04,855.02C1306.15,857.1 1306.7,859.32 1306.8,861.47C1306.89,863.63 1307.12,865.78 1306.61,867.96C1306.1,870.14 1305.07,872.89 1303.73,874.54C1302.4,876.19 1300.48,877.34 1298.59,877.84C1296.7,878.33 1294.25,877.97 1292.38,877.51C1290.52,877.05 1288.72,876.38 1287.4,875.05C1286.07,873.72 1284.95,871.87 1284.44,869.53C1283.93,867.2 1284.02,863.31 1284.32,861.03C1284.61,858.74 1285.11,857.3 1286.2,855.84C1287.29,854.38 1288.97,853.58 1290.84,852.25C1292.71,850.91 1295.65,848.74 1297.42,847.82C1299.18,846.9 1300.26,846.86 1301.42,846.74C1302.57,846.62 1303.58,846.71 1304.37,847.09Z" fill="#000" fill-opacity="0.032" stroke="#5a5a5a" stroke-width="0.55"/>
<path d="M1303.87,848.56C1304.55,848.99 1304.83,849.09 1305.12,850.29C1305.41,851.48 1305.6,853.88 1305.58,855.74C1305.56,857.59 1305.1,859.48 1305,861.4C1304.89,863.33 1305.22,865.23 1304.93,867.28C1304.65,869.34 1304.52,872.18 1303.28,873.74C1302.05,875.3 1299.35,876.24 1297.5,876.62C1295.64,877.01 1293.92,876.38 1292.17,876.04C1290.42,875.7 1288.25,875.82 1287,874.57C1285.74,873.32 1284.99,870.71 1284.64,868.52C1284.3,866.34 1284.68,863.37 1284.92,861.48C1285.15,859.59 1285.07,858.64 1286.06,857.16C1287.06,855.68 1289.06,853.88 1290.89,852.61C1292.72,851.34 1295.36,850.35 1297.04,849.54C1298.73,848.73 1299.87,847.89 1301.01,847.72C1302.14,847.56 1303.18,848.14 1303.87,848.56Z" fill="#000" fill-opacity="0.032" stroke="#5a5a5a" stroke-width="0.55"/>
<path d="M1302.74,849.79C1303.36,850.11 1303.55,849.96 1303.81,851.1C1304.07,852.24 1304.29,854.85 1304.29,856.65C1304.28,858.44 1303.83,860.07 1303.78,861.88C1303.73,863.69 1304.24,865.59 1304,867.52C1303.75,869.46 1303.49,872.15 1302.32,873.49C1301.14,874.82 1298.6,875.32 1296.96,875.53C1295.32,875.74 1294.01,875.05 1292.46,874.76C1290.91,874.48 1288.77,874.81 1287.66,873.82C1286.56,872.82 1286.3,870.81 1285.82,868.81C1285.34,866.82 1284.56,863.71 1284.77,861.83C1284.98,859.95 1286.06,858.99 1287.07,857.56C1288.08,856.12 1289.23,854.36 1290.81,853.24C1292.38,852.12 1294.97,851.53 1296.51,850.85C1298.05,850.18 1299.02,849.36 1300.06,849.19C1301.09,849.01 1302.11,849.47 1302.74,849.79Z" fill="#000" fill-opacity="0.032" stroke="#5a5a5a" stroke-width="0.55"/>
<path d="M1301.67,851.32C1302.27,851.56 1302.36,851.58 1302.52,852.51C1302.67,853.44 1302.59,855.33 1302.59,856.87C1302.59,858.42 1302.53,860.21 1302.52,861.8C1302.51,863.39 1302.76,864.67 1302.52,866.42C1302.28,868.17 1302.11,870.98 1301.08,872.28C1300.06,873.58 1297.89,873.89 1296.38,874.21C1294.88,874.52 1293.39,874.49 1292.05,874.16C1290.7,873.83 1289.36,873.31 1288.3,872.25C1287.24,871.2 1286.15,869.51 1285.67,867.84C1285.19,866.16 1285.24,863.93 1285.41,862.22C1285.59,860.51 1285.79,858.8 1286.73,857.58C1287.67,856.36 1289.51,855.86 1291.05,854.89C1292.58,853.93 1294.63,852.44 1295.93,851.79C1297.24,851.15 1297.93,851.13 1298.88,851.05C1299.84,850.97 1301.06,851.07 1301.67,851.32Z" fill="#000" fill-opacity="0.032" stroke="#5a5a5a" stroke-width="0.55"/>
<path d="M1300.5,852.3C1301,852.69 1300.92,853.03 1301.18,854.02C1301.44,855.01 1302.06,856.89 1302.04,858.23C1302.03,859.57 1301.22,860.71 1301.08,862.04C1300.95,863.38 1301.38,864.72 1301.22,866.25C1301.05,867.78 1300.88,870 1300.1,871.22C1299.31,872.44 1297.84,873.24 1296.51,873.57C1295.19,873.9 1293.44,873.47 1292.15,873.2C1290.86,872.93 1289.65,872.79 1288.77,871.94C1287.89,871.09 1287.25,869.66 1286.87,868.12C1286.49,866.58 1286.37,864.3 1286.48,862.7C1286.59,861.1 1286.7,859.7 1287.51,858.53C1288.32,857.35 1290.1,856.54 1291.34,855.64C1292.57,854.75 1293.79,853.82 1294.94,853.16C1296.08,852.49 1297.27,851.78 1298.19,851.64C1299.12,851.5 1300,851.9 1300.5,852.3Z" fill="#000" fill-opacity="0.032" stroke="#444" stroke-width="0.55"/>
<path d="M1299.54,853.63C1299.97,853.93 1300.23,854.02 1300.43,854.8C1300.64,855.58 1300.85,857.03 1300.78,858.31C1300.7,859.59 1300.04,861.09 1299.97,862.49C1299.91,863.88 1300.56,865.34 1300.39,866.68C1300.23,868.02 1299.8,869.62 1298.97,870.51C1298.14,871.41 1296.63,871.67 1295.43,872.05C1294.24,872.43 1292.95,872.91 1291.79,872.78C1290.63,872.65 1289.26,872.23 1288.48,871.27C1287.7,870.3 1287.36,868.53 1287.12,867C1286.87,865.46 1286.93,863.31 1287.01,862.04C1287.1,860.77 1287,860.21 1287.6,859.37C1288.21,858.54 1289.46,857.88 1290.62,857.04C1291.78,856.2 1293.37,855.03 1294.58,854.35C1295.79,853.67 1297.03,853.09 1297.86,852.97C1298.68,852.85 1299.11,853.32 1299.54,853.63Z" fill="#000" fill-opacity="0.032" stroke="#444" stroke-width="0.55"/>
<path d="M1298.65,854.48C1299.02,854.67 1298.75,855.32 1298.92,856.09C1299.08,856.86 1299.53,857.97 1299.63,859.1C1299.73,860.23 1299.63,861.74 1299.52,862.86C1299.4,863.97 1299.26,864.62 1298.94,865.8C1298.61,866.99 1298.25,869.04 1297.56,869.98C1296.87,870.92 1295.71,871.21 1294.8,871.42C1293.9,871.63 1293.06,871.53 1292.11,871.26C1291.15,871 1289.89,870.49 1289.06,869.81C1288.23,869.14 1287.36,868.43 1287.14,867.22C1286.92,866 1287.63,863.78 1287.74,862.52C1287.86,861.26 1287.32,860.51 1287.84,859.65C1288.36,858.8 1289.78,858.13 1290.85,857.4C1291.92,856.67 1293.27,855.66 1294.25,855.26C1295.23,854.86 1295.99,855.12 1296.72,854.99C1297.45,854.86 1298.29,854.3 1298.65,854.48Z" fill="#000" fill-opacity="0.032" stroke="#444" stroke-width="0.55"/>
<path d="M1297.4,856.5C1297.71,856.68 1297.62,856.33 1297.77,856.87C1297.92,857.42 1298.23,858.75 1298.31,859.75C1298.39,860.76 1298.33,861.88 1298.26,862.9C1298.2,863.93 1298.15,864.86 1297.94,865.91C1297.73,866.95 1297.57,868.37 1296.99,869.18C1296.41,870 1295.37,870.59 1294.46,870.82C1293.55,871.04 1292.42,870.77 1291.54,870.54C1290.66,870.32 1289.79,870.09 1289.18,869.45C1288.57,868.81 1288.07,867.85 1287.88,866.71C1287.7,865.57 1288.01,863.6 1288.08,862.63C1288.16,861.65 1287.92,861.51 1288.34,860.87C1288.75,860.23 1289.63,859.52 1290.57,858.78C1291.52,858.04 1293.09,856.92 1293.98,856.42C1294.87,855.92 1295.33,855.79 1295.9,855.8C1296.47,855.82 1297.09,856.32 1297.4,856.5Z" fill="#000" fill-opacity="0.032" stroke="#444" stroke-width="0.55"/>
<path d="M1296.48,857.27C1296.74,857.4 1296.09,857.3 1296.18,857.83C1296.27,858.35 1296.96,859.42 1297.02,860.4C1297.09,861.37 1296.58,862.76 1296.57,863.68C1296.55,864.6 1297.01,865.08 1296.91,865.92C1296.8,866.76 1296.53,868.05 1295.94,868.71C1295.34,869.38 1294.08,869.74 1293.32,869.92C1292.57,870.11 1292.04,869.99 1291.39,869.85C1290.74,869.71 1289.99,869.61 1289.43,869.1C1288.86,868.59 1288.23,867.78 1287.99,866.8C1287.75,865.82 1287.8,864.07 1287.98,863.21C1288.16,862.36 1288.51,862.21 1289.05,861.66C1289.58,861.12 1290.43,860.56 1291.2,859.93C1291.97,859.29 1293.1,858.35 1293.67,857.87C1294.24,857.39 1294.15,857.14 1294.61,857.04C1295.08,856.94 1296.22,857.13 1296.48,857.27Z" fill="#000" fill-opacity="0.032" stroke="#444" stroke-width="0.55"/>
<path d="M1295.3,859.33C1295.54,859.39 1295.55,858.94 1295.63,859.31C1295.71,859.69 1295.8,860.85 1295.75,861.57C1295.71,862.29 1295.45,863.07 1295.37,863.64C1295.28,864.21 1295.4,864.3 1295.25,864.99C1295.1,865.68 1294.76,867.23 1294.46,867.79C1294.16,868.35 1293.97,868.21 1293.45,868.37C1292.92,868.53 1291.98,868.82 1291.33,868.74C1290.68,868.67 1289.93,868.39 1289.55,867.92C1289.18,867.44 1289.23,866.59 1289.07,865.88C1288.91,865.17 1288.5,864.37 1288.59,863.64C1288.68,862.91 1289.18,862.01 1289.63,861.5C1290.08,860.98 1290.69,860.9 1291.28,860.56C1291.87,860.22 1292.69,859.73 1293.17,859.47C1293.66,859.2 1293.82,858.98 1294.17,858.96C1294.53,858.93 1295.05,859.27 1295.3,859.33Z" fill="#000" fill-opacity="0.032" stroke="#444" stroke-width="0.55"/>
<path d="M1293.9,860.35C1294.04,860.4 1293.86,860.13 1293.96,860.49C1294.06,860.85 1294.41,861.92 1294.53,862.52C1294.65,863.12 1294.63,863.57 1294.67,864.1C1294.72,864.63 1294.91,865.2 1294.81,865.71C1294.71,866.21 1294.42,866.86 1294.06,867.15C1293.7,867.43 1293.07,867.3 1292.66,867.4C1292.25,867.49 1292.1,867.81 1291.61,867.71C1291.12,867.62 1290.13,867.15 1289.72,866.84C1289.32,866.53 1289.2,866.43 1289.16,865.85C1289.12,865.28 1289.33,863.95 1289.47,863.39C1289.61,862.83 1289.77,862.85 1289.98,862.5C1290.19,862.15 1290.25,861.71 1290.73,861.3C1291.21,860.9 1292.45,860.26 1292.85,860.07C1293.25,859.88 1292.96,860.13 1293.14,860.18C1293.31,860.23 1293.77,860.3 1293.9,860.35Z" fill="#000" fill-opacity="0.032" stroke="#444" stroke-width="0.55"/>
<path d="M1293.45,861.93C1293.52,862.11 1293.27,861.95 1293.2,862.09C1293.13,862.22 1292.93,862.4 1293.02,862.74C1293.11,863.08 1293.69,863.71 1293.74,864.1C1293.78,864.5 1293.42,864.74 1293.3,865.11C1293.17,865.48 1293.12,865.96 1292.99,866.31C1292.87,866.65 1292.88,867.08 1292.53,867.18C1292.18,867.28 1291.18,867.04 1290.89,866.91C1290.6,866.78 1290.94,866.71 1290.77,866.42C1290.61,866.12 1290.05,865.56 1289.9,865.16C1289.74,864.76 1289.78,864.43 1289.84,864.02C1289.9,863.61 1289.98,863 1290.25,862.68C1290.52,862.36 1291.16,862.31 1291.45,862.09C1291.73,861.87 1291.74,861.55 1291.96,861.37C1292.18,861.19 1292.51,860.91 1292.76,861.01C1293.01,861.1 1293.37,861.75 1293.45,861.93Z" fill="#fff" stroke="#444" stroke-width="0.55"/>
<path fill="#222" d="M1309.8 882.5h.9v.9h-.9zM1312.1 838.6h.9v.9h-.9zM1282.9 854.1h.9v.9h-.9zM1318.1 843.0h.9v.9h-.9zM1317.4 842.5h.9v.9h-.9zM1320.8 864.0h.9v.9h-.9zM1314.2 852.6h.9v.9h-.9zM1315.6 836.6h.9v.9h-.9zM1304.4 836.1h.9v.9h-.9zM1321.3 842.8h.9v.9h-.9zM1316.7 868.7h.9v.9h-.9zM1291.6 837.9h.9v.9h-.9zM1321.2 844.1h.9v.9h-.9zM1313.4 845.6h.9v.9h-.9zM1314.2 840.5h.9v.9h-.9zM1313.6 839.4h.9v.9h-.9zM1319.2 837.9h.9v.9h-.9zM1313.6 837.5h.9v.9h-.9zM1296.7 836.3h.9v.9h-.9zM1285.7 849.7h.9v.9h-.9zM1319.5 850.3h.9v.9h-.9zM1287.7 880.6h.9v.9h-.9zM1313.4 834.5h.9v.9h-.9zM1306.7 889.4h.9v.9h-.9zM1315.4 843.0h.9v.9h-.9zM1310.4 834.2h.9v.9h-.9zM1285.3 882.2h.9v.9h-.9zM1304.6 837.6h.9v.9h-.9zM1273.5 892.8h.9v.9h-.9zM1298.2 884.3h.9v.9h-.9zM1309.5 826.3h.9v.9h-.9zM1324.9 852.6h.9v.9h-.9zM1321.7 841.6h.9v.9h-.9zM1301.8 830.5h.9v.9h-.9zM1289.2 880.9h.9v.9h-.9zM1302.3 885.4h.9v.9h-.9zM1309.1 893.4h.9v.9h-.9zM1314.8 848.4h.9v.9h-.9zM1319.9 844.0h.9v.9h-.9zM1283.7 877.9h.9v.9h-.9zM1311.7 879.5h.9v.9h-.9zM1302.5 838.5h.9v.9h-.9zM1299.0 884.8h.9v.9h-.9zM1280.0 870.8h.9v.9h-.9zM1307.9 880.5h.9v.9h-.9zM1312.5 828.7h.9v.9h-.9zM1309.0 834.5h.9v.9h-.9zM1295.8 887.3h.9v.9h-.9zM1319.0 840.9h.9v.9h-.9zM1299.9 884.4h.9v.9h-.9zM1291.8 882.1h.9v.9h-.9zM1304.9 881.2h.9v.9h-.9zM1303.2 839.2h.9v.9h-.9zM1293.2 896.5h.9v.9h-.9zM1313.4 836.4h.9v.9h-.9zM1293.2 843.4h.9v.9h-.9zM1307.4 883.1h.9v.9h-.9zM1301.9 835.8h.9v.9h-.9zM1313.9 834.1h.9v.9h-.9zM1314.8 834.3h.9v.9h-.9zM1311.3 881.9h.9v.9h-.9zM1296.7 842.9h.9v.9h-.9zM1312.8 840.8h.9v.9h-.9zM1292.9 886.2h.9v.9h-.9zM1314.6 841.1h.9v.9h-.9zM1315.7 876.9h.9v.9h-.9zM1278.5 868.8h.9v.9h-.9zM1298.4 887.1h.9v.9h-.9zM1312.0 890.1h.9v.9h-.9zM1313.9 846.8h.9v.9h-.9zM1301.8 884.8h.9v.9h-.9zM1313.3 843.8h.9v.9h-.9zM1291.2 830.0h.9v.9h-.9zM1310.4 838.7h.9v.9h-.9zM1308.1 838.5h.9v.9h-.9zM1281.1 882.1h.9v.9h-.9zM1310.8 839.2h.9v.9h-.9zM1287.9 881.1h.9v.9h-.9zM1287.7 883.6h.9v.9h-.9zM1282.8 881.6h.9v.9h-.9zM1316.3 860.5h.9v.9h-.9zM1289.0 882.9h.9v.9h-.9zM1313.5 852.1h.9v.9h-.9zM1312.5 875.6h.9v.9h-.9zM1317.5 866.0h.9v.9h-.9zM1287.9 839.2h.9v.9h-.9zM1313.5 865.6h.9v.9h-.9zM1318.4 832.8h.9v.9h-.9zM1315.5 862.9h.9v.9h-.9zM1294.5 837.3h.9v.9h-.9zM1316.2 837.8h.9v.9h-.9zM1298.9 885.2h.9v.9h-.9zM1292.1 844.3h.9v.9h-.9zM1324.5 860.1h.9v.9h-.9zM1316.4 876.7h.9v.9h-.9zM1314.3 872.2h.9v.9h-.9zM1314.6 864.4h.9v.9h-.9zM1313.9 840.9h.9v.9h-.9zM1282.0 875.2h.9v.9h-.9zM1311.0 827.7h.9v.9h-.9zM1315.0 883.6h.9v.9h-.9zM1277.2 870.2h.9v.9h-.9zM1314.7 836.0h.9v.9h-.9zM1314.5 844.5h.9v.9h-.9zM1319.7 828.1h.9v.9h-.9zM1291.3 829.9h.9v.9h-.9zM1297.4 882.3h.9v.9h-.9zM1314.4 841.3h.9v.9h-.9zM1286.3 845.9h.9v.9h-.9zM1307.0 888.8h.9v.9h-.9zM1280.1 844.4h.9v.9h-.9zM1302.6 837.8h.9v.9h-.9zM1283.4 895.5h.9v.9h-.9zM1285.5 884.4h.9v.9h-.9zM1287.8 880.9h.9v.9h-.9zM1314.0 847.2h.9v.9h-.9zM1313.3 844.8h.9v.9h-.9zM1308.2 881.9h.9v.9h-.9zM1277.2 847.2h.9v.9h-.9zM1291.8 845.6h.9v.9h-.9zM1312.1 838.3h.9v.9h-.9zM1314.3 842.4h.9v.9h-.9zM1315.4 850.5h.9v.9h-.9zM1279.2 862.7h.9v.9h-.9zM1316.8 845.4h.9v.9h-.9zM1275.0 879.1h.9v.9h-.9zM1301.2 839.1h.9v.9h-.9zM1301.6 838.1h.9v.9h-.9zM1315.3 841.0h.9v.9h-.9zM1309.6 834.3h.9v.9h-.9zM1302.2 885.0h.9v.9h-.9zM1286.1 880.5h.9v.9h-.9zM1290.5 843.1h.9v.9h-.9zM1300.6 835.7h.9v.9h-.9zM1309.2 829.1h.9v.9h-.9zM1309.2 837.2h.9v.9h-.9zM1315.5 835.2h.9v.9h-.9zM1311.5 878.0h.9v.9h-.9zM1280.4 847.5h.9v.9h-.9zM1323.0 862.0h.9v.9h-.9zM1322.2 837.5h.9v.9h-.9zM1319.9 829.4h.9v.9h-.9zM1318.6 834.6h.9v.9h-.9zM1285.3 845.8h.9v.9h-.9zM1296.1 887.3h.9v.9h-.9zM1306.6 882.0h.9v.9h-.9zM1315.9 834.8h.9v.9h-.9zM1316.6 845.9h.9v.9h-.9zM1280.1 844.5h.9v.9h-.9zM1315.7 853.6h.9v.9h-.9zM1309.9 881.7h.9v.9h-.9zM1302.7 838.2h.9v.9h-.9zM1281.2 873.5h.9v.9h-.9zM1303.9 882.6h.9v.9h-.9zM1315.6 844.4h.9v.9h-.9zM1318.1 829.3h.9v.9h-.9zM1315.6 857.4h.9v.9h-.9zM1320.6 843.1h.9v.9h-.9zM1316.6 837.4h.9v.9h-.9zM1318.6 841.5h.9v.9h-.9zM1297.9 830.8h.9v.9h-.9zM1294.1 885.1h.9v.9h-.9zM1314.2 844.5h.9v.9h-.9zM1308.3 880.5h.9v.9h-.9zM1301.9 832.4h.9v.9h-.9zM1319.7 851.2h.9v.9h-.9zM1294.6 883.5h.9v.9h-.9zM1315.7 839.6h.9v.9h-.9zM1308.8 837.5h.9v.9h-.9zM1296.6 884.9h.9v.9h-.9zM1305.7 883.1h.9v.9h-.9zM1307.8 890.7h.9v.9h-.9zM1318.6 841.9h.9v.9h-.9zM1292.7 882.1h.9v.9h-.9zM1277.4 858.2h.9v.9h-.9zM1311.8 886.0h.9v.9h-.9zM1319.1 858.1h.9v.9h-.9zM1315.6 858.1h.9v.9h-.9zM1284.8 850.3h.9v.9h-.9zM1297.2 887.7h.9v.9h-.9zM1313.1 844.0h.9v.9h-.9zM1315.4 855.0h.9v.9h-.9zM1311.1 833.0h.9v.9h-.9zM1313.2 836.2h.9v.9h-.9zM1317.4 851.8h.9v.9h-.9zM1312.9 879.0h.9v.9h-.9zM1305.5 885.6h.9v.9h-.9zM1285.6 830.8h.9v.9h-.9zM1299.6 891.5h.9v.9h-.9zM1301.7 837.0h.9v.9h-.9zM1300.6 835.7h.9v.9h-.9zM1317.8 886.8h.9v.9h-.9zM1320.0 836.7h.9v.9h-.9zM1314.7 849.8h.9v.9h-.9zM1314.0 829.2h.9v.9h-.9zM1287.4 881.4h.9v.9h-.9zM1309.1 832.5h.9v.9h-.9zM1318.3 832.1h.9v.9h-.9zM1303.6 885.3h.9v.9h-.9zM1292.0 882.8h.9v.9h-.9zM1311.2 829.5h.9v.9h-.9zM1312.8 836.7h.9v.9h-.9zM1284.2 884.4h.9v.9h-.9zM1294.0 888.1h.9v.9h-.9zM1314.9 864.9h.9v.9h-.9zM1290.0 837.0h.9v.9h-.9zM1315.7 838.4h.9v.9h-.9zM1312.0 877.0h.9v.9h-.9zM1313.3 869.9h.9v.9h-.9zM1320.2 824.6h.9v.9h-.9zM1298.9 840.5h.9v.9h-.9zM1313.7 841.4h.9v.9h-.9zM1291.0 844.7h.9v.9h-.9zM1303.5 882.9h.9v.9h-.9zM1285.5 880.2h.9v.9h-.9zM1292.3 842.1h.9v.9h-.9zM1323.9 853.1h.9v.9h-.9zM1311.0 840.5h.9v.9h-.9zM1312.6 829.9h.9v.9h-.9zM1321.5 864.3h.9v.9h-.9zM1283.5 881.6h.9v.9h-.9zM1280.0 855.2h.9v.9h-.9zM1312.1 836.3h.9v.9h-.9zM1303.1 828.7h.9v.9h-.9zM1321.3 835.0h.9v.9h-.9zM1308.6 830.0h.9v.9h-.9zM1314.0 875.5h.9v.9h-.9zM1311.8 838.9h.9v.9h-.9zM1307.7 837.7h.9v.9h-.9zM1313.3 837.3h.9v.9h-.9zM1307.8 838.5h.9v.9h-.9zM1320.4 846.9h.9v.9h-.9zM1306.4 839.5h.9v.9h-.9zM1304.9 885.0h.9v.9h-.9zM1311.2 882.9h.9v.9h-.9zM1312.1 829.3h.9v.9h-.9zM1306.0 838.6h.9v.9h-.9zM1296.1 839.3h.9v.9h-.9zM1316.6 854.3h.9v.9h-.9zM1323.4 846.6h.9v.9h-.9zM1309.9 882.1h.9v.9h-.9zM1315.1 841.6h.9v.9h-.9zM1315.0 841.8h.9v.9h-.9zM1318.7 839.7h.9v.9h-.9zM1290.2 834.2h.9v.9h-.9zM1308.3 838.3h.9v.9h-.9zM1327.1 842.0h.9v.9h-.9zM1297.1 883.5h.9v.9h-.9zM1322.1 839.3h.9v.9h-.9zM1314.3 858.7h.9v.9h-.9zM1299.8 834.2h.9v.9h-.9zM1313.3 841.1h.9v.9h-.9zM1315.9 837.0h.9v.9h-.9zM1302.4 830.0h.9v.9h-.9zM1293.3 892.1h.9v.9h-.9zM1322.2 840.9h.9v.9h-.9zM1319.1 863.3h.9v.9h-.9zM1314.8 846.8h.9v.9h-.9zM1292.1 885.1h.9v.9h-.9zM1308.7 833.7h.9v.9h-.9zM1310.7 837.2h.9v.9h-.9zM1312.6 839.7h.9v.9h-.9zM1316.9 851.4h.9v.9h-.9zM1312.4 840.9h.9v.9h-.9zM1298.5 886.3h.9v.9h-.9zM1288.5 889.5h.9v.9h-.9zM1311.7 876.5h.9v.9h-.9zM1291.7 842.3h.9v.9h-.9zM1300.9 837.2h.9v.9h-.9zM1295.8 841.7h.9v.9h-.9zM1290.7 882.1h.9v.9h-.9zM1313.8 839.6h.9v.9h-.9zM1312.0 838.7h.9v.9h-.9zM1287.5 891.9h.9v.9h-.9zM1301.0 836.1h.9v.9h-.9zM1308.2 835.1h.9v.9h-.9zM1314.5 829.2h.9v.9h-.9zM1313.4 829.9h.9v.9h-.9zM1317.3 845.6h.9v.9h-.9zM1313.2 881.8h.9v.9h-.9zM1291.5 841.3h.9v.9h-.9zM1300.3 884.1h.9v.9h-.9zM1301.9 836.3h.9v.9h-.9zM1322.9 852.3h.9v.9h-.9zM1292.4 829.0h.9v.9h-.9zM1314.4 834.3h.9v.9h-.9zM1321.1 868.1h.9v.9h-.9zM1315.2 842.0h.9v.9h-.9zM1321.4 840.8h.9v.9h-.9zM1286.0 884.7h.9v.9h-.9zM1313.6 850.3h.9v.9h-.9zM1325.2 842.0h.9v.9h-.9zM1315.2 849.7h.9v.9h-.9zM1296.7 883.4h.9v.9h-.9zM1293.3 887.4h.9v.9h-.9zM1282.8 878.1h.9v.9h-.9zM1304.0 836.2h.9v.9h-.9zM1295.7 884.5h.9v.9h-.9zM1305.9 838.6h.9v.9h-.9zM1314.1 847.4h.9v.9h-.9zM1319.3 842.7h.9v.9h-.9zM1309.9 831.6h.9v.9h-.9zM1313.5 876.2h.9v.9h-.9zM1304.1 835.8h.9v.9h-.9zM1290.9 846.1h.9v.9h-.9zM1300.6 884.8h.9v.9h-.9zM1306.8 890.9h.9v.9h-.9zM1278.5 850.1h.9v.9h-.9zM1284.7 850.1h.9v.9h-.9zM1309.0 880.9h.9v.9h-.9zM1296.5 842.0h.9v.9h-.9zM1317.7 840.9h.9v.9h-.9zM1282.6 852.3h.9v.9h-.9zM1295.2 840.9h.9v.9h-.9zM1305.4 838.6h.9v.9h-.9zM1316.6 839.7h.9v.9h-.9zM1300.4 839.3h.9v.9h-.9zM1289.5 844.5h.9v.9h-.9zM1305.9 839.0h.9v.9h-.9zM1315.4 829.3h.9v.9h-.9zM1316.2 843.6h.9v.9h-.9zM1315.1 839.2h.9v.9h-.9zM1316.0 861.4h.9v.9h-.9zM1314.8 843.4h.9v.9h-.9zM1315.9 865.6h.9v.9h-.9zM1300.0 886.4h.9v.9h-.9zM1298.0 829.6h.9v.9h-.9zM1311.3 825.0h.9v.9h-.9zM1306.2 837.8h.9v.9h-.9zM1319.8 846.0h.9v.9h-.9zM1317.6 832.4h.9v.9h-.9zM1313.2 838.7h.9v.9h-.9zM1320.4 871.0h.9v.9h-.9zM1321.2 828.9h.9v.9h-.9zM1316.7 895.8h.9v.9h-.9zM1312.0 880.0h.9v.9h-.9zM1303.0 888.0h.9v.9h-.9zM1311.5 882.6h.9v.9h-.9zM1313.4 859.3h.9v.9h-.9zM1314.9 853.8h.9v.9h-.9zM1314.1 846.3h.9v.9h-.9zM1313.3 839.3h.9v.9h-.9zM1314.0 841.0h.9v.9h-.9zM1318.0 848.5h.9v.9h-.9zM1296.9 887.9h.9v.9h-.9zM1317.5 847.2h.9v.9h-.9zM1307.8 882.8h.9v.9h-.9zM1283.1 843.1h.9v.9h-.9zM1316.7 872.6h.9v.9h-.9zM1315.7 832.7h.9v.9h-.9zM1320.8 830.5h.9v.9h-.9zM1314.0 834.9h.9v.9h-.9zM1315.2 850.2h.9v.9h-.9zM1311.2 830.5h.9v.9h-.9zM1317.0 840.7h.9v.9h-.9zM1286.9 884.6h.9v.9h-.9zM1284.9 879.1h.9v.9h-.9zM1302.3 883.9h.9v.9h-.9zM1295.2 833.7h.9v.9h-.9zM1311.7 837.2h.9v.9h-.9zM1327.1 843.8h.9v.9h-.9zM1304.5 833.1h.9v.9h-.9zM1312.9 836.4h.9v.9h-.9zM1316.0 858.4h.9v.9h-.9zM1301.1 837.1h.9v.9h-.9zM1308.3 882.4h.9v.9h-.9zM1319.7 844.0h.9v.9h-.9zM1314.8 876.7h.9v.9h-.9zM1289.1 886.4h.9v.9h-.9zM1283.0 841.3h.9v.9h-.9zM1281.9 848.0h.9v.9h-.9zM1283.3 882.0h.9v.9h-.9zM1313.8 873.7h.9v.9h-.9zM1313.9 860.6h.9v.9h-.9zM1308.1 835.3h.9v.9h-.9zM1313.5 837.3h.9v.9h-.9zM1311.0 835.6h.9v.9h-.9zM1315.0 852.6h.9v.9h-.9zM1314.7 851.9h.9v.9h-.9zM1293.5 838.6h.9v.9h-.9z"/>
<ellipse cx="810.8" cy="560.5" rx="6.6" ry="5.4" transform="rotate(-25 810.8 560.5)" fill="#fff" stroke="#444" stroke-width="0.75"/>
<ellipse cx="811.3" cy="560.2" rx="3.3" ry="2.7" transform="rotate(-25 810.8 560.5)" fill="none" stroke="#777" stroke-width="0.6"/>
<path fill="#333" d="M803.5 563.1h.9v.9h-.9zM802.8 560.0h.9v.9h-.9zM813.7 568.2h.9v.9h-.9zM803.5 551.4h.9v.9h-.9zM820.0 567.4h.9v.9h-.9zM826.2 558.5h.9v.9h-.9zM806.1 552.5h.9v.9h-.9zM800.1 565.4h.9v.9h-.9zM802.3 559.3h.9v.9h-.9zM802.0 560.5h.9v.9h-.9zM830.6 560.2h.9v.9h-.9zM815.9 551.2h.9v.9h-.9zM811.4 553.5h.9v.9h-.9zM814.2 554.8h.9v.9h-.9zM822.0 557.0h.9v.9h-.9zM816.5 556.3h.9v.9h-.9zM818.4 564.9h.9v.9h-.9zM820.7 557.9h.9v.9h-.9zM814.3 571.1h.9v.9h-.9zM816.7 567.9h.9v.9h-.9zM815.5 565.4h.9v.9h-.9zM821.4 558.2h.9v.9h-.9zM806.6 574.2h.9v.9h-.9zM812.3 567.3h.9v.9h-.9zM816.0 552.5h.9v.9h-.9zM825.4 572.9h.9v.9h-.9zM811.6 554.3h.9v.9h-.9zM817.5 565.5h.9v.9h-.9zM811.2 570.0h.9v.9h-.9zM806.2 566.1h.9v.9h-.9zM800.1 554.2h.9v.9h-.9zM820.1 553.5h.9v.9h-.9zM809.9 543.9h.9v.9h-.9zM815.6 576.7h.9v.9h-.9zM816.8 554.1h.9v.9h-.9zM825.7 564.8h.9v.9h-.9zM811.5 571.4h.9v.9h-.9zM810.3 573.5h.9v.9h-.9zM815.1 570.5h.9v.9h-.9zM799.9 555.5h.9v.9h-.9zM813.4 566.5h.9v.9h-.9zM802.6 571.7h.9v.9h-.9zM819.5 559.2h.9v.9h-.9zM807.9 551.8h.9v.9h-.9zM823.9 562.2h.9v.9h-.9zM806.1 543.4h.9v.9h-.9zM819.3 561.8h.9v.9h-.9zM801.1 561.8h.9v.9h-.9zM801.1 584.9h.9v.9h-.9zM817.5 564.5h.9v.9h-.9zM809.7 545.5h.9v.9h-.9zM810.0 549.6h.9v.9h-.9zM814.4 545.5h.9v.9h-.9zM805.4 569.0h.9v.9h-.9zM820.7 552.2h.9v.9h-.9zM801.6 566.7h.9v.9h-.9zM815.9 553.6h.9v.9h-.9zM803.7 555.7h.9v.9h-.9zM818.3 565.3h.9v.9h-.9zM823.1 559.9h.9v.9h-.9zM810.0 553.6h.9v.9h-.9zM810.1 551.3h.9v.9h-.9zM800.1 565.4h.9v.9h-.9zM819.4 566.4h.9v.9h-.9zM818.8 562.3h.9v.9h-.9zM808.6 552.7h.9v.9h-.9zM800.6 550.1h.9v.9h-.9zM808.0 570.5h.9v.9h-.9zM818.1 554.8h.9v.9h-.9zM799.0 565.8h.9v.9h-.9zM806.7 569.7h.9v.9h-.9zM812.8 567.5h.9v.9h-.9zM815.4 545.9h.9v.9h-.9zM815.4 566.7h.9v.9h-.9zM816.9 548.9h.9v.9h-.9zM807.3 543.9h.9v.9h-.9zM812.2 567.6h.9v.9h-.9zM805.9 554.7h.9v.9h-.9zM806.2 572.8h.9v.9h-.9zM808.8 551.7h.9v.9h-.9zM806.9 572.1h.9v.9h-.9zM806.3 555.0h.9v.9h-.9zM804.8 553.1h.9v.9h-.9zM816.1 544.0h.9v.9h-.9zM810.0 566.9h.9v.9h-.9zM808.4 552.5h.9v.9h-.9zM803.2 552.8h.9v.9h-.9zM802.5 568.2h.9v.9h-.9zM819.6 555.9h.9v.9h-.9zM815.3 566.1h.9v.9h-.9zM801.5 549.6h.9v.9h-.9zM805.2 566.8h.9v.9h-.9zM818.6 551.9h.9v.9h-.9zM808.9 547.8h.9v.9h-.9zM804.8 551.9h.9v.9h-.9zM813.7 575.1h.9v.9h-.9zM827.2 558.1h.9v.9h-.9zM800.5 557.7h.9v.9h-.9zM805.2 574.4h.9v.9h-.9zM801.0 556.8h.9v.9h-.9zM805.4 571.1h.9v.9h-.9zM801.2 559.3h.9v.9h-.9zM815.7 551.5h.9v.9h-.9zM812.1 568.9h.9v.9h-.9zM808.4 571.5h.9v.9h-.9zM806.1 554.0h.9v.9h-.9zM815.1 553.0h.9v.9h-.9zM808.6 566.8h.9v.9h-.9zM818.1 548.1h.9v.9h-.9zM813.8 573.7h.9v.9h-.9zM818.0 558.8h.9v.9h-.9zM802.1 567.9h.9v.9h-.9zM804.4 557.4h.9v.9h-.9zM823.9 556.3h.9v.9h-.9zM810.0 568.4h.9v.9h-.9zM815.3 565.8h.9v.9h-.9zM816.0 546.7h.9v.9h-.9zM813.8 569.6h.9v.9h-.9zM805.7 568.2h.9v.9h-.9zM818.5 567.4h.9v.9h-.9zM815.9 566.3h.9v.9h-.9zM806.4 565.6h.9v.9h-.9zM813.2 570.0h.9v.9h-.9zM806.0 553.9h.9v.9h-.9zM815.7 552.8h.9v.9h-.9zM810.2 547.8h.9v.9h-.9zM805.4 575.0h.9v.9h-.9zM815.1 585.1h.9v.9h-.9zM811.4 571.7h.9v.9h-.9zM813.9 554.1h.9v.9h-.9zM803.3 566.6h.9v.9h-.9zM805.4 546.5h.9v.9h-.9zM800.7 560.1h.9v.9h-.9zM801.7 560.3h.9v.9h-.9zM804.0 557.8h.9v.9h-.9zM820.6 542.5h.9v.9h-.9zM824.5 567.0h.9v.9h-.9zM800.9 563.3h.9v.9h-.9zM807.7 567.5h.9v.9h-.9zM807.3 547.6h.9v.9h-.9zM813.6 567.5h.9v.9h-.9zM810.4 553.4h.9v.9h-.9zM819.3 552.7h.9v.9h-.9zM807.5 547.2h.9v.9h-.9zM806.6 555.3h.9v.9h-.9zM805.0 555.6h.9v.9h-.9zM821.6 559.1h.9v.9h-.9zM810.1 575.9h.9v.9h-.9zM810.4 548.4h.9v.9h-.9zM813.2 553.9h.9v.9h-.9zM820.6 551.8h.9v.9h-.9zM807.3 549.3h.9v.9h-.9zM811.4 553.4h.9v.9h-.9zM807.1 567.1h.9v.9h-.9zM805.4 553.0h.9v.9h-.9zM812.4 577.2h.9v.9h-.9zM806.6 552.8h.9v.9h-.9zM819.4 560.5h.9v.9h-.9zM807.7 549.2h.9v.9h-.9zM803.4 552.9h.9v.9h-.9zM810.5 567.6h.9v.9h-.9zM810.7 575.7h.9v.9h-.9zM804.0 557.9h.9v.9h-.9zM818.4 558.6h.9v.9h-.9zM819.3 560.2h.9v.9h-.9zM802.5 553.7h.9v.9h-.9zM824.1 565.0h.9v.9h-.9zM814.4 567.2h.9v.9h-.9zM814.2 567.7h.9v.9h-.9zM802.8 558.9h.9v.9h-.9zM806.5 553.1h.9v.9h-.9zM808.8 571.4h.9v.9h-.9zM816.4 570.3h.9v.9h-.9zM800.9 570.0h.9v.9h-.9zM825.2 559.3h.9v.9h-.9zM822.5 567.3h.9v.9h-.9zM804.6 563.9h.9v.9h-.9zM796.8 558.1h.9v.9h-.9zM809.7 552.7h.9v.9h-.9zM821.8 558.8h.9v.9h-.9zM806.1 555.1h.9v.9h-.9zM802.5 564.2h.9v.9h-.9zM812.1 552.0h.9v.9h-.9zM825.6 560.2h.9v.9h-.9zM820.4 570.2h.9v.9h-.9zM812.6 550.9h.9v.9h-.9zM807.7 552.2h.9v.9h-.9zM803.7 555.1h.9v.9h-.9zM810.9 580.0h.9v.9h-.9zM821.4 553.2h.9v.9h-.9zM810.0 567.8h.9v.9h-.9zM818.5 565.9h.9v.9h-.9zM802.8 557.4h.9v.9h-.9zM806.0 566.2h.9v.9h-.9zM812.1 566.7h.9v.9h-.9zM810.4 547.1h.9v.9h-.9zM813.8 551.4h.9v.9h-.9zM812.9 554.3h.9v.9h-.9zM800.5 543.2h.9v.9h-.9zM807.3 568.4h.9v.9h-.9zM810.5 544.7h.9v.9h-.9zM820.8 568.7h.9v.9h-.9zM812.8 570.5h.9v.9h-.9zM809.4 549.9h.9v.9h-.9zM804.7 569.3h.9v.9h-.9zM808.8 551.7h.9v.9h-.9zM823.2 552.4h.9v.9h-.9zM808.3 566.9h.9v.9h-.9zM822.5 554.6h.9v.9h-.9zM810.9 567.1h.9v.9h-.9zM813.4 569.0h.9v.9h-.9zM813.0 552.1h.9v.9h-.9zM814.8 552.8h.9v.9h-.9zM815.3 571.1h.9v.9h-.9zM803.3 558.0h.9v.9h-.9zM819.3 558.4h.9v.9h-.9zM800.7 556.9h.9v.9h-.9zM809.8 545.6h.9v.9h-.9zM818.1 565.5h.9v.9h-.9zM816.9 569.6h.9v.9h-.9zM812.7 572.2h.9v.9h-.9zM800.7 558.9h.9v.9h-.9zM819.6 558.4h.9v.9h-.9zM803.4 560.8h.9v.9h-.9zM809.1 549.7h.9v.9h-.9zM814.9 551.3h.9v.9h-.9zM817.4 550.4h.9v.9h-.9zM817.1 547.8h.9v.9h-.9zM819.1 557.9h.9v.9h-.9zM801.5 558.9h.9v.9h-.9zM812.8 553.6h.9v.9h-.9zM809.8 539.0h.9v.9h-.9zM812.6 567.6h.9v.9h-.9zM806.7 578.4h.9v.9h-.9zM817.3 567.2h.9v.9h-.9zM799.4 552.8h.9v.9h-.9zM811.7 571.6h.9v.9h-.9zM815.5 570.9h.9v.9h-.9zM807.9 568.7h.9v.9h-.9zM813.6 553.2h.9v.9h-.9zM810.0 575.1h.9v.9h-.9zM796.4 555.4h.9v.9h-.9zM824.7 565.7h.9v.9h-.9zM812.7 554.0h.9v.9h-.9zM808.0 581.5h.9v.9h-.9zM803.4 569.5h.9v.9h-.9zM808.9 551.2h.9v.9h-.9zM815.7 554.3h.9v.9h-.9zM798.5 543.8h.9v.9h-.9zM810.0 569.1h.9v.9h-.9zM816.8 570.2h.9v.9h-.9zM821.9 560.6h.9v.9h-.9zM817.1 549.8h.9v.9h-.9zM818.5 557.9h.9v.9h-.9zM812.3 553.4h.9v.9h-.9zM803.7 558.2h.9v.9h-.9zM817.0 571.6h.9v.9h-.9zM801.5 562.8h.9v.9h-.9zM805.0 568.7h.9v.9h-.9zM795.6 564.8h.9v.9h-.9zM815.0 551.6h.9v.9h-.9zM829.3 561.9h.9v.9h-.9zM805.5 566.6h.9v.9h-.9zM809.2 566.6h.9v.9h-.9zM803.9 567.0h.9v.9h-.9zM810.2 554.3h.9v.9h-.9zM818.1 557.5h.9v.9h-.9zM809.9 554.3h.9v.9h-.9zM806.7 550.6h.9v.9h-.9zM813.4 566.9h.9v.9h-.9zM815.0 552.5h.9v.9h-.9zM802.2 559.8h.9v.9h-.9zM812.0 547.6h.9v.9h-.9zM803.2 566.8h.9v.9h-.9zM821.3 559.1h.9v.9h-.9zM806.4 552.4h.9v.9h-.9zM806.0 569.0h.9v.9h-.9zM800.2 559.8h.9v.9h-.9zM814.6 551.9h.9v.9h-.9zM816.4 570.5h.9v.9h-.9zM817.0 555.4h.9v.9h-.9zM806.6 567.1h.9v.9h-.9zM816.8 569.1h.9v.9h-.9zM808.3 547.5h.9v.9h-.9zM815.5 576.4h.9v.9h-.9zM802.6 555.5h.9v.9h-.9zM804.2 574.7h.9v.9h-.9zM806.5 566.5h.9v.9h-.9zM822.3 573.8h.9v.9h-.9zM819.4 571.9h.9v.9h-.9zM803.4 558.1h.9v.9h-.9zM826.5 548.7h.9v.9h-.9zM814.1 551.8h.9v.9h-.9zM818.8 569.6h.9v.9h-.9zM807.7 575.0h.9v.9h-.9zM811.2 569.6h.9v.9h-.9zM825.0 559.1h.9v.9h-.9zM806.1 550.4h.9v.9h-.9zM804.9 566.8h.9v.9h-.9zM812.9 568.0h.9v.9h-.9zM814.5 565.9h.9v.9h-.9zM818.7 558.1h.9v.9h-.9zM804.3 553.0h.9v.9h-.9zM811.3 548.8h.9v.9h-.9zM791.5 562.5h.9v.9h-.9zM817.0 548.8h.9v.9h-.9zM798.9 554.4h.9v.9h-.9zM803.6 559.1h.9v.9h-.9zM799.0 566.8h.9v.9h-.9zM808.8 545.7h.9v.9h-.9zM809.9 551.1h.9v.9h-.9zM815.4 565.9h.9v.9h-.9zM819.6 564.0h.9v.9h-.9zM808.7 567.1h.9v.9h-.9zM824.1 550.9h.9v.9h-.9zM804.7 548.4h.9v.9h-.9zM801.2 566.5h.9v.9h-.9zM812.6 571.9h.9v.9h-.9zM799.0 554.3h.9v.9h-.9zM819.5 567.7h.9v.9h-.9zM816.1 566.6h.9v.9h-.9zM819.5 552.6h.9v.9h-.9zM823.4 563.4h.9v.9h-.9zM808.3 568.2h.9v.9h-.9zM825.9 552.7h.9v.9h-.9zM807.0 575.7h.9v.9h-.9zM825.1 544.7h.9v.9h-.9zM813.3 570.0h.9v.9h-.9zM815.2 574.0h.9v.9h-.9zM820.6 552.2h.9v.9h-.9z"/>
<path fill="#333" d="M964.4 564.6h.9v.9h-.9zM970.8 558.2h.9v.9h-.9zM977.6 563.1h.9v.9h-.9zM970.8 578.7h.9v.9h-.9zM969.6 551.1h.9v.9h-.9zM964.7 557.8h.9v.9h-.9zM975.9 570.2h.9v.9h-.9zM978.6 579.2h.9v.9h-.9zM981.8 568.5h.9v.9h-.9zM979.8 568.7h.9v.9h-.9zM969.4 570.3h.9v.9h-.9zM972.9 561.0h.9v.9h-.9zM983.6 569.9h.9v.9h-.9zM969.9 562.3h.9v.9h-.9zM985.6 560.7h.9v.9h-.9zM976.7 568.6h.9v.9h-.9zM975.4 568.3h.9v.9h-.9zM969.9 558.8h.9v.9h-.9zM971.7 559.7h.9v.9h-.9zM977.1 577.1h.9v.9h-.9zM967.7 568.0h.9v.9h-.9zM967.1 556.7h.9v.9h-.9zM971.3 564.0h.9v.9h-.9zM970.2 539.2h.9v.9h-.9zM980.3 560.5h.9v.9h-.9zM969.1 569.2h.9v.9h-.9zM969.3 550.0h.9v.9h-.9zM975.3 566.8h.9v.9h-.9zM968.0 570.7h.9v.9h-.9zM974.7 552.6h.9v.9h-.9zM982.4 565.4h.9v.9h-.9zM966.3 567.1h.9v.9h-.9zM973.3 571.9h.9v.9h-.9zM965.1 572.5h.9v.9h-.9zM977.9 569.3h.9v.9h-.9zM976.0 575.0h.9v.9h-.9zM976.6 564.2h.9v.9h-.9zM967.9 573.1h.9v.9h-.9zM978.1 565.7h.9v.9h-.9zM973.4 569.6h.9v.9h-.9zM958.6 565.9h.9v.9h-.9zM958.7 565.2h.9v.9h-.9zM978.5 580.3h.9v.9h-.9zM970.0 566.9h.9v.9h-.9zM972.2 542.7h.9v.9h-.9zM976.6 562.8h.9v.9h-.9zM973.0 554.3h.9v.9h-.9zM972.3 563.7h.9v.9h-.9zM979.7 565.6h.9v.9h-.9zM992.0 559.2h.9v.9h-.9zM971.1 562.5h.9v.9h-.9zM968.0 576.7h.9v.9h-.9zM976.2 551.3h.9v.9h-.9zM973.2 573.4h.9v.9h-.9zM964.7 564.3h.9v.9h-.9zM971.2 584.2h.9v.9h-.9zM974.9 559.2h.9v.9h-.9zM969.4 580.2h.9v.9h-.9zM970.0 583.8h.9v.9h-.9zM963.9 561.2h.9v.9h-.9zM971.2 556.5h.9v.9h-.9zM971.4 569.2h.9v.9h-.9zM968.9 549.8h.9v.9h-.9zM980.1 576.3h.9v.9h-.9zM968.7 565.7h.9v.9h-.9zM958.2 572.4h.9v.9h-.9zM965.1 557.9h.9v.9h-.9zM984.6 551.4h.9v.9h-.9zM972.7 553.2h.9v.9h-.9zM962.3 552.3h.9v.9h-.9z"/>
<path fill="#333" d="M1136.0 567.4h.9v.9h-.9zM1132.2 545.9h.9v.9h-.9zM1138.1 561.8h.9v.9h-.9zM1138.9 561.2h.9v.9h-.9zM1136.2 554.1h.9v.9h-.9zM1132.8 556.6h.9v.9h-.9zM1134.9 564.1h.9v.9h-.9zM1140.4 549.9h.9v.9h-.9zM1140.9 558.0h.9v.9h-.9zM1143.2 568.0h.9v.9h-.9zM1140.2 546.5h.9v.9h-.9zM1140.7 548.0h.9v.9h-.9zM1145.8 553.9h.9v.9h-.9zM1136.0 570.1h.9v.9h-.9zM1127.3 558.4h.9v.9h-.9zM1131.1 554.8h.9v.9h-.9zM1132.7 562.7h.9v.9h-.9zM1135.4 560.5h.9v.9h-.9zM1140.7 547.0h.9v.9h-.9zM1144.9 556.6h.9v.9h-.9zM1127.9 553.9h.9v.9h-.9zM1142.0 564.8h.9v.9h-.9zM1133.3 558.9h.9v.9h-.9zM1138.5 565.1h.9v.9h-.9zM1136.4 564.7h.9v.9h-.9zM1132.1 553.5h.9v.9h-.9zM1140.9 563.0h.9v.9h-.9zM1136.9 562.2h.9v.9h-.9zM1138.3 563.3h.9v.9h-.9zM1143.7 561.7h.9v.9h-.9zM1141.7 555.6h.9v.9h-.9zM1134.0 542.7h.9v.9h-.9zM1139.4 558.5h.9v.9h-.9zM1140.1 545.9h.9v.9h-.9zM1134.4 554.6h.9v.9h-.9zM1127.0 564.3h.9v.9h-.9zM1144.0 549.8h.9v.9h-.9zM1139.6 569.7h.9v.9h-.9zM1130.3 564.8h.9v.9h-.9zM1146.1 570.6h.9v.9h-.9zM1129.5 551.2h.9v.9h-.9zM1138.3 566.2h.9v.9h-.9zM1130.1 553.3h.9v.9h-.9zM1130.9 565.6h.9v.9h-.9zM1134.0 562.1h.9v.9h-.9zM1140.8 566.0h.9v.9h-.9zM1139.5 560.5h.9v.9h-.9zM1143.7 561.4h.9v.9h-.9zM1130.0 554.7h.9v.9h-.9zM1142.2 559.2h.9v.9h-.9zM1135.2 559.9h.9v.9h-.9zM1155.8 557.9h.9v.9h-.9zM1139.9 561.3h.9v.9h-.9zM1135.6 566.2h.9v.9h-.9zM1142.0 560.9h.9v.9h-.9zM1129.5 566.7h.9v.9h-.9zM1141.5 557.7h.9v.9h-.9zM1122.0 557.9h.9v.9h-.9zM1130.3 556.7h.9v.9h-.9zM1134.3 552.7h.9v.9h-.9zM1142.9 559.0h.9v.9h-.9zM1144.1 551.8h.9v.9h-.9zM1136.1 567.4h.9v.9h-.9zM1139.0 553.4h.9v.9h-.9zM1132.1 554.3h.9v.9h-.9zM1136.7 562.8h.9v.9h-.9zM1138.0 563.3h.9v.9h-.9zM1141.9 559.1h.9v.9h-.9zM1144.4 563.2h.9v.9h-.9zM1136.1 557.2h.9v.9h-.9zM1137.0 553.3h.9v.9h-.9zM1129.6 558.5h.9v.9h-.9zM1134.2 562.2h.9v.9h-.9zM1133.8 558.9h.9v.9h-.9zM1138.3 555.1h.9v.9h-.9zM1138.2 553.4h.9v.9h-.9zM1134.7 563.6h.9v.9h-.9zM1139.3 558.2h.9v.9h-.9zM1132.7 562.9h.9v.9h-.9zM1148.4 543.7h.9v.9h-.9zM1143.1 559.7h.9v.9h-.9zM1143.3 566.0h.9v.9h-.9zM1131.4 569.8h.9v.9h-.9zM1133.8 556.6h.9v.9h-.9zM1140.7 557.7h.9v.9h-.9zM1138.6 554.8h.9v.9h-.9zM1131.2 558.3h.9v.9h-.9zM1130.9 567.2h.9v.9h-.9zM1138.5 567.6h.9v.9h-.9zM1130.1 544.3h.9v.9h-.9zM1124.2 555.7h.9v.9h-.9zM1129.8 560.6h.9v.9h-.9zM1128.9 549.0h.9v.9h-.9zM1138.7 555.6h.9v.9h-.9zM1140.9 563.6h.9v.9h-.9zM1139.1 550.1h.9v.9h-.9zM1132.2 573.3h.9v.9h-.9zM1135.8 560.1h.9v.9h-.9zM1137.8 558.0h.9v.9h-.9zM1136.1 554.4h.9v.9h-.9zM1134.2 544.8h.9v.9h-.9zM1146.5 557.5h.9v.9h-.9zM1129.7 561.6h.9v.9h-.9zM1140.9 548.6h.9v.9h-.9zM1134.2 568.2h.9v.9h-.9zM1140.2 561.0h.9v.9h-.9zM1142.7 557.3h.9v.9h-.9zM1135.4 568.8h.9v.9h-.9zM1136.1 557.7h.9v.9h-.9zM1140.7 558.4h.9v.9h-.9zM1130.1 570.8h.9v.9h-.9zM1136.7 570.2h.9v.9h-.9zM1140.0 552.1h.9v.9h-.9zM1145.8 557.0h.9v.9h-.9zM1132.2 558.0h.9v.9h-.9zM1125.0 560.9h.9v.9h-.9zM1133.0 556.5h.9v.9h-.9zM1132.1 562.7h.9v.9h-.9zM1139.1 565.4h.9v.9h-.9zM1146.5 560.1h.9v.9h-.9zM1137.6 560.2h.9v.9h-.9zM1132.5 554.5h.9v.9h-.9zM1141.3 552.5h.9v.9h-.9zM1126.2 555.8h.9v.9h-.9zM1138.5 568.0h.9v.9h-.9zM1133.1 552.0h.9v.9h-.9zM1137.6 557.2h.9v.9h-.9zM1138.5 554.7h.9v.9h-.9zM1138.2 554.3h.9v.9h-.9zM1142.6 560.0h.9v.9h-.9zM1140.3 555.2h.9v.9h-.9zM1129.0 558.3h.9v.9h-.9zM1136.8 565.5h.9v.9h-.9zM1142.5 557.9h.9v.9h-.9zM1136.8 551.6h.9v.9h-.9zM1136.8 559.6h.9v.9h-.9zM1134.7 551.0h.9v.9h-.9zM1144.2 552.0h.9v.9h-.9zM1146.3 566.0h.9v.9h-.9zM1145.7 552.5h.9v.9h-.9zM1140.6 548.9h.9v.9h-.9zM1135.0 548.0h.9v.9h-.9zM1132.9 554.8h.9v.9h-.9zM1142.4 565.3h.9v.9h-.9zM1135.0 556.2h.9v.9h-.9zM1131.8 550.6h.9v.9h-.9zM1127.0 556.7h.9v.9h-.9zM1140.3 553.0h.9v.9h-.9zM1139.1 550.5h.9v.9h-.9zM1131.4 554.6h.9v.9h-.9zM1141.9 554.6h.9v.9h-.9zM1141.3 555.8h.9v.9h-.9zM1130.8 544.8h.9v.9h-.9zM1134.3 551.7h.9v.9h-.9zM1142.0 561.0h.9v.9h-.9zM1127.8 563.6h.9v.9h-.9zM1139.9 538.9h.9v.9h-.9zM1131.1 559.7h.9v.9h-.9zM1128.1 553.3h.9v.9h-.9zM1139.9 559.7h.9v.9h-.9z"/>
<path fill="#333" d="M1304.2 564.3h.9v.9h-.9zM1292.5 548.3h.9v.9h-.9zM1298.2 563.2h.9v.9h-.9zM1298.0 551.0h.9v.9h-.9zM1296.5 566.9h.9v.9h-.9zM1292.5 564.8h.9v.9h-.9zM1301.1 561.6h.9v.9h-.9zM1302.2 556.0h.9v.9h-.9zM1298.2 568.9h.9v.9h-.9zM1297.0 556.7h.9v.9h-.9zM1292.4 556.4h.9v.9h-.9zM1302.0 565.9h.9v.9h-.9zM1301.6 562.5h.9v.9h-.9zM1301.3 560.9h.9v.9h-.9zM1303.2 558.2h.9v.9h-.9zM1303.5 558.6h.9v.9h-.9zM1291.6 552.0h.9v.9h-.9zM1297.9 556.5h.9v.9h-.9zM1293.3 554.9h.9v.9h-.9zM1299.5 561.2h.9v.9h-.9zM1302.5 554.3h.9v.9h-.9zM1300.4 564.7h.9v.9h-.9zM1300.3 568.6h.9v.9h-.9zM1296.6 559.0h.9v.9h-.9zM1299.5 556.8h.9v.9h-.9zM1298.5 560.3h.9v.9h-.9zM1298.6 556.3h.9v.9h-.9zM1296.7 558.6h.9v.9h-.9zM1291.9 560.0h.9v.9h-.9zM1293.9 557.7h.9v.9h-.9zM1293.9 559.6h.9v.9h-.9zM1297.0 557.6h.9v.9h-.9zM1295.4 559.6h.9v.9h-.9zM1305.8 549.3h.9v.9h-.9zM1301.0 560.2h.9v.9h-.9zM1297.0 552.1h.9v.9h-.9zM1305.7 560.0h.9v.9h-.9zM1303.1 557.0h.9v.9h-.9zM1295.3 564.8h.9v.9h-.9zM1302.0 557.4h.9v.9h-.9zM1297.8 562.4h.9v.9h-.9zM1295.2 554.5h.9v.9h-.9zM1298.5 564.4h.9v.9h-.9zM1302.5 560.0h.9v.9h-.9zM1304.6 558.2h.9v.9h-.9zM1296.6 571.6h.9v.9h-.9zM1296.5 562.3h.9v.9h-.9zM1301.2 559.7h.9v.9h-.9zM1299.7 562.8h.9v.9h-.9zM1301.2 555.9h.9v.9h-.9zM1298.8 566.5h.9v.9h-.9zM1301.9 556.7h.9v.9h-.9zM1299.0 553.7h.9v.9h-.9zM1293.1 556.2h.9v.9h-.9zM1305.8 555.7h.9v.9h-.9zM1290.1 558.5h.9v.9h-.9zM1295.7 563.0h.9v.9h-.9zM1304.2 557.3h.9v.9h-.9zM1299.3 554.3h.9v.9h-.9zM1304.0 555.2h.9v.9h-.9zM1298.9 571.8h.9v.9h-.9zM1294.7 560.0h.9v.9h-.9zM1298.5 561.6h.9v.9h-.9zM1300.8 567.0h.9v.9h-.9zM1300.9 562.3h.9v.9h-.9zM1293.4 561.2h.9v.9h-.9zM1292.9 565.6h.9v.9h-.9zM1298.5 564.3h.9v.9h-.9zM1296.6 560.3h.9v.9h-.9zM1299.1 562.0h.9v.9h-.9zM1298.3 555.9h.9v.9h-.9zM1297.1 555.6h.9v.9h-.9zM1294.7 552.6h.9v.9h-.9zM1292.4 569.2h.9v.9h-.9zM1295.5 553.1h.9v.9h-.9zM1303.1 560.6h.9v.9h-.9zM1298.2 565.2h.9v.9h-.9zM1306.9 554.5h.9v.9h-.9zM1305.0 562.1h.9v.9h-.9zM1303.9 556.2h.9v.9h-.9zM1306.1 565.3h.9v.9h-.9zM1287.4 565.9h.9v.9h-.9zM1304.7 551.7h.9v.9h-.9zM1300.2 558.1h.9v.9h-.9zM1299.7 554.5h.9v.9h-.9zM1301.6 563.0h.9v.9h-.9zM1298.3 558.7h.9v.9h-.9zM1291.2 562.0h.9v.9h-.9zM1293.2 559.2h.9v.9h-.9zM1295.3 573.1h.9v.9h-.9zM1298.8 567.3h.9v.9h-.9zM1298.6 558.9h.9v.9h-.9zM1302.0 558.9h.9v.9h-.9zM1309.0 558.1h.9v.9h-.9zM1305.9 552.7h.9v.9h-.9zM1294.8 562.6h.9v.9h-.9zM1292.7 569.6h.9v.9h-.9zM1301.1 559.5h.9v.9h-.9zM1306.6 556.3h.9v.9h-.9zM1295.5 545.1h.9v.9h-.9zM1290.2 557.5h.9v.9h-.9zM1289.6 563.2h.9v.9h-.9zM1303.1 561.5h.9v.9h-.9zM1291.6 554.4h.9v.9h-.9zM1292.7 562.9h.9v.9h-.9zM1303.3 557.8h.9v.9h-.9zM1299.0 560.3h.9v.9h-.9zM1302.0 554.2h.9v.9h-.9zM1294.5 563.3h.9v.9h-.9zM1301.0 561.7h.9v.9h-.9zM1299.0 563.2h.9v.9h-.9zM1300.9 555.8h.9v.9h-.9zM1306.3 564.9h.9v.9h-.9zM1297.7 558.5h.9v.9h-.9zM1295.6 551.5h.9v.9h-.9zM1294.1 551.3h.9v.9h-.9zM1295.8 560.8h.9v.9h-.9zM1298.5 551.3h.9v.9h-.9zM1297.9 555.6h.9v.9h-.9zM1293.9 565.0h.9v.9h-.9zM1294.1 564.0h.9v.9h-.9zM1291.3 560.6h.9v.9h-.9zM1295.6 564.3h.9v.9h-.9zM1300.5 554.8h.9v.9h-.9zM1301.6 566.0h.9v.9h-.9zM1304.6 567.1h.9v.9h-.9zM1297.2 570.8h.9v.9h-.9zM1296.2 558.3h.9v.9h-.9zM1291.9 557.9h.9v.9h-.9zM1292.3 559.7h.9v.9h-.9zM1291.0 569.2h.9v.9h-.9zM1302.4 567.7h.9v.9h-.9zM1304.0 560.0h.9v.9h-.9zM1300.9 560.2h.9v.9h-.9zM1290.4 552.7h.9v.9h-.9zM1297.0 564.2h.9v.9h-.9zM1292.6 560.1h.9v.9h-.9zM1296.2 563.1h.9v.9h-.9zM1302.2 553.4h.9v.9h-.9zM1293.7 567.1h.9v.9h-.9zM1303.5 559.0h.9v.9h-.9zM1302.5 559.4h.9v.9h-.9zM1300.9 557.0h.9v.9h-.9zM1301.2 568.2h.9v.9h-.9zM1305.3 566.0h.9v.9h-.9zM1299.4 564.4h.9v.9h-.9zM1296.9 557.5h.9v.9h-.9zM1299.5 553.2h.9v.9h-.9zM1299.7 549.7h.9v.9h-.9zM1306.1 563.7h.9v.9h-.9z"/>
<path fill="#333" d="M810.8 798.8h.9v.9h-.9zM809.7 796.1h.9v.9h-.9zM811.0 798.9h.9v.9h-.9zM816.0 793.8h.9v.9h-.9zM824.2 782.8h.9v.9h-.9zM810.3 803.5h.9v.9h-.9zM808.8 795.1h.9v.9h-.9zM809.7 802.6h.9v.9h-.9zM817.0 791.1h.9v.9h-.9zM811.2 795.6h.9v.9h-.9zM815.9 796.3h.9v.9h-.9zM810.7 804.5h.9v.9h-.9zM808.0 800.0h.9v.9h-.9zM805.2 797.1h.9v.9h-.9zM798.5 794.1h.9v.9h-.9zM806.6 795.0h.9v.9h-.9zM821.8 786.7h.9v.9h-.9zM796.8 799.7h.9v.9h-.9zM813.0 799.3h.9v.9h-.9zM816.1 809.4h.9v.9h-.9zM806.8 791.6h.9v.9h-.9zM808.5 804.7h.9v.9h-.9zM811.9 797.5h.9v.9h-.9zM811.3 800.0h.9v.9h-.9zM799.7 800.9h.9v.9h-.9zM804.8 797.3h.9v.9h-.9zM806.5 799.0h.9v.9h-.9zM814.9 797.5h.9v.9h-.9zM810.4 803.3h.9v.9h-.9zM812.2 795.1h.9v.9h-.9zM814.1 796.5h.9v.9h-.9zM808.0 799.7h.9v.9h-.9zM818.2 794.1h.9v.9h-.9zM807.3 799.4h.9v.9h-.9zM804.7 799.2h.9v.9h-.9zM816.8 789.3h.9v.9h-.9zM809.7 794.9h.9v.9h-.9zM821.3 801.7h.9v.9h-.9zM813.0 798.0h.9v.9h-.9zM803.7 799.0h.9v.9h-.9zM811.6 798.8h.9v.9h-.9zM819.8 802.6h.9v.9h-.9zM804.4 796.6h.9v.9h-.9zM811.3 792.4h.9v.9h-.9zM808.5 795.4h.9v.9h-.9zM810.6 799.3h.9v.9h-.9zM806.0 805.3h.9v.9h-.9zM806.3 802.2h.9v.9h-.9zM803.7 793.7h.9v.9h-.9zM806.1 796.6h.9v.9h-.9zM814.3 790.9h.9v.9h-.9zM819.1 792.4h.9v.9h-.9zM818.1 799.7h.9v.9h-.9zM806.8 803.0h.9v.9h-.9zM807.0 798.7h.9v.9h-.9zM810.1 813.6h.9v.9h-.9zM804.1 808.6h.9v.9h-.9zM808.1 795.0h.9v.9h-.9zM806.9 805.2h.9v.9h-.9zM808.5 794.6h.9v.9h-.9zM813.2 800.1h.9v.9h-.9zM815.7 792.8h.9v.9h-.9zM818.1 805.0h.9v.9h-.9zM805.6 796.9h.9v.9h-.9zM812.3 797.4h.9v.9h-.9zM814.1 801.7h.9v.9h-.9zM809.5 792.7h.9v.9h-.9zM798.1 800.1h.9v.9h-.9zM802.4 804.4h.9v.9h-.9zM819.6 799.3h.9v.9h-.9zM814.5 805.1h.9v.9h-.9zM814.2 792.8h.9v.9h-.9zM803.9 796.0h.9v.9h-.9zM810.0 794.2h.9v.9h-.9zM810.7 805.3h.9v.9h-.9zM807.3 798.7h.9v.9h-.9zM803.9 797.9h.9v.9h-.9zM814.8 805.5h.9v.9h-.9zM810.9 794.5h.9v.9h-.9zM820.8 787.9h.9v.9h-.9zM807.0 794.6h.9v.9h-.9zM809.6 801.6h.9v.9h-.9zM807.1 817.2h.9v.9h-.9zM821.4 803.1h.9v.9h-.9zM806.9 790.7h.9v.9h-.9zM816.4 803.2h.9v.9h-.9zM812.3 806.2h.9v.9h-.9zM812.4 791.3h.9v.9h-.9zM798.9 796.7h.9v.9h-.9zM810.4 801.9h.9v.9h-.9zM811.2 797.7h.9v.9h-.9zM805.0 801.6h.9v.9h-.9zM813.8 795.6h.9v.9h-.9zM804.1 796.5h.9v.9h-.9zM803.8 799.8h.9v.9h-.9zM802.7 800.3h.9v.9h-.9zM804.7 801.2h.9v.9h-.9zM823.4 792.8h.9v.9h-.9zM810.2 811.1h.9v.9h-.9zM814.9 799.7h.9v.9h-.9zM812.7 797.2h.9v.9h-.9zM801.4 785.0h.9v.9h-.9zM805.3 795.4h.9v.9h-.9zM815.9 800.0h.9v.9h-.9zM800.5 801.0h.9v.9h-.9zM802.3 804.8h.9v.9h-.9zM803.5 803.0h.9v.9h-.9zM810.2 796.0h.9v.9h-.9zM815.8 797.4h.9v.9h-.9zM795.4 800.7h.9v.9h-.9zM804.0 796.4h.9v.9h-.9zM810.9 802.4h.9v.9h-.9zM810.4 793.1h.9v.9h-.9zM805.4 792.5h.9v.9h-.9zM808.0 795.0h.9v.9h-.9zM813.9 794.9h.9v.9h-.9zM815.0 808.0h.9v.9h-.9zM812.3 797.5h.9v.9h-.9zM816.3 794.0h.9v.9h-.9zM809.1 805.5h.9v.9h-.9zM812.8 797.6h.9v.9h-.9zM807.8 795.9h.9v.9h-.9zM818.0 808.9h.9v.9h-.9zM818.0 798.8h.9v.9h-.9zM811.4 794.2h.9v.9h-.9zM803.2 802.0h.9v.9h-.9zM813.3 791.8h.9v.9h-.9zM802.4 800.3h.9v.9h-.9zM801.8 804.2h.9v.9h-.9zM816.4 792.7h.9v.9h-.9zM807.7 803.4h.9v.9h-.9zM815.3 798.4h.9v.9h-.9zM808.7 797.1h.9v.9h-.9zM812.7 801.6h.9v.9h-.9zM808.2 795.8h.9v.9h-.9zM808.8 797.4h.9v.9h-.9zM806.9 791.7h.9v.9h-.9zM809.8 802.7h.9v.9h-.9zM810.0 804.8h.9v.9h-.9zM811.6 802.4h.9v.9h-.9zM814.3 787.9h.9v.9h-.9zM813.5 804.1h.9v.9h-.9zM802.7 788.7h.9v.9h-.9zM803.7 796.7h.9v.9h-.9zM811.3 790.3h.9v.9h-.9zM808.2 792.2h.9v.9h-.9zM810.6 797.6h.9v.9h-.9zM810.4 795.5h.9v.9h-.9zM806.7 803.0h.9v.9h-.9zM802.7 798.2h.9v.9h-.9z"/>
<ellipse cx="974.5" cy="797" rx="5" ry="4.2" transform="rotate(-25 974.5 797)" fill="#fff" stroke="#444" stroke-width="0.75"/>
<ellipse cx="975" cy="796.7" rx="2.5" ry="2.1" transform="rotate(-25 974.5 797)" fill="none" stroke="#777" stroke-width="0.6"/>
<path fill="#333" d="M970.4 802.2h.9v.9h-.9zM969.3 800.3h.9v.9h-.9zM967.7 801.7h.9v.9h-.9zM974.1 805.5h.9v.9h-.9zM974.3 791.8h.9v.9h-.9zM977.9 782.4h.9v.9h-.9zM974.2 809.7h.9v.9h-.9zM977.4 788.7h.9v.9h-.9zM980.5 798.1h.9v.9h-.9zM975.3 802.1h.9v.9h-.9zM974.0 807.6h.9v.9h-.9zM971.2 802.1h.9v.9h-.9zM966.2 785.6h.9v.9h-.9zM984.8 795.1h.9v.9h-.9zM976.2 789.9h.9v.9h-.9zM972.5 803.3h.9v.9h-.9zM982.3 800.7h.9v.9h-.9zM978.0 791.2h.9v.9h-.9zM979.9 793.7h.9v.9h-.9zM976.2 790.7h.9v.9h-.9zM969.6 792.4h.9v.9h-.9zM975.1 803.1h.9v.9h-.9zM969.8 802.5h.9v.9h-.9zM971.5 791.9h.9v.9h-.9zM971.7 803.5h.9v.9h-.9zM983.7 793.9h.9v.9h-.9zM968.8 787.8h.9v.9h-.9zM982.2 797.5h.9v.9h-.9zM969.4 783.9h.9v.9h-.9zM962.3 794.9h.9v.9h-.9zM965.8 799.2h.9v.9h-.9zM968.3 785.2h.9v.9h-.9zM975.7 803.1h.9v.9h-.9zM964.9 801.6h.9v.9h-.9zM975.4 809.4h.9v.9h-.9zM978.7 792.5h.9v.9h-.9zM969.4 787.3h.9v.9h-.9zM967.7 797.0h.9v.9h-.9zM967.3 798.4h.9v.9h-.9zM968.1 796.9h.9v.9h-.9zM981.3 801.1h.9v.9h-.9zM970.2 788.6h.9v.9h-.9zM972.1 803.2h.9v.9h-.9zM977.6 787.9h.9v.9h-.9zM978.6 805.3h.9v.9h-.9zM970.0 800.4h.9v.9h-.9zM975.5 803.5h.9v.9h-.9zM973.0 788.7h.9v.9h-.9zM975.5 802.9h.9v.9h-.9zM982.6 794.5h.9v.9h-.9zM975.6 804.0h.9v.9h-.9zM980.6 787.3h.9v.9h-.9zM970.4 789.7h.9v.9h-.9zM973.9 783.7h.9v.9h-.9zM966.9 796.3h.9v.9h-.9zM976.5 790.2h.9v.9h-.9zM975.9 804.8h.9v.9h-.9zM969.4 804.7h.9v.9h-.9zM974.4 783.9h.9v.9h-.9zM982.6 792.9h.9v.9h-.9zM984.6 796.8h.9v.9h-.9zM977.5 804.6h.9v.9h-.9zM976.2 803.2h.9v.9h-.9zM979.4 804.3h.9v.9h-.9zM976.3 786.9h.9v.9h-.9zM966.5 802.0h.9v.9h-.9zM982.7 804.9h.9v.9h-.9zM974.3 791.2h.9v.9h-.9zM986.4 804.1h.9v.9h-.9zM966.3 802.6h.9v.9h-.9zM969.8 793.6h.9v.9h-.9zM973.7 789.4h.9v.9h-.9zM991.5 802.2h.9v.9h-.9zM969.9 804.1h.9v.9h-.9zM962.3 804.7h.9v.9h-.9zM978.0 791.7h.9v.9h-.9zM967.9 792.9h.9v.9h-.9zM979.9 792.7h.9v.9h-.9zM960.4 793.3h.9v.9h-.9zM971.5 804.6h.9v.9h-.9zM978.0 802.1h.9v.9h-.9zM973.0 805.1h.9v.9h-.9zM969.9 784.4h.9v.9h-.9zM970.0 811.3h.9v.9h-.9zM966.2 800.3h.9v.9h-.9zM983.5 802.0h.9v.9h-.9zM971.7 805.1h.9v.9h-.9zM983.7 793.9h.9v.9h-.9zM978.8 793.1h.9v.9h-.9zM980.2 795.1h.9v.9h-.9zM980.6 795.5h.9v.9h-.9zM979.5 800.1h.9v.9h-.9zM988.6 792.8h.9v.9h-.9zM979.6 794.3h.9v.9h-.9zM975.6 787.2h.9v.9h-.9zM981.6 783.2h.9v.9h-.9zM979.2 788.1h.9v.9h-.9zM977.1 806.3h.9v.9h-.9zM981.9 802.7h.9v.9h-.9zM974.4 803.3h.9v.9h-.9zM978.7 801.2h.9v.9h-.9zM961.9 798.4h.9v.9h-.9zM964.1 806.7h.9v.9h-.9zM968.8 788.9h.9v.9h-.9zM982.8 792.4h.9v.9h-.9zM973.4 811.2h.9v.9h-.9zM984.2 790.3h.9v.9h-.9zM969.5 806.0h.9v.9h-.9zM975.8 791.1h.9v.9h-.9zM971.4 802.7h.9v.9h-.9zM995.1 800.1h.9v.9h-.9zM969.8 800.4h.9v.9h-.9zM968.8 793.1h.9v.9h-.9zM972.3 790.0h.9v.9h-.9zM974.1 802.7h.9v.9h-.9zM980.9 796.4h.9v.9h-.9zM981.6 805.4h.9v.9h-.9zM972.2 802.8h.9v.9h-.9zM968.6 789.9h.9v.9h-.9zM974.7 803.2h.9v.9h-.9z"/>
<ellipse cx="1136.7" cy="796.8" rx="6" ry="4.8" transform="rotate(-25 1136.7 796.8)" fill="#fff" stroke="#444" stroke-width="0.75"/>
<ellipse cx="1137.2" cy="796.5" rx="3" ry="2.4" transform="rotate(-25 1136.7 796.8)" fill="none" stroke="#777" stroke-width="0.6"/>
<path fill="#333" d="M1125.9 795.2h.9v.9h-.9zM1137.6 786.7h.9v.9h-.9zM1144.9 783.9h.9v.9h-.9zM1119.1 810.4h.9v.9h-.9zM1146.9 801.3h.9v.9h-.9zM1134.6 788.8h.9v.9h-.9zM1124.7 793.5h.9v.9h-.9zM1149.1 804.4h.9v.9h-.9zM1116.9 800.3h.9v.9h-.9zM1143.6 806.0h.9v.9h-.9zM1141.9 783.3h.9v.9h-.9zM1146.2 800.3h.9v.9h-.9zM1127.4 809.8h.9v.9h-.9zM1129.4 804.7h.9v.9h-.9zM1122.6 791.1h.9v.9h-.9zM1135.6 808.2h.9v.9h-.9zM1139.6 805.1h.9v.9h-.9zM1129.5 794.0h.9v.9h-.9zM1142.7 803.7h.9v.9h-.9zM1130.2 809.2h.9v.9h-.9zM1146.7 797.5h.9v.9h-.9zM1132.8 802.8h.9v.9h-.9zM1135.5 805.9h.9v.9h-.9zM1152.4 805.5h.9v.9h-.9zM1128.3 792.9h.9v.9h-.9zM1128.7 802.8h.9v.9h-.9zM1144.5 794.6h.9v.9h-.9zM1140.8 790.0h.9v.9h-.9zM1141.3 783.0h.9v.9h-.9zM1138.2 784.5h.9v.9h-.9zM1133.3 791.3h.9v.9h-.9zM1135.6 789.4h.9v.9h-.9zM1131.3 801.5h.9v.9h-.9zM1129.9 794.2h.9v.9h-.9zM1121.9 802.6h.9v.9h-.9zM1136.4 788.4h.9v.9h-.9zM1125.5 803.2h.9v.9h-.9zM1133.0 804.3h.9v.9h-.9zM1143.6 793.3h.9v.9h-.9zM1146.8 796.7h.9v.9h-.9zM1134.9 802.6h.9v.9h-.9zM1130.6 792.5h.9v.9h-.9zM1128.4 792.2h.9v.9h-.9zM1137.3 789.7h.9v.9h-.9zM1130.0 799.4h.9v.9h-.9zM1130.1 795.1h.9v.9h-.9zM1147.9 795.9h.9v.9h-.9zM1126.9 799.0h.9v.9h-.9zM1127.5 795.7h.9v.9h-.9zM1143.4 798.1h.9v.9h-.9zM1143.6 791.8h.9v.9h-.9zM1146.3 790.1h.9v.9h-.9zM1144.0 798.1h.9v.9h-.9zM1129.8 786.6h.9v.9h-.9zM1138.4 790.2h.9v.9h-.9zM1143.7 799.7h.9v.9h-.9zM1139.5 804.3h.9v.9h-.9zM1136.0 802.8h.9v.9h-.9zM1126.0 793.5h.9v.9h-.9zM1146.7 797.3h.9v.9h-.9zM1131.3 806.1h.9v.9h-.9zM1134.3 802.1h.9v.9h-.9zM1138.5 802.7h.9v.9h-.9zM1140.6 815.1h.9v.9h-.9zM1135.0 803.5h.9v.9h-.9zM1126.7 795.2h.9v.9h-.9zM1141.1 803.7h.9v.9h-.9zM1140.5 803.7h.9v.9h-.9zM1132.3 807.5h.9v.9h-.9zM1147.7 785.7h.9v.9h-.9zM1129.8 801.8h.9v.9h-.9zM1141.3 805.7h.9v.9h-.9zM1137.8 790.0h.9v.9h-.9zM1132.3 806.7h.9v.9h-.9zM1136.7 785.2h.9v.9h-.9zM1143.4 810.0h.9v.9h-.9zM1137.2 791.1h.9v.9h-.9zM1146.3 794.4h.9v.9h-.9zM1132.4 808.9h.9v.9h-.9zM1143.1 793.1h.9v.9h-.9z"/>
<ellipse cx="1299.5" cy="797.3" rx="5.5" ry="4.6" transform="rotate(-25 1299.5 797.3)" fill="#fff" stroke="#444" stroke-width="0.75"/>
<ellipse cx="1300" cy="797" rx="2.75" ry="2.3" transform="rotate(-25 1299.5 797.3)" fill="none" stroke="#777" stroke-width="0.6"/>
<path fill="#333" d="M1303.2 806.0h.9v.9h-.9zM1292.5 797.8h.9v.9h-.9zM1292.9 798.2h.9v.9h-.9zM1297.6 791.9h.9v.9h-.9zM1294.7 787.1h.9v.9h-.9zM1309.1 785.7h.9v.9h-.9zM1298.8 788.8h.9v.9h-.9zM1302.2 806.6h.9v.9h-.9zM1307.5 788.5h.9v.9h-.9zM1300.6 802.7h.9v.9h-.9zM1315.8 798.0h.9v.9h-.9zM1301.3 807.6h.9v.9h-.9zM1291.7 795.2h.9v.9h-.9zM1288.4 795.3h.9v.9h-.9zM1304.6 802.2h.9v.9h-.9zM1296.1 788.9h.9v.9h-.9zM1297.0 790.9h.9v.9h-.9zM1293.8 801.4h.9v.9h-.9zM1307.0 803.3h.9v.9h-.9zM1293.2 793.1h.9v.9h-.9zM1293.6 807.3h.9v.9h-.9zM1302.9 790.0h.9v.9h-.9zM1295.0 790.8h.9v.9h-.9zM1303.3 811.0h.9v.9h-.9zM1292.2 788.9h.9v.9h-.9zM1303.3 788.4h.9v.9h-.9zM1282.4 794.2h.9v.9h-.9zM1305.7 804.7h.9v.9h-.9zM1304.6 792.4h.9v.9h-.9zM1292.1 803.4h.9v.9h-.9zM1302.9 801.9h.9v.9h-.9zM1313.1 812.2h.9v.9h-.9zM1304.6 806.4h.9v.9h-.9zM1295.9 791.7h.9v.9h-.9zM1291.9 796.5h.9v.9h-.9zM1300.7 786.2h.9v.9h-.9zM1294.1 800.4h.9v.9h-.9zM1294.3 792.6h.9v.9h-.9zM1288.9 804.0h.9v.9h-.9zM1304.4 807.4h.9v.9h-.9zM1308.9 794.5h.9v.9h-.9zM1306.0 784.0h.9v.9h-.9zM1300.0 786.7h.9v.9h-.9zM1306.7 796.0h.9v.9h-.9zM1309.7 803.0h.9v.9h-.9zM1296.1 786.3h.9v.9h-.9zM1295.6 805.1h.9v.9h-.9zM1308.3 793.3h.9v.9h-.9zM1294.6 801.3h.9v.9h-.9zM1289.7 796.4h.9v.9h-.9zM1309.1 792.0h.9v.9h-.9zM1296.6 791.1h.9v.9h-.9zM1308.5 805.1h.9v.9h-.9zM1304.5 787.4h.9v.9h-.9zM1296.4 784.5h.9v.9h-.9zM1310.6 786.9h.9v.9h-.9zM1308.1 812.4h.9v.9h-.9zM1291.2 795.1h.9v.9h-.9zM1286.6 794.7h.9v.9h-.9zM1301.3 784.6h.9v.9h-.9zM1296.6 790.9h.9v.9h-.9zM1308.1 798.5h.9v.9h-.9zM1291.5 803.8h.9v.9h-.9zM1297.7 789.0h.9v.9h-.9zM1305.0 804.5h.9v.9h-.9zM1298.2 790.4h.9v.9h-.9zM1305.8 798.0h.9v.9h-.9zM1305.9 793.8h.9v.9h-.9zM1291.1 790.2h.9v.9h-.9zM1291.3 796.9h.9v.9h-.9zM1294.6 816.9h.9v.9h-.9zM1296.4 811.4h.9v.9h-.9zM1308.3 798.2h.9v.9h-.9zM1304.8 791.2h.9v.9h-.9zM1318.4 795.8h.9v.9h-.9zM1300.0 804.0h.9v.9h-.9zM1305.2 785.8h.9v.9h-.9zM1306.9 798.8h.9v.9h-.9zM1297.1 790.3h.9v.9h-.9zM1302.1 807.9h.9v.9h-.9zM1302.5 792.4h.9v.9h-.9zM1307.8 793.2h.9v.9h-.9zM1287.1 794.0h.9v.9h-.9zM1314.0 789.6h.9v.9h-.9zM1306.2 795.8h.9v.9h-.9zM1308.7 788.6h.9v.9h-.9zM1302.6 802.1h.9v.9h-.9zM1305.9 807.0h.9v.9h-.9zM1301.8 805.6h.9v.9h-.9zM1307.2 805.7h.9v.9h-.9zM1302.6 782.1h.9v.9h-.9zM1307.9 800.6h.9v.9h-.9zM1298.7 791.4h.9v.9h-.9zM1297.5 792.0h.9v.9h-.9zM1289.4 790.9h.9v.9h-.9zM1302.0 792.1h.9v.9h-.9zM1298.7 813.3h.9v.9h-.9zM1300.2 804.6h.9v.9h-.9zM1290.7 799.4h.9v.9h-.9zM1303.5 791.1h.9v.9h-.9z"/>
<rect x="740.3" y="517.5" width="145" height="144.6" fill="none" stroke="#7a7a7a" stroke-width="1.2"/>
<rect x="780.4" y="528.5" width="60.2" height="58" fill="none" stroke="#333" stroke-width="1.3"/>
<line x1="737" y1="530.6" x2="740.3" y2="530.6" stroke="#333" stroke-width="1" stroke-linecap="butt"/>
<line x1="737" y1="565.2" x2="740.3" y2="565.2" stroke="#333" stroke-width="1" stroke-linecap="butt"/>
<line x1="737" y1="605" x2="740.3" y2="605" stroke="#333" stroke-width="1" stroke-linecap="butt"/>
<line x1="737" y1="628.7" x2="740.3" y2="628.7" stroke="#333" stroke-width="1" stroke-linecap="butt"/>
<line x1="737" y1="652.7" x2="740.3" y2="652.7" stroke="#333" stroke-width="1" stroke-linecap="butt"/>
<line x1="738.5" y1="535.5" x2="740.3" y2="535.5" stroke="#888" stroke-width="0.7" stroke-linecap="butt"/>
<line x1="738.5" y1="540.5" x2="740.3" y2="540.5" stroke="#888" stroke-width="0.7" stroke-linecap="butt"/>
<line x1="738.5" y1="545.5" x2="740.3" y2="545.5" stroke="#888" stroke-width="0.7" stroke-linecap="butt"/>
<line x1="738.5" y1="550.5" x2="740.3" y2="550.5" stroke="#888" stroke-width="0.7" stroke-linecap="butt"/>
<line x1="738.5" y1="555.5" x2="740.3" y2="555.5" stroke="#888" stroke-width="0.7" stroke-linecap="butt"/>
<line x1="738.5" y1="570.5" x2="740.3" y2="570.5" stroke="#888" stroke-width="0.7" stroke-linecap="butt"/>
<line x1="738.5" y1="575.5" x2="740.3" y2="575.5" stroke="#888" stroke-width="0.7" stroke-linecap="butt"/>
<line x1="738.5" y1="580.5" x2="740.3" y2="580.5" stroke="#888" stroke-width="0.7" stroke-linecap="butt"/>
<line x1="738.5" y1="585.5" x2="740.3" y2="585.5" stroke="#888" stroke-width="0.7" stroke-linecap="butt"/>
<line x1="738.5" y1="590.5" x2="740.3" y2="590.5" stroke="#888" stroke-width="0.7" stroke-linecap="butt"/>
<line x1="738.5" y1="595.5" x2="740.3" y2="595.5" stroke="#888" stroke-width="0.7" stroke-linecap="butt"/>
<line x1="738.5" y1="600.5" x2="740.3" y2="600.5" stroke="#888" stroke-width="0.7" stroke-linecap="butt"/>
<line x1="738.5" y1="609.5" x2="740.3" y2="609.5" stroke="#888" stroke-width="0.7" stroke-linecap="butt"/>
<line x1="738.5" y1="614.5" x2="740.3" y2="614.5" stroke="#888" stroke-width="0.7" stroke-linecap="butt"/>
<line x1="738.5" y1="619.5" x2="740.3" y2="619.5" stroke="#888" stroke-width="0.7" stroke-linecap="butt"/>
<line x1="738.5" y1="623.5" x2="740.3" y2="623.5" stroke="#888" stroke-width="0.7" stroke-linecap="butt"/>
<line x1="738.5" y1="633.5" x2="740.3" y2="633.5" stroke="#888" stroke-width="0.7" stroke-linecap="butt"/>
<line x1="738.5" y1="638.5" x2="740.3" y2="638.5" stroke="#888" stroke-width="0.7" stroke-linecap="butt"/>
<line x1="738.5" y1="643.5" x2="740.3" y2="643.5" stroke="#888" stroke-width="0.7" stroke-linecap="butt"/>
<line x1="738.5" y1="647.5" x2="740.3" y2="647.5" stroke="#888" stroke-width="0.7" stroke-linecap="butt"/>
<line x1="738.5" y1="657.5" x2="740.3" y2="657.5" stroke="#888" stroke-width="0.7" stroke-linecap="butt"/>
<line x1="789.6" y1="662.1" x2="789.6" y2="665.4" stroke="#333" stroke-width="1" stroke-linecap="butt"/>
<line x1="819.1" y1="662.1" x2="819.1" y2="665.4" stroke="#333" stroke-width="1" stroke-linecap="butt"/>
<line x1="846.5" y1="662.1" x2="846.5" y2="665.4" stroke="#333" stroke-width="1" stroke-linecap="butt"/>
<line x1="873.8" y1="662.1" x2="873.8" y2="665.4" stroke="#333" stroke-width="1" stroke-linecap="butt"/>
<rect x="758.8" y="662.1" width="8" height="3.2" fill="#1a1a1a"/>
<rect x="736.9" y="627" width="3.4" height="5.5" fill="#1a1a1a"/>
<line x1="745.3" y1="662.1" x2="745.3" y2="663.9" stroke="#888" stroke-width="0.7" stroke-linecap="butt"/>
<line x1="749.3" y1="662.1" x2="749.3" y2="663.9" stroke="#888" stroke-width="0.7" stroke-linecap="butt"/>
<line x1="753.3" y1="662.1" x2="753.3" y2="663.9" stroke="#888" stroke-width="0.7" stroke-linecap="butt"/>
<line x1="770.3" y1="662.1" x2="770.3" y2="663.9" stroke="#888" stroke-width="0.7" stroke-linecap="butt"/>
<line x1="775.3" y1="662.1" x2="775.3" y2="663.9" stroke="#888" stroke-width="0.7" stroke-linecap="butt"/>
<line x1="779.3" y1="662.1" x2="779.3" y2="663.9" stroke="#888" stroke-width="0.7" stroke-linecap="butt"/>
<line x1="782.3" y1="662.1" x2="782.3" y2="663.9" stroke="#888" stroke-width="0.7" stroke-linecap="butt"/>
<line x1="785.3" y1="662.1" x2="785.3" y2="663.9" stroke="#888" stroke-width="0.7" stroke-linecap="butt"/>
<line x1="787.3" y1="662.1" x2="787.3" y2="663.9" stroke="#888" stroke-width="0.7" stroke-linecap="butt"/>
<line x1="795.3" y1="662.1" x2="795.3" y2="663.9" stroke="#888" stroke-width="0.7" stroke-linecap="butt"/>
<line x1="802.3" y1="662.1" x2="802.3" y2="663.9" stroke="#888" stroke-width="0.7" stroke-linecap="butt"/>
<line x1="807.3" y1="662.1" x2="807.3" y2="663.9" stroke="#888" stroke-width="0.7" stroke-linecap="butt"/>
<line x1="811.3" y1="662.1" x2="811.3" y2="663.9" stroke="#888" stroke-width="0.7" stroke-linecap="butt"/>
<line x1="814.3" y1="662.1" x2="814.3" y2="663.9" stroke="#888" stroke-width="0.7" stroke-linecap="butt"/>
<line x1="816.3" y1="662.1" x2="816.3" y2="663.9" stroke="#888" stroke-width="0.7" stroke-linecap="butt"/>
<line x1="824.3" y1="662.1" x2="824.3" y2="663.9" stroke="#888" stroke-width="0.7" stroke-linecap="butt"/>
<line x1="831.3" y1="662.1" x2="831.3" y2="663.9" stroke="#888" stroke-width="0.7" stroke-linecap="butt"/>
<line x1="836.3" y1="662.1" x2="836.3" y2="663.9" stroke="#888" stroke-width="0.7" stroke-linecap="butt"/>
<line x1="840.3" y1="662.1" x2="840.3" y2="663.9" stroke="#888" stroke-width="0.7" stroke-linecap="butt"/>
<line x1="843.3" y1="662.1" x2="843.3" y2="663.9" stroke="#888" stroke-width="0.7" stroke-linecap="butt"/>
<line x1="850.3" y1="662.1" x2="850.3" y2="663.9" stroke="#888" stroke-width="0.7" stroke-linecap="butt"/>
<line x1="857.3" y1="662.1" x2="857.3" y2="663.9" stroke="#888" stroke-width="0.7" stroke-linecap="butt"/>
<line x1="863.3" y1="662.1" x2="863.3" y2="663.9" stroke="#888" stroke-width="0.7" stroke-linecap="butt"/>
<line x1="867.3" y1="662.1" x2="867.3" y2="663.9" stroke="#888" stroke-width="0.7" stroke-linecap="butt"/>
<line x1="870.3" y1="662.1" x2="870.3" y2="663.9" stroke="#888" stroke-width="0.7" stroke-linecap="butt"/>
<line x1="878.3" y1="662.1" x2="878.3" y2="663.9" stroke="#888" stroke-width="0.7" stroke-linecap="butt"/>
<rect x="903.3" y="517.5" width="145" height="144.6" fill="none" stroke="#7a7a7a" stroke-width="1.2"/>
<rect x="943.4" y="528.5" width="60.2" height="58" fill="none" stroke="#333" stroke-width="1.3"/>
<line x1="900" y1="530.6" x2="903.3" y2="530.6" stroke="#333" stroke-width="1" stroke-linecap="butt"/>
<line x1="900" y1="565.2" x2="903.3" y2="565.2" stroke="#333" stroke-width="1" stroke-linecap="butt"/>
<line x1="900" y1="605" x2="903.3" y2="605" stroke="#333" stroke-width="1" stroke-linecap="butt"/>
<line x1="900" y1="628.7" x2="903.3" y2="628.7" stroke="#333" stroke-width="1" stroke-linecap="butt"/>
<line x1="900" y1="652.7" x2="903.3" y2="652.7" stroke="#333" stroke-width="1" stroke-linecap="butt"/>
<line x1="901.5" y1="535.5" x2="903.3" y2="535.5" stroke="#888" stroke-width="0.7" stroke-linecap="butt"/>
<line x1="901.5" y1="540.5" x2="903.3" y2="540.5" stroke="#888" stroke-width="0.7" stroke-linecap="butt"/>
<line x1="901.5" y1="545.5" x2="903.3" y2="545.5" stroke="#888" stroke-width="0.7" stroke-linecap="butt"/>
<line x1="901.5" y1="550.5" x2="903.3" y2="550.5" stroke="#888" stroke-width="0.7" stroke-linecap="butt"/>
<line x1="901.5" y1="555.5" x2="903.3" y2="555.5" stroke="#888" stroke-width="0.7" stroke-linecap="butt"/>
<line x1="901.5" y1="570.5" x2="903.3" y2="570.5" stroke="#888" stroke-width="0.7" stroke-linecap="butt"/>
<line x1="901.5" y1="575.5" x2="903.3" y2="575.5" stroke="#888" stroke-width="0.7" stroke-linecap="butt"/>
<line x1="901.5" y1="580.5" x2="903.3" y2="580.5" stroke="#888" stroke-width="0.7" stroke-linecap="butt"/>
<line x1="901.5" y1="585.5" x2="903.3" y2="585.5" stroke="#888" stroke-width="0.7" stroke-linecap="butt"/>
<line x1="901.5" y1="590.5" x2="903.3" y2="590.5" stroke="#888" stroke-width="0.7" stroke-linecap="butt"/>
<line x1="901.5" y1="595.5" x2="903.3" y2="595.5" stroke="#888" stroke-width="0.7" stroke-linecap="butt"/>
<line x1="901.5" y1="600.5" x2="903.3" y2="600.5" stroke="#888" stroke-width="0.7" stroke-linecap="butt"/>
<line x1="901.5" y1="609.5" x2="903.3" y2="609.5" stroke="#888" stroke-width="0.7" stroke-linecap="butt"/>
<line x1="901.5" y1="614.5" x2="903.3" y2="614.5" stroke="#888" stroke-width="0.7" stroke-linecap="butt"/>
<line x1="901.5" y1="619.5" x2="903.3" y2="619.5" stroke="#888" stroke-width="0.7" stroke-linecap="butt"/>
<line x1="901.5" y1="623.5" x2="903.3" y2="623.5" stroke="#888" stroke-width="0.7" stroke-linecap="butt"/>
<line x1="901.5" y1="633.5" x2="903.3" y2="633.5" stroke="#888" stroke-width="0.7" stroke-linecap="butt"/>
<line x1="901.5" y1="638.5" x2="903.3" y2="638.5" stroke="#888" stroke-width="0.7" stroke-linecap="butt"/>
<line x1="901.5" y1="643.5" x2="903.3" y2="643.5" stroke="#888" stroke-width="0.7" stroke-linecap="butt"/>
<line x1="901.5" y1="647.5" x2="903.3" y2="647.5" stroke="#888" stroke-width="0.7" stroke-linecap="butt"/>
<line x1="901.5" y1="657.5" x2="903.3" y2="657.5" stroke="#888" stroke-width="0.7" stroke-linecap="butt"/>
<line x1="952.6" y1="662.1" x2="952.6" y2="665.4" stroke="#333" stroke-width="1" stroke-linecap="butt"/>
<line x1="982.1" y1="662.1" x2="982.1" y2="665.4" stroke="#333" stroke-width="1" stroke-linecap="butt"/>
<line x1="1009.5" y1="662.1" x2="1009.5" y2="665.4" stroke="#333" stroke-width="1" stroke-linecap="butt"/>
<line x1="1036.8" y1="662.1" x2="1036.8" y2="665.4" stroke="#333" stroke-width="1" stroke-linecap="butt"/>
<rect x="921.8" y="662.1" width="8" height="3.2" fill="#1a1a1a"/>
<rect x="899.9" y="627" width="3.4" height="5.5" fill="#1a1a1a"/>
<line x1="908.3" y1="662.1" x2="908.3" y2="663.9" stroke="#888" stroke-width="0.7" stroke-linecap="butt"/>
<line x1="912.3" y1="662.1" x2="912.3" y2="663.9" stroke="#888" stroke-width="0.7" stroke-linecap="butt"/>
<line x1="916.3" y1="662.1" x2="916.3" y2="663.9" stroke="#888" stroke-width="0.7" stroke-linecap="butt"/>
<line x1="933.3" y1="662.1" x2="933.3" y2="663.9" stroke="#888" stroke-width="0.7" stroke-linecap="butt"/>
<line x1="938.3" y1="662.1" x2="938.3" y2="663.9" stroke="#888" stroke-width="0.7" stroke-linecap="butt"/>
<line x1="942.3" y1="662.1" x2="942.3" y2="663.9" stroke="#888" stroke-width="0.7" stroke-linecap="butt"/>
<line x1="945.3" y1="662.1" x2="945.3" y2="663.9" stroke="#888" stroke-width="0.7" stroke-linecap="butt"/>
<line x1="948.3" y1="662.1" x2="948.3" y2="663.9" stroke="#888" stroke-width="0.7" stroke-linecap="butt"/>
<line x1="950.3" y1="662.1" x2="950.3" y2="663.9" stroke="#888" stroke-width="0.7" stroke-linecap="butt"/>
<line x1="958.3" y1="662.1" x2="958.3" y2="663.9" stroke="#888" stroke-width="0.7" stroke-linecap="butt"/>
<line x1="965.3" y1="662.1" x2="965.3" y2="663.9" stroke="#888" stroke-width="0.7" stroke-linecap="butt"/>
<line x1="970.3" y1="662.1" x2="970.3" y2="663.9" stroke="#888" stroke-width="0.7" stroke-linecap="butt"/>
<line x1="974.3" y1="662.1" x2="974.3" y2="663.9" stroke="#888" stroke-width="0.7" stroke-linecap="butt"/>
<line x1="977.3" y1="662.1" x2="977.3" y2="663.9" stroke="#888" stroke-width="0.7" stroke-linecap="butt"/>
<line x1="979.3" y1="662.1" x2="979.3" y2="663.9" stroke="#888" stroke-width="0.7" stroke-linecap="butt"/>
<line x1="987.3" y1="662.1" x2="987.3" y2="663.9" stroke="#888" stroke-width="0.7" stroke-linecap="butt"/>
<line x1="994.3" y1="662.1" x2="994.3" y2="663.9" stroke="#888" stroke-width="0.7" stroke-linecap="butt"/>
<line x1="999.3" y1="662.1" x2="999.3" y2="663.9" stroke="#888" stroke-width="0.7" stroke-linecap="butt"/>
<line x1="1003.3" y1="662.1" x2="1003.3" y2="663.9" stroke="#888" stroke-width="0.7" stroke-linecap="butt"/>
<line x1="1006.3" y1="662.1" x2="1006.3" y2="663.9" stroke="#888" stroke-width="0.7" stroke-linecap="butt"/>
<line x1="1013.3" y1="662.1" x2="1013.3" y2="663.9" stroke="#888" stroke-width="0.7" stroke-linecap="butt"/>
<line x1="1020.3" y1="662.1" x2="1020.3" y2="663.9" stroke="#888" stroke-width="0.7" stroke-linecap="butt"/>
<line x1="1026.3" y1="662.1" x2="1026.3" y2="663.9" stroke="#888" stroke-width="0.7" stroke-linecap="butt"/>
<line x1="1030.3" y1="662.1" x2="1030.3" y2="663.9" stroke="#888" stroke-width="0.7" stroke-linecap="butt"/>
<line x1="1033.3" y1="662.1" x2="1033.3" y2="663.9" stroke="#888" stroke-width="0.7" stroke-linecap="butt"/>
<line x1="1041.3" y1="662.1" x2="1041.3" y2="663.9" stroke="#888" stroke-width="0.7" stroke-linecap="butt"/>
<rect x="1066.5" y="517.5" width="145" height="144.6" fill="none" stroke="#7a7a7a" stroke-width="1.2"/>
<rect x="1106.6" y="528.5" width="60.2" height="58" fill="none" stroke="#333" stroke-width="1.3"/>
<line x1="1063.2" y1="530.6" x2="1066.5" y2="530.6" stroke="#333" stroke-width="1" stroke-linecap="butt"/>
<line x1="1063.2" y1="565.2" x2="1066.5" y2="565.2" stroke="#333" stroke-width="1" stroke-linecap="butt"/>
<line x1="1063.2" y1="605" x2="1066.5" y2="605" stroke="#333" stroke-width="1" stroke-linecap="butt"/>
<line x1="1063.2" y1="628.7" x2="1066.5" y2="628.7" stroke="#333" stroke-width="1" stroke-linecap="butt"/>
<line x1="1063.2" y1="652.7" x2="1066.5" y2="652.7" stroke="#333" stroke-width="1" stroke-linecap="butt"/>
<line x1="1064.7" y1="535.5" x2="1066.5" y2="535.5" stroke="#888" stroke-width="0.7" stroke-linecap="butt"/>
<line x1="1064.7" y1="540.5" x2="1066.5" y2="540.5" stroke="#888" stroke-width="0.7" stroke-linecap="butt"/>
<line x1="1064.7" y1="545.5" x2="1066.5" y2="545.5" stroke="#888" stroke-width="0.7" stroke-linecap="butt"/>
<line x1="1064.7" y1="550.5" x2="1066.5" y2="550.5" stroke="#888" stroke-width="0.7" stroke-linecap="butt"/>
<line x1="1064.7" y1="555.5" x2="1066.5" y2="555.5" stroke="#888" stroke-width="0.7" stroke-linecap="butt"/>
<line x1="1064.7" y1="570.5" x2="1066.5" y2="570.5" stroke="#888" stroke-width="0.7" stroke-linecap="butt"/>
<line x1="1064.7" y1="575.5" x2="1066.5" y2="575.5" stroke="#888" stroke-width="0.7" stroke-linecap="butt"/>
<line x1="1064.7" y1="580.5" x2="1066.5" y2="580.5" stroke="#888" stroke-width="0.7" stroke-linecap="butt"/>
<line x1="1064.7" y1="585.5" x2="1066.5" y2="585.5" stroke="#888" stroke-width="0.7" stroke-linecap="butt"/>
<line x1="1064.7" y1="590.5" x2="1066.5" y2="590.5" stroke="#888" stroke-width="0.7" stroke-linecap="butt"/>
<line x1="1064.7" y1="595.5" x2="1066.5" y2="595.5" stroke="#888" stroke-width="0.7" stroke-linecap="butt"/>
<line x1="1064.7" y1="600.5" x2="1066.5" y2="600.5" stroke="#888" stroke-width="0.7" stroke-linecap="butt"/>
<line x1="1064.7" y1="609.5" x2="1066.5" y2="609.5" stroke="#888" stroke-width="0.7" stroke-linecap="butt"/>
<line x1="1064.7" y1="614.5" x2="1066.5" y2="614.5" stroke="#888" stroke-width="0.7" stroke-linecap="butt"/>
<line x1="1064.7" y1="619.5" x2="1066.5" y2="619.5" stroke="#888" stroke-width="0.7" stroke-linecap="butt"/>
<line x1="1064.7" y1="623.5" x2="1066.5" y2="623.5" stroke="#888" stroke-width="0.7" stroke-linecap="butt"/>
<line x1="1064.7" y1="633.5" x2="1066.5" y2="633.5" stroke="#888" stroke-width="0.7" stroke-linecap="butt"/>
<line x1="1064.7" y1="638.5" x2="1066.5" y2="638.5" stroke="#888" stroke-width="0.7" stroke-linecap="butt"/>
<line x1="1064.7" y1="643.5" x2="1066.5" y2="643.5" stroke="#888" stroke-width="0.7" stroke-linecap="butt"/>
<line x1="1064.7" y1="647.5" x2="1066.5" y2="647.5" stroke="#888" stroke-width="0.7" stroke-linecap="butt"/>
<line x1="1064.7" y1="657.5" x2="1066.5" y2="657.5" stroke="#888" stroke-width="0.7" stroke-linecap="butt"/>
<line x1="1115.8" y1="662.1" x2="1115.8" y2="665.4" stroke="#333" stroke-width="1" stroke-linecap="butt"/>
<line x1="1145.3" y1="662.1" x2="1145.3" y2="665.4" stroke="#333" stroke-width="1" stroke-linecap="butt"/>
<line x1="1172.7" y1="662.1" x2="1172.7" y2="665.4" stroke="#333" stroke-width="1" stroke-linecap="butt"/>
<line x1="1200" y1="662.1" x2="1200" y2="665.4" stroke="#333" stroke-width="1" stroke-linecap="butt"/>
<rect x="1085" y="662.1" width="8" height="3.2" fill="#1a1a1a"/>
<rect x="1063.1" y="627" width="3.4" height="5.5" fill="#1a1a1a"/>
<line x1="1071.5" y1="662.1" x2="1071.5" y2="663.9" stroke="#888" stroke-width="0.7" stroke-linecap="butt"/>
<line x1="1075.5" y1="662.1" x2="1075.5" y2="663.9" stroke="#888" stroke-width="0.7" stroke-linecap="butt"/>
<line x1="1079.5" y1="662.1" x2="1079.5" y2="663.9" stroke="#888" stroke-width="0.7" stroke-linecap="butt"/>
<line x1="1096.5" y1="662.1" x2="1096.5" y2="663.9" stroke="#888" stroke-width="0.7" stroke-linecap="butt"/>
<line x1="1101.5" y1="662.1" x2="1101.5" y2="663.9" stroke="#888" stroke-width="0.7" stroke-linecap="butt"/>
<line x1="1105.5" y1="662.1" x2="1105.5" y2="663.9" stroke="#888" stroke-width="0.7" stroke-linecap="butt"/>
<line x1="1108.5" y1="662.1" x2="1108.5" y2="663.9" stroke="#888" stroke-width="0.7" stroke-linecap="butt"/>
<line x1="1111.5" y1="662.1" x2="1111.5" y2="663.9" stroke="#888" stroke-width="0.7" stroke-linecap="butt"/>
<line x1="1113.5" y1="662.1" x2="1113.5" y2="663.9" stroke="#888" stroke-width="0.7" stroke-linecap="butt"/>
<line x1="1121.5" y1="662.1" x2="1121.5" y2="663.9" stroke="#888" stroke-width="0.7" stroke-linecap="butt"/>
<line x1="1128.5" y1="662.1" x2="1128.5" y2="663.9" stroke="#888" stroke-width="0.7" stroke-linecap="butt"/>
<line x1="1133.5" y1="662.1" x2="1133.5" y2="663.9" stroke="#888" stroke-width="0.7" stroke-linecap="butt"/>
<line x1="1137.5" y1="662.1" x2="1137.5" y2="663.9" stroke="#888" stroke-width="0.7" stroke-linecap="butt"/>
<line x1="1140.5" y1="662.1" x2="1140.5" y2="663.9" stroke="#888" stroke-width="0.7" stroke-linecap="butt"/>
<line x1="1142.5" y1="662.1" x2="1142.5" y2="663.9" stroke="#888" stroke-width="0.7" stroke-linecap="butt"/>
<line x1="1150.5" y1="662.1" x2="1150.5" y2="663.9" stroke="#888" stroke-width="0.7" stroke-linecap="butt"/>
<line x1="1157.5" y1="662.1" x2="1157.5" y2="663.9" stroke="#888" stroke-width="0.7" stroke-linecap="butt"/>
<line x1="1162.5" y1="662.1" x2="1162.5" y2="663.9" stroke="#888" stroke-width="0.7" stroke-linecap="butt"/>
<line x1="1166.5" y1="662.1" x2="1166.5" y2="663.9" stroke="#888" stroke-width="0.7" stroke-linecap="butt"/>
<line x1="1169.5" y1="662.1" x2="1169.5" y2="663.9" stroke="#888" stroke-width="0.7" stroke-linecap="butt"/>
<line x1="1176.5" y1="662.1" x2="1176.5" y2="663.9" stroke="#888" stroke-width="0.7" stroke-linecap="butt"/>
<line x1="1183.5" y1="662.1" x2="1183.5" y2="663.9" stroke="#888" stroke-width="0.7" stroke-linecap="butt"/>
<line x1="1189.5" y1="662.1" x2="1189.5" y2="663.9" stroke="#888" stroke-width="0.7" stroke-linecap="butt"/>
<line x1="1193.5" y1="662.1" x2="1193.5" y2="663.9" stroke="#888" stroke-width="0.7" stroke-linecap="butt"/>
<line x1="1196.5" y1="662.1" x2="1196.5" y2="663.9" stroke="#888" stroke-width="0.7" stroke-linecap="butt"/>
<line x1="1204.5" y1="662.1" x2="1204.5" y2="663.9" stroke="#888" stroke-width="0.7" stroke-linecap="butt"/>
<rect x="1229.4" y="517.5" width="145" height="144.6" fill="none" stroke="#7a7a7a" stroke-width="1.2"/>
<rect x="1269.5" y="528.5" width="60.2" height="58" fill="none" stroke="#333" stroke-width="1.3"/>
<line x1="1226.1" y1="530.6" x2="1229.4" y2="530.6" stroke="#333" stroke-width="1" stroke-linecap="butt"/>
<line x1="1226.1" y1="565.2" x2="1229.4" y2="565.2" stroke="#333" stroke-width="1" stroke-linecap="butt"/>
<line x1="1226.1" y1="605" x2="1229.4" y2="605" stroke="#333" stroke-width="1" stroke-linecap="butt"/>
<line x1="1226.1" y1="628.7" x2="1229.4" y2="628.7" stroke="#333" stroke-width="1" stroke-linecap="butt"/>
<line x1="1226.1" y1="652.7" x2="1229.4" y2="652.7" stroke="#333" stroke-width="1" stroke-linecap="butt"/>
<line x1="1227.6" y1="535.5" x2="1229.4" y2="535.5" stroke="#888" stroke-width="0.7" stroke-linecap="butt"/>
<line x1="1227.6" y1="540.5" x2="1229.4" y2="540.5" stroke="#888" stroke-width="0.7" stroke-linecap="butt"/>
<line x1="1227.6" y1="545.5" x2="1229.4" y2="545.5" stroke="#888" stroke-width="0.7" stroke-linecap="butt"/>
<line x1="1227.6" y1="550.5" x2="1229.4" y2="550.5" stroke="#888" stroke-width="0.7" stroke-linecap="butt"/>
<line x1="1227.6" y1="555.5" x2="1229.4" y2="555.5" stroke="#888" stroke-width="0.7" stroke-linecap="butt"/>
<line x1="1227.6" y1="570.5" x2="1229.4" y2="570.5" stroke="#888" stroke-width="0.7" stroke-linecap="butt"/>
<line x1="1227.6" y1="575.5" x2="1229.4" y2="575.5" stroke="#888" stroke-width="0.7" stroke-linecap="butt"/>
<line x1="1227.6" y1="580.5" x2="1229.4" y2="580.5" stroke="#888" stroke-width="0.7" stroke-linecap="butt"/>
<line x1="1227.6" y1="585.5" x2="1229.4" y2="585.5" stroke="#888" stroke-width="0.7" stroke-linecap="butt"/>
<line x1="1227.6" y1="590.5" x2="1229.4" y2="590.5" stroke="#888" stroke-width="0.7" stroke-linecap="butt"/>
<line x1="1227.6" y1="595.5" x2="1229.4" y2="595.5" stroke="#888" stroke-width="0.7" stroke-linecap="butt"/>
<line x1="1227.6" y1="600.5" x2="1229.4" y2="600.5" stroke="#888" stroke-width="0.7" stroke-linecap="butt"/>
<line x1="1227.6" y1="609.5" x2="1229.4" y2="609.5" stroke="#888" stroke-width="0.7" stroke-linecap="butt"/>
<line x1="1227.6" y1="614.5" x2="1229.4" y2="614.5" stroke="#888" stroke-width="0.7" stroke-linecap="butt"/>
<line x1="1227.6" y1="619.5" x2="1229.4" y2="619.5" stroke="#888" stroke-width="0.7" stroke-linecap="butt"/>
<line x1="1227.6" y1="623.5" x2="1229.4" y2="623.5" stroke="#888" stroke-width="0.7" stroke-linecap="butt"/>
<line x1="1227.6" y1="633.5" x2="1229.4" y2="633.5" stroke="#888" stroke-width="0.7" stroke-linecap="butt"/>
<line x1="1227.6" y1="638.5" x2="1229.4" y2="638.5" stroke="#888" stroke-width="0.7" stroke-linecap="butt"/>
<line x1="1227.6" y1="643.5" x2="1229.4" y2="643.5" stroke="#888" stroke-width="0.7" stroke-linecap="butt"/>
<line x1="1227.6" y1="647.5" x2="1229.4" y2="647.5" stroke="#888" stroke-width="0.7" stroke-linecap="butt"/>
<line x1="1227.6" y1="657.5" x2="1229.4" y2="657.5" stroke="#888" stroke-width="0.7" stroke-linecap="butt"/>
<line x1="1278.7" y1="662.1" x2="1278.7" y2="665.4" stroke="#333" stroke-width="1" stroke-linecap="butt"/>
<line x1="1308.2" y1="662.1" x2="1308.2" y2="665.4" stroke="#333" stroke-width="1" stroke-linecap="butt"/>
<line x1="1335.6" y1="662.1" x2="1335.6" y2="665.4" stroke="#333" stroke-width="1" stroke-linecap="butt"/>
<line x1="1362.9" y1="662.1" x2="1362.9" y2="665.4" stroke="#333" stroke-width="1" stroke-linecap="butt"/>
<rect x="1247.9" y="662.1" width="8" height="3.2" fill="#1a1a1a"/>
<rect x="1226" y="627" width="3.4" height="5.5" fill="#1a1a1a"/>
<line x1="1234.4" y1="662.1" x2="1234.4" y2="663.9" stroke="#888" stroke-width="0.7" stroke-linecap="butt"/>
<line x1="1238.4" y1="662.1" x2="1238.4" y2="663.9" stroke="#888" stroke-width="0.7" stroke-linecap="butt"/>
<line x1="1242.4" y1="662.1" x2="1242.4" y2="663.9" stroke="#888" stroke-width="0.7" stroke-linecap="butt"/>
<line x1="1259.4" y1="662.1" x2="1259.4" y2="663.9" stroke="#888" stroke-width="0.7" stroke-linecap="butt"/>
<line x1="1264.4" y1="662.1" x2="1264.4" y2="663.9" stroke="#888" stroke-width="0.7" stroke-linecap="butt"/>
<line x1="1268.4" y1="662.1" x2="1268.4" y2="663.9" stroke="#888" stroke-width="0.7" stroke-linecap="butt"/>
<line x1="1271.4" y1="662.1" x2="1271.4" y2="663.9" stroke="#888" stroke-width="0.7" stroke-linecap="butt"/>
<line x1="1274.4" y1="662.1" x2="1274.4" y2="663.9" stroke="#888" stroke-width="0.7" stroke-linecap="butt"/>
<line x1="1276.4" y1="662.1" x2="1276.4" y2="663.9" stroke="#888" stroke-width="0.7" stroke-linecap="butt"/>
<line x1="1284.4" y1="662.1" x2="1284.4" y2="663.9" stroke="#888" stroke-width="0.7" stroke-linecap="butt"/>
<line x1="1291.4" y1="662.1" x2="1291.4" y2="663.9" stroke="#888" stroke-width="0.7" stroke-linecap="butt"/>
<line x1="1296.4" y1="662.1" x2="1296.4" y2="663.9" stroke="#888" stroke-width="0.7" stroke-linecap="butt"/>
<line x1="1300.4" y1="662.1" x2="1300.4" y2="663.9" stroke="#888" stroke-width="0.7" stroke-linecap="butt"/>
<line x1="1303.4" y1="662.1" x2="1303.4" y2="663.9" stroke="#888" stroke-width="0.7" stroke-linecap="butt"/>
<line x1="1305.4" y1="662.1" x2="1305.4" y2="663.9" stroke="#888" stroke-width="0.7" stroke-linecap="butt"/>
<line x1="1313.4" y1="662.1" x2="1313.4" y2="663.9" stroke="#888" stroke-width="0.7" stroke-linecap="butt"/>
<line x1="1320.4" y1="662.1" x2="1320.4" y2="663.9" stroke="#888" stroke-width="0.7" stroke-linecap="butt"/>
<line x1="1325.4" y1="662.1" x2="1325.4" y2="663.9" stroke="#888" stroke-width="0.7" stroke-linecap="butt"/>
<line x1="1329.4" y1="662.1" x2="1329.4" y2="663.9" stroke="#888" stroke-width="0.7" stroke-linecap="butt"/>
<line x1="1332.4" y1="662.1" x2="1332.4" y2="663.9" stroke="#888" stroke-width="0.7" stroke-linecap="butt"/>
<line x1="1339.4" y1="662.1" x2="1339.4" y2="663.9" stroke="#888" stroke-width="0.7" stroke-linecap="butt"/>
<line x1="1346.4" y1="662.1" x2="1346.4" y2="663.9" stroke="#888" stroke-width="0.7" stroke-linecap="butt"/>
<line x1="1352.4" y1="662.1" x2="1352.4" y2="663.9" stroke="#888" stroke-width="0.7" stroke-linecap="butt"/>
<line x1="1356.4" y1="662.1" x2="1356.4" y2="663.9" stroke="#888" stroke-width="0.7" stroke-linecap="butt"/>
<line x1="1359.4" y1="662.1" x2="1359.4" y2="663.9" stroke="#888" stroke-width="0.7" stroke-linecap="butt"/>
<line x1="1367.4" y1="662.1" x2="1367.4" y2="663.9" stroke="#888" stroke-width="0.7" stroke-linecap="butt"/>
<rect x="740.3" y="753.5" width="145" height="144.6" fill="none" stroke="#7a7a7a" stroke-width="1.2"/>
<rect x="780.4" y="764.5" width="60.2" height="58" fill="none" stroke="#333" stroke-width="1.3"/>
<line x1="737" y1="766.6" x2="740.3" y2="766.6" stroke="#333" stroke-width="1" stroke-linecap="butt"/>
<line x1="737" y1="801.2" x2="740.3" y2="801.2" stroke="#333" stroke-width="1" stroke-linecap="butt"/>
<line x1="737" y1="841" x2="740.3" y2="841" stroke="#333" stroke-width="1" stroke-linecap="butt"/>
<line x1="737" y1="864.7" x2="740.3" y2="864.7" stroke="#333" stroke-width="1" stroke-linecap="butt"/>
<line x1="737" y1="888.7" x2="740.3" y2="888.7" stroke="#333" stroke-width="1" stroke-linecap="butt"/>
<line x1="738.5" y1="771.5" x2="740.3" y2="771.5" stroke="#888" stroke-width="0.7" stroke-linecap="butt"/>
<line x1="738.5" y1="776.5" x2="740.3" y2="776.5" stroke="#888" stroke-width="0.7" stroke-linecap="butt"/>
<line x1="738.5" y1="781.5" x2="740.3" y2="781.5" stroke="#888" stroke-width="0.7" stroke-linecap="butt"/>
<line x1="738.5" y1="786.5" x2="740.3" y2="786.5" stroke="#888" stroke-width="0.7" stroke-linecap="butt"/>
<line x1="738.5" y1="791.5" x2="740.3" y2="791.5" stroke="#888" stroke-width="0.7" stroke-linecap="butt"/>
<line x1="738.5" y1="806.5" x2="740.3" y2="806.5" stroke="#888" stroke-width="0.7" stroke-linecap="butt"/>
<line x1="738.5" y1="811.5" x2="740.3" y2="811.5" stroke="#888" stroke-width="0.7" stroke-linecap="butt"/>
<line x1="738.5" y1="816.5" x2="740.3" y2="816.5" stroke="#888" stroke-width="0.7" stroke-linecap="butt"/>
<line x1="738.5" y1="821.5" x2="740.3" y2="821.5" stroke="#888" stroke-width="0.7" stroke-linecap="butt"/>
<line x1="738.5" y1="826.5" x2="740.3" y2="826.5" stroke="#888" stroke-width="0.7" stroke-linecap="butt"/>
<line x1="738.5" y1="831.5" x2="740.3" y2="831.5" stroke="#888" stroke-width="0.7" stroke-linecap="butt"/>
<line x1="738.5" y1="836.5" x2="740.3" y2="836.5" stroke="#888" stroke-width="0.7" stroke-linecap="butt"/>
<line x1="738.5" y1="845.5" x2="740.3" y2="845.5" stroke="#888" stroke-width="0.7" stroke-linecap="butt"/>
<line x1="738.5" y1="850.5" x2="740.3" y2="850.5" stroke="#888" stroke-width="0.7" stroke-linecap="butt"/>
<line x1="738.5" y1="855.5" x2="740.3" y2="855.5" stroke="#888" stroke-width="0.7" stroke-linecap="butt"/>
<line x1="738.5" y1="859.5" x2="740.3" y2="859.5" stroke="#888" stroke-width="0.7" stroke-linecap="butt"/>
<line x1="738.5" y1="869.5" x2="740.3" y2="869.5" stroke="#888" stroke-width="0.7" stroke-linecap="butt"/>
<line x1="738.5" y1="874.5" x2="740.3" y2="874.5" stroke="#888" stroke-width="0.7" stroke-linecap="butt"/>
<line x1="738.5" y1="879.5" x2="740.3" y2="879.5" stroke="#888" stroke-width="0.7" stroke-linecap="butt"/>
<line x1="738.5" y1="883.5" x2="740.3" y2="883.5" stroke="#888" stroke-width="0.7" stroke-linecap="butt"/>
<line x1="738.5" y1="893.5" x2="740.3" y2="893.5" stroke="#888" stroke-width="0.7" stroke-linecap="butt"/>
<line x1="789.6" y1="898.1" x2="789.6" y2="901.4" stroke="#333" stroke-width="1" stroke-linecap="butt"/>
<line x1="819.1" y1="898.1" x2="819.1" y2="901.4" stroke="#333" stroke-width="1" stroke-linecap="butt"/>
<line x1="846.5" y1="898.1" x2="846.5" y2="901.4" stroke="#333" stroke-width="1" stroke-linecap="butt"/>
<line x1="873.8" y1="898.1" x2="873.8" y2="901.4" stroke="#333" stroke-width="1" stroke-linecap="butt"/>
<rect x="758.8" y="898.1" width="8" height="3.2" fill="#1a1a1a"/>
<rect x="736.9" y="863" width="3.4" height="5.5" fill="#1a1a1a"/>
<line x1="745.3" y1="898.1" x2="745.3" y2="899.9" stroke="#888" stroke-width="0.7" stroke-linecap="butt"/>
<line x1="749.3" y1="898.1" x2="749.3" y2="899.9" stroke="#888" stroke-width="0.7" stroke-linecap="butt"/>
<line x1="753.3" y1="898.1" x2="753.3" y2="899.9" stroke="#888" stroke-width="0.7" stroke-linecap="butt"/>
<line x1="770.3" y1="898.1" x2="770.3" y2="899.9" stroke="#888" stroke-width="0.7" stroke-linecap="butt"/>
<line x1="775.3" y1="898.1" x2="775.3" y2="899.9" stroke="#888" stroke-width="0.7" stroke-linecap="butt"/>
<line x1="779.3" y1="898.1" x2="779.3" y2="899.9" stroke="#888" stroke-width="0.7" stroke-linecap="butt"/>
<line x1="782.3" y1="898.1" x2="782.3" y2="899.9" stroke="#888" stroke-width="0.7" stroke-linecap="butt"/>
<line x1="785.3" y1="898.1" x2="785.3" y2="899.9" stroke="#888" stroke-width="0.7" stroke-linecap="butt"/>
<line x1="787.3" y1="898.1" x2="787.3" y2="899.9" stroke="#888" stroke-width="0.7" stroke-linecap="butt"/>
<line x1="795.3" y1="898.1" x2="795.3" y2="899.9" stroke="#888" stroke-width="0.7" stroke-linecap="butt"/>
<line x1="802.3" y1="898.1" x2="802.3" y2="899.9" stroke="#888" stroke-width="0.7" stroke-linecap="butt"/>
<line x1="807.3" y1="898.1" x2="807.3" y2="899.9" stroke="#888" stroke-width="0.7" stroke-linecap="butt"/>
<line x1="811.3" y1="898.1" x2="811.3" y2="899.9" stroke="#888" stroke-width="0.7" stroke-linecap="butt"/>
<line x1="814.3" y1="898.1" x2="814.3" y2="899.9" stroke="#888" stroke-width="0.7" stroke-linecap="butt"/>
<line x1="816.3" y1="898.1" x2="816.3" y2="899.9" stroke="#888" stroke-width="0.7" stroke-linecap="butt"/>
<line x1="824.3" y1="898.1" x2="824.3" y2="899.9" stroke="#888" stroke-width="0.7" stroke-linecap="butt"/>
<line x1="831.3" y1="898.1" x2="831.3" y2="899.9" stroke="#888" stroke-width="0.7" stroke-linecap="butt"/>
<line x1="836.3" y1="898.1" x2="836.3" y2="899.9" stroke="#888" stroke-width="0.7" stroke-linecap="butt"/>
<line x1="840.3" y1="898.1" x2="840.3" y2="899.9" stroke="#888" stroke-width="0.7" stroke-linecap="butt"/>
<line x1="843.3" y1="898.1" x2="843.3" y2="899.9" stroke="#888" stroke-width="0.7" stroke-linecap="butt"/>
<line x1="850.3" y1="898.1" x2="850.3" y2="899.9" stroke="#888" stroke-width="0.7" stroke-linecap="butt"/>
<line x1="857.3" y1="898.1" x2="857.3" y2="899.9" stroke="#888" stroke-width="0.7" stroke-linecap="butt"/>
<line x1="863.3" y1="898.1" x2="863.3" y2="899.9" stroke="#888" stroke-width="0.7" stroke-linecap="butt"/>
<line x1="867.3" y1="898.1" x2="867.3" y2="899.9" stroke="#888" stroke-width="0.7" stroke-linecap="butt"/>
<line x1="870.3" y1="898.1" x2="870.3" y2="899.9" stroke="#888" stroke-width="0.7" stroke-linecap="butt"/>
<line x1="878.3" y1="898.1" x2="878.3" y2="899.9" stroke="#888" stroke-width="0.7" stroke-linecap="butt"/>
<rect x="903.3" y="753.5" width="145" height="144.6" fill="none" stroke="#7a7a7a" stroke-width="1.2"/>
<rect x="943.4" y="764.5" width="60.2" height="58" fill="none" stroke="#333" stroke-width="1.3"/>
<line x1="900" y1="766.6" x2="903.3" y2="766.6" stroke="#333" stroke-width="1" stroke-linecap="butt"/>
<line x1="900" y1="801.2" x2="903.3" y2="801.2" stroke="#333" stroke-width="1" stroke-linecap="butt"/>
<line x1="900" y1="841" x2="903.3" y2="841" stroke="#333" stroke-width="1" stroke-linecap="butt"/>
<line x1="900" y1="864.7" x2="903.3" y2="864.7" stroke="#333" stroke-width="1" stroke-linecap="butt"/>
<line x1="900" y1="888.7" x2="903.3" y2="888.7" stroke="#333" stroke-width="1" stroke-linecap="butt"/>
<line x1="901.5" y1="771.5" x2="903.3" y2="771.5" stroke="#888" stroke-width="0.7" stroke-linecap="butt"/>
<line x1="901.5" y1="776.5" x2="903.3" y2="776.5" stroke="#888" stroke-width="0.7" stroke-linecap="butt"/>
<line x1="901.5" y1="781.5" x2="903.3" y2="781.5" stroke="#888" stroke-width="0.7" stroke-linecap="butt"/>
<line x1="901.5" y1="786.5" x2="903.3" y2="786.5" stroke="#888" stroke-width="0.7" stroke-linecap="butt"/>
<line x1="901.5" y1="791.5" x2="903.3" y2="791.5" stroke="#888" stroke-width="0.7" stroke-linecap="butt"/>
<line x1="901.5" y1="806.5" x2="903.3" y2="806.5" stroke="#888" stroke-width="0.7" stroke-linecap="butt"/>
<line x1="901.5" y1="811.5" x2="903.3" y2="811.5" stroke="#888" stroke-width="0.7" stroke-linecap="butt"/>
<line x1="901.5" y1="816.5" x2="903.3" y2="816.5" stroke="#888" stroke-width="0.7" stroke-linecap="butt"/>
<line x1="901.5" y1="821.5" x2="903.3" y2="821.5" stroke="#888" stroke-width="0.7" stroke-linecap="butt"/>
<line x1="901.5" y1="826.5" x2="903.3" y2="826.5" stroke="#888" stroke-width="0.7" stroke-linecap="butt"/>
<line x1="901.5" y1="831.5" x2="903.3" y2="831.5" stroke="#888" stroke-width="0.7" stroke-linecap="butt"/>
<line x1="901.5" y1="836.5" x2="903.3" y2="836.5" stroke="#888" stroke-width="0.7" stroke-linecap="butt"/>
<line x1="901.5" y1="845.5" x2="903.3" y2="845.5" stroke="#888" stroke-width="0.7" stroke-linecap="butt"/>
<line x1="901.5" y1="850.5" x2="903.3" y2="850.5" stroke="#888" stroke-width="0.7" stroke-linecap="butt"/>
<line x1="901.5" y1="855.5" x2="903.3" y2="855.5" stroke="#888" stroke-width="0.7" stroke-linecap="butt"/>
<line x1="901.5" y1="859.5" x2="903.3" y2="859.5" stroke="#888" stroke-width="0.7" stroke-linecap="butt"/>
<line x1="901.5" y1="869.5" x2="903.3" y2="869.5" stroke="#888" stroke-width="0.7" stroke-linecap="butt"/>
<line x1="901.5" y1="874.5" x2="903.3" y2="874.5" stroke="#888" stroke-width="0.7" stroke-linecap="butt"/>
<line x1="901.5" y1="879.5" x2="903.3" y2="879.5" stroke="#888" stroke-width="0.7" stroke-linecap="butt"/>
<line x1="901.5" y1="883.5" x2="903.3" y2="883.5" stroke="#888" stroke-width="0.7" stroke-linecap="butt"/>
<line x1="901.5" y1="893.5" x2="903.3" y2="893.5" stroke="#888" stroke-width="0.7" stroke-linecap="butt"/>
<line x1="952.6" y1="898.1" x2="952.6" y2="901.4" stroke="#333" stroke-width="1" stroke-linecap="butt"/>
<line x1="982.1" y1="898.1" x2="982.1" y2="901.4" stroke="#333" stroke-width="1" stroke-linecap="butt"/>
<line x1="1009.5" y1="898.1" x2="1009.5" y2="901.4" stroke="#333" stroke-width="1" stroke-linecap="butt"/>
<line x1="1036.8" y1="898.1" x2="1036.8" y2="901.4" stroke="#333" stroke-width="1" stroke-linecap="butt"/>
<rect x="921.8" y="898.1" width="8" height="3.2" fill="#1a1a1a"/>
<rect x="899.9" y="863" width="3.4" height="5.5" fill="#1a1a1a"/>
<line x1="908.3" y1="898.1" x2="908.3" y2="899.9" stroke="#888" stroke-width="0.7" stroke-linecap="butt"/>
<line x1="912.3" y1="898.1" x2="912.3" y2="899.9" stroke="#888" stroke-width="0.7" stroke-linecap="butt"/>
<line x1="916.3" y1="898.1" x2="916.3" y2="899.9" stroke="#888" stroke-width="0.7" stroke-linecap="butt"/>
<line x1="933.3" y1="898.1" x2="933.3" y2="899.9" stroke="#888" stroke-width="0.7" stroke-linecap="butt"/>
<line x1="938.3" y1="898.1" x2="938.3" y2="899.9" stroke="#888" stroke-width="0.7" stroke-linecap="butt"/>
<line x1="942.3" y1="898.1" x2="942.3" y2="899.9" stroke="#888" stroke-width="0.7" stroke-linecap="butt"/>
<line x1="945.3" y1="898.1" x2="945.3" y2="899.9" stroke="#888" stroke-width="0.7" stroke-linecap="butt"/>
<line x1="948.3" y1="898.1" x2="948.3" y2="899.9" stroke="#888" stroke-width="0.7" stroke-linecap="butt"/>
<line x1="950.3" y1="898.1" x2="950.3" y2="899.9" stroke="#888" stroke-width="0.7" stroke-linecap="butt"/>
<line x1="958.3" y1="898.1" x2="958.3" y2="899.9" stroke="#888" stroke-width="0.7" stroke-linecap="butt"/>
<line x1="965.3" y1="898.1" x2="965.3" y2="899.9" stroke="#888" stroke-width="0.7" stroke-linecap="butt"/>
<line x1="970.3" y1="898.1" x2="970.3" y2="899.9" stroke="#888" stroke-width="0.7" stroke-linecap="butt"/>
<line x1="974.3" y1="898.1" x2="974.3" y2="899.9" stroke="#888" stroke-width="0.7" stroke-linecap="butt"/>
<line x1="977.3" y1="898.1" x2="977.3" y2="899.9" stroke="#888" stroke-width="0.7" stroke-linecap="butt"/>
<line x1="979.3" y1="898.1" x2="979.3" y2="899.9" stroke="#888" stroke-width="0.7" stroke-linecap="butt"/>
<line x1="987.3" y1="898.1" x2="987.3" y2="899.9" stroke="#888" stroke-width="0.7" stroke-linecap="butt"/>
<line x1="994.3" y1="898.1" x2="994.3" y2="899.9" stroke="#888" stroke-width="0.7" stroke-linecap="butt"/>
<line x1="999.3" y1="898.1" x2="999.3" y2="899.9" stroke="#888" stroke-width="0.7" stroke-linecap="butt"/>
<line x1="1003.3" y1="898.1" x2="1003.3" y2="899.9" stroke="#888" stroke-width="0.7" stroke-linecap="butt"/>
<line x1="1006.3" y1="898.1" x2="1006.3" y2="899.9" stroke="#888" stroke-width="0.7" stroke-linecap="butt"/>
<line x1="1013.3" y1="898.1" x2="1013.3" y2="899.9" stroke="#888" stroke-width="0.7" stroke-linecap="butt"/>
<line x1="1020.3" y1="898.1" x2="1020.3" y2="899.9" stroke="#888" stroke-width="0.7" stroke-linecap="butt"/>
<line x1="1026.3" y1="898.1" x2="1026.3" y2="899.9" stroke="#888" stroke-width="0.7" stroke-linecap="butt"/>
<line x1="1030.3" y1="898.1" x2="1030.3" y2="899.9" stroke="#888" stroke-width="0.7" stroke-linecap="butt"/>
<line x1="1033.3" y1="898.1" x2="1033.3" y2="899.9" stroke="#888" stroke-width="0.7" stroke-linecap="butt"/>
<line x1="1041.3" y1="898.1" x2="1041.3" y2="899.9" stroke="#888" stroke-width="0.7" stroke-linecap="butt"/>
<rect x="1066.5" y="753.5" width="145" height="144.6" fill="none" stroke="#7a7a7a" stroke-width="1.2"/>
<rect x="1106.6" y="764.5" width="60.2" height="58" fill="none" stroke="#333" stroke-width="1.3"/>
<line x1="1063.2" y1="766.6" x2="1066.5" y2="766.6" stroke="#333" stroke-width="1" stroke-linecap="butt"/>
<line x1="1063.2" y1="801.2" x2="1066.5" y2="801.2" stroke="#333" stroke-width="1" stroke-linecap="butt"/>
<line x1="1063.2" y1="841" x2="1066.5" y2="841" stroke="#333" stroke-width="1" stroke-linecap="butt"/>
<line x1="1063.2" y1="864.7" x2="1066.5" y2="864.7" stroke="#333" stroke-width="1" stroke-linecap="butt"/>
<line x1="1063.2" y1="888.7" x2="1066.5" y2="888.7" stroke="#333" stroke-width="1" stroke-linecap="butt"/>
<line x1="1064.7" y1="771.5" x2="1066.5" y2="771.5" stroke="#888" stroke-width="0.7" stroke-linecap="butt"/>
<line x1="1064.7" y1="776.5" x2="1066.5" y2="776.5" stroke="#888" stroke-width="0.7" stroke-linecap="butt"/>
<line x1="1064.7" y1="781.5" x2="1066.5" y2="781.5" stroke="#888" stroke-width="0.7" stroke-linecap="butt"/>
<line x1="1064.7" y1="786.5" x2="1066.5" y2="786.5" stroke="#888" stroke-width="0.7" stroke-linecap="butt"/>
<line x1="1064.7" y1="791.5" x2="1066.5" y2="791.5" stroke="#888" stroke-width="0.7" stroke-linecap="butt"/>
<line x1="1064.7" y1="806.5" x2="1066.5" y2="806.5" stroke="#888" stroke-width="0.7" stroke-linecap="butt"/>
<line x1="1064.7" y1="811.5" x2="1066.5" y2="811.5" stroke="#888" stroke-width="0.7" stroke-linecap="butt"/>
<line x1="1064.7" y1="816.5" x2="1066.5" y2="816.5" stroke="#888" stroke-width="0.7" stroke-linecap="butt"/>
<line x1="1064.7" y1="821.5" x2="1066.5" y2="821.5" stroke="#888" stroke-width="0.7" stroke-linecap="butt"/>
<line x1="1064.7" y1="826.5" x2="1066.5" y2="826.5" stroke="#888" stroke-width="0.7" stroke-linecap="butt"/>
<line x1="1064.7" y1="831.5" x2="1066.5" y2="831.5" stroke="#888" stroke-width="0.7" stroke-linecap="butt"/>
<line x1="1064.7" y1="836.5" x2="1066.5" y2="836.5" stroke="#888" stroke-width="0.7" stroke-linecap="butt"/>
<line x1="1064.7" y1="845.5" x2="1066.5" y2="845.5" stroke="#888" stroke-width="0.7" stroke-linecap="butt"/>
<line x1="1064.7" y1="850.5" x2="1066.5" y2="850.5" stroke="#888" stroke-width="0.7" stroke-linecap="butt"/>
<line x1="1064.7" y1="855.5" x2="1066.5" y2="855.5" stroke="#888" stroke-width="0.7" stroke-linecap="butt"/>
<line x1="1064.7" y1="859.5" x2="1066.5" y2="859.5" stroke="#888" stroke-width="0.7" stroke-linecap="butt"/>
<line x1="1064.7" y1="869.5" x2="1066.5" y2="869.5" stroke="#888" stroke-width="0.7" stroke-linecap="butt"/>
<line x1="1064.7" y1="874.5" x2="1066.5" y2="874.5" stroke="#888" stroke-width="0.7" stroke-linecap="butt"/>
<line x1="1064.7" y1="879.5" x2="1066.5" y2="879.5" stroke="#888" stroke-width="0.7" stroke-linecap="butt"/>
<line x1="1064.7" y1="883.5" x2="1066.5" y2="883.5" stroke="#888" stroke-width="0.7" stroke-linecap="butt"/>
<line x1="1064.7" y1="893.5" x2="1066.5" y2="893.5" stroke="#888" stroke-width="0.7" stroke-linecap="butt"/>
<line x1="1115.8" y1="898.1" x2="1115.8" y2="901.4" stroke="#333" stroke-width="1" stroke-linecap="butt"/>
<line x1="1145.3" y1="898.1" x2="1145.3" y2="901.4" stroke="#333" stroke-width="1" stroke-linecap="butt"/>
<line x1="1172.7" y1="898.1" x2="1172.7" y2="901.4" stroke="#333" stroke-width="1" stroke-linecap="butt"/>
<line x1="1200" y1="898.1" x2="1200" y2="901.4" stroke="#333" stroke-width="1" stroke-linecap="butt"/>
<rect x="1085" y="898.1" width="8" height="3.2" fill="#1a1a1a"/>
<rect x="1063.1" y="863" width="3.4" height="5.5" fill="#1a1a1a"/>
<line x1="1071.5" y1="898.1" x2="1071.5" y2="899.9" stroke="#888" stroke-width="0.7" stroke-linecap="butt"/>
<line x1="1075.5" y1="898.1" x2="1075.5" y2="899.9" stroke="#888" stroke-width="0.7" stroke-linecap="butt"/>
<line x1="1079.5" y1="898.1" x2="1079.5" y2="899.9" stroke="#888" stroke-width="0.7" stroke-linecap="butt"/>
<line x1="1096.5" y1="898.1" x2="1096.5" y2="899.9" stroke="#888" stroke-width="0.7" stroke-linecap="butt"/>
<line x1="1101.5" y1="898.1" x2="1101.5" y2="899.9" stroke="#888" stroke-width="0.7" stroke-linecap="butt"/>
<line x1="1105.5" y1="898.1" x2="1105.5" y2="899.9" stroke="#888" stroke-width="0.7" stroke-linecap="butt"/>
<line x1="1108.5" y1="898.1" x2="1108.5" y2="899.9" stroke="#888" stroke-width="0.7" stroke-linecap="butt"/>
<line x1="1111.5" y1="898.1" x2="1111.5" y2="899.9" stroke="#888" stroke-width="0.7" stroke-linecap="butt"/>
<line x1="1113.5" y1="898.1" x2="1113.5" y2="899.9" stroke="#888" stroke-width="0.7" stroke-linecap="butt"/>
<line x1="1121.5" y1="898.1" x2="1121.5" y2="899.9" stroke="#888" stroke-width="0.7" stroke-linecap="butt"/>
<line x1="1128.5" y1="898.1" x2="1128.5" y2="899.9" stroke="#888" stroke-width="0.7" stroke-linecap="butt"/>
<line x1="1133.5" y1="898.1" x2="1133.5" y2="899.9" stroke="#888" stroke-width="0.7" stroke-linecap="butt"/>
<line x1="1137.5" y1="898.1" x2="1137.5" y2="899.9" stroke="#888" stroke-width="0.7" stroke-linecap="butt"/>
<line x1="1140.5" y1="898.1" x2="1140.5" y2="899.9" stroke="#888" stroke-width="0.7" stroke-linecap="butt"/>
<line x1="1142.5" y1="898.1" x2="1142.5" y2="899.9" stroke="#888" stroke-width="0.7" stroke-linecap="butt"/>
<line x1="1150.5" y1="898.1" x2="1150.5" y2="899.9" stroke="#888" stroke-width="0.7" stroke-linecap="butt"/>
<line x1="1157.5" y1="898.1" x2="1157.5" y2="899.9" stroke="#888" stroke-width="0.7" stroke-linecap="butt"/>
<line x1="1162.5" y1="898.1" x2="1162.5" y2="899.9" stroke="#888" stroke-width="0.7" stroke-linecap="butt"/>
<line x1="1166.5" y1="898.1" x2="1166.5" y2="899.9" stroke="#888" stroke-width="0.7" stroke-linecap="butt"/>
<line x1="1169.5" y1="898.1" x2="1169.5" y2="899.9" stroke="#888" stroke-width="0.7" stroke-linecap="butt"/>
<line x1="1176.5" y1="898.1" x2="1176.5" y2="899.9" stroke="#888" stroke-width="0.7" stroke-linecap="butt"/>
<line x1="1183.5" y1="898.1" x2="1183.5" y2="899.9" stroke="#888" stroke-width="0.7" stroke-linecap="butt"/>
<line x1="1189.5" y1="898.1" x2="1189.5" y2="899.9" stroke="#888" stroke-width="0.7" stroke-linecap="butt"/>
<line x1="1193.5" y1="898.1" x2="1193.5" y2="899.9" stroke="#888" stroke-width="0.7" stroke-linecap="butt"/>
<line x1="1196.5" y1="898.1" x2="1196.5" y2="899.9" stroke="#888" stroke-width="0.7" stroke-linecap="butt"/>
<line x1="1204.5" y1="898.1" x2="1204.5" y2="899.9" stroke="#888" stroke-width="0.7" stroke-linecap="butt"/>
<rect x="1229.4" y="753.5" width="145" height="144.6" fill="none" stroke="#7a7a7a" stroke-width="1.2"/>
<rect x="1269.5" y="764.5" width="60.2" height="58" fill="none" stroke="#333" stroke-width="1.3"/>
<line x1="1226.1" y1="766.6" x2="1229.4" y2="766.6" stroke="#333" stroke-width="1" stroke-linecap="butt"/>
<line x1="1226.1" y1="801.2" x2="1229.4" y2="801.2" stroke="#333" stroke-width="1" stroke-linecap="butt"/>
<line x1="1226.1" y1="841" x2="1229.4" y2="841" stroke="#333" stroke-width="1" stroke-linecap="butt"/>
<line x1="1226.1" y1="864.7" x2="1229.4" y2="864.7" stroke="#333" stroke-width="1" stroke-linecap="butt"/>
<line x1="1226.1" y1="888.7" x2="1229.4" y2="888.7" stroke="#333" stroke-width="1" stroke-linecap="butt"/>
<line x1="1227.6" y1="771.5" x2="1229.4" y2="771.5" stroke="#888" stroke-width="0.7" stroke-linecap="butt"/>
<line x1="1227.6" y1="776.5" x2="1229.4" y2="776.5" stroke="#888" stroke-width="0.7" stroke-linecap="butt"/>
<line x1="1227.6" y1="781.5" x2="1229.4" y2="781.5" stroke="#888" stroke-width="0.7" stroke-linecap="butt"/>
<line x1="1227.6" y1="786.5" x2="1229.4" y2="786.5" stroke="#888" stroke-width="0.7" stroke-linecap="butt"/>
<line x1="1227.6" y1="791.5" x2="1229.4" y2="791.5" stroke="#888" stroke-width="0.7" stroke-linecap="butt"/>
<line x1="1227.6" y1="806.5" x2="1229.4" y2="806.5" stroke="#888" stroke-width="0.7" stroke-linecap="butt"/>
<line x1="1227.6" y1="811.5" x2="1229.4" y2="811.5" stroke="#888" stroke-width="0.7" stroke-linecap="butt"/>
<line x1="1227.6" y1="816.5" x2="1229.4" y2="816.5" stroke="#888" stroke-width="0.7" stroke-linecap="butt"/>
<line x1="1227.6" y1="821.5" x2="1229.4" y2="821.5" stroke="#888" stroke-width="0.7" stroke-linecap="butt"/>
<line x1="1227.6" y1="826.5" x2="1229.4" y2="826.5" stroke="#888" stroke-width="0.7" stroke-linecap="butt"/>
<line x1="1227.6" y1="831.5" x2="1229.4" y2="831.5" stroke="#888" stroke-width="0.7" stroke-linecap="butt"/>
<line x1="1227.6" y1="836.5" x2="1229.4" y2="836.5" stroke="#888" stroke-width="0.7" stroke-linecap="butt"/>
<line x1="1227.6" y1="845.5" x2="1229.4" y2="845.5" stroke="#888" stroke-width="0.7" stroke-linecap="butt"/>
<line x1="1227.6" y1="850.5" x2="1229.4" y2="850.5" stroke="#888" stroke-width="0.7" stroke-linecap="butt"/>
<line x1="1227.6" y1="855.5" x2="1229.4" y2="855.5" stroke="#888" stroke-width="0.7" stroke-linecap="butt"/>
<line x1="1227.6" y1="859.5" x2="1229.4" y2="859.5" stroke="#888" stroke-width="0.7" stroke-linecap="butt"/>
<line x1="1227.6" y1="869.5" x2="1229.4" y2="869.5" stroke="#888" stroke-width="0.7" stroke-linecap="butt"/>
<line x1="1227.6" y1="874.5" x2="1229.4" y2="874.5" stroke="#888" stroke-width="0.7" stroke-linecap="butt"/>
<line x1="1227.6" y1="879.5" x2="1229.4" y2="879.5" stroke="#888" stroke-width="0.7" stroke-linecap="butt"/>
<line x1="1227.6" y1="883.5" x2="1229.4" y2="883.5" stroke="#888" stroke-width="0.7" stroke-linecap="butt"/>
<line x1="1227.6" y1="893.5" x2="1229.4" y2="893.5" stroke="#888" stroke-width="0.7" stroke-linecap="butt"/>
<line x1="1278.7" y1="898.1" x2="1278.7" y2="901.4" stroke="#333" stroke-width="1" stroke-linecap="butt"/>
<line x1="1308.2" y1="898.1" x2="1308.2" y2="901.4" stroke="#333" stroke-width="1" stroke-linecap="butt"/>
<line x1="1335.6" y1="898.1" x2="1335.6" y2="901.4" stroke="#333" stroke-width="1" stroke-linecap="butt"/>
<line x1="1362.9" y1="898.1" x2="1362.9" y2="901.4" stroke="#333" stroke-width="1" stroke-linecap="butt"/>
<rect x="1247.9" y="898.1" width="8" height="3.2" fill="#1a1a1a"/>
<rect x="1226" y="863" width="3.4" height="5.5" fill="#1a1a1a"/>
<line x1="1234.4" y1="898.1" x2="1234.4" y2="899.9" stroke="#888" stroke-width="0.7" stroke-linecap="butt"/>
<line x1="1238.4" y1="898.1" x2="1238.4" y2="899.9" stroke="#888" stroke-width="0.7" stroke-linecap="butt"/>
<line x1="1242.4" y1="898.1" x2="1242.4" y2="899.9" stroke="#888" stroke-width="0.7" stroke-linecap="butt"/>
<line x1="1259.4" y1="898.1" x2="1259.4" y2="899.9" stroke="#888" stroke-width="0.7" stroke-linecap="butt"/>
<line x1="1264.4" y1="898.1" x2="1264.4" y2="899.9" stroke="#888" stroke-width="0.7" stroke-linecap="butt"/>
<line x1="1268.4" y1="898.1" x2="1268.4" y2="899.9" stroke="#888" stroke-width="0.7" stroke-linecap="butt"/>
<line x1="1271.4" y1="898.1" x2="1271.4" y2="899.9" stroke="#888" stroke-width="0.7" stroke-linecap="butt"/>
<line x1="1274.4" y1="898.1" x2="1274.4" y2="899.9" stroke="#888" stroke-width="0.7" stroke-linecap="butt"/>
<line x1="1276.4" y1="898.1" x2="1276.4" y2="899.9" stroke="#888" stroke-width="0.7" stroke-linecap="butt"/>
<line x1="1284.4" y1="898.1" x2="1284.4" y2="899.9" stroke="#888" stroke-width="0.7" stroke-linecap="butt"/>
<line x1="1291.4" y1="898.1" x2="1291.4" y2="899.9" stroke="#888" stroke-width="0.7" stroke-linecap="butt"/>
<line x1="1296.4" y1="898.1" x2="1296.4" y2="899.9" stroke="#888" stroke-width="0.7" stroke-linecap="butt"/>
<line x1="1300.4" y1="898.1" x2="1300.4" y2="899.9" stroke="#888" stroke-width="0.7" stroke-linecap="butt"/>
<line x1="1303.4" y1="898.1" x2="1303.4" y2="899.9" stroke="#888" stroke-width="0.7" stroke-linecap="butt"/>
<line x1="1305.4" y1="898.1" x2="1305.4" y2="899.9" stroke="#888" stroke-width="0.7" stroke-linecap="butt"/>
<line x1="1313.4" y1="898.1" x2="1313.4" y2="899.9" stroke="#888" stroke-width="0.7" stroke-linecap="butt"/>
<line x1="1320.4" y1="898.1" x2="1320.4" y2="899.9" stroke="#888" stroke-width="0.7" stroke-linecap="butt"/>
<line x1="1325.4" y1="898.1" x2="1325.4" y2="899.9" stroke="#888" stroke-width="0.7" stroke-linecap="butt"/>
<line x1="1329.4" y1="898.1" x2="1329.4" y2="899.9" stroke="#888" stroke-width="0.7" stroke-linecap="butt"/>
<line x1="1332.4" y1="898.1" x2="1332.4" y2="899.9" stroke="#888" stroke-width="0.7" stroke-linecap="butt"/>
<line x1="1339.4" y1="898.1" x2="1339.4" y2="899.9" stroke="#888" stroke-width="0.7" stroke-linecap="butt"/>
<line x1="1346.4" y1="898.1" x2="1346.4" y2="899.9" stroke="#888" stroke-width="0.7" stroke-linecap="butt"/>
<line x1="1352.4" y1="898.1" x2="1352.4" y2="899.9" stroke="#888" stroke-width="0.7" stroke-linecap="butt"/>
<line x1="1356.4" y1="898.1" x2="1356.4" y2="899.9" stroke="#888" stroke-width="0.7" stroke-linecap="butt"/>
<line x1="1359.4" y1="898.1" x2="1359.4" y2="899.9" stroke="#888" stroke-width="0.7" stroke-linecap="butt"/>
<line x1="1367.4" y1="898.1" x2="1367.4" y2="899.9" stroke="#888" stroke-width="0.7" stroke-linecap="butt"/>
<text x="745.56" y="566.1" font-size="23.5" fill="#000" textLength="32.6" lengthAdjust="spacingAndGlyphs">5.9</text>
<text x="911.59" y="566.1" font-size="23.5" fill="#000" textLength="29.88" lengthAdjust="spacingAndGlyphs">1.6</text>
<text x="1071" y="566.1" font-size="23.5" fill="#000" textLength="33.32" lengthAdjust="spacingAndGlyphs">2.4</text>
<text x="1234" y="566.1" font-size="23.5" fill="#000" textLength="33.32" lengthAdjust="spacingAndGlyphs">2.4</text>
<text x="745.55" y="803.6" font-size="23.5" fill="#000" textLength="33.02" lengthAdjust="spacingAndGlyphs">3.3</text>
<text x="908.56" y="803.6" font-size="23.5" fill="#000" textLength="32.6" lengthAdjust="spacingAndGlyphs">5.9</text>
<text x="1070.66" y="803.5" font-size="23.5" fill="#000" textLength="34.43" lengthAdjust="spacingAndGlyphs">6.0</text>
<text x="1233.56" y="803.5" font-size="23.5" fill="#000" textLength="34.43" lengthAdjust="spacingAndGlyphs">6.0</text>
<text x="798.88" y="509.9" font-size="26" fill="#000" textLength="38.21" lengthAdjust="spacingAndGlyphs">WT</text>
<text x="959.73" y="509.9" font-size="26" fill="#000" textLength="37.47" lengthAdjust="spacingAndGlyphs">KO</text>
<text x="1087.76" y="510.2" font-size="26" fill="#000" textLength="102.58" lengthAdjust="spacingAndGlyphs">KO + NR</text>
<text x="1241.58" y="510.2" font-size="26" fill="#000" textLength="128.68" lengthAdjust="spacingAndGlyphs">KO + NMN</text>
<text x="743.03" y="745.2" font-size="26" fill="#000" textLength="151.21" lengthAdjust="spacingAndGlyphs">KO + Malate</text>
<text x="910.05" y="745.2" font-size="26" fill="#000" textLength="126.03" lengthAdjust="spacingAndGlyphs">KO + 2-KG</text>
<text x="1067.44" y="712.8" font-size="26" fill="#000" textLength="126.65" lengthAdjust="spacingAndGlyphs">KO + 2-KG</text>
<text x="1074.53" y="745" font-size="26" fill="#000" textLength="110.91" lengthAdjust="spacingAndGlyphs">+ GSK-J4</text>
<text x="1238.44" y="712.8" font-size="26" fill="#000" textLength="126.55" lengthAdjust="spacingAndGlyphs">KO + 2-KG</text>
<text x="1261.56" y="745" font-size="26" fill="#000" textLength="79.7" lengthAdjust="spacingAndGlyphs">+2-HG</text>
<text x="693.45" y="776" font-size="23.7" fill="#000" textLength="25.94" lengthAdjust="spacingAndGlyphs">10</text>
<text x="718.86" y="763" font-size="14" fill="#000" textLength="8.9" lengthAdjust="spacingAndGlyphs">5</text>
<text x="693.45" y="811.2" font-size="23.7" fill="#000" textLength="25.94" lengthAdjust="spacingAndGlyphs">10</text>
<text x="719.12" y="798.2" font-size="14" fill="#000" textLength="8.45" lengthAdjust="spacingAndGlyphs">4</text>
<text x="693.45" y="850.1" font-size="23.7" fill="#000" textLength="25.94" lengthAdjust="spacingAndGlyphs">10</text>
<text x="718.85" y="837.1" font-size="14" fill="#000" textLength="8.99" lengthAdjust="spacingAndGlyphs">3</text>
<text x="703.81" y="872.9" font-size="23.7" fill="#000" textLength="15.22" lengthAdjust="spacingAndGlyphs">0</text>
<text x="683.24" y="897.2" font-size="23.7" fill="#000" textLength="36.04" lengthAdjust="spacingAndGlyphs">−10</text>
<text x="718.85" y="884.2" font-size="14" fill="#000" textLength="8.99" lengthAdjust="spacingAndGlyphs">3</text>
<text transform="translate(765.43 930.8) rotate(-45)" x="0" y="0" font-size="26.25" fill="#000" textLength="14.6" lengthAdjust="spacingAndGlyphs">0</text>
<text transform="translate(783.17 945.77) rotate(-45)" x="0" y="0" font-size="23" fill="#000" textLength="25.58" lengthAdjust="spacingAndGlyphs">10</text>
<text transform="translate(783.17 945.77) rotate(-45)" x="25.58" y="-12.65" font-size="13.8" fill="#000" textLength="7.67" lengthAdjust="spacingAndGlyphs">3</text>
<text transform="translate(812.97 946.43) rotate(-45)" x="0" y="0" font-size="23" fill="#000" textLength="25.58" lengthAdjust="spacingAndGlyphs">10</text>
<text transform="translate(812.97 946.43) rotate(-45)" x="25.58" y="-12.65" font-size="13.8" fill="#000" textLength="7.67" lengthAdjust="spacingAndGlyphs">4</text>
<text transform="translate(839.47 947.03) rotate(-45)" x="0" y="0" font-size="23" fill="#000" textLength="25.58" lengthAdjust="spacingAndGlyphs">10</text>
<text transform="translate(839.47 947.03) rotate(-45)" x="25.58" y="-12.65" font-size="13.8" fill="#000" textLength="7.67" lengthAdjust="spacingAndGlyphs">5</text>
<text transform="translate(866.57 947.37) rotate(-45)" x="0" y="0" font-size="23" fill="#000" textLength="25.58" lengthAdjust="spacingAndGlyphs">10</text>
<text transform="translate(866.57 947.37) rotate(-45)" x="25.58" y="-12.65" font-size="13.8" fill="#000" textLength="7.67" lengthAdjust="spacingAndGlyphs">6</text>
<line x1="651.7" y1="751.1" x2="651.7" y2="533.5" stroke="#44546A" stroke-width="2.2" stroke-linecap="butt"/><polygon points="651.7,524 656.9,536.5 651.7,534 646.5,536.5" fill="#44546A"/>
<line x1="960.2" y1="972.6" x2="1364.4" y2="972.6" stroke="#44546A" stroke-width="2.2" stroke-linecap="butt"/><polygon points="1373.9,972.6 1361.4,977.8 1363.9,972.6 1361.4,967.4" fill="#44546A"/>
<text transform="translate(661.2 897.46) rotate(-90)" x="0" y="0" font-size="26" fill="#000" textLength="138.67" lengthAdjust="spacingAndGlyphs">Ly5.1-BV711</text>
<text x="730.25" y="978.5" font-size="26" fill="#000" textLength="220.1" lengthAdjust="spacingAndGlyphs">CD8-PerCP/Cy5.5</text>
<line x1="1612.8" y1="463.6" x2="1612.8" y2="661.3" stroke="#2b2b2b" stroke-width="1.3" stroke-linecap="butt"/>
<line x1="1607.3" y1="464.2" x2="1612.8" y2="464.2" stroke="#2b2b2b" stroke-width="1.3" stroke-linecap="butt"/>
<text x="1567.36" y="472.28" font-size="23.5" fill="#000" textLength="26.14" lengthAdjust="spacingAndGlyphs">10</text>
<line x1="1607.3" y1="562.3" x2="1612.8" y2="562.3" stroke="#2b2b2b" stroke-width="1.3" stroke-linecap="butt"/>
<text x="1580.4" y="570.38" font-size="23.5" fill="#000" textLength="13.07" lengthAdjust="spacingAndGlyphs">5</text>
<line x1="1607.3" y1="660.7" x2="1612.8" y2="660.7" stroke="#2b2b2b" stroke-width="1.3" stroke-linecap="butt"/>
<text x="1580.4" y="668.78" font-size="23.5" fill="#000" textLength="13.07" lengthAdjust="spacingAndGlyphs">0</text>
<line x1="1606.9" y1="660.7" x2="2057.3" y2="660.7" stroke="#2b2b2b" stroke-width="1.3" stroke-linecap="butt"/>
<path d="M1627.5 660.7V658.9H1654.5V660.7" fill="none" stroke="#000" stroke-width="1.4"/>
<path d="M1670.4 660.7V587.5H1697.4V660.7" fill="none" stroke="#FF0C0C" stroke-width="1.4"/>
<path d="M1713.3 660.7V608H1740.3V660.7" fill="none" stroke="#7AB1FF" stroke-width="1.4"/>
<path d="M1756.2 660.7V607H1783.2V660.7" fill="none" stroke="#7AB1FF" stroke-width="1.4"/>
<path d="M1799.1 660.7V633.5H1826.1V660.7" fill="none" stroke="#7AB1FF" stroke-width="1.4"/>
<path d="M1842 660.7V658.3H1869V660.7" fill="none" stroke="#7AB1FF" stroke-width="1.4"/>
<path d="M1884.9 660.7V650.5H1911.9V660.7" fill="none" stroke="#7AB1FF" stroke-width="1.4"/>
<path d="M1927.8 660.7V651.9H1954.8V660.7" fill="none" stroke="#7AB1FF" stroke-width="1.4"/>
<line x1="1683.9" y1="572.2" x2="1683.9" y2="604.6" stroke="#FF0C0C" stroke-width="1.4" stroke-linecap="butt"/><line x1="1677.4" y1="572.2" x2="1690.4" y2="572.2" stroke="#FF0C0C" stroke-width="1.4" stroke-linecap="butt"/><line x1="1677.4" y1="604.6" x2="1690.4" y2="604.6" stroke="#FF0C0C" stroke-width="1.4" stroke-linecap="butt"/>
<line x1="1726.8" y1="595.5" x2="1726.8" y2="612.6" stroke="#7AB1FF" stroke-width="1.4" stroke-linecap="butt"/><line x1="1720.3" y1="595.5" x2="1733.3" y2="595.5" stroke="#7AB1FF" stroke-width="1.4" stroke-linecap="butt"/><line x1="1720.3" y1="612.6" x2="1733.3" y2="612.6" stroke="#7AB1FF" stroke-width="1.4" stroke-linecap="butt"/>
<line x1="1769.7" y1="600.7" x2="1769.7" y2="615" stroke="#7AB1FF" stroke-width="1.4" stroke-linecap="butt"/><line x1="1763.2" y1="600.7" x2="1776.2" y2="600.7" stroke="#7AB1FF" stroke-width="1.4" stroke-linecap="butt"/><line x1="1763.2" y1="615" x2="1776.2" y2="615" stroke="#7AB1FF" stroke-width="1.4" stroke-linecap="butt"/>
<line x1="1812.6" y1="628.5" x2="1812.6" y2="639.5" stroke="#7AB1FF" stroke-width="1.4" stroke-linecap="butt"/><line x1="1806.1" y1="628.5" x2="1819.1" y2="628.5" stroke="#7AB1FF" stroke-width="1.4" stroke-linecap="butt"/><line x1="1806.1" y1="639.5" x2="1819.1" y2="639.5" stroke="#7AB1FF" stroke-width="1.4" stroke-linecap="butt"/>
<line x1="1855.5" y1="656.5" x2="1855.5" y2="660" stroke="#7AB1FF" stroke-width="1.4" stroke-linecap="butt"/><line x1="1849" y1="656.5" x2="1862" y2="656.5" stroke="#7AB1FF" stroke-width="1.4" stroke-linecap="butt"/><line x1="1849" y1="660" x2="1862" y2="660" stroke="#7AB1FF" stroke-width="1.4" stroke-linecap="butt"/>
<line x1="1898.4" y1="644" x2="1898.4" y2="657" stroke="#7AB1FF" stroke-width="1.4" stroke-linecap="butt"/><line x1="1891.9" y1="644" x2="1904.9" y2="644" stroke="#7AB1FF" stroke-width="1.4" stroke-linecap="butt"/><line x1="1891.9" y1="657" x2="1904.9" y2="657" stroke="#7AB1FF" stroke-width="1.4" stroke-linecap="butt"/>
<line x1="1941.3" y1="645" x2="1941.3" y2="658.5" stroke="#7AB1FF" stroke-width="1.4" stroke-linecap="butt"/><line x1="1934.8" y1="645" x2="1947.8" y2="645" stroke="#7AB1FF" stroke-width="1.4" stroke-linecap="butt"/><line x1="1934.8" y1="658.5" x2="1947.8" y2="658.5" stroke="#7AB1FF" stroke-width="1.4" stroke-linecap="butt"/>
<circle cx="1629" cy="658.3" r="4" fill="#fff" stroke="#000" stroke-width="1.2"/>
<circle cx="1635" cy="658" r="4" fill="#fff" stroke="#000" stroke-width="1.2"/>
<circle cx="1641" cy="658.5" r="4" fill="#fff" stroke="#000" stroke-width="1.2"/>
<circle cx="1647" cy="658.2" r="4" fill="#fff" stroke="#000" stroke-width="1.2"/>
<circle cx="1653" cy="658.4" r="4" fill="#fff" stroke="#000" stroke-width="1.2"/>
<circle cx="1680.4" cy="567.2" r="4" fill="#fff" stroke="#000" stroke-width="1.2"/>
<circle cx="1687.3" cy="569.2" r="4" fill="#fff" stroke="#000" stroke-width="1.2"/>
<circle cx="1673.9" cy="582.2" r="4" fill="#fff" stroke="#000" stroke-width="1.2"/>
<circle cx="1680.4" cy="578.8" r="4" fill="#fff" stroke="#000" stroke-width="1.2"/>
<circle cx="1694.3" cy="582.2" r="4" fill="#fff" stroke="#000" stroke-width="1.2"/>
<circle cx="1687.3" cy="586.7" r="4" fill="#fff" stroke="#000" stroke-width="1.2"/>
<circle cx="1684.3" cy="606" r="4" fill="#fff" stroke="#000" stroke-width="1.2"/>
<circle cx="1684.3" cy="620.5" r="4" fill="#fff" stroke="#000" stroke-width="1.2"/>
<circle cx="1727.2" cy="583.2" r="4" fill="#fff" stroke="#000" stroke-width="1.2"/>
<circle cx="1716.8" cy="607.5" r="4" fill="#fff" stroke="#000" stroke-width="1.2"/>
<circle cx="1720.8" cy="605" r="4" fill="#fff" stroke="#000" stroke-width="1.2"/>
<circle cx="1724.8" cy="608.5" r="4" fill="#fff" stroke="#000" stroke-width="1.2"/>
<circle cx="1728.8" cy="606" r="4" fill="#fff" stroke="#000" stroke-width="1.2"/>
<circle cx="1732.8" cy="608.8" r="4" fill="#fff" stroke="#000" stroke-width="1.2"/>
<circle cx="1736.8" cy="607.5" r="4" fill="#fff" stroke="#000" stroke-width="1.2"/>
<circle cx="1723.8" cy="603.5" r="4" fill="#fff" stroke="#000" stroke-width="1.2"/>
<circle cx="1759.7" cy="606" r="4" fill="#fff" stroke="#000" stroke-width="1.2"/>
<circle cx="1763.7" cy="601" r="4" fill="#fff" stroke="#000" stroke-width="1.2"/>
<circle cx="1767.7" cy="606" r="4" fill="#fff" stroke="#000" stroke-width="1.2"/>
<circle cx="1771.7" cy="604" r="4" fill="#fff" stroke="#000" stroke-width="1.2"/>
<circle cx="1775.7" cy="601" r="4" fill="#fff" stroke="#000" stroke-width="1.2"/>
<circle cx="1779.7" cy="606" r="4" fill="#fff" stroke="#000" stroke-width="1.2"/>
<circle cx="1767.7" cy="612" r="4" fill="#fff" stroke="#000" stroke-width="1.2"/>
<circle cx="1771.7" cy="622.5" r="4" fill="#fff" stroke="#000" stroke-width="1.2"/>
<circle cx="1775.7" cy="610" r="4" fill="#fff" stroke="#000" stroke-width="1.2"/>
<circle cx="1801.6" cy="636.2" r="4" fill="#fff" stroke="#000" stroke-width="1.2"/>
<circle cx="1806.6" cy="629.5" r="4" fill="#fff" stroke="#000" stroke-width="1.2"/>
<circle cx="1811.6" cy="631.5" r="4" fill="#fff" stroke="#000" stroke-width="1.2"/>
<circle cx="1815.6" cy="631" r="4" fill="#fff" stroke="#000" stroke-width="1.2"/>
<circle cx="1820.1" cy="629" r="4" fill="#fff" stroke="#000" stroke-width="1.2"/>
<circle cx="1824.6" cy="633.5" r="4" fill="#fff" stroke="#000" stroke-width="1.2"/>
<circle cx="1809.6" cy="636.5" r="4" fill="#fff" stroke="#000" stroke-width="1.2"/>
<circle cx="1816.6" cy="638.5" r="4" fill="#fff" stroke="#000" stroke-width="1.2"/>
<circle cx="1845.5" cy="658.2" r="4" fill="#fff" stroke="#000" stroke-width="1.2"/>
<circle cx="1849.5" cy="657.5" r="4" fill="#fff" stroke="#000" stroke-width="1.2"/>
<circle cx="1853.5" cy="657.8" r="4" fill="#fff" stroke="#000" stroke-width="1.2"/>
<circle cx="1857.5" cy="657.4" r="4" fill="#fff" stroke="#000" stroke-width="1.2"/>
<circle cx="1861.5" cy="658" r="4" fill="#fff" stroke="#000" stroke-width="1.2"/>
<circle cx="1865.5" cy="658.3" r="4" fill="#fff" stroke="#000" stroke-width="1.2"/>
<circle cx="1851.5" cy="659" r="4" fill="#fff" stroke="#000" stroke-width="1.2"/>
<circle cx="1859.5" cy="659.2" r="4" fill="#fff" stroke="#000" stroke-width="1.2"/>
<circle cx="1898.4" cy="640.5" r="4" fill="#fff" stroke="#000" stroke-width="1.2"/>
<circle cx="1888.4" cy="645.5" r="4" fill="#fff" stroke="#000" stroke-width="1.2"/>
<circle cx="1894.4" cy="646.5" r="4" fill="#fff" stroke="#000" stroke-width="1.2"/>
<circle cx="1903.4" cy="648.5" r="4" fill="#fff" stroke="#000" stroke-width="1.2"/>
<circle cx="1908.4" cy="646.5" r="4" fill="#fff" stroke="#000" stroke-width="1.2"/>
<circle cx="1898.4" cy="651.5" r="4" fill="#fff" stroke="#000" stroke-width="1.2"/>
<circle cx="1888.4" cy="656.5" r="4" fill="#fff" stroke="#000" stroke-width="1.2"/>
<circle cx="1908.4" cy="656.5" r="4" fill="#fff" stroke="#000" stroke-width="1.2"/>
<circle cx="1931.3" cy="641.5" r="4" fill="#fff" stroke="#000" stroke-width="1.2"/>
<circle cx="1938.3" cy="643.5" r="4" fill="#fff" stroke="#000" stroke-width="1.2"/>
<circle cx="1945.3" cy="644" r="4" fill="#fff" stroke="#000" stroke-width="1.2"/>
<circle cx="1952.3" cy="641.5" r="4" fill="#fff" stroke="#000" stroke-width="1.2"/>
<circle cx="1931.3" cy="650.5" r="4" fill="#fff" stroke="#000" stroke-width="1.2"/>
<circle cx="1941.3" cy="649" r="4" fill="#fff" stroke="#000" stroke-width="1.2"/>
<circle cx="1952.3" cy="650" r="4" fill="#fff" stroke="#000" stroke-width="1.2"/>
<circle cx="1938.3" cy="657.5" r="4" fill="#fff" stroke="#000" stroke-width="1.2"/>
<circle cx="1945.3" cy="657.5" r="4" fill="#fff" stroke="#000" stroke-width="1.2"/>
<text transform="translate(1657.1 581.75) rotate(-90)" x="0" y="0" font-size="30" fill="#000" textLength="57.04" lengthAdjust="spacingAndGlyphs">****</text>
<text transform="translate(1742.65 574.74) rotate(-90)" x="0" y="0" font-size="30" fill="#000" textLength="41.97" lengthAdjust="spacingAndGlyphs">***</text>
<text transform="translate(1784.45 589.55) rotate(-90)" x="0" y="0" font-size="30" fill="#000" textLength="56.94" lengthAdjust="spacingAndGlyphs">****</text>
<text transform="translate(1828.05 620.55) rotate(-90)" x="0" y="0" font-size="30" fill="#000" textLength="57.25" lengthAdjust="spacingAndGlyphs">****</text>
<text transform="translate(1870.85 645.65) rotate(-90)" x="0" y="0" font-size="30" fill="#000" textLength="57.25" lengthAdjust="spacingAndGlyphs">****</text>
<text transform="translate(1911.45 632.15) rotate(-90)" x="0" y="0" font-size="30" fill="#000" textLength="57.25" lengthAdjust="spacingAndGlyphs">****</text>
<text transform="translate(1956.55 632.15) rotate(-90)" x="0" y="0" font-size="30" fill="#000" textLength="57.25" lengthAdjust="spacingAndGlyphs">****</text>
<text transform="translate(1450.7 639.57) rotate(-90)" x="0" y="0" font-size="27" fill="#000" textLength="153.44" lengthAdjust="spacingAndGlyphs">Intracellular</text>
<text transform="translate(1483.3 621.12) rotate(-90)" x="0" y="0" font-size="27" fill="#000" textLength="115.6" lengthAdjust="spacingAndGlyphs">ammonia</text>
<text transform="translate(1514.8 619.73) rotate(-90)" x="0" y="0" font-size="27" fill="#000" textLength="94.23" lengthAdjust="spacingAndGlyphs">(mmol l</text>
<text transform="translate(1514.8 619.73) rotate(-90)" x="94.23" y="-11.34" font-size="16.2" fill="#000" textLength="19.67" lengthAdjust="spacingAndGlyphs">−1</text>
<text transform="translate(1547 627.15) rotate(-90)" x="0" y="0" font-size="27" fill="#000" textLength="129.29" lengthAdjust="spacingAndGlyphs">cell mass)</text>
<line x1="1617.8" y1="706.3" x2="1617.8" y2="903.4" stroke="#2b2b2b" stroke-width="1.3" stroke-linecap="butt"/>
<line x1="1612.3" y1="706.9" x2="1617.8" y2="706.9" stroke="#2b2b2b" stroke-width="1.3" stroke-linecap="butt"/>
<line x1="1612.3" y1="804.9" x2="1617.8" y2="804.9" stroke="#2b2b2b" stroke-width="1.3" stroke-linecap="butt"/>
<line x1="1612.3" y1="902.8" x2="1617.8" y2="902.8" stroke="#2b2b2b" stroke-width="1.3" stroke-linecap="butt"/>
<text x="1575.9" y="910.88" font-size="23.5" fill="#000" textLength="13.07" lengthAdjust="spacingAndGlyphs">0</text>
<text x="1533.04" y="714.2" font-size="23.5" fill="#000" textLength="13.07" lengthAdjust="spacingAndGlyphs">2</text>
<text x="1546.11" y="714.2" font-size="18.8" fill="#000" textLength="18.51" lengthAdjust="spacingAndGlyphs"> × </text>
<text x="1564.62" y="714.2" font-size="23.5" fill="#000" textLength="26.14" lengthAdjust="spacingAndGlyphs">10</text>
<text x="1590.76" y="703.16" font-size="15.51" fill="#000" textLength="8.63" lengthAdjust="spacingAndGlyphs">4</text>
<text x="1533.04" y="811.3" font-size="23.5" fill="#000" textLength="13.07" lengthAdjust="spacingAndGlyphs">1</text>
<text x="1546.11" y="811.3" font-size="18.8" fill="#000" textLength="18.51" lengthAdjust="spacingAndGlyphs"> × </text>
<text x="1564.62" y="811.3" font-size="23.5" fill="#000" textLength="26.14" lengthAdjust="spacingAndGlyphs">10</text>
<text x="1590.76" y="800.25" font-size="15.51" fill="#000" textLength="8.63" lengthAdjust="spacingAndGlyphs">4</text>
<line x1="1611.8" y1="902.8" x2="2059.8" y2="902.8" stroke="#2b2b2b" stroke-width="1.3" stroke-linecap="butt"/>
<path d="M1632.5 902.8V845.1H1659.5V902.8" fill="none" stroke="#000" stroke-width="1.4"/>
<line x1="1646" y1="832.2" x2="1646" y2="855" stroke="#000" stroke-width="1.4" stroke-linecap="butt"/><line x1="1639.5" y1="832.2" x2="1652.5" y2="832.2" stroke="#000" stroke-width="1.4" stroke-linecap="butt"/><line x1="1639.5" y1="855" x2="1652.5" y2="855" stroke="#000" stroke-width="1.4" stroke-linecap="butt"/>
<path d="M1675.15 902.8V893.8H1702.15V902.8" fill="none" stroke="#FF0C0C" stroke-width="1.4"/>
<line x1="1688.65" y1="886" x2="1688.65" y2="897" stroke="#FF0C0C" stroke-width="1.4" stroke-linecap="butt"/><line x1="1682.15" y1="886" x2="1695.15" y2="886" stroke="#FF0C0C" stroke-width="1.4" stroke-linecap="butt"/><line x1="1682.15" y1="897" x2="1695.15" y2="897" stroke="#FF0C0C" stroke-width="1.4" stroke-linecap="butt"/>
<path d="M1717.8 902.8V872H1744.8V902.8" fill="none" stroke="#7AB1FF" stroke-width="1.4"/>
<line x1="1731.3" y1="866.5" x2="1731.3" y2="879" stroke="#7AB1FF" stroke-width="1.4" stroke-linecap="butt"/><line x1="1724.8" y1="866.5" x2="1737.8" y2="866.5" stroke="#7AB1FF" stroke-width="1.4" stroke-linecap="butt"/><line x1="1724.8" y1="879" x2="1737.8" y2="879" stroke="#7AB1FF" stroke-width="1.4" stroke-linecap="butt"/>
<path d="M1760.45 902.8V876.5H1787.45V902.8" fill="none" stroke="#7AB1FF" stroke-width="1.4"/>
<line x1="1773.95" y1="873" x2="1773.95" y2="879.5" stroke="#7AB1FF" stroke-width="1.4" stroke-linecap="butt"/><line x1="1767.45" y1="873" x2="1780.45" y2="873" stroke="#7AB1FF" stroke-width="1.4" stroke-linecap="butt"/><line x1="1767.45" y1="879.5" x2="1780.45" y2="879.5" stroke="#7AB1FF" stroke-width="1.4" stroke-linecap="butt"/>
<path d="M1803.1 902.8V872.6H1830.1V902.8" fill="none" stroke="#7AB1FF" stroke-width="1.4"/>
<line x1="1816.6" y1="866.5" x2="1816.6" y2="878.5" stroke="#7AB1FF" stroke-width="1.4" stroke-linecap="butt"/><line x1="1810.1" y1="866.5" x2="1823.1" y2="866.5" stroke="#7AB1FF" stroke-width="1.4" stroke-linecap="butt"/><line x1="1810.1" y1="878.5" x2="1823.1" y2="878.5" stroke="#7AB1FF" stroke-width="1.4" stroke-linecap="butt"/>
<path d="M1845.75 902.8V845.5H1872.75V902.8" fill="none" stroke="#7AB1FF" stroke-width="1.4"/>
<line x1="1859.25" y1="833.5" x2="1859.25" y2="857.5" stroke="#7AB1FF" stroke-width="1.4" stroke-linecap="butt"/><line x1="1852.75" y1="833.5" x2="1865.75" y2="833.5" stroke="#7AB1FF" stroke-width="1.4" stroke-linecap="butt"/><line x1="1852.75" y1="857.5" x2="1865.75" y2="857.5" stroke="#7AB1FF" stroke-width="1.4" stroke-linecap="butt"/>
<path d="M1888.4 902.8V843.6H1915.4V902.8" fill="none" stroke="#7AB1FF" stroke-width="1.4"/>
<line x1="1901.9" y1="829.5" x2="1901.9" y2="857.5" stroke="#7AB1FF" stroke-width="1.4" stroke-linecap="butt"/><line x1="1895.4" y1="829.5" x2="1908.4" y2="829.5" stroke="#7AB1FF" stroke-width="1.4" stroke-linecap="butt"/><line x1="1895.4" y1="857.5" x2="1908.4" y2="857.5" stroke="#7AB1FF" stroke-width="1.4" stroke-linecap="butt"/>
<path d="M1931.05 902.8V841.7H1958.05V902.8" fill="none" stroke="#7AB1FF" stroke-width="1.4"/>
<line x1="1944.55" y1="830.5" x2="1944.55" y2="849.5" stroke="#7AB1FF" stroke-width="1.4" stroke-linecap="butt"/><line x1="1938.05" y1="830.5" x2="1951.05" y2="830.5" stroke="#7AB1FF" stroke-width="1.4" stroke-linecap="butt"/><line x1="1938.05" y1="849.5" x2="1951.05" y2="849.5" stroke="#7AB1FF" stroke-width="1.4" stroke-linecap="butt"/>
<circle cx="1649.6" cy="827.2" r="4" fill="#fff" stroke="#000" stroke-width="1.2"/>
<circle cx="1642.3" cy="832.8" r="4" fill="#fff" stroke="#000" stroke-width="1.2"/>
<circle cx="1649.6" cy="837.1" r="4" fill="#fff" stroke="#000" stroke-width="1.2"/>
<circle cx="1635.7" cy="845.5" r="4" fill="#fff" stroke="#000" stroke-width="1.2"/>
<circle cx="1649.6" cy="847" r="4" fill="#fff" stroke="#000" stroke-width="1.2"/>
<circle cx="1642.3" cy="850" r="4" fill="#fff" stroke="#000" stroke-width="1.2"/>
<circle cx="1656.6" cy="851.5" r="4" fill="#fff" stroke="#000" stroke-width="1.2"/>
<circle cx="1646.2" cy="861" r="4" fill="#fff" stroke="#000" stroke-width="1.2"/>
<circle cx="1677.85" cy="890.4" r="4" fill="#fff" stroke="#000" stroke-width="1.2"/>
<circle cx="1681.85" cy="885.9" r="4" fill="#fff" stroke="#000" stroke-width="1.2"/>
<circle cx="1685.25" cy="889.8" r="4" fill="#fff" stroke="#000" stroke-width="1.2"/>
<circle cx="1691.85" cy="883.9" r="4" fill="#fff" stroke="#000" stroke-width="1.2"/>
<circle cx="1691.85" cy="892.4" r="4" fill="#fff" stroke="#000" stroke-width="1.2"/>
<circle cx="1698.65" cy="890.4" r="4" fill="#fff" stroke="#000" stroke-width="1.2"/>
<circle cx="1721.3" cy="882.5" r="4" fill="#fff" stroke="#000" stroke-width="1.2"/>
<circle cx="1726.3" cy="876.5" r="4" fill="#fff" stroke="#000" stroke-width="1.2"/>
<circle cx="1732.3" cy="874" r="4" fill="#fff" stroke="#000" stroke-width="1.2"/>
<circle cx="1737.3" cy="873.5" r="4" fill="#fff" stroke="#000" stroke-width="1.2"/>
<circle cx="1741.3" cy="876.5" r="4" fill="#fff" stroke="#000" stroke-width="1.2"/>
<circle cx="1729.3" cy="880" r="4" fill="#fff" stroke="#000" stroke-width="1.2"/>
<circle cx="1736.3" cy="881.5" r="4" fill="#fff" stroke="#000" stroke-width="1.2"/>
<circle cx="1741.3" cy="885.5" r="4" fill="#fff" stroke="#000" stroke-width="1.2"/>
<circle cx="1732.3" cy="883.5" r="4" fill="#fff" stroke="#000" stroke-width="1.2"/>
<circle cx="1763.95" cy="877.5" r="4" fill="#fff" stroke="#000" stroke-width="1.2"/>
<circle cx="1767.95" cy="873.5" r="4" fill="#fff" stroke="#000" stroke-width="1.2"/>
<circle cx="1771.95" cy="875" r="4" fill="#fff" stroke="#000" stroke-width="1.2"/>
<circle cx="1775.95" cy="874.5" r="4" fill="#fff" stroke="#000" stroke-width="1.2"/>
<circle cx="1779.95" cy="876.5" r="4" fill="#fff" stroke="#000" stroke-width="1.2"/>
<circle cx="1783.95" cy="877" r="4" fill="#fff" stroke="#000" stroke-width="1.2"/>
<circle cx="1769.95" cy="879" r="4" fill="#fff" stroke="#000" stroke-width="1.2"/>
<circle cx="1777.95" cy="879.5" r="4" fill="#fff" stroke="#000" stroke-width="1.2"/>
<circle cx="1782.95" cy="880.5" r="4" fill="#fff" stroke="#000" stroke-width="1.2"/>
<circle cx="1806.6" cy="874" r="4" fill="#fff" stroke="#000" stroke-width="1.2"/>
<circle cx="1810.6" cy="868.5" r="4" fill="#fff" stroke="#000" stroke-width="1.2"/>
<circle cx="1814.6" cy="872" r="4" fill="#fff" stroke="#000" stroke-width="1.2"/>
<circle cx="1818.6" cy="869.5" r="4" fill="#fff" stroke="#000" stroke-width="1.2"/>
<circle cx="1822.6" cy="867" r="4" fill="#fff" stroke="#000" stroke-width="1.2"/>
<circle cx="1826.6" cy="870.5" r="4" fill="#fff" stroke="#000" stroke-width="1.2"/>
<circle cx="1822.6" cy="863" r="4" fill="#fff" stroke="#000" stroke-width="1.2"/>
<circle cx="1826.6" cy="872" r="4" fill="#fff" stroke="#000" stroke-width="1.2"/>
<circle cx="1819.6" cy="878" r="4" fill="#fff" stroke="#000" stroke-width="1.2"/>
<circle cx="1849.25" cy="843.5" r="4" fill="#fff" stroke="#000" stroke-width="1.2"/>
<circle cx="1849.25" cy="855.5" r="4" fill="#fff" stroke="#000" stroke-width="1.2"/>
<circle cx="1856.25" cy="848.5" r="4" fill="#fff" stroke="#000" stroke-width="1.2"/>
<circle cx="1863.25" cy="842" r="4" fill="#fff" stroke="#000" stroke-width="1.2"/>
<circle cx="1863.25" cy="853.5" r="4" fill="#fff" stroke="#000" stroke-width="1.2"/>
<circle cx="1870.25" cy="836.5" r="4" fill="#fff" stroke="#000" stroke-width="1.2"/>
<circle cx="1870.25" cy="853.5" r="4" fill="#fff" stroke="#000" stroke-width="1.2"/>
<circle cx="1859.25" cy="820" r="4" fill="#fff" stroke="#000" stroke-width="1.2"/>
<circle cx="1891.9" cy="843.5" r="4" fill="#fff" stroke="#000" stroke-width="1.2"/>
<circle cx="1891.9" cy="855.5" r="4" fill="#fff" stroke="#000" stroke-width="1.2"/>
<circle cx="1898.9" cy="851.5" r="4" fill="#fff" stroke="#000" stroke-width="1.2"/>
<circle cx="1905.9" cy="850.5" r="4" fill="#fff" stroke="#000" stroke-width="1.2"/>
<circle cx="1905.9" cy="836.5" r="4" fill="#fff" stroke="#000" stroke-width="1.2"/>
<circle cx="1912.9" cy="851.5" r="4" fill="#fff" stroke="#000" stroke-width="1.2"/>
<circle cx="1898.9" cy="821" r="4" fill="#fff" stroke="#000" stroke-width="1.2"/>
<circle cx="1905.9" cy="827.5" r="4" fill="#fff" stroke="#000" stroke-width="1.2"/>
<circle cx="1934.55" cy="835" r="4" fill="#fff" stroke="#000" stroke-width="1.2"/>
<circle cx="1941.55" cy="836" r="4" fill="#fff" stroke="#000" stroke-width="1.2"/>
<circle cx="1948.55" cy="836" r="4" fill="#fff" stroke="#000" stroke-width="1.2"/>
<circle cx="1955.55" cy="829" r="4" fill="#fff" stroke="#000" stroke-width="1.2"/>
<circle cx="1955.55" cy="838" r="4" fill="#fff" stroke="#000" stroke-width="1.2"/>
<circle cx="1941.55" cy="845" r="4" fill="#fff" stroke="#000" stroke-width="1.2"/>
<circle cx="1948.55" cy="846.5" r="4" fill="#fff" stroke="#000" stroke-width="1.2"/>
<circle cx="1944.55" cy="857.5" r="4" fill="#fff" stroke="#000" stroke-width="1.2"/>
<text transform="translate(1661.1 813.85) rotate(-90)" x="0" y="0" font-size="30" fill="#000" textLength="57.04" lengthAdjust="spacingAndGlyphs">****</text>
<text transform="translate(1828.25 857.04) rotate(-90)" x="0" y="0" font-size="30" fill="#000" textLength="41.66" lengthAdjust="spacingAndGlyphs">***</text>
<text transform="translate(1874.55 808.85) rotate(-90)" x="0" y="0" font-size="30" fill="#000" textLength="57.25" lengthAdjust="spacingAndGlyphs">****</text>
<text transform="translate(1915.05 808.85) rotate(-90)" x="0" y="0" font-size="30" fill="#000" textLength="57.25" lengthAdjust="spacingAndGlyphs">****</text>
<text transform="translate(1958.45 824.25) rotate(-90)" x="0" y="0" font-size="30" fill="#000" textLength="57.25" lengthAdjust="spacingAndGlyphs">****</text>
<text x="1722.74" y="867.7" font-size="30" fill="#000" textLength="12.06" lengthAdjust="spacingAndGlyphs">*</text>
<text x="1767.54" y="867.7" font-size="30" fill="#000" textLength="11.95" lengthAdjust="spacingAndGlyphs">*</text>
<text transform="translate(1512.5 908.06) rotate(-90)" x="0" y="0" font-size="27" fill="#000" textLength="67.99" lengthAdjust="spacingAndGlyphs">Ly5.1</text>
<text transform="translate(1512.5 908.06) rotate(-90)" x="67.99" y="-11.34" font-size="16.2" fill="#000" textLength="9.89" lengthAdjust="spacingAndGlyphs">+</text>
<text transform="translate(1512.5 908.06) rotate(-90)" x="85.73" y="0" font-size="27" fill="#000" textLength="122.37" lengthAdjust="spacingAndGlyphs">donor cell</text>
<text transform="translate(1633.57 951.03) rotate(-45)" x="0" y="0" font-size="22.2" fill="#000" textLength="34.51" lengthAdjust="spacingAndGlyphs">WT</text>
<text transform="translate(1677.73 946.2) rotate(-45)" x="0" y="0" font-size="22.2" fill="#000" textLength="32.08" lengthAdjust="spacingAndGlyphs">KO</text>
<text transform="translate(1680.67 985.97) rotate(-45)" x="0" y="0" font-size="22.2" fill="#000" textLength="89.44" lengthAdjust="spacingAndGlyphs">KO + NR</text>
<text transform="translate(1709.6 1001.13) rotate(-45)" x="0" y="0" font-size="22.2" fill="#000" textLength="107.93" lengthAdjust="spacingAndGlyphs">KO + NMN</text>
<text transform="translate(1739.83 1008.83) rotate(-45)" x="0" y="0" font-size="22.2" fill="#000" textLength="124.01" lengthAdjust="spacingAndGlyphs">KO + Malate</text>
<text transform="translate(1795.67 1000.17) rotate(-45)" x="0" y="0" font-size="22.2" fill="#000" textLength="109.19" lengthAdjust="spacingAndGlyphs">KO + 2-KG</text>
<text transform="translate(1769.07 1069.33) rotate(-45)" x="0" y="0" font-size="21.5" fill="#000" textLength="205.52" lengthAdjust="spacingAndGlyphs">KO + 2-KG + GSK-J4</text>
<text transform="translate(1828.93 1053.17) rotate(-45)" x="0" y="0" font-size="21.9" fill="#000" textLength="185" lengthAdjust="spacingAndGlyphs">KO + 2-KG + 2-HG</text>
<line x1="114.1" y1="1156.3" x2="114.1" y2="1429.6" stroke="#2b2b2b" stroke-width="1.3" stroke-linecap="butt"/>
<line x1="108.6" y1="1156.9" x2="114.1" y2="1156.9" stroke="#2b2b2b" stroke-width="1.3" stroke-linecap="butt"/>
<text x="63.69" y="1164.98" font-size="23.5" fill="#000" textLength="32.67" lengthAdjust="spacingAndGlyphs">0.3</text>
<line x1="108.6" y1="1247.4" x2="114.1" y2="1247.4" stroke="#2b2b2b" stroke-width="1.3" stroke-linecap="butt"/>
<text x="63.81" y="1255.48" font-size="23.5" fill="#000" textLength="32.67" lengthAdjust="spacingAndGlyphs">0.2</text>
<line x1="108.6" y1="1338.5" x2="114.1" y2="1338.5" stroke="#2b2b2b" stroke-width="1.3" stroke-linecap="butt"/>
<text x="63.69" y="1346.58" font-size="23.5" fill="#000" textLength="32.67" lengthAdjust="spacingAndGlyphs">0.1</text>
<line x1="108.6" y1="1429" x2="114.1" y2="1429" stroke="#2b2b2b" stroke-width="1.3" stroke-linecap="butt"/>
<text x="83.2" y="1437.08" font-size="23.5" fill="#000" textLength="13.07" lengthAdjust="spacingAndGlyphs">0</text>
<line x1="108.8" y1="1429" x2="523.6" y2="1429" stroke="#2b2b2b" stroke-width="1.3" stroke-linecap="butt"/>
<line x1="132.1" y1="1429" x2="132.1" y2="1434.3" stroke="#2b2b2b" stroke-width="1.3" stroke-linecap="butt"/>
<line x1="158.67" y1="1429" x2="158.67" y2="1434.3" stroke="#2b2b2b" stroke-width="1.3" stroke-linecap="butt"/>
<line x1="185.24" y1="1429" x2="185.24" y2="1434.3" stroke="#2b2b2b" stroke-width="1.3" stroke-linecap="butt"/>
<line x1="211.81" y1="1429" x2="211.81" y2="1434.3" stroke="#2b2b2b" stroke-width="1.3" stroke-linecap="butt"/>
<line x1="238.38" y1="1429" x2="238.38" y2="1434.3" stroke="#2b2b2b" stroke-width="1.3" stroke-linecap="butt"/>
<line x1="264.95" y1="1429" x2="264.95" y2="1434.3" stroke="#2b2b2b" stroke-width="1.3" stroke-linecap="butt"/>
<line x1="291.52" y1="1429" x2="291.52" y2="1434.3" stroke="#2b2b2b" stroke-width="1.3" stroke-linecap="butt"/>
<line x1="318.09" y1="1429" x2="318.09" y2="1434.3" stroke="#2b2b2b" stroke-width="1.3" stroke-linecap="butt"/>
<line x1="344.66" y1="1429" x2="344.66" y2="1434.3" stroke="#2b2b2b" stroke-width="1.3" stroke-linecap="butt"/>
<line x1="371.23" y1="1429" x2="371.23" y2="1434.3" stroke="#2b2b2b" stroke-width="1.3" stroke-linecap="butt"/>
<line x1="397.8" y1="1429" x2="397.8" y2="1434.3" stroke="#2b2b2b" stroke-width="1.3" stroke-linecap="butt"/>
<line x1="424.37" y1="1429" x2="424.37" y2="1434.3" stroke="#2b2b2b" stroke-width="1.3" stroke-linecap="butt"/>
<line x1="450.94" y1="1429" x2="450.94" y2="1434.3" stroke="#2b2b2b" stroke-width="1.3" stroke-linecap="butt"/>
<line x1="477.51" y1="1429" x2="477.51" y2="1434.3" stroke="#2b2b2b" stroke-width="1.3" stroke-linecap="butt"/>
<line x1="504.08" y1="1429" x2="504.08" y2="1434.3" stroke="#2b2b2b" stroke-width="1.3" stroke-linecap="butt"/>
<polyline points="132.1,1235.1 158.67,1255.2 185.24,1259.2 211.81,1257.9 238.38,1249.6 264.95,1241.8 291.52,1243.7 318.09,1237 344.66,1238.8 371.23,1239.1 397.8,1236.1 424.37,1273.2 450.94,1297.9 477.51,1323.4 504.08,1359.7" fill="none" stroke="#000" stroke-width="1.3" stroke-linejoin="miter"/>
<line x1="132.1" y1="1210.9" x2="132.1" y2="1258.4" stroke="#000" stroke-width="1.3" stroke-linecap="butt"/><line x1="126.3" y1="1210.9" x2="137.9" y2="1210.9" stroke="#000" stroke-width="1.3" stroke-linecap="butt"/><line x1="126.3" y1="1258.4" x2="137.9" y2="1258.4" stroke="#000" stroke-width="1.3" stroke-linecap="butt"/>
<line x1="158.67" y1="1224.3" x2="158.67" y2="1285.3" stroke="#000" stroke-width="1.3" stroke-linecap="butt"/><line x1="152.87" y1="1224.3" x2="164.47" y2="1224.3" stroke="#000" stroke-width="1.3" stroke-linecap="butt"/><line x1="152.87" y1="1285.3" x2="164.47" y2="1285.3" stroke="#000" stroke-width="1.3" stroke-linecap="butt"/>
<line x1="185.24" y1="1238.8" x2="185.24" y2="1279.9" stroke="#000" stroke-width="1.3" stroke-linecap="butt"/><line x1="179.44" y1="1238.8" x2="191.04" y2="1238.8" stroke="#000" stroke-width="1.3" stroke-linecap="butt"/><line x1="179.44" y1="1279.9" x2="191.04" y2="1279.9" stroke="#000" stroke-width="1.3" stroke-linecap="butt"/>
<line x1="211.81" y1="1233.5" x2="211.81" y2="1282.6" stroke="#000" stroke-width="1.3" stroke-linecap="butt"/><line x1="206.01" y1="1233.5" x2="217.61" y2="1233.5" stroke="#000" stroke-width="1.3" stroke-linecap="butt"/><line x1="206.01" y1="1282.6" x2="217.61" y2="1282.6" stroke="#000" stroke-width="1.3" stroke-linecap="butt"/>
<line x1="238.38" y1="1215.5" x2="238.38" y2="1283.9" stroke="#000" stroke-width="1.3" stroke-linecap="butt"/><line x1="232.58" y1="1215.5" x2="244.18" y2="1215.5" stroke="#000" stroke-width="1.3" stroke-linecap="butt"/><line x1="232.58" y1="1283.9" x2="244.18" y2="1283.9" stroke="#000" stroke-width="1.3" stroke-linecap="butt"/>
<line x1="264.95" y1="1221.6" x2="264.95" y2="1261.9" stroke="#000" stroke-width="1.3" stroke-linecap="butt"/><line x1="259.15" y1="1221.6" x2="270.75" y2="1221.6" stroke="#000" stroke-width="1.3" stroke-linecap="butt"/><line x1="259.15" y1="1261.9" x2="270.75" y2="1261.9" stroke="#000" stroke-width="1.3" stroke-linecap="butt"/>
<line x1="291.52" y1="1208.8" x2="291.52" y2="1278" stroke="#000" stroke-width="1.3" stroke-linecap="butt"/><line x1="285.72" y1="1208.8" x2="297.32" y2="1208.8" stroke="#000" stroke-width="1.3" stroke-linecap="butt"/><line x1="285.72" y1="1278" x2="297.32" y2="1278" stroke="#000" stroke-width="1.3" stroke-linecap="butt"/>
<line x1="318.09" y1="1205.3" x2="318.09" y2="1268.4" stroke="#000" stroke-width="1.3" stroke-linecap="butt"/><line x1="312.29" y1="1205.3" x2="323.89" y2="1205.3" stroke="#000" stroke-width="1.3" stroke-linecap="butt"/><line x1="312.29" y1="1268.4" x2="323.89" y2="1268.4" stroke="#000" stroke-width="1.3" stroke-linecap="butt"/>
<line x1="344.66" y1="1216.8" x2="344.66" y2="1261.1" stroke="#000" stroke-width="1.3" stroke-linecap="butt"/><line x1="338.86" y1="1216.8" x2="350.46" y2="1216.8" stroke="#000" stroke-width="1.3" stroke-linecap="butt"/><line x1="338.86" y1="1261.1" x2="350.46" y2="1261.1" stroke="#000" stroke-width="1.3" stroke-linecap="butt"/>
<line x1="371.23" y1="1210.1" x2="371.23" y2="1268.6" stroke="#000" stroke-width="1.3" stroke-linecap="butt"/><line x1="365.43" y1="1210.1" x2="377.03" y2="1210.1" stroke="#000" stroke-width="1.3" stroke-linecap="butt"/><line x1="365.43" y1="1268.6" x2="377.03" y2="1268.6" stroke="#000" stroke-width="1.3" stroke-linecap="butt"/>
<line x1="397.8" y1="1213.6" x2="397.8" y2="1258.4" stroke="#000" stroke-width="1.3" stroke-linecap="butt"/><line x1="392" y1="1213.6" x2="403.6" y2="1213.6" stroke="#000" stroke-width="1.3" stroke-linecap="butt"/><line x1="392" y1="1258.4" x2="403.6" y2="1258.4" stroke="#000" stroke-width="1.3" stroke-linecap="butt"/>
<line x1="424.37" y1="1252.5" x2="424.37" y2="1292.8" stroke="#000" stroke-width="1.3" stroke-linecap="butt"/><line x1="418.57" y1="1252.5" x2="430.17" y2="1252.5" stroke="#000" stroke-width="1.3" stroke-linecap="butt"/><line x1="418.57" y1="1292.8" x2="430.17" y2="1292.8" stroke="#000" stroke-width="1.3" stroke-linecap="butt"/>
<line x1="450.94" y1="1265.7" x2="450.94" y2="1330.1" stroke="#000" stroke-width="1.3" stroke-linecap="butt"/><line x1="445.14" y1="1265.7" x2="456.74" y2="1265.7" stroke="#000" stroke-width="1.3" stroke-linecap="butt"/><line x1="445.14" y1="1330.1" x2="456.74" y2="1330.1" stroke="#000" stroke-width="1.3" stroke-linecap="butt"/>
<line x1="477.51" y1="1294.1" x2="477.51" y2="1353" stroke="#000" stroke-width="1.3" stroke-linecap="butt"/><line x1="471.71" y1="1294.1" x2="483.31" y2="1294.1" stroke="#000" stroke-width="1.3" stroke-linecap="butt"/><line x1="471.71" y1="1353" x2="483.31" y2="1353" stroke="#000" stroke-width="1.3" stroke-linecap="butt"/>
<line x1="504.08" y1="1344.4" x2="504.08" y2="1375.2" stroke="#000" stroke-width="1.3" stroke-linecap="butt"/><line x1="498.28" y1="1344.4" x2="509.88" y2="1344.4" stroke="#000" stroke-width="1.3" stroke-linecap="butt"/><line x1="498.28" y1="1375.2" x2="509.88" y2="1375.2" stroke="#000" stroke-width="1.3" stroke-linecap="butt"/>
<circle cx="132.1" cy="1235.1" r="4.9" fill="#fff" stroke="#000" stroke-width="1.3"/>
<circle cx="158.67" cy="1255.2" r="4.9" fill="#fff" stroke="#000" stroke-width="1.3"/>
<circle cx="185.24" cy="1259.2" r="4.9" fill="#fff" stroke="#000" stroke-width="1.3"/>
<circle cx="211.81" cy="1257.9" r="4.9" fill="#fff" stroke="#000" stroke-width="1.3"/>
<circle cx="238.38" cy="1249.6" r="4.9" fill="#fff" stroke="#000" stroke-width="1.3"/>
<circle cx="264.95" cy="1241.8" r="4.9" fill="#fff" stroke="#000" stroke-width="1.3"/>
<circle cx="291.52" cy="1243.7" r="4.9" fill="#fff" stroke="#000" stroke-width="1.3"/>
<circle cx="318.09" cy="1237" r="4.9" fill="#fff" stroke="#000" stroke-width="1.3"/>
<circle cx="344.66" cy="1238.8" r="4.9" fill="#fff" stroke="#000" stroke-width="1.3"/>
<circle cx="371.23" cy="1239.1" r="4.9" fill="#fff" stroke="#000" stroke-width="1.3"/>
<circle cx="397.8" cy="1236.1" r="4.9" fill="#fff" stroke="#000" stroke-width="1.3"/>
<circle cx="424.37" cy="1273.2" r="4.9" fill="#fff" stroke="#000" stroke-width="1.3"/>
<circle cx="450.94" cy="1297.9" r="4.9" fill="#fff" stroke="#000" stroke-width="1.3"/>
<circle cx="477.51" cy="1323.4" r="4.9" fill="#fff" stroke="#000" stroke-width="1.3"/>
<circle cx="504.08" cy="1359.7" r="4.9" fill="#fff" stroke="#000" stroke-width="1.3"/>
<text x="468.07" y="1318.1" font-size="30" fill="#000" textLength="41.45" lengthAdjust="spacingAndGlyphs">***</text>
<text x="411.17" y="1336.9" font-size="30" fill="#000" textLength="55.51" lengthAdjust="spacingAndGlyphs">****</text>
<text x="430.46" y="1379.8" font-size="30" fill="#000" textLength="56.33" lengthAdjust="spacingAndGlyphs">****</text>
<text transform="translate(41.8 1414.16) rotate(-90)" x="0" y="0" font-size="27" font-style="italic" fill="#000" textLength="59.05" lengthAdjust="spacingAndGlyphs">Got1</text>
<text transform="translate(41.8 1414.16) rotate(-90)" x="66.61" y="0" font-size="27" fill="#000" textLength="106.92" lengthAdjust="spacingAndGlyphs">WT cell (</text>
<text transform="translate(41.8 1414.16) rotate(-90)" x="173.54" y="0" font-size="22.95" fill="#000" textLength="13.52" lengthAdjust="spacingAndGlyphs">×</text>
<text transform="translate(41.8 1414.16) rotate(-90)" x="194.62" y="0" font-size="27" fill="#000" textLength="30.29" lengthAdjust="spacingAndGlyphs">10</text>
<text transform="translate(41.8 1414.16) rotate(-90)" x="224.92" y="-12.15" font-size="16.74" fill="#000" textLength="9.39" lengthAdjust="spacingAndGlyphs">6</text>
<text transform="translate(41.8 1414.16) rotate(-90)" x="234.31" y="0" font-size="27" fill="#000" textLength="9.07" lengthAdjust="spacingAndGlyphs">)</text>
<text transform="translate(134.83 1463.17) rotate(-45)" x="0" y="0" font-size="24.6" fill="#000" textLength="13.68" lengthAdjust="spacingAndGlyphs">0</text>
<text transform="translate(98.52 1526.05) rotate(-45)" x="0" y="0" font-size="24.6" fill="#000" textLength="102.6" lengthAdjust="spacingAndGlyphs">0.000977</text>
<text transform="translate(125.09 1526.05) rotate(-45)" x="0" y="0" font-size="24.6" fill="#000" textLength="102.6" lengthAdjust="spacingAndGlyphs">0.001953</text>
<text transform="translate(151.66 1526.05) rotate(-45)" x="0" y="0" font-size="24.6" fill="#000" textLength="102.6" lengthAdjust="spacingAndGlyphs">0.003906</text>
<text transform="translate(178.23 1526.05) rotate(-45)" x="0" y="0" font-size="24.6" fill="#000" textLength="102.6" lengthAdjust="spacingAndGlyphs">0.007813</text>
<text transform="translate(204.8 1526.05) rotate(-45)" x="0" y="0" font-size="24.6" fill="#000" textLength="102.6" lengthAdjust="spacingAndGlyphs">0.015625</text>
<text transform="translate(241.04 1516.38) rotate(-45)" x="0" y="0" font-size="24.6" fill="#000" textLength="88.92" lengthAdjust="spacingAndGlyphs">0.03125</text>
<text transform="translate(277.29 1506.7) rotate(-45)" x="0" y="0" font-size="24.6" fill="#000" textLength="75.24" lengthAdjust="spacingAndGlyphs">0.0625</text>
<text transform="translate(313.53 1497.03) rotate(-45)" x="0" y="0" font-size="24.6" fill="#000" textLength="61.56" lengthAdjust="spacingAndGlyphs">0.125</text>
<text transform="translate(349.77 1487.36) rotate(-45)" x="0" y="0" font-size="24.6" fill="#000" textLength="47.88" lengthAdjust="spacingAndGlyphs">0.25</text>
<text transform="translate(386.02 1477.68) rotate(-45)" x="0" y="0" font-size="24.6" fill="#000" textLength="34.2" lengthAdjust="spacingAndGlyphs">0.5</text>
<text transform="translate(427.1 1463.17) rotate(-45)" x="0" y="0" font-size="24.6" fill="#000" textLength="13.68" lengthAdjust="spacingAndGlyphs">1</text>
<text transform="translate(453.67 1463.17) rotate(-45)" x="0" y="0" font-size="24.6" fill="#000" textLength="13.68" lengthAdjust="spacingAndGlyphs">2</text>
<text transform="translate(480.24 1463.17) rotate(-45)" x="0" y="0" font-size="24.6" fill="#000" textLength="13.68" lengthAdjust="spacingAndGlyphs">4</text>
<text transform="translate(506.81 1463.17) rotate(-45)" x="0" y="0" font-size="24.6" fill="#000" textLength="13.68" lengthAdjust="spacingAndGlyphs">8</text>
<text x="235.56" y="1568" font-size="26" fill="#000" textLength="40.43" lengthAdjust="spacingAndGlyphs">NH</text>
<text x="275.99" y="1575.8" font-size="18.2" fill="#000" textLength="10.9" lengthAdjust="spacingAndGlyphs">4</text>
<text x="286.88" y="1568" font-size="26" fill="#000" textLength="115.03" lengthAdjust="spacingAndGlyphs">OH (mM)</text>
<line x1="677.3" y1="1156.3" x2="677.3" y2="1429.6" stroke="#666" stroke-width="1.5" stroke-linecap="butt"/>
<line x1="671.8" y1="1156.9" x2="677.3" y2="1156.9" stroke="#2b2b2b" stroke-width="1.3" stroke-linecap="butt"/>
<text x="627.79" y="1164.98" font-size="23.5" fill="#000" textLength="32.67" lengthAdjust="spacingAndGlyphs">0.3</text>
<line x1="671.8" y1="1247.4" x2="677.3" y2="1247.4" stroke="#2b2b2b" stroke-width="1.3" stroke-linecap="butt"/>
<text x="627.91" y="1255.48" font-size="23.5" fill="#000" textLength="32.67" lengthAdjust="spacingAndGlyphs">0.2</text>
<line x1="671.8" y1="1338.5" x2="677.3" y2="1338.5" stroke="#2b2b2b" stroke-width="1.3" stroke-linecap="butt"/>
<text x="627.79" y="1346.58" font-size="23.5" fill="#000" textLength="32.67" lengthAdjust="spacingAndGlyphs">0.1</text>
<line x1="671.8" y1="1429" x2="677.3" y2="1429" stroke="#2b2b2b" stroke-width="1.3" stroke-linecap="butt"/>
<text x="647.3" y="1437.08" font-size="23.5" fill="#000" textLength="13.07" lengthAdjust="spacingAndGlyphs">0</text>
<line x1="672" y1="1429" x2="1086.8" y2="1429" stroke="#2b2b2b" stroke-width="1.3" stroke-linecap="butt"/>
<line x1="695.6" y1="1429" x2="695.6" y2="1434.3" stroke="#2b2b2b" stroke-width="1.3" stroke-linecap="butt"/>
<line x1="722.17" y1="1429" x2="722.17" y2="1434.3" stroke="#2b2b2b" stroke-width="1.3" stroke-linecap="butt"/>
<line x1="748.74" y1="1429" x2="748.74" y2="1434.3" stroke="#2b2b2b" stroke-width="1.3" stroke-linecap="butt"/>
<line x1="775.31" y1="1429" x2="775.31" y2="1434.3" stroke="#2b2b2b" stroke-width="1.3" stroke-linecap="butt"/>
<line x1="801.88" y1="1429" x2="801.88" y2="1434.3" stroke="#2b2b2b" stroke-width="1.3" stroke-linecap="butt"/>
<line x1="828.45" y1="1429" x2="828.45" y2="1434.3" stroke="#2b2b2b" stroke-width="1.3" stroke-linecap="butt"/>
<line x1="855.02" y1="1429" x2="855.02" y2="1434.3" stroke="#2b2b2b" stroke-width="1.3" stroke-linecap="butt"/>
<line x1="881.59" y1="1429" x2="881.59" y2="1434.3" stroke="#2b2b2b" stroke-width="1.3" stroke-linecap="butt"/>
<line x1="908.16" y1="1429" x2="908.16" y2="1434.3" stroke="#2b2b2b" stroke-width="1.3" stroke-linecap="butt"/>
<line x1="934.73" y1="1429" x2="934.73" y2="1434.3" stroke="#2b2b2b" stroke-width="1.3" stroke-linecap="butt"/>
<line x1="961.3" y1="1429" x2="961.3" y2="1434.3" stroke="#2b2b2b" stroke-width="1.3" stroke-linecap="butt"/>
<line x1="987.87" y1="1429" x2="987.87" y2="1434.3" stroke="#2b2b2b" stroke-width="1.3" stroke-linecap="butt"/>
<line x1="1014.44" y1="1429" x2="1014.44" y2="1434.3" stroke="#2b2b2b" stroke-width="1.3" stroke-linecap="butt"/>
<line x1="1041.01" y1="1429" x2="1041.01" y2="1434.3" stroke="#2b2b2b" stroke-width="1.3" stroke-linecap="butt"/>
<line x1="1067.58" y1="1429" x2="1067.58" y2="1434.3" stroke="#2b2b2b" stroke-width="1.3" stroke-linecap="butt"/>
<polyline points="695.6,1250.4 722.17,1257.9 748.74,1248.5 775.31,1258.4 801.88,1262.5 828.45,1247.7 855.02,1243.7 881.59,1261.9 908.16,1260.3 934.73,1288.5 961.3,1295.2 987.87,1316.7 1014.44,1339.5 1041.01,1354.6 1067.58,1398.9" fill="none" stroke="#FF0C0C" stroke-width="1.3" stroke-linejoin="miter"/>
<line x1="695.6" y1="1227.6" x2="695.6" y2="1273.2" stroke="#FF0C0C" stroke-width="1.3" stroke-linecap="butt"/><line x1="689.8" y1="1227.6" x2="701.4" y2="1227.6" stroke="#FF0C0C" stroke-width="1.3" stroke-linecap="butt"/><line x1="689.8" y1="1273.2" x2="701.4" y2="1273.2" stroke="#FF0C0C" stroke-width="1.3" stroke-linecap="butt"/>
<line x1="722.17" y1="1227.6" x2="722.17" y2="1288" stroke="#FF0C0C" stroke-width="1.3" stroke-linecap="butt"/><line x1="716.37" y1="1227.6" x2="727.97" y2="1227.6" stroke="#FF0C0C" stroke-width="1.3" stroke-linecap="butt"/><line x1="716.37" y1="1288" x2="727.97" y2="1288" stroke="#FF0C0C" stroke-width="1.3" stroke-linecap="butt"/>
<line x1="748.74" y1="1224.9" x2="748.74" y2="1272.4" stroke="#FF0C0C" stroke-width="1.3" stroke-linecap="butt"/><line x1="742.94" y1="1224.9" x2="754.54" y2="1224.9" stroke="#FF0C0C" stroke-width="1.3" stroke-linecap="butt"/><line x1="742.94" y1="1272.4" x2="754.54" y2="1272.4" stroke="#FF0C0C" stroke-width="1.3" stroke-linecap="butt"/>
<line x1="775.31" y1="1229.4" x2="775.31" y2="1288" stroke="#FF0C0C" stroke-width="1.3" stroke-linecap="butt"/><line x1="769.51" y1="1229.4" x2="781.11" y2="1229.4" stroke="#FF0C0C" stroke-width="1.3" stroke-linecap="butt"/><line x1="769.51" y1="1288" x2="781.11" y2="1288" stroke="#FF0C0C" stroke-width="1.3" stroke-linecap="butt"/>
<line x1="801.88" y1="1244.5" x2="801.88" y2="1280.5" stroke="#FF0C0C" stroke-width="1.3" stroke-linecap="butt"/><line x1="796.08" y1="1244.5" x2="807.68" y2="1244.5" stroke="#FF0C0C" stroke-width="1.3" stroke-linecap="butt"/><line x1="796.08" y1="1280.5" x2="807.68" y2="1280.5" stroke="#FF0C0C" stroke-width="1.3" stroke-linecap="butt"/>
<line x1="828.45" y1="1221.6" x2="828.45" y2="1274" stroke="#FF0C0C" stroke-width="1.3" stroke-linecap="butt"/><line x1="822.65" y1="1221.6" x2="834.25" y2="1221.6" stroke="#FF0C0C" stroke-width="1.3" stroke-linecap="butt"/><line x1="822.65" y1="1274" x2="834.25" y2="1274" stroke="#FF0C0C" stroke-width="1.3" stroke-linecap="butt"/>
<line x1="855.02" y1="1210.9" x2="855.02" y2="1276.4" stroke="#FF0C0C" stroke-width="1.3" stroke-linecap="butt"/><line x1="849.22" y1="1210.9" x2="860.82" y2="1210.9" stroke="#FF0C0C" stroke-width="1.3" stroke-linecap="butt"/><line x1="849.22" y1="1276.4" x2="860.82" y2="1276.4" stroke="#FF0C0C" stroke-width="1.3" stroke-linecap="butt"/>
<line x1="881.59" y1="1227" x2="881.59" y2="1296.8" stroke="#FF0C0C" stroke-width="1.3" stroke-linecap="butt"/><line x1="875.79" y1="1227" x2="887.39" y2="1227" stroke="#FF0C0C" stroke-width="1.3" stroke-linecap="butt"/><line x1="875.79" y1="1296.8" x2="887.39" y2="1296.8" stroke="#FF0C0C" stroke-width="1.3" stroke-linecap="butt"/>
<line x1="908.16" y1="1236.4" x2="908.16" y2="1284" stroke="#FF0C0C" stroke-width="1.3" stroke-linecap="butt"/><line x1="902.36" y1="1236.4" x2="913.96" y2="1236.4" stroke="#FF0C0C" stroke-width="1.3" stroke-linecap="butt"/><line x1="902.36" y1="1284" x2="913.96" y2="1284" stroke="#FF0C0C" stroke-width="1.3" stroke-linecap="butt"/>
<line x1="934.73" y1="1268.4" x2="934.73" y2="1308.1" stroke="#FF0C0C" stroke-width="1.3" stroke-linecap="butt"/><line x1="928.93" y1="1268.4" x2="940.53" y2="1268.4" stroke="#FF0C0C" stroke-width="1.3" stroke-linecap="butt"/><line x1="928.93" y1="1308.1" x2="940.53" y2="1308.1" stroke="#FF0C0C" stroke-width="1.3" stroke-linecap="butt"/>
<line x1="961.3" y1="1270.5" x2="961.3" y2="1318.9" stroke="#FF0C0C" stroke-width="1.3" stroke-linecap="butt"/><line x1="955.5" y1="1270.5" x2="967.1" y2="1270.5" stroke="#FF0C0C" stroke-width="1.3" stroke-linecap="butt"/><line x1="955.5" y1="1318.9" x2="967.1" y2="1318.9" stroke="#FF0C0C" stroke-width="1.3" stroke-linecap="butt"/>
<line x1="987.87" y1="1281.8" x2="987.87" y2="1352.4" stroke="#FF0C0C" stroke-width="1.3" stroke-linecap="butt"/><line x1="982.07" y1="1281.8" x2="993.67" y2="1281.8" stroke="#FF0C0C" stroke-width="1.3" stroke-linecap="butt"/><line x1="982.07" y1="1352.4" x2="993.67" y2="1352.4" stroke="#FF0C0C" stroke-width="1.3" stroke-linecap="butt"/>
<line x1="1014.44" y1="1321.5" x2="1014.44" y2="1357.8" stroke="#FF0C0C" stroke-width="1.3" stroke-linecap="butt"/><line x1="1008.64" y1="1321.5" x2="1020.24" y2="1321.5" stroke="#FF0C0C" stroke-width="1.3" stroke-linecap="butt"/><line x1="1008.64" y1="1357.8" x2="1020.24" y2="1357.8" stroke="#FF0C0C" stroke-width="1.3" stroke-linecap="butt"/>
<line x1="1041.01" y1="1332.3" x2="1041.01" y2="1377.1" stroke="#FF0C0C" stroke-width="1.3" stroke-linecap="butt"/><line x1="1035.21" y1="1332.3" x2="1046.81" y2="1332.3" stroke="#FF0C0C" stroke-width="1.3" stroke-linecap="butt"/><line x1="1035.21" y1="1377.1" x2="1046.81" y2="1377.1" stroke="#FF0C0C" stroke-width="1.3" stroke-linecap="butt"/>
<line x1="1067.58" y1="1385.4" x2="1067.58" y2="1412.3" stroke="#FF0C0C" stroke-width="1.3" stroke-linecap="butt"/><line x1="1061.78" y1="1385.4" x2="1073.38" y2="1385.4" stroke="#FF0C0C" stroke-width="1.3" stroke-linecap="butt"/><line x1="1061.78" y1="1412.3" x2="1073.38" y2="1412.3" stroke="#FF0C0C" stroke-width="1.3" stroke-linecap="butt"/>
<circle cx="695.6" cy="1250.4" r="4.9" fill="#fff" stroke="#FF0C0C" stroke-width="1.3"/>
<circle cx="722.17" cy="1257.9" r="4.9" fill="#fff" stroke="#FF0C0C" stroke-width="1.3"/>
<circle cx="748.74" cy="1248.5" r="4.9" fill="#fff" stroke="#FF0C0C" stroke-width="1.3"/>
<circle cx="775.31" cy="1258.4" r="4.9" fill="#fff" stroke="#FF0C0C" stroke-width="1.3"/>
<circle cx="801.88" cy="1262.5" r="4.9" fill="#fff" stroke="#FF0C0C" stroke-width="1.3"/>
<circle cx="828.45" cy="1247.7" r="4.9" fill="#fff" stroke="#FF0C0C" stroke-width="1.3"/>
<circle cx="855.02" cy="1243.7" r="4.9" fill="#fff" stroke="#FF0C0C" stroke-width="1.3"/>
<circle cx="881.59" cy="1261.9" r="4.9" fill="#fff" stroke="#FF0C0C" stroke-width="1.3"/>
<circle cx="908.16" cy="1260.3" r="4.9" fill="#fff" stroke="#FF0C0C" stroke-width="1.3"/>
<circle cx="934.73" cy="1288.5" r="4.9" fill="#fff" stroke="#FF0C0C" stroke-width="1.3"/>
<circle cx="961.3" cy="1295.2" r="4.9" fill="#fff" stroke="#FF0C0C" stroke-width="1.3"/>
<circle cx="987.87" cy="1316.7" r="4.9" fill="#fff" stroke="#FF0C0C" stroke-width="1.3"/>
<circle cx="1014.44" cy="1339.5" r="4.9" fill="#fff" stroke="#FF0C0C" stroke-width="1.3"/>
<circle cx="1041.01" cy="1354.6" r="4.9" fill="#fff" stroke="#FF0C0C" stroke-width="1.3"/>
<circle cx="1067.58" cy="1398.9" r="4.9" fill="#fff" stroke="#FF0C0C" stroke-width="1.3"/>
<text x="914.05" y="1308.1" font-size="30" fill="#000" textLength="11.73" lengthAdjust="spacingAndGlyphs">*</text>
<text x="974.36" y="1308.1" font-size="30" fill="#000" textLength="28" lengthAdjust="spacingAndGlyphs">**</text>
<text x="1002.56" y="1334.2" font-size="30" fill="#000" textLength="56.33" lengthAdjust="spacingAndGlyphs">****</text>
<text x="949.36" y="1355.7" font-size="30" fill="#000" textLength="55.81" lengthAdjust="spacingAndGlyphs">****</text>
<text x="968.16" y="1376.3" font-size="30" fill="#000" textLength="55.81" lengthAdjust="spacingAndGlyphs">****</text>
<text x="999.06" y="1415.3" font-size="30" fill="#000" textLength="56.33" lengthAdjust="spacingAndGlyphs">****</text>
<text transform="translate(609.8 1412.87) rotate(-90)" x="0" y="0" font-size="27" font-style="italic" fill="#000" textLength="59.34" lengthAdjust="spacingAndGlyphs">Got1</text>
<text transform="translate(609.8 1412.87) rotate(-90)" x="66.95" y="0" font-size="27" fill="#000" textLength="104.95" lengthAdjust="spacingAndGlyphs">KO cell (</text>
<text transform="translate(609.8 1412.87) rotate(-90)" x="171.9" y="0" font-size="22.95" fill="#000" textLength="13.59" lengthAdjust="spacingAndGlyphs">×</text>
<text transform="translate(609.8 1412.87) rotate(-90)" x="193.09" y="0" font-size="27" fill="#000" textLength="30.45" lengthAdjust="spacingAndGlyphs">10</text>
<text transform="translate(609.8 1412.87) rotate(-90)" x="223.54" y="-12.15" font-size="16.74" fill="#000" textLength="9.44" lengthAdjust="spacingAndGlyphs">6</text>
<text transform="translate(609.8 1412.87) rotate(-90)" x="232.98" y="0" font-size="27" fill="#000" textLength="9.12" lengthAdjust="spacingAndGlyphs">)</text>
<text transform="translate(698.33 1463.17) rotate(-45)" x="0" y="0" font-size="24.6" fill="#000" textLength="13.68" lengthAdjust="spacingAndGlyphs">0</text>
<text transform="translate(662.02 1526.05) rotate(-45)" x="0" y="0" font-size="24.6" fill="#000" textLength="102.6" lengthAdjust="spacingAndGlyphs">0.000977</text>
<text transform="translate(688.59 1526.05) rotate(-45)" x="0" y="0" font-size="24.6" fill="#000" textLength="102.6" lengthAdjust="spacingAndGlyphs">0.001953</text>
<text transform="translate(715.16 1526.05) rotate(-45)" x="0" y="0" font-size="24.6" fill="#000" textLength="102.6" lengthAdjust="spacingAndGlyphs">0.003906</text>
<text transform="translate(741.73 1526.05) rotate(-45)" x="0" y="0" font-size="24.6" fill="#000" textLength="102.6" lengthAdjust="spacingAndGlyphs">0.007813</text>
<text transform="translate(768.3 1526.05) rotate(-45)" x="0" y="0" font-size="24.6" fill="#000" textLength="102.6" lengthAdjust="spacingAndGlyphs">0.015625</text>
<text transform="translate(804.54 1516.38) rotate(-45)" x="0" y="0" font-size="24.6" fill="#000" textLength="88.92" lengthAdjust="spacingAndGlyphs">0.03125</text>
<text transform="translate(840.79 1506.7) rotate(-45)" x="0" y="0" font-size="24.6" fill="#000" textLength="75.24" lengthAdjust="spacingAndGlyphs">0.0625</text>
<text transform="translate(877.03 1497.03) rotate(-45)" x="0" y="0" font-size="24.6" fill="#000" textLength="61.56" lengthAdjust="spacingAndGlyphs">0.125</text>
<text transform="translate(913.27 1487.36) rotate(-45)" x="0" y="0" font-size="24.6" fill="#000" textLength="47.88" lengthAdjust="spacingAndGlyphs">0.25</text>
<text transform="translate(949.52 1477.68) rotate(-45)" x="0" y="0" font-size="24.6" fill="#000" textLength="34.2" lengthAdjust="spacingAndGlyphs">0.5</text>
<text transform="translate(990.6 1463.17) rotate(-45)" x="0" y="0" font-size="24.6" fill="#000" textLength="13.68" lengthAdjust="spacingAndGlyphs">1</text>
<text transform="translate(1017.17 1463.17) rotate(-45)" x="0" y="0" font-size="24.6" fill="#000" textLength="13.68" lengthAdjust="spacingAndGlyphs">2</text>
<text transform="translate(1043.74 1463.17) rotate(-45)" x="0" y="0" font-size="24.6" fill="#000" textLength="13.68" lengthAdjust="spacingAndGlyphs">4</text>
<text transform="translate(1070.31 1463.17) rotate(-45)" x="0" y="0" font-size="24.6" fill="#000" textLength="13.68" lengthAdjust="spacingAndGlyphs">8</text>
<text x="798.86" y="1568" font-size="26" fill="#000" textLength="40.43" lengthAdjust="spacingAndGlyphs">NH</text>
<text x="839.29" y="1575.8" font-size="18.2" fill="#000" textLength="10.9" lengthAdjust="spacingAndGlyphs">4</text>
<text x="850.18" y="1568" font-size="26" fill="#000" textLength="115.03" lengthAdjust="spacingAndGlyphs">OH (mM)</text>
<line x1="1249.5" y1="1143.7" x2="1249.5" y2="1434.7" stroke="#2b2b2b" stroke-width="1.3" stroke-linecap="butt"/>
<line x1="1244" y1="1144.3" x2="1249.5" y2="1144.3" stroke="#2b2b2b" stroke-width="1.3" stroke-linecap="butt"/>
<text x="1197.99" y="1152.38" font-size="23.5" fill="#000" textLength="32.67" lengthAdjust="spacingAndGlyphs">0.3</text>
<line x1="1244" y1="1240.9" x2="1249.5" y2="1240.9" stroke="#2b2b2b" stroke-width="1.3" stroke-linecap="butt"/>
<text x="1198.11" y="1248.98" font-size="23.5" fill="#000" textLength="32.67" lengthAdjust="spacingAndGlyphs">0.2</text>
<line x1="1244" y1="1337.5" x2="1249.5" y2="1337.5" stroke="#2b2b2b" stroke-width="1.3" stroke-linecap="butt"/>
<text x="1197.99" y="1345.58" font-size="23.5" fill="#000" textLength="32.67" lengthAdjust="spacingAndGlyphs">0.1</text>
<line x1="1244" y1="1434.1" x2="1249.5" y2="1434.1" stroke="#2b2b2b" stroke-width="1.3" stroke-linecap="butt"/>
<text x="1217.5" y="1442.18" font-size="23.5" fill="#000" textLength="13.07" lengthAdjust="spacingAndGlyphs">0</text>
<line x1="1243.3" y1="1434.1" x2="1513.5" y2="1434.1" stroke="#2b2b2b" stroke-width="1.3" stroke-linecap="butt"/>
<line x1="1301.8" y1="1434.1" x2="1301.8" y2="1439.8" stroke="#2b2b2b" stroke-width="1.3" stroke-linecap="butt"/>
<text x="1295.28" y="1469.7" font-size="23.5" fill="#000" textLength="13.07" lengthAdjust="spacingAndGlyphs">0</text>
<line x1="1381" y1="1434.1" x2="1381" y2="1439.8" stroke="#2b2b2b" stroke-width="1.3" stroke-linecap="butt"/>
<text x="1367.72" y="1469.7" font-size="23.5" fill="#000" textLength="26.14" lengthAdjust="spacingAndGlyphs">24</text>
<line x1="1460.4" y1="1434.1" x2="1460.4" y2="1439.8" stroke="#2b2b2b" stroke-width="1.3" stroke-linecap="butt"/>
<text x="1447.53" y="1469.7" font-size="23.5" fill="#000" textLength="26.14" lengthAdjust="spacingAndGlyphs">48</text>
<line x1="1381" y1="1190.1" x2="1381" y2="1212" stroke="#000" stroke-width="1.3" stroke-linecap="butt"/><line x1="1375.2" y1="1190.1" x2="1386.8" y2="1190.1" stroke="#000" stroke-width="1.3" stroke-linecap="butt"/><line x1="1375.2" y1="1212" x2="1386.8" y2="1212" stroke="#000" stroke-width="1.3" stroke-linecap="butt"/>
<line x1="1460.4" y1="1212" x2="1460.4" y2="1250" stroke="#000" stroke-width="1.3" stroke-linecap="butt"/><line x1="1454.6" y1="1212" x2="1466.2" y2="1212" stroke="#000" stroke-width="1.3" stroke-linecap="butt"/><line x1="1454.6" y1="1250" x2="1466.2" y2="1250" stroke="#000" stroke-width="1.3" stroke-linecap="butt"/>
<line x1="1381" y1="1200" x2="1381" y2="1227" stroke="#000" stroke-width="1.3" stroke-linecap="butt"/><line x1="1375.2" y1="1200" x2="1386.8" y2="1200" stroke="#000" stroke-width="1.3" stroke-linecap="butt"/><line x1="1375.2" y1="1227" x2="1386.8" y2="1227" stroke="#000" stroke-width="1.3" stroke-linecap="butt"/>
<line x1="1460.4" y1="1235" x2="1460.4" y2="1267.3" stroke="#000" stroke-width="1.3" stroke-linecap="butt"/><line x1="1454.6" y1="1235" x2="1466.2" y2="1235" stroke="#000" stroke-width="1.3" stroke-linecap="butt"/><line x1="1454.6" y1="1267.3" x2="1466.2" y2="1267.3" stroke="#000" stroke-width="1.3" stroke-linecap="butt"/>
<polyline points="1301.8,1193.4 1381,1209.5 1460.4,1250.1" fill="none" stroke="#000" stroke-width="1.3" stroke-linejoin="miter"/>
<polyline points="1301.8,1193.4 1381,1201.6 1460.4,1238.2" fill="none" stroke="#000" stroke-width="1.3" stroke-linejoin="miter"/>
<circle cx="1301.8" cy="1193.4" r="5.4" fill="#000" stroke="#000" stroke-width="1.3"/>
<circle cx="1381" cy="1209.5" r="5.4" fill="#000" stroke="#000" stroke-width="1.3"/>
<circle cx="1460.4" cy="1250.1" r="5.4" fill="#000" stroke="#000" stroke-width="1.3"/>
<circle cx="1301.8" cy="1193.4" r="5.4" fill="#fff" stroke="#000" stroke-width="1.3"/>
<circle cx="1381" cy="1201.6" r="5.4" fill="#fff" stroke="#000" stroke-width="1.3"/>
<circle cx="1460.4" cy="1238.2" r="5.4" fill="#fff" stroke="#000" stroke-width="1.3"/>
<line x1="1255.5" y1="1136.1" x2="1274" y2="1136.1" stroke="#000" stroke-width="1.3" stroke-linecap="butt"/>
<circle cx="1264.5" cy="1136.1" r="5.4" fill="#fff" stroke="#000" stroke-width="1.3"/>
<line x1="1255.5" y1="1162.2" x2="1274" y2="1162.2" stroke="#000" stroke-width="1.3" stroke-linecap="butt"/>
<circle cx="1264.5" cy="1162.2" r="5.4" fill="#000" stroke="#000" stroke-width="1.3"/>
<text x="1287.13" y="1144.8" font-size="23.5" fill="#000" textLength="166.58" lengthAdjust="spacingAndGlyphs">0 mM ammonia</text>
<text x="1285.13" y="1171" font-size="23.5" fill="#000" textLength="162.38" lengthAdjust="spacingAndGlyphs">1 mM ammonia</text>
<text transform="translate(1175.9 1411.36) rotate(-90)" x="0" y="0" font-size="27" font-style="italic" fill="#000" textLength="59.05" lengthAdjust="spacingAndGlyphs">Got1</text>
<text transform="translate(1175.9 1411.36) rotate(-90)" x="66.61" y="0" font-size="27" fill="#000" textLength="106.92" lengthAdjust="spacingAndGlyphs">WT cell (</text>
<text transform="translate(1175.9 1411.36) rotate(-90)" x="173.54" y="0" font-size="22.95" fill="#000" textLength="13.52" lengthAdjust="spacingAndGlyphs">×</text>
<text transform="translate(1175.9 1411.36) rotate(-90)" x="194.62" y="0" font-size="27" fill="#000" textLength="30.29" lengthAdjust="spacingAndGlyphs">10</text>
<text transform="translate(1175.9 1411.36) rotate(-90)" x="224.92" y="-12.15" font-size="16.74" fill="#000" textLength="9.39" lengthAdjust="spacingAndGlyphs">6</text>
<text transform="translate(1175.9 1411.36) rotate(-90)" x="234.31" y="0" font-size="27" fill="#000" textLength="9.07" lengthAdjust="spacingAndGlyphs">)</text>
<text x="1267.64" y="1509.5" font-size="27" fill="#000" textLength="174.75" lengthAdjust="spacingAndGlyphs">Time after NH</text>
<text x="1442.39" y="1517.6" font-size="18.9" fill="#000" textLength="11" lengthAdjust="spacingAndGlyphs">4</text>
<text x="1453.39" y="1509.5" font-size="27" fill="#000" textLength="42.37" lengthAdjust="spacingAndGlyphs">OH</text>
<text x="1298.86" y="1541.9" font-size="27" fill="#000" textLength="166.6" lengthAdjust="spacingAndGlyphs">treatment (h)</text>
<text x="1364.82" y="1249.4" font-size="26.5" fill="#000" textLength="37.93" lengthAdjust="spacingAndGlyphs">NS</text>
<text x="1442.87" y="1291.2" font-size="26.5" fill="#000" textLength="37.04" lengthAdjust="spacingAndGlyphs">NS</text>
<line x1="1685.7" y1="1145.5" x2="1685.7" y2="1434.7" stroke="#2b2b2b" stroke-width="1.3" stroke-linecap="butt"/>
<line x1="1680.2" y1="1146.1" x2="1685.7" y2="1146.1" stroke="#2b2b2b" stroke-width="1.3" stroke-linecap="butt"/>
<text x="1635.49" y="1154.18" font-size="23.5" fill="#000" textLength="32.67" lengthAdjust="spacingAndGlyphs">0.3</text>
<line x1="1680.2" y1="1242.4" x2="1685.7" y2="1242.4" stroke="#2b2b2b" stroke-width="1.3" stroke-linecap="butt"/>
<text x="1635.61" y="1250.48" font-size="23.5" fill="#000" textLength="32.67" lengthAdjust="spacingAndGlyphs">0.2</text>
<line x1="1680.2" y1="1338.3" x2="1685.7" y2="1338.3" stroke="#2b2b2b" stroke-width="1.3" stroke-linecap="butt"/>
<text x="1635.49" y="1346.38" font-size="23.5" fill="#000" textLength="32.67" lengthAdjust="spacingAndGlyphs">0.1</text>
<line x1="1680.2" y1="1434.1" x2="1685.7" y2="1434.1" stroke="#2b2b2b" stroke-width="1.3" stroke-linecap="butt"/>
<text x="1655" y="1442.18" font-size="23.5" fill="#000" textLength="13.07" lengthAdjust="spacingAndGlyphs">0</text>
<line x1="1679.5" y1="1434.1" x2="1949.7" y2="1434.1" stroke="#2b2b2b" stroke-width="1.3" stroke-linecap="butt"/>
<line x1="1737.5" y1="1434.1" x2="1737.5" y2="1439.8" stroke="#2b2b2b" stroke-width="1.3" stroke-linecap="butt"/>
<text x="1730.98" y="1469.7" font-size="23.5" fill="#000" textLength="13.07" lengthAdjust="spacingAndGlyphs">0</text>
<line x1="1816.4" y1="1434.1" x2="1816.4" y2="1439.8" stroke="#2b2b2b" stroke-width="1.3" stroke-linecap="butt"/>
<text x="1803.12" y="1469.7" font-size="23.5" fill="#000" textLength="26.14" lengthAdjust="spacingAndGlyphs">24</text>
<line x1="1895.4" y1="1434.1" x2="1895.4" y2="1439.8" stroke="#2b2b2b" stroke-width="1.3" stroke-linecap="butt"/>
<text x="1882.53" y="1469.7" font-size="23.5" fill="#000" textLength="26.14" lengthAdjust="spacingAndGlyphs">48</text>
<line x1="1816.4" y1="1180.9" x2="1816.4" y2="1212.5" stroke="#FF0C0C" stroke-width="1.3" stroke-linecap="butt"/><line x1="1810.6" y1="1180.9" x2="1822.2" y2="1180.9" stroke="#FF0C0C" stroke-width="1.3" stroke-linecap="butt"/><line x1="1810.6" y1="1212.5" x2="1822.2" y2="1212.5" stroke="#FF0C0C" stroke-width="1.3" stroke-linecap="butt"/>
<line x1="1895.4" y1="1220.7" x2="1895.4" y2="1247.4" stroke="#FF0C0C" stroke-width="1.3" stroke-linecap="butt"/><line x1="1889.6" y1="1220.7" x2="1901.2" y2="1220.7" stroke="#FF0C0C" stroke-width="1.3" stroke-linecap="butt"/><line x1="1889.6" y1="1247.4" x2="1901.2" y2="1247.4" stroke="#FF0C0C" stroke-width="1.3" stroke-linecap="butt"/>
<line x1="1816.4" y1="1216.5" x2="1816.4" y2="1263.1" stroke="#FF0C0C" stroke-width="1.3" stroke-linecap="butt"/><line x1="1810.6" y1="1216.5" x2="1822.2" y2="1216.5" stroke="#FF0C0C" stroke-width="1.3" stroke-linecap="butt"/><line x1="1810.6" y1="1263.1" x2="1822.2" y2="1263.1" stroke="#FF0C0C" stroke-width="1.3" stroke-linecap="butt"/>
<line x1="1895.4" y1="1274.3" x2="1895.4" y2="1343.5" stroke="#FF0C0C" stroke-width="1.3" stroke-linecap="butt"/><line x1="1889.6" y1="1274.3" x2="1901.2" y2="1274.3" stroke="#FF0C0C" stroke-width="1.3" stroke-linecap="butt"/><line x1="1889.6" y1="1343.5" x2="1901.2" y2="1343.5" stroke="#FF0C0C" stroke-width="1.3" stroke-linecap="butt"/>
<polyline points="1737.5,1194.6 1816.4,1237.4 1895.4,1309.1" fill="none" stroke="#FF0C0C" stroke-width="1.3" stroke-linejoin="miter"/>
<polyline points="1737.5,1194.6 1816.4,1198.8 1895.4,1233.9" fill="none" stroke="#FF0C0C" stroke-width="1.3" stroke-linejoin="miter"/>
<circle cx="1737.5" cy="1194.6" r="5.4" fill="#FF0C0C" stroke="#FF0C0C" stroke-width="1.3"/>
<circle cx="1816.4" cy="1237.4" r="5.4" fill="#FF0C0C" stroke="#FF0C0C" stroke-width="1.3"/>
<circle cx="1895.4" cy="1309.1" r="5.4" fill="#FF0C0C" stroke="#FF0C0C" stroke-width="1.3"/>
<circle cx="1737.5" cy="1194.6" r="5.4" fill="#fff" stroke="#FF0C0C" stroke-width="1.3"/>
<circle cx="1816.4" cy="1198.8" r="5.4" fill="#fff" stroke="#FF0C0C" stroke-width="1.3"/>
<circle cx="1895.4" cy="1233.9" r="5.4" fill="#fff" stroke="#FF0C0C" stroke-width="1.3"/>
<line x1="1691.7" y1="1142.3" x2="1710.2" y2="1142.3" stroke="#FF0C0C" stroke-width="1.3" stroke-linecap="butt"/>
<circle cx="1700.7" cy="1142.3" r="5.4" fill="#fff" stroke="#FF0C0C" stroke-width="1.3"/>
<line x1="1691.7" y1="1168.5" x2="1710.2" y2="1168.5" stroke="#FF0C0C" stroke-width="1.3" stroke-linecap="butt"/>
<circle cx="1700.7" cy="1168.5" r="5.4" fill="#FF0C0C" stroke="#FF0C0C" stroke-width="1.3"/>
<text x="1722.03" y="1151" font-size="23.5" fill="#000" textLength="167.89" lengthAdjust="spacingAndGlyphs">0 mM ammonia</text>
<text x="1720.02" y="1177.2" font-size="23.5" fill="#000" textLength="163.6" lengthAdjust="spacingAndGlyphs">1 mM ammonia</text>
<text transform="translate(1612.1 1410.06) rotate(-90)" x="0" y="0" font-size="27" font-style="italic" fill="#000" textLength="59.02" lengthAdjust="spacingAndGlyphs">Got1</text>
<text transform="translate(1612.1 1410.06) rotate(-90)" x="66.59" y="0" font-size="27" fill="#000" textLength="104.38" lengthAdjust="spacingAndGlyphs">KO cell (</text>
<text transform="translate(1612.1 1410.06) rotate(-90)" x="170.96" y="0" font-size="22.95" fill="#000" textLength="13.51" lengthAdjust="spacingAndGlyphs">×</text>
<text transform="translate(1612.1 1410.06) rotate(-90)" x="192.04" y="0" font-size="27" fill="#000" textLength="30.28" lengthAdjust="spacingAndGlyphs">10</text>
<text transform="translate(1612.1 1410.06) rotate(-90)" x="222.32" y="-12.15" font-size="16.74" fill="#000" textLength="9.39" lengthAdjust="spacingAndGlyphs">6</text>
<text transform="translate(1612.1 1410.06) rotate(-90)" x="231.71" y="0" font-size="27" fill="#000" textLength="9.07" lengthAdjust="spacingAndGlyphs">)</text>
<text x="1702.64" y="1516.2" font-size="27" fill="#000" textLength="174.75" lengthAdjust="spacingAndGlyphs">Time after NH</text>
<text x="1877.39" y="1524.3" font-size="18.9" fill="#000" textLength="11" lengthAdjust="spacingAndGlyphs">4</text>
<text x="1888.39" y="1516.2" font-size="27" fill="#000" textLength="42.37" lengthAdjust="spacingAndGlyphs">OH</text>
<text x="1733.86" y="1548.3" font-size="27" fill="#000" textLength="166.6" lengthAdjust="spacingAndGlyphs">treatment (h)</text>
<text x="1794.76" y="1296.2" font-size="30" fill="#000" textLength="41.76" lengthAdjust="spacingAndGlyphs">***</text>
<text x="1867.65" y="1380.9" font-size="30" fill="#000" textLength="56.63" lengthAdjust="spacingAndGlyphs">****</text>
<text x="224.16" y="1772.6" font-size="16.5" fill="#000" textLength="18.33" lengthAdjust="spacingAndGlyphs">15</text>
<text x="242.37" y="1786.2" font-size="27.5" fill="#000" textLength="42.09" lengthAdjust="spacingAndGlyphs">NH</text>
<text x="283.61" y="1793.6" font-size="16.5" fill="#000" textLength="11.01" lengthAdjust="spacingAndGlyphs">4</text>
<text x="294.67" y="1786.2" font-size="27.5" fill="#000" textLength="117.57" lengthAdjust="spacingAndGlyphs">Cl + 2-KG</text>
<text x="514.39" y="1736" font-size="27.5" fill="#000" textLength="50.11" lengthAdjust="spacingAndGlyphs">HCl</text>
<text x="593.1" y="1771.1" font-size="16.5" fill="#000" textLength="19.34" lengthAdjust="spacingAndGlyphs">15</text>
<text x="612.06" y="1784.7" font-size="27.5" fill="#000" textLength="159.1" lengthAdjust="spacingAndGlyphs">N-glutamate</text>
<line x1="426.7" y1="1766.2" x2="575.9" y2="1766.2" stroke="#44546A" stroke-width="1.5" stroke-linecap="butt"/><polygon points="582.8,1766.2 572.8,1770.6 575.4,1766.2 572.8,1761.8" fill="#44546A"/>
<line x1="580.4" y1="1780.2" x2="430.6" y2="1780.2" stroke="#44546A" stroke-width="1.5" stroke-linecap="butt"/><polygon points="423.7,1780.2 433.7,1775.8 431.1,1780.2 433.7,1784.6" fill="#44546A"/>
<line x1="449.1" y1="1766.2" x2="506.45" y2="1737.12" stroke="#44546A" stroke-width="1.5" stroke-linecap="butt"/><polygon points="512.6,1734 505.67,1742.45 506,1737.35 501.69,1734.6" fill="#44546A"/>
<line x1="1232.3" y1="1673.1" x2="1232.3" y2="1944.9" stroke="#2b2b2b" stroke-width="1.3" stroke-linecap="butt"/>
<line x1="1224" y1="1673.7" x2="1232.3" y2="1673.7" stroke="#2b2b2b" stroke-width="1.3" stroke-linecap="butt"/>
<line x1="1224" y1="1808.6" x2="1232.3" y2="1808.6" stroke="#2b2b2b" stroke-width="1.3" stroke-linecap="butt"/>
<line x1="1224" y1="1944.3" x2="1232.3" y2="1944.3" stroke="#2b2b2b" stroke-width="1.3" stroke-linecap="butt"/>
<text x="1181.98" y="1682.4" font-size="23.5" fill="#000" textLength="30.28" lengthAdjust="spacingAndGlyphs">90</text>
<text x="1183.66" y="1817.3" font-size="23.5" fill="#000" textLength="28.53" lengthAdjust="spacingAndGlyphs">45</text>
<text x="1196.9" y="1953" font-size="23.5" fill="#000" textLength="15.34" lengthAdjust="spacingAndGlyphs">0</text>
<line x1="1224" y1="1944.3" x2="1639.6" y2="1944.3" stroke="#2b2b2b" stroke-width="1.3" stroke-linecap="butt"/>
<line x1="1326.9" y1="1944.3" x2="1326.9" y2="1952.6" stroke="#2b2b2b" stroke-width="1.3" stroke-linecap="butt"/>
<line x1="1543.2" y1="1944.3" x2="1543.2" y2="1952.6" stroke="#2b2b2b" stroke-width="1.3" stroke-linecap="butt"/>
<path d="M1261.3 1944.3V1695.2H1311.4V1944.3" fill="none" stroke="#000" stroke-width="1.3"/>
<path d="M1342.4 1944.3V1744.4H1393.1V1944.3" fill="none" stroke="#FF0C0C" stroke-width="1.3"/>
<path d="M1477.5 1944.3V1896.6H1528.3V1944.3" fill="none" stroke="#000" stroke-width="1.3"/>
<path d="M1558.7 1944.3V1847.3H1609.7V1944.3" fill="none" stroke="#FF0C0C" stroke-width="1.3"/>
<line x1="1286.4" y1="1689.6" x2="1286.4" y2="1695.8" stroke="#555" stroke-width="1.3" stroke-linecap="butt"/><line x1="1276.4" y1="1689.6" x2="1296.4" y2="1689.6" stroke="#555" stroke-width="1.3" stroke-linecap="butt"/><line x1="1276.4" y1="1695.8" x2="1296.4" y2="1695.8" stroke="#555" stroke-width="1.3" stroke-linecap="butt"/>
<line x1="1367.7" y1="1735.5" x2="1367.7" y2="1750.4" stroke="#FF0C0C" stroke-width="1.3" stroke-linecap="butt"/><line x1="1357.7" y1="1735.5" x2="1377.7" y2="1735.5" stroke="#FF0C0C" stroke-width="1.3" stroke-linecap="butt"/><line x1="1357.7" y1="1750.4" x2="1377.7" y2="1750.4" stroke="#FF0C0C" stroke-width="1.3" stroke-linecap="butt"/>
<line x1="1502.9" y1="1891.5" x2="1502.9" y2="1898" stroke="#555" stroke-width="1.3" stroke-linecap="butt"/><line x1="1492.9" y1="1891.5" x2="1512.9" y2="1891.5" stroke="#555" stroke-width="1.3" stroke-linecap="butt"/><line x1="1492.9" y1="1898" x2="1512.9" y2="1898" stroke="#555" stroke-width="1.3" stroke-linecap="butt"/>
<line x1="1584.2" y1="1837.8" x2="1584.2" y2="1852.7" stroke="#FF0C0C" stroke-width="1.3" stroke-linecap="butt"/><line x1="1574.2" y1="1837.8" x2="1594.2" y2="1837.8" stroke="#FF0C0C" stroke-width="1.3" stroke-linecap="butt"/><line x1="1574.2" y1="1852.7" x2="1594.2" y2="1852.7" stroke="#FF0C0C" stroke-width="1.3" stroke-linecap="butt"/>
<circle cx="1264.8" cy="1695.2" r="4.8" fill="#fff" stroke="#000" stroke-width="1.2"/>
<circle cx="1286" cy="1689.2" r="4.8" fill="#fff" stroke="#000" stroke-width="1.2"/>
<circle cx="1308.1" cy="1695.2" r="4.8" fill="#fff" stroke="#000" stroke-width="1.2"/>
<circle cx="1367.2" cy="1734" r="4.8" fill="#fff" stroke="#000" stroke-width="1.2"/>
<circle cx="1356.7" cy="1746.5" r="4.8" fill="#fff" stroke="#000" stroke-width="1.2"/>
<circle cx="1377.6" cy="1746.5" r="4.8" fill="#fff" stroke="#000" stroke-width="1.2"/>
<circle cx="1481.1" cy="1899" r="4.8" fill="#fff" stroke="#000" stroke-width="1.2"/>
<circle cx="1502.9" cy="1892.7" r="4.8" fill="#fff" stroke="#000" stroke-width="1.2"/>
<circle cx="1524.4" cy="1893" r="4.8" fill="#fff" stroke="#000" stroke-width="1.2"/>
<circle cx="1573.6" cy="1840.8" r="4.8" fill="#fff" stroke="#000" stroke-width="1.2"/>
<circle cx="1594.5" cy="1840.8" r="4.8" fill="#fff" stroke="#000" stroke-width="1.2"/>
<circle cx="1583.5" cy="1852.7" r="4.8" fill="#fff" stroke="#000" stroke-width="1.2"/>
<polyline points="1285,1677.1 1285,1657.3 1367.8,1657.3 1367.8,1726.5" fill="none" stroke="#000" stroke-width="3.3" stroke-linejoin="miter"/>
<polyline points="1499.9,1869.7 1499.9,1792.7 1584,1792.7 1584,1819.9" fill="none" stroke="#000" stroke-width="3.3" stroke-linejoin="miter"/>
<text x="1293.95" y="1659.7" font-size="30" fill="#000" textLength="57.45" lengthAdjust="spacingAndGlyphs">****</text>
<text x="1514.25" y="1794.9" font-size="30" fill="#000" textLength="57.45" lengthAdjust="spacingAndGlyphs">****</text>
<rect x="1671.1" y="1636.9" width="25" height="26.3" fill="none" stroke="#333" stroke-width="1.3"/>
<rect x="1671.1" y="1691.5" width="25" height="25.9" fill="none" stroke="#FF0C0C" stroke-width="1.3"/>
<text x="1708.42" y="1662" font-size="27" fill="#000" textLength="81.85" lengthAdjust="spacingAndGlyphs">DMSO</text>
<text x="1708.18" y="1715.3" font-size="27" fill="#000" textLength="61.78" lengthAdjust="spacingAndGlyphs">2-KG</text>
<text x="1290.76" y="1985.5" font-size="27" fill="#000" textLength="71.54" lengthAdjust="spacingAndGlyphs">m + 0</text>
<text x="1511.76" y="1985.5" font-size="27" fill="#000" textLength="63.85" lengthAdjust="spacingAndGlyphs">m + 1</text>
<text transform="translate(1165.98 1926.96) rotate(-90)" x="0" y="0" font-size="27" fill="#000" textLength="236.6" lengthAdjust="spacingAndGlyphs">Tracer labeling (%)</text>
<text x="-0.33" y="32.7" font-size="39" font-weight="bold" fill="#000" textLength="21" lengthAdjust="spacingAndGlyphs">a</text>
<text x="632.82" y="33.6" font-size="39" font-weight="bold" fill="#000" textLength="28.91" lengthAdjust="spacingAndGlyphs">b</text>
<text x="883.64" y="33.3" font-size="39" font-weight="bold" fill="#000" textLength="24.54" lengthAdjust="spacingAndGlyphs">c</text>
<text x="1943.08" y="33.6" font-size="39" font-weight="bold" fill="#000" textLength="27.82" lengthAdjust="spacingAndGlyphs">d</text>
<text x="635.58" y="460.3" font-size="39" font-weight="bold" fill="#000" textLength="26.65" lengthAdjust="spacingAndGlyphs">e</text>
<text x="1426.71" y="460.8" font-size="39" font-weight="bold" fill="#000" textLength="15.4" lengthAdjust="spacingAndGlyphs">f</text>
<text x="-1.59" y="1127.8" font-size="39" font-weight="bold" fill="#000" textLength="28.91" lengthAdjust="spacingAndGlyphs">g</text>
<text x="1146.81" y="1128.6" font-size="39" font-weight="bold" fill="#000" textLength="27.87" lengthAdjust="spacingAndGlyphs">h</text>
<text x="244.53" y="1687" font-size="39" font-weight="bold" fill="#000" textLength="18.52" lengthAdjust="spacingAndGlyphs">i</text>
<text x="1143.09" y="1630.6" font-size="39" font-weight="bold" fill="#000" textLength="14.69" lengthAdjust="spacingAndGlyphs">j</text>
</svg>
</body></html>
